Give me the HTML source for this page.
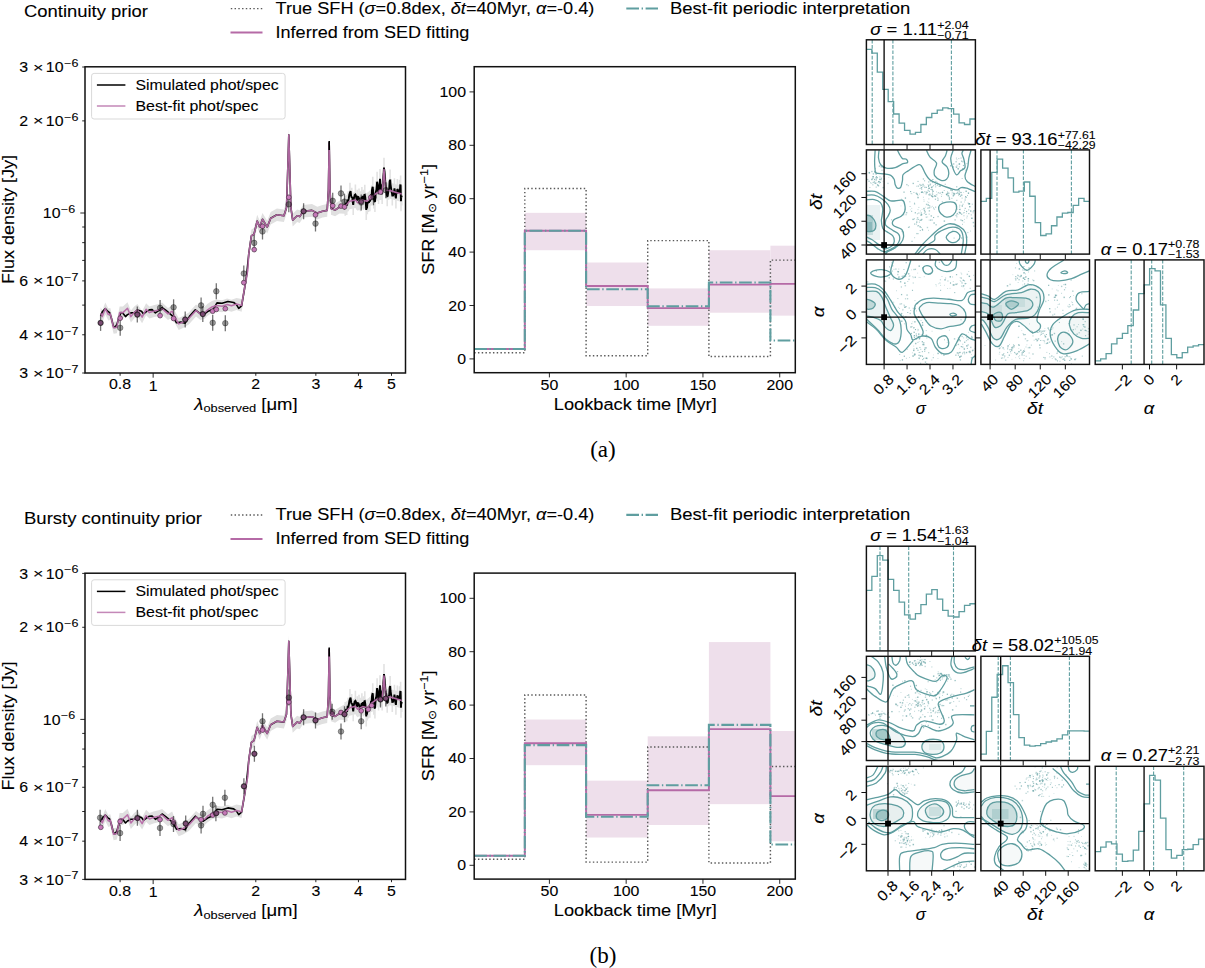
<!DOCTYPE html>
<html><head><meta charset="utf-8"><style>html,body{margin:0;padding:0;background:#fff;overflow:hidden}svg{display:block}</style></head><body>
<svg width="1205" height="968" viewBox="0 0 1205 968">
<defs>
<clipPath id="clip10"><rect x="866.4" y="149.9" width="109" height="104.2"/></clipPath>
<clipPath id="clip20"><rect x="866.4" y="259.9" width="109" height="104.5"/></clipPath>
<clipPath id="clip21"><rect x="980.9" y="259.9" width="108.6" height="104.5"/></clipPath>
<clipPath id="clipsed"><rect x="85" y="66.8" width="320.5" height="306.2"/></clipPath>
</defs>
<rect width="1205" height="968" fill="#fff"/>
<g transform="translate(0,0)">
<text x="24" y="17.4" text-anchor="start" fill="#000" stroke="#000" stroke-width="0.1" font-family="Liberation Sans" textLength="123.94" lengthAdjust="spacingAndGlyphs"><tspan font-size="16.52" dy="0">Continuity prior</tspan></text>
<line x1="230.8" y1="8.6" x2="262.5" y2="8.6" stroke="#5a5a5a" stroke-width="1.45" stroke-dasharray="1.45 2.3"/>
<text x="275.5" y="13.6" text-anchor="start" fill="#000" stroke="#000" stroke-width="0.1" font-family="Liberation Sans" textLength="318.86" lengthAdjust="spacingAndGlyphs"><tspan font-size="16.52" dy="0">True SFH (</tspan><tspan font-size="16.52" font-style="italic" dy="0">σ</tspan><tspan font-size="16.52" dy="0">=0.8dex, </tspan><tspan font-size="16.52" font-style="italic" dy="0">δt</tspan><tspan font-size="16.52" dy="0">=40Myr, </tspan><tspan font-size="16.52" font-style="italic" dy="0">α</tspan><tspan font-size="16.52" dy="0">=-0.4)</tspan></text>
<line x1="230.5" y1="32.5" x2="262.5" y2="32.5" stroke="#b56aa6" stroke-width="2" />
<text x="275.5" y="37.6" text-anchor="start" fill="#000" stroke="#000" stroke-width="0.1" font-family="Liberation Sans" textLength="193.81" lengthAdjust="spacingAndGlyphs"><tspan font-size="16.52" dy="0">Inferred from SED fitting</tspan></text>
<line x1="626.3" y1="8.5" x2="658" y2="8.5" stroke="#5f9ea0" stroke-width="2.1" stroke-dasharray="12.7 2.6 1.4 2.6"/>
<text x="670" y="13.6" text-anchor="start" fill="#000" stroke="#000" stroke-width="0.1" font-family="Liberation Sans" textLength="240.28" lengthAdjust="spacingAndGlyphs"><tspan font-size="16.52" dy="0">Best-fit periodic interpretation</tspan></text>
<g clip-path="url(#clipsed)">
<path d="M100.6 307.2 L102.3 310.6 L105.3 302.6 L108.3 308.6 L110.3 307.9 L113.6 321.8 L116.9 321.2 L119.6 306.6 L122.9 306.6 L127.5 302.3 L130.9 310.6 L134.2 306.6 L137.5 303.9 L142.1 311.2 L146.1 303.3 L149.4 306.6 L153.4 305.2 L158.7 303.9 L162.1 302.6 L168 307.9 L172.2 305.2 L173.6 308.8 L178.7 317.9 L183 316.1 L188.8 312.5 L196 304.5 L200.4 308.1 L204.7 306.7 L207.6 303.8 L212 300.9 L216.3 299.4 L222.1 300.2 L227.1 298.4 L231.5 299.8 L236.5 298 L241.6 299.1 L245.2 278.2 L247.8 263.7 L248.8 247.2 L251.4 229.6 L254 227.9 L257.2 214.7 L259.7 220.8 L262.5 212.9 L267.2 220.8 L270.7 212 L276.9 208.5 L283.9 209.4 L286.5 201.5 L287.9 158.7 L288.8 128.6 L289.7 158.7 L290.9 201.5 L292.7 213.8 L297.1 209.4 L299.7 210.3 L303.2 205 L312 204.1 L317.3 206.8 L322.5 205 L327.2 204.1 L328.4 183.7 L329.2 136.5 L330 183.7 L331 202.2 L335.1 203.7 L339.5 200.8 L345.3 197.7 L349.6 193.3 L355.4 191.9 L357.6 194.8 L362.6 192.2 L367 193.3 L371.3 189 L376.4 185.3 L380 183.9 L382.2 183.2 L383.2 172 L384 161.5 L384.8 172 L385.8 182.5 L390.1 182.5 L394.5 183.9 L401.7 186.1 L401.7 202.1 L394.5 199.9 L390.1 198.5 L385.8 198.5 L384.8 188 L384 177.5 L383.2 188 L382.2 199.2 L380 199.9 L376.4 201.3 L371.3 205 L367 209.3 L362.6 208.2 L357.6 210.8 L355.4 207.9 L349.6 209.3 L345.3 213.7 L339.5 213.4 L335.1 216.3 L331 214.8 L330 196.3 L329.2 149.1 L328.4 196.3 L327.2 216.7 L322.5 217.6 L317.3 219.4 L312 216.7 L303.2 217.6 L299.7 222.9 L297.1 222 L292.7 226.4 L290.9 214.1 L289.7 171.3 L288.8 141.2 L287.9 171.3 L286.5 214.1 L283.9 222 L276.9 221.1 L270.7 224.6 L267.2 233.4 L262.5 225.5 L259.7 233.4 L257.2 227.3 L254 240.5 L251.4 242.2 L248.8 259.8 L247.8 276.3 L245.2 290.8 L241.6 311.7 L236.5 310 L231.5 311.8 L227.1 310.4 L222.1 312.2 L216.3 311.4 L212 312.9 L207.6 315.8 L204.7 318.7 L200.4 320.1 L196 316.5 L188.8 324.5 L183 328.1 L178.7 329.9 L173.6 320.8 L172.2 317.2 L168 319.9 L162.1 314.6 L158.7 315.9 L153.4 317.2 L149.4 318.6 L146.1 315.3 L142.1 323.2 L137.5 315.9 L134.2 318.6 L130.9 322.6 L127.5 314.3 L122.9 318.6 L119.6 318.6 L116.9 333.2 L113.6 333.8 L110.3 319.9 L108.3 320.6 L105.3 314.6 L102.3 322.6 L100.6 319.2" stroke="none" stroke-width="0" fill="#e0e0e0" stroke-linejoin="round"/>
<line x1="345.26" y1="195.65" x2="345.26" y2="215.65" stroke="#e2e2e2" stroke-width="1.6" />
<line x1="346.71" y1="194.93" x2="346.71" y2="214.93" stroke="#e2e2e2" stroke-width="1.6" />
<line x1="348.15" y1="191.31" x2="348.15" y2="211.31" stroke="#e2e2e2" stroke-width="1.6" />
<line x1="349.96" y1="182.63" x2="349.96" y2="202.63" stroke="#e2e2e2" stroke-width="1.6" />
<line x1="351.77" y1="187.69" x2="351.77" y2="207.69" stroke="#e2e2e2" stroke-width="1.6" />
<line x1="353.22" y1="194.93" x2="353.22" y2="214.93" stroke="#e2e2e2" stroke-width="1.6" />
<line x1="355.39" y1="184.44" x2="355.39" y2="204.44" stroke="#e2e2e2" stroke-width="1.6" />
<line x1="357.2" y1="189.86" x2="357.2" y2="209.86" stroke="#e2e2e2" stroke-width="1.6" />
<line x1="359.01" y1="188.42" x2="359.01" y2="208.42" stroke="#e2e2e2" stroke-width="1.6" />
<line x1="360.46" y1="191.31" x2="360.46" y2="211.31" stroke="#e2e2e2" stroke-width="1.6" />
<line x1="361.9" y1="186.97" x2="361.9" y2="206.97" stroke="#e2e2e2" stroke-width="1.6" />
<line x1="363.35" y1="189.86" x2="363.35" y2="209.86" stroke="#e2e2e2" stroke-width="1.6" />
<line x1="364.8" y1="184.8" x2="364.8" y2="204.8" stroke="#e2e2e2" stroke-width="1.6" />
<line x1="366.24" y1="199.99" x2="366.24" y2="219.99" stroke="#e2e2e2" stroke-width="1.6" />
<line x1="367.33" y1="194.2" x2="367.33" y2="214.2" stroke="#e2e2e2" stroke-width="1.6" />
<line x1="368.42" y1="192.03" x2="368.42" y2="212.03" stroke="#e2e2e2" stroke-width="1.6" />
<line x1="369.86" y1="191.31" x2="369.86" y2="211.31" stroke="#e2e2e2" stroke-width="1.6" />
<line x1="371.67" y1="185.52" x2="371.67" y2="205.52" stroke="#e2e2e2" stroke-width="1.6" />
<line x1="372.76" y1="176.84" x2="372.76" y2="196.84" stroke="#e2e2e2" stroke-width="1.6" />
<line x1="373.84" y1="188.42" x2="373.84" y2="208.42" stroke="#e2e2e2" stroke-width="1.6" />
<line x1="374.93" y1="192.03" x2="374.93" y2="212.03" stroke="#e2e2e2" stroke-width="1.6" />
<line x1="376.01" y1="181.18" x2="376.01" y2="201.18" stroke="#e2e2e2" stroke-width="1.6" />
<line x1="377.1" y1="171.77" x2="377.1" y2="191.77" stroke="#e2e2e2" stroke-width="1.6" />
<line x1="378.55" y1="184.07" x2="378.55" y2="204.07" stroke="#e2e2e2" stroke-width="1.6" />
<line x1="379.99" y1="168.88" x2="379.99" y2="188.88" stroke="#e2e2e2" stroke-width="1.6" />
<line x1="381.08" y1="179.73" x2="381.08" y2="199.73" stroke="#e2e2e2" stroke-width="1.6" />
<line x1="382.16" y1="184.07" x2="382.16" y2="204.07" stroke="#e2e2e2" stroke-width="1.6" />
<line x1="383.97" y1="157.66" x2="383.97" y2="177.66" stroke="#e2e2e2" stroke-width="1.6" />
<line x1="385.78" y1="177.56" x2="385.78" y2="197.56" stroke="#e2e2e2" stroke-width="1.6" />
<line x1="387.23" y1="186.24" x2="387.23" y2="206.24" stroke="#e2e2e2" stroke-width="1.6" />
<line x1="388.68" y1="179.73" x2="388.68" y2="199.73" stroke="#e2e2e2" stroke-width="1.6" />
<line x1="390.12" y1="169.6" x2="390.12" y2="189.6" stroke="#e2e2e2" stroke-width="1.6" />
<line x1="391.21" y1="179.01" x2="391.21" y2="199.01" stroke="#e2e2e2" stroke-width="1.6" />
<line x1="392.29" y1="185.52" x2="392.29" y2="205.52" stroke="#e2e2e2" stroke-width="1.6" />
<line x1="394.46" y1="178.29" x2="394.46" y2="198.29" stroke="#e2e2e2" stroke-width="1.6" />
<line x1="395.91" y1="188.42" x2="395.91" y2="208.42" stroke="#e2e2e2" stroke-width="1.6" />
<line x1="397.36" y1="179.01" x2="397.36" y2="199.01" stroke="#e2e2e2" stroke-width="1.6" />
<line x1="399.53" y1="179.73" x2="399.53" y2="199.73" stroke="#e2e2e2" stroke-width="1.6" />
<line x1="400.62" y1="175.39" x2="400.62" y2="195.39" stroke="#e2e2e2" stroke-width="1.6" />
<line x1="400.98" y1="191.31" x2="400.98" y2="211.31" stroke="#e2e2e2" stroke-width="1.6" />
<line x1="401.7" y1="185.52" x2="401.7" y2="205.52" stroke="#e2e2e2" stroke-width="1.6" />
<path d="M100.6 315.6 L102.3 311.9 L105.3 308.6 L107.6 311.2 L109.6 312.6 L111.3 317.9 L113.3 325.9 L114.9 327.5 L116.9 324.5 L118.9 317.9 L120.9 312.6 L122.9 313.2 L125.5 316.6 L127.5 314.6 L130.9 312.9 L134.2 312.9 L137.5 309.9 L141.5 311.2 L143.5 313.9 L146.1 311.9 L149.4 309.9 L152.1 309.6 L155.4 312.9 L158.7 310.6 L162.1 307.6 L165.4 309.9 L168.7 312.6 L172.9 316.3 L176.5 322.8 L180.9 322.1 L185.2 323.2 L189.5 316.3 L195.3 309.8 L198.9 312.7 L203.3 314.8 L207.6 311.6 L213.4 309.1 L217 302.9 L222.1 303.3 L227.9 301.5 L233.7 302.5 L236.5 304.7 L238.7 308.3 L241.6 305.8 L244.5 288.8 L246.7 274.3 L248.8 253.5 L251.4 235.9 L254 234.2 L257.2 221 L259.7 227.1 L262.5 219.2 L267.2 227.1 L270.7 218.3 L276.9 214.8 L283.9 215.7 L286.5 207.8 L287.9 165 L288.8 134.9 L289.7 165 L290.9 207.8 L292.7 220.1 L297.1 215.7 L299.7 216.6 L303.2 211.3 L312 210.4 L317.3 213.1 L322.5 211.3 L327.2 210.4 L328.4 190 L329.2 142.8 L330 190 L331 208.5 L335.1 210 L339.5 207.1 L345.3 205.7" stroke="#000" stroke-width="1.6" fill="none" stroke-linejoin="round"/>
<path d="M345.26 205.65 L345.74 204.18 L346.23 202.72 L346.71 204.93 L347.19 204.78 L347.67 199.52 L348.15 201.31 L348.76 198.67 L349.36 194.58 L349.96 192.63 L350.57 191.22 L351.17 196.06 L351.77 197.69 L352.26 196.87 L352.74 202.05 L353.22 204.93 L353.94 198.42 L354.67 195.07 L355.39 194.44 L355.99 195.72 L356.6 200.34 L357.2 199.86 L357.8 196.75 L358.41 196.96 L359.01 198.42 L359.49 200.27 L359.97 203.48 L360.46 201.31 L360.94 200.4 L361.42 197.69 L361.9 196.97 L362.39 201.27 L362.87 195.72 L363.35 199.86 L363.83 200.68 L364.32 195.01 L364.8 194.8 L365.28 197.37 L365.76 202.25 L366.24 209.99 L366.61 206.72 L366.97 208.35 L367.33 204.2 L367.69 201.25 L368.05 203.33 L368.42 202.03 L368.9 202.76 L369.38 200.66 L369.86 201.31 L370.47 199.71 L371.07 194.39 L371.67 195.52 L372.03 189.54 L372.4 187.67 L372.76 186.84 L373.12 191.96 L373.48 194.05 L373.84 198.42 L374.2 198.32 L374.57 201.43 L374.93 202.03 L375.29 198.09 L375.65 193.4 L376.01 191.18 L376.37 190.1 L376.74 186.3 L377.1 181.77 L377.58 184.08 L378.06 190.49 L378.55 194.07 L379.03 189.19 L379.51 186.57 L379.99 178.88 L380.35 184.1 L380.72 184.63 L381.08 189.73 L381.44 194.54 L381.8 189.95 L382.16 194.07 L382.77 184.7 L383.37 178.27 L383.97 167.66 L384.58 171.86 L385.18 180.85 L385.78 187.56 L386.26 187.23 L386.75 194.53 L387.23 196.24 L387.71 195.93 L388.19 192.41 L388.68 189.73 L389.16 188.98 L389.64 181.68 L390.12 179.6 L390.48 184.1 L390.85 186.53 L391.21 189.01 L391.57 191.74 L391.93 193.04 L392.29 195.52 L393.02 195.49 L393.74 193.81 L394.46 188.29 L394.95 191.48 L395.43 196.19 L395.91 198.42 L396.39 192.2 L396.88 193.55 L397.36 189.01 L398.08 190.28 L398.81 192.94 L399.53 189.73 L399.89 190.54 L400.25 185.33 L400.62 185.39 L400.74 189.9 L400.86 197.18 L400.98 201.31 L401.22 196.04 L401.46 197.18 L401.7 195.52" stroke="#000" stroke-width="1.9" fill="none" stroke-linejoin="miter" stroke-miterlimit="2"/>
<path d="M383.4 180 L384 168 L384.6 180" stroke="#000" stroke-width="1.6" fill="none" />
<path d="M100.6 313.2 L102.3 316.6 L105.3 308.6 L108.3 314.6 L110.3 313.9 L113.6 327.8 L116.9 327.2 L119.6 312.6 L122.9 312.6 L127.5 308.3 L130.9 316.6 L134.2 312.6 L137.5 309.9 L142.1 317.2 L146.1 309.3 L149.4 312.6 L153.4 311.2 L158.7 309.9 L162.1 308.6 L168 313.9 L172.2 311.2 L173.6 314.8 L178.7 323.9 L183 322.1 L188.8 318.5 L196 310.5 L200.4 314.1 L204.7 312.7 L207.6 309.8 L212 306.9 L216.3 305.4 L222.1 306.2 L227.1 304.4 L231.5 305.8 L236.5 304 L241.6 305.4 L245.2 284.5 L247.8 270 L248.8 253.5 L251.4 235.9 L254 234.2 L257.2 221 L259.7 227.1 L262.5 219.2 L267.2 227.1 L270.7 218.3 L276.9 214.8 L283.9 215.7 L286.5 207.8 L287.9 165 L288.8 134.9 L289.7 165 L290.9 207.8 L292.7 220.1 L297.1 215.7 L299.7 216.6 L303.2 211.3 L312 210.4 L317.3 213.1 L322.5 211.3 L327.2 210.4 L328.4 190 L329.2 142.8 L330 190 L331 208.5 L335.1 210 L339.5 207.1 L345.3 205.7 L349.6 201.3 L355.4 199.9 L357.6 202.8 L362.6 200.2 L367 201.3 L371.3 197 L376.4 193.3 L380 191.9 L382.2 191.2 L383.2 180 L384 169.5 L384.8 180 L385.8 190.5 L390.1 190.5 L394.5 191.9 L401.7 194.1" stroke="#b56aa6" stroke-width="1.55" fill="none" stroke-linejoin="round" stroke-opacity="0.95"/>
<line x1="329.2" y1="141" x2="329.2" y2="150" stroke="#000" stroke-width="1.6" />
<line x1="100.6" y1="314.9" x2="100.6" y2="330.9" stroke="#000" stroke-width="1.3" stroke-opacity="0.55"/>
<line x1="120.2" y1="319.8" x2="120.2" y2="335.8" stroke="#000" stroke-width="1.3" stroke-opacity="0.55"/>
<line x1="137.3" y1="306.6" x2="137.3" y2="322.6" stroke="#000" stroke-width="1.3" stroke-opacity="0.55"/>
<line x1="160.1" y1="299.9" x2="160.1" y2="315.9" stroke="#000" stroke-width="1.3" stroke-opacity="0.55"/>
<line x1="173.6" y1="299.3" x2="173.6" y2="315.3" stroke="#000" stroke-width="1.3" stroke-opacity="0.55"/>
<line x1="185.2" y1="311.5" x2="185.2" y2="327.5" stroke="#000" stroke-width="1.3" stroke-opacity="0.55"/>
<line x1="201.1" y1="297.4" x2="201.1" y2="313.4" stroke="#000" stroke-width="1.3" stroke-opacity="0.55"/>
<line x1="202.8" y1="306.1" x2="202.8" y2="322.1" stroke="#000" stroke-width="1.3" stroke-opacity="0.55"/>
<line x1="212.7" y1="314.8" x2="212.7" y2="330.8" stroke="#000" stroke-width="1.3" stroke-opacity="0.55"/>
<line x1="216.3" y1="283.3" x2="216.3" y2="299.3" stroke="#000" stroke-width="1.3" stroke-opacity="0.55"/>
<line x1="225.3" y1="315.2" x2="225.3" y2="331.2" stroke="#000" stroke-width="1.3" stroke-opacity="0.55"/>
<line x1="243.8" y1="265.5" x2="243.8" y2="281.5" stroke="#000" stroke-width="1.3" stroke-opacity="0.55"/>
<line x1="254.2" y1="234.9" x2="254.2" y2="250.9" stroke="#000" stroke-width="1.3" stroke-opacity="0.55"/>
<line x1="262.5" y1="223.5" x2="262.5" y2="239.5" stroke="#000" stroke-width="1.3" stroke-opacity="0.55"/>
<line x1="288.8" y1="196.3" x2="288.8" y2="212.3" stroke="#000" stroke-width="1.3" stroke-opacity="0.55"/>
<line x1="303.6" y1="203.3" x2="303.6" y2="219.3" stroke="#000" stroke-width="1.3" stroke-opacity="0.55"/>
<line x1="315.5" y1="215.6" x2="315.5" y2="231.6" stroke="#000" stroke-width="1.3" stroke-opacity="0.55"/>
<line x1="332.7" y1="192.8" x2="332.7" y2="208.8" stroke="#000" stroke-width="1.3" stroke-opacity="0.55"/>
<line x1="341" y1="185.4" x2="341" y2="201.4" stroke="#000" stroke-width="1.3" stroke-opacity="0.55"/>
<line x1="344.5" y1="193.7" x2="344.5" y2="209.7" stroke="#000" stroke-width="1.3" stroke-opacity="0.55"/>
<line x1="361.2" y1="194.5" x2="361.2" y2="210.5" stroke="#000" stroke-width="1.3" stroke-opacity="0.55"/>
<line x1="373.5" y1="189.3" x2="373.5" y2="205.3" stroke="#000" stroke-width="1.3" stroke-opacity="0.55"/>
<line x1="385.8" y1="182.2" x2="385.8" y2="198.2" stroke="#000" stroke-width="1.3" stroke-opacity="0.55"/>
<circle cx="100.6" cy="322.9" r="2.4" fill="#c678b8" stroke="#4a3046" stroke-width="0.7"/>
<circle cx="120.2" cy="318.2" r="2.4" fill="#c678b8" stroke="#4a3046" stroke-width="0.7"/>
<circle cx="137.3" cy="314.6" r="2.4" fill="#c678b8" stroke="#4a3046" stroke-width="0.7"/>
<circle cx="160.1" cy="315.6" r="2.4" fill="#c678b8" stroke="#4a3046" stroke-width="0.7"/>
<circle cx="173.6" cy="318.5" r="2.4" fill="#c678b8" stroke="#4a3046" stroke-width="0.7"/>
<circle cx="185.2" cy="319.5" r="2.4" fill="#c678b8" stroke="#4a3046" stroke-width="0.7"/>
<circle cx="202.8" cy="314.1" r="2.4" fill="#c678b8" stroke="#4a3046" stroke-width="0.7"/>
<circle cx="212.7" cy="311.2" r="2.4" fill="#c678b8" stroke="#4a3046" stroke-width="0.7"/>
<circle cx="216.3" cy="309.4" r="2.4" fill="#c678b8" stroke="#4a3046" stroke-width="0.7"/>
<circle cx="225.3" cy="308.7" r="2.4" fill="#c678b8" stroke="#4a3046" stroke-width="0.7"/>
<circle cx="243.8" cy="282.6" r="2.4" fill="#c678b8" stroke="#4a3046" stroke-width="0.7"/>
<circle cx="254.2" cy="249.6" r="2.4" fill="#c678b8" stroke="#4a3046" stroke-width="0.7"/>
<circle cx="262.5" cy="226.3" r="2.4" fill="#c678b8" stroke="#4a3046" stroke-width="0.7"/>
<circle cx="288.8" cy="197.3" r="2.4" fill="#c678b8" stroke="#4a3046" stroke-width="0.7"/>
<circle cx="303.6" cy="211.3" r="2.4" fill="#c678b8" stroke="#4a3046" stroke-width="0.7"/>
<circle cx="315.5" cy="214.8" r="2.4" fill="#c678b8" stroke="#4a3046" stroke-width="0.7"/>
<circle cx="332.7" cy="205.7" r="2.4" fill="#c678b8" stroke="#4a3046" stroke-width="0.7"/>
<circle cx="341" cy="206.1" r="2.4" fill="#c678b8" stroke="#4a3046" stroke-width="0.7"/>
<circle cx="344.5" cy="206.9" r="2.4" fill="#c678b8" stroke="#4a3046" stroke-width="0.7"/>
<circle cx="361.2" cy="201.7" r="2.4" fill="#c678b8" stroke="#4a3046" stroke-width="0.7"/>
<circle cx="370.8" cy="197.3" r="2.4" fill="#c678b8" stroke="#4a3046" stroke-width="0.7"/>
<circle cx="380.5" cy="192" r="2.4" fill="#c678b8" stroke="#4a3046" stroke-width="0.7"/>
<circle cx="100.6" cy="322.9" r="2.8" fill="#000" fill-opacity="0.38" stroke="#000" stroke-opacity="0.4" stroke-width="0.8"/>
<circle cx="120.2" cy="327.8" r="2.8" fill="#000" fill-opacity="0.38" stroke="#000" stroke-opacity="0.4" stroke-width="0.8"/>
<circle cx="137.3" cy="314.6" r="2.8" fill="#000" fill-opacity="0.38" stroke="#000" stroke-opacity="0.4" stroke-width="0.8"/>
<circle cx="160.1" cy="307.9" r="2.8" fill="#000" fill-opacity="0.38" stroke="#000" stroke-opacity="0.4" stroke-width="0.8"/>
<circle cx="173.6" cy="307.3" r="2.8" fill="#000" fill-opacity="0.38" stroke="#000" stroke-opacity="0.4" stroke-width="0.8"/>
<circle cx="185.2" cy="319.5" r="2.8" fill="#000" fill-opacity="0.38" stroke="#000" stroke-opacity="0.4" stroke-width="0.8"/>
<circle cx="201.1" cy="305.4" r="2.8" fill="#000" fill-opacity="0.38" stroke="#000" stroke-opacity="0.4" stroke-width="0.8"/>
<circle cx="202.8" cy="314.1" r="2.8" fill="#000" fill-opacity="0.38" stroke="#000" stroke-opacity="0.4" stroke-width="0.8"/>
<circle cx="212.7" cy="322.8" r="2.8" fill="#000" fill-opacity="0.38" stroke="#000" stroke-opacity="0.4" stroke-width="0.8"/>
<circle cx="216.3" cy="291.3" r="2.8" fill="#000" fill-opacity="0.38" stroke="#000" stroke-opacity="0.4" stroke-width="0.8"/>
<circle cx="225.3" cy="323.2" r="2.8" fill="#000" fill-opacity="0.38" stroke="#000" stroke-opacity="0.4" stroke-width="0.8"/>
<circle cx="243.8" cy="273.5" r="2.8" fill="#000" fill-opacity="0.38" stroke="#000" stroke-opacity="0.4" stroke-width="0.8"/>
<circle cx="254.2" cy="242.9" r="2.8" fill="#000" fill-opacity="0.38" stroke="#000" stroke-opacity="0.4" stroke-width="0.8"/>
<circle cx="262.5" cy="231.5" r="2.8" fill="#000" fill-opacity="0.38" stroke="#000" stroke-opacity="0.4" stroke-width="0.8"/>
<circle cx="288.8" cy="204.3" r="2.8" fill="#000" fill-opacity="0.38" stroke="#000" stroke-opacity="0.4" stroke-width="0.8"/>
<circle cx="303.6" cy="211.3" r="2.8" fill="#000" fill-opacity="0.38" stroke="#000" stroke-opacity="0.4" stroke-width="0.8"/>
<circle cx="315.5" cy="223.6" r="2.8" fill="#000" fill-opacity="0.38" stroke="#000" stroke-opacity="0.4" stroke-width="0.8"/>
<circle cx="332.7" cy="200.8" r="2.8" fill="#000" fill-opacity="0.38" stroke="#000" stroke-opacity="0.4" stroke-width="0.8"/>
<circle cx="341" cy="193.4" r="2.8" fill="#000" fill-opacity="0.38" stroke="#000" stroke-opacity="0.4" stroke-width="0.8"/>
<circle cx="344.5" cy="201.7" r="2.8" fill="#000" fill-opacity="0.38" stroke="#000" stroke-opacity="0.4" stroke-width="0.8"/>
<circle cx="361.2" cy="202.5" r="2.8" fill="#000" fill-opacity="0.38" stroke="#000" stroke-opacity="0.4" stroke-width="0.8"/>
<circle cx="373.5" cy="197.3" r="2.8" fill="#000" fill-opacity="0.38" stroke="#000" stroke-opacity="0.4" stroke-width="0.8"/>
<circle cx="385.8" cy="190.2" r="2.8" fill="#000" fill-opacity="0.38" stroke="#000" stroke-opacity="0.4" stroke-width="0.8"/>
</g>
<line x1="120.1" y1="373" x2="120.1" y2="375.8" stroke="#111" stroke-width="0.9" />
<text x="120.1" y="389.2" text-anchor="middle" fill="#000" stroke="#000" stroke-width="0.1" font-family="Liberation Sans" textLength="22.11" lengthAdjust="spacingAndGlyphs"><tspan font-size="14.46" dy="0">0.8</tspan></text>
<line x1="153.15" y1="373" x2="153.15" y2="377.7" stroke="#111" stroke-width="0.9" />
<text x="153.15" y="390.5" text-anchor="middle" fill="#000" stroke="#000" stroke-width="0.1" font-family="Liberation Sans" textLength="8.84" lengthAdjust="spacingAndGlyphs"><tspan font-size="14.46" dy="0">1</tspan></text>
<line x1="255.8" y1="373" x2="255.8" y2="375.8" stroke="#111" stroke-width="0.9" />
<text x="255.8" y="389.2" text-anchor="middle" fill="#000" stroke="#000" stroke-width="0.1" font-family="Liberation Sans" textLength="8.84" lengthAdjust="spacingAndGlyphs"><tspan font-size="14.46" dy="0">2</tspan></text>
<line x1="315.85" y1="373" x2="315.85" y2="375.8" stroke="#111" stroke-width="0.9" />
<text x="315.85" y="389.2" text-anchor="middle" fill="#000" stroke="#000" stroke-width="0.1" font-family="Liberation Sans" textLength="8.84" lengthAdjust="spacingAndGlyphs"><tspan font-size="14.46" dy="0">3</tspan></text>
<line x1="358.45" y1="373" x2="358.45" y2="375.8" stroke="#111" stroke-width="0.9" />
<text x="358.45" y="389.2" text-anchor="middle" fill="#000" stroke="#000" stroke-width="0.1" font-family="Liberation Sans" textLength="8.84" lengthAdjust="spacingAndGlyphs"><tspan font-size="14.46" dy="0">4</tspan></text>
<line x1="391.5" y1="373" x2="391.5" y2="375.8" stroke="#111" stroke-width="0.9" />
<text x="391.5" y="389.2" text-anchor="middle" fill="#000" stroke="#000" stroke-width="0.1" font-family="Liberation Sans" textLength="8.84" lengthAdjust="spacingAndGlyphs"><tspan font-size="14.46" dy="0">5</tspan></text>
<line x1="82.2" y1="67" x2="85" y2="67" stroke="#111" stroke-width="0.9" />
<text x="19.3" y="72.2" text-anchor="start" fill="#000" stroke="#000" stroke-width="0.1" font-family="Liberation Sans" textLength="8.84" lengthAdjust="spacingAndGlyphs"><tspan font-size="14.46" dy="0">3</tspan></text>
<text x="32.9" y="71.6" text-anchor="start" fill="#000" stroke="#000" stroke-width="0.1" font-family="Liberation Sans" textLength="10.47" lengthAdjust="spacingAndGlyphs"><tspan font-size="13" dy="0">×</tspan></text>
<text x="63.5" y="72.2" text-anchor="end" fill="#000" stroke="#000" stroke-width="0.1" font-family="Liberation Sans" textLength="17.69" lengthAdjust="spacingAndGlyphs"><tspan font-size="14.46" dy="0">10</tspan></text>
<text x="64.2" y="66.8" text-anchor="start" fill="#000" stroke="#000" stroke-width="0.1" font-family="Liberation Sans" textLength="14.27" lengthAdjust="spacingAndGlyphs"><tspan font-size="10.09" dy="0">−6</tspan></text>
<line x1="82.2" y1="120.88" x2="85" y2="120.88" stroke="#111" stroke-width="0.9" />
<text x="19.3" y="126.08" text-anchor="start" fill="#000" stroke="#000" stroke-width="0.1" font-family="Liberation Sans" textLength="8.84" lengthAdjust="spacingAndGlyphs"><tspan font-size="14.46" dy="0">2</tspan></text>
<text x="32.9" y="125.48" text-anchor="start" fill="#000" stroke="#000" stroke-width="0.1" font-family="Liberation Sans" textLength="10.47" lengthAdjust="spacingAndGlyphs"><tspan font-size="13" dy="0">×</tspan></text>
<text x="63.5" y="126.08" text-anchor="end" fill="#000" stroke="#000" stroke-width="0.1" font-family="Liberation Sans" textLength="17.69" lengthAdjust="spacingAndGlyphs"><tspan font-size="14.46" dy="0">10</tspan></text>
<text x="64.2" y="120.68" text-anchor="start" fill="#000" stroke="#000" stroke-width="0.1" font-family="Liberation Sans" textLength="14.27" lengthAdjust="spacingAndGlyphs"><tspan font-size="10.09" dy="0">−6</tspan></text>
<line x1="80.3" y1="213" x2="85" y2="213" stroke="#111" stroke-width="0.9" />
<text x="60.5" y="218.2" text-anchor="end" fill="#000" stroke="#000" stroke-width="0.1" font-family="Liberation Sans" textLength="17.69" lengthAdjust="spacingAndGlyphs"><tspan font-size="14.46" dy="0">10</tspan></text>
<text x="61" y="212.7" text-anchor="start" fill="#000" stroke="#000" stroke-width="0.1" font-family="Liberation Sans" textLength="14.27" lengthAdjust="spacingAndGlyphs"><tspan font-size="10.09" dy="0">−6</tspan></text>
<line x1="82.2" y1="227" x2="85" y2="227" stroke="#111" stroke-width="0.9" />
<line x1="82.2" y1="242.65" x2="85" y2="242.65" stroke="#111" stroke-width="0.9" />
<line x1="82.2" y1="260.4" x2="85" y2="260.4" stroke="#111" stroke-width="0.9" />
<line x1="82.2" y1="280.88" x2="85" y2="280.88" stroke="#111" stroke-width="0.9" />
<text x="19.3" y="286.08" text-anchor="start" fill="#000" stroke="#000" stroke-width="0.1" font-family="Liberation Sans" textLength="8.84" lengthAdjust="spacingAndGlyphs"><tspan font-size="14.46" dy="0">6</tspan></text>
<text x="32.9" y="285.48" text-anchor="start" fill="#000" stroke="#000" stroke-width="0.1" font-family="Liberation Sans" textLength="10.47" lengthAdjust="spacingAndGlyphs"><tspan font-size="13" dy="0">×</tspan></text>
<text x="63.5" y="286.08" text-anchor="end" fill="#000" stroke="#000" stroke-width="0.1" font-family="Liberation Sans" textLength="17.69" lengthAdjust="spacingAndGlyphs"><tspan font-size="14.46" dy="0">10</tspan></text>
<text x="64.2" y="280.68" text-anchor="start" fill="#000" stroke="#000" stroke-width="0.1" font-family="Liberation Sans" textLength="14.27" lengthAdjust="spacingAndGlyphs"><tspan font-size="10.09" dy="0">−7</tspan></text>
<line x1="82.2" y1="305.11" x2="85" y2="305.11" stroke="#111" stroke-width="0.9" />
<line x1="82.2" y1="334.77" x2="85" y2="334.77" stroke="#111" stroke-width="0.9" />
<text x="19.3" y="339.97" text-anchor="start" fill="#000" stroke="#000" stroke-width="0.1" font-family="Liberation Sans" textLength="8.84" lengthAdjust="spacingAndGlyphs"><tspan font-size="14.46" dy="0">4</tspan></text>
<text x="32.9" y="339.37" text-anchor="start" fill="#000" stroke="#000" stroke-width="0.1" font-family="Liberation Sans" textLength="10.47" lengthAdjust="spacingAndGlyphs"><tspan font-size="13" dy="0">×</tspan></text>
<text x="63.5" y="339.97" text-anchor="end" fill="#000" stroke="#000" stroke-width="0.1" font-family="Liberation Sans" textLength="17.69" lengthAdjust="spacingAndGlyphs"><tspan font-size="14.46" dy="0">10</tspan></text>
<text x="64.2" y="334.57" text-anchor="start" fill="#000" stroke="#000" stroke-width="0.1" font-family="Liberation Sans" textLength="14.27" lengthAdjust="spacingAndGlyphs"><tspan font-size="10.09" dy="0">−7</tspan></text>
<line x1="82.2" y1="373" x2="85" y2="373" stroke="#111" stroke-width="0.9" />
<text x="19.3" y="378.2" text-anchor="start" fill="#000" stroke="#000" stroke-width="0.1" font-family="Liberation Sans" textLength="8.84" lengthAdjust="spacingAndGlyphs"><tspan font-size="14.46" dy="0">3</tspan></text>
<text x="32.9" y="377.6" text-anchor="start" fill="#000" stroke="#000" stroke-width="0.1" font-family="Liberation Sans" textLength="10.47" lengthAdjust="spacingAndGlyphs"><tspan font-size="13" dy="0">×</tspan></text>
<text x="63.5" y="378.2" text-anchor="end" fill="#000" stroke="#000" stroke-width="0.1" font-family="Liberation Sans" textLength="17.69" lengthAdjust="spacingAndGlyphs"><tspan font-size="14.46" dy="0">10</tspan></text>
<text x="64.2" y="372.8" text-anchor="start" fill="#000" stroke="#000" stroke-width="0.1" font-family="Liberation Sans" textLength="14.27" lengthAdjust="spacingAndGlyphs"><tspan font-size="10.09" dy="0">−7</tspan></text>
<rect x="85" y="66.8" width="320.5" height="306.2" stroke="#111" stroke-width="1.5" fill="none" />
<text x="194.3" y="409.7" text-anchor="start" fill="#000" stroke="#000" stroke-width="0.1" font-family="Liberation Sans" textLength="103.38" lengthAdjust="spacingAndGlyphs"><tspan font-size="16.52" font-style="italic" dy="0">λ</tspan><tspan font-size="11.44" dy="2.5">observed</tspan><tspan font-size="16.52" dy="-2.5"> [μm]</tspan></text>
<text x="14.3" y="219.6" text-anchor="middle" fill="#000" stroke="#000" stroke-width="0.1" font-family="Liberation Sans" textLength="129" lengthAdjust="spacingAndGlyphs" transform="rotate(-90 14.3 219.6)"><tspan font-size="16.52" dy="0">Flux density [Jy]</tspan></text>
<rect x="91.6" y="73.4" width="193.5" height="45.6" rx="2.5" fill="#fff" fill-opacity="0.8" stroke="#d9d9d9" stroke-width="1"/>
<line x1="96.9" y1="85" x2="125.4" y2="85" stroke="#000" stroke-width="1.5" />
<line x1="96.9" y1="106" x2="125.4" y2="106" stroke="#b56aa6" stroke-width="1.5" stroke-opacity="0.8"/>
<text x="135.5" y="89.6" text-anchor="start" fill="#000" stroke="#000" stroke-width="0.1" font-family="Liberation Sans" textLength="143.09" lengthAdjust="spacingAndGlyphs"><tspan font-size="14.46" dy="0">Simulated phot/spec</tspan></text>
<text x="135.5" y="110.8" text-anchor="start" fill="#000" stroke="#000" stroke-width="0.1" font-family="Liberation Sans" textLength="122.89" lengthAdjust="spacingAndGlyphs"><tspan font-size="14.46" dy="0">Best-fit phot/spec</tspan></text>
<rect x="474.2" y="349.02" width="50.6" height="0" stroke="none" stroke-width="0" fill="#eedfeb" />
<rect x="524.8" y="212.85" width="61.3" height="37.38" stroke="none" stroke-width="0" fill="#eedfeb" />
<rect x="586.1" y="262.51" width="61.6" height="43.52" stroke="none" stroke-width="0" fill="#eedfeb" />
<rect x="647.7" y="288.41" width="61.2" height="37.38" stroke="none" stroke-width="0" fill="#eedfeb" />
<rect x="708.9" y="250.23" width="61.5" height="62.48" stroke="none" stroke-width="0" fill="#eedfeb" />
<rect x="770.4" y="245.69" width="24.9" height="69.95" stroke="none" stroke-width="0" fill="#eedfeb" />
<path d="M474.2 352.76 L524.8 352.76 L524.8 188.55 L586.1 188.55 L586.1 355.7 L647.7 355.7 L647.7 240.62 L708.9 240.62 L708.9 356.5 L770.4 356.5 L770.4 260.11 L795.3 260.11" stroke="#5a5a5a" stroke-width="1.45" fill="none" stroke-dasharray="1.45 2.3"/>
<path d="M474.2 349.02 L524.8 349.02 L524.8 230.74 L586.1 230.74 L586.1 286.01 L647.7 286.01 L647.7 308.17 L708.9 308.17 L708.9 284.67 L770.4 284.67 L770.4 283.87 L795.3 283.87" stroke="#b56aa6" stroke-width="1.9" fill="none" />
<path d="M474.2 349.02 L524.8 349.02 L524.8 230.74 L586.1 230.74 L586.1 289.21 L647.7 289.21 L647.7 306.3 L708.9 306.3 L708.9 282.54 L770.4 282.54 L770.4 340.48 L795.3 340.48" stroke="#5f9ea0" stroke-width="2.1" fill="none" stroke-dasharray="12.7 2.6 1.4 2.6"/>
<line x1="469.5" y1="358.9" x2="474.2" y2="358.9" stroke="#111" stroke-width="0.9" />
<text x="466" y="363.9" text-anchor="end" fill="#000" stroke="#000" stroke-width="0.1" font-family="Liberation Sans" textLength="8.84" lengthAdjust="spacingAndGlyphs"><tspan font-size="14.46" dy="0">0</tspan></text>
<line x1="469.5" y1="305.5" x2="474.2" y2="305.5" stroke="#111" stroke-width="0.9" />
<text x="466" y="310.5" text-anchor="end" fill="#000" stroke="#000" stroke-width="0.1" font-family="Liberation Sans" textLength="17.69" lengthAdjust="spacingAndGlyphs"><tspan font-size="14.46" dy="0">20</tspan></text>
<line x1="469.5" y1="252.1" x2="474.2" y2="252.1" stroke="#111" stroke-width="0.9" />
<text x="466" y="257.1" text-anchor="end" fill="#000" stroke="#000" stroke-width="0.1" font-family="Liberation Sans" textLength="17.69" lengthAdjust="spacingAndGlyphs"><tspan font-size="14.46" dy="0">40</tspan></text>
<line x1="469.5" y1="198.7" x2="474.2" y2="198.7" stroke="#111" stroke-width="0.9" />
<text x="466" y="203.7" text-anchor="end" fill="#000" stroke="#000" stroke-width="0.1" font-family="Liberation Sans" textLength="17.69" lengthAdjust="spacingAndGlyphs"><tspan font-size="14.46" dy="0">60</tspan></text>
<line x1="469.5" y1="145.3" x2="474.2" y2="145.3" stroke="#111" stroke-width="0.9" />
<text x="466" y="150.3" text-anchor="end" fill="#000" stroke="#000" stroke-width="0.1" font-family="Liberation Sans" textLength="17.69" lengthAdjust="spacingAndGlyphs"><tspan font-size="14.46" dy="0">80</tspan></text>
<line x1="469.5" y1="91.9" x2="474.2" y2="91.9" stroke="#111" stroke-width="0.9" />
<text x="466" y="96.9" text-anchor="end" fill="#000" stroke="#000" stroke-width="0.1" font-family="Liberation Sans" textLength="26.53" lengthAdjust="spacingAndGlyphs"><tspan font-size="14.46" dy="0">100</tspan></text>
<line x1="549.4" y1="372.7" x2="549.4" y2="377.4" stroke="#111" stroke-width="0.9" />
<text x="549.4" y="390.1" text-anchor="middle" fill="#000" stroke="#000" stroke-width="0.1" font-family="Liberation Sans" textLength="17.69" lengthAdjust="spacingAndGlyphs"><tspan font-size="14.46" dy="0">50</tspan></text>
<line x1="626.17" y1="372.7" x2="626.17" y2="377.4" stroke="#111" stroke-width="0.9" />
<text x="626.17" y="390.1" text-anchor="middle" fill="#000" stroke="#000" stroke-width="0.1" font-family="Liberation Sans" textLength="26.53" lengthAdjust="spacingAndGlyphs"><tspan font-size="14.46" dy="0">100</tspan></text>
<line x1="702.95" y1="372.7" x2="702.95" y2="377.4" stroke="#111" stroke-width="0.9" />
<text x="702.95" y="390.1" text-anchor="middle" fill="#000" stroke="#000" stroke-width="0.1" font-family="Liberation Sans" textLength="26.53" lengthAdjust="spacingAndGlyphs"><tspan font-size="14.46" dy="0">150</tspan></text>
<line x1="779.73" y1="372.7" x2="779.73" y2="377.4" stroke="#111" stroke-width="0.9" />
<text x="779.73" y="390.1" text-anchor="middle" fill="#000" stroke="#000" stroke-width="0.1" font-family="Liberation Sans" textLength="26.53" lengthAdjust="spacingAndGlyphs"><tspan font-size="14.46" dy="0">200</tspan></text>
<rect x="474.2" y="66.7" width="321.1" height="306" stroke="#111" stroke-width="1.5" fill="none" />
<text x="635.3" y="409.5" text-anchor="middle" fill="#000" stroke="#000" stroke-width="0.1" font-family="Liberation Sans" textLength="162.88" lengthAdjust="spacingAndGlyphs"><tspan font-size="16.52" dy="0">Lookback time [Myr]</tspan></text>
<text x="433.6" y="219.4" text-anchor="middle" fill="#000" stroke="#000" stroke-width="0.1" font-family="Liberation Sans" textLength="110.78" lengthAdjust="spacingAndGlyphs" transform="rotate(-90 433.6 219.4)"><tspan font-size="16.52" dy="0">SFR [M</tspan><tspan font-size="11.44" dy="2">⊙</tspan><tspan font-size="16.52" dy="-2"> yr</tspan><tspan font-size="11.44" dy="-5.5">−1</tspan><tspan font-size="16.52" dy="5.5">]</tspan></text>
<path d="M866.4 49.29 L871.85 49.29 L871.85 53.11 L877.3 53.11 L877.3 72.2 L882.75 72.2 L882.75 89.29 L888.2 89.29 L888.2 101.58 L893.65 101.58 L893.65 114.02 L899.1 114.02 L899.1 123.15 L904.55 123.15 L904.55 130.29 L910 130.29 L910 134.11 L915.45 134.11 L915.45 132.28 L920.9 132.28 L920.9 124.48 L926.35 124.48 L926.35 117.51 L931.8 117.51 L931.8 113.36 L937.25 113.36 L937.25 110.04 L942.7 110.04 L942.7 107.88 L948.15 107.88 L948.15 108.71 L953.6 108.71 L953.6 114.19 L959.05 114.19 L959.05 122.82 L964.5 122.82 L964.5 124.48 L969.95 124.48 L969.95 119 L975.4 119" stroke="#5f9ea0" stroke-width="1.3" fill="none" />
<line x1="872.2" y1="39.8" x2="872.2" y2="144.5" stroke="#5f9ea0" stroke-width="1.1" stroke-dasharray="3.7 1.6"/>
<line x1="892.9" y1="39.8" x2="892.9" y2="144.5" stroke="#5f9ea0" stroke-width="1.1" stroke-dasharray="3.7 1.6"/>
<line x1="951.4" y1="39.8" x2="951.4" y2="144.5" stroke="#5f9ea0" stroke-width="1.1" stroke-dasharray="3.7 1.6"/>
<line x1="884.1" y1="39.8" x2="884.1" y2="144.5" stroke="#000" stroke-width="1.3" />
<path d="M980.9 201.33 L986.33 201.33 L986.33 198.28 L991.76 198.28 L991.76 172.46 L997.19 172.46 L997.19 159.04 L1002.62 159.04 L1002.62 168.19 L1008.05 168.19 L1008.05 177.95 L1013.48 177.95 L1013.48 192.18 L1018.91 192.18 L1018.91 191.17 L1024.34 191.17 L1024.34 182.02 L1029.77 182.02 L1029.77 196.25 L1035.2 196.25 L1035.2 222.68 L1040.63 222.68 L1040.63 235.49 L1046.06 235.49 L1046.06 233.87 L1051.49 233.87 L1051.49 225.73 L1056.92 225.73 L1056.92 216.99 L1062.35 216.99 L1062.35 213.13 L1067.78 213.13 L1067.78 212.52 L1073.21 212.52 L1073.21 205.4 L1078.64 205.4 L1078.64 198.28 L1084.07 198.28 L1084.07 201.33 L1089.5 201.33" stroke="#5f9ea0" stroke-width="1.3" fill="none" />
<line x1="997" y1="149.9" x2="997" y2="254.1" stroke="#5f9ea0" stroke-width="1.1" stroke-dasharray="3.7 1.6"/>
<line x1="1023.4" y1="149.9" x2="1023.4" y2="254.1" stroke="#5f9ea0" stroke-width="1.1" stroke-dasharray="3.7 1.6"/>
<line x1="1071.4" y1="149.9" x2="1071.4" y2="254.1" stroke="#5f9ea0" stroke-width="1.1" stroke-dasharray="3.7 1.6"/>
<line x1="990.1" y1="149.9" x2="990.1" y2="254.1" stroke="#000" stroke-width="1.3" />
<path d="M1095.2 360.82 L1100.64 360.82 L1100.64 358.78 L1106.08 358.78 L1106.08 353.7 L1111.52 353.7 L1111.52 343.94 L1116.96 343.94 L1116.96 338.45 L1122.4 338.45 L1122.4 333.37 L1127.84 333.37 L1127.84 325.64 L1133.28 325.64 L1133.28 309.98 L1138.72 309.98 L1138.72 293.72 L1144.16 293.72 L1144.16 284.97 L1149.6 284.97 L1149.6 268.71 L1155.04 268.71 L1155.04 270.94 L1160.48 270.94 L1160.48 304.9 L1165.92 304.9 L1165.92 338.45 L1171.36 338.45 L1171.36 354.72 L1176.8 354.72 L1176.8 357.77 L1182.24 357.77 L1182.24 352.68 L1187.68 352.68 L1187.68 347.19 L1193.12 347.19 L1193.12 345.97 L1198.56 345.97 L1198.56 344.55 L1204 344.55" stroke="#5f9ea0" stroke-width="1.3" fill="none" />
<line x1="1131.2" y1="259.9" x2="1131.2" y2="364.4" stroke="#5f9ea0" stroke-width="1.1" stroke-dasharray="3.7 1.6"/>
<line x1="1151.7" y1="259.9" x2="1151.7" y2="364.4" stroke="#5f9ea0" stroke-width="1.1" stroke-dasharray="3.7 1.6"/>
<line x1="1162.7" y1="259.9" x2="1162.7" y2="364.4" stroke="#5f9ea0" stroke-width="1.1" stroke-dasharray="3.7 1.6"/>
<line x1="1144.07" y1="259.9" x2="1144.07" y2="364.4" stroke="#000" stroke-width="1.3" />
<g clip-path="url(#clip10)">
<rect x="866.4" y="205" width="13.6" height="35" fill="#5f9ea0" fill-opacity="0.13"/>
<rect x="866.4" y="215" width="6.6" height="20" fill="#5f9ea0" fill-opacity="0.25"/>
<rect x="866.4" y="222" width="5.6" height="10" fill="#5f9ea0" fill-opacity="0.4"/>
<path d="M866.73 215.22 C867.29 215.34 868.89 215.11 870.13 215.9 C871.38 216.7 873.26 218.4 874.22 219.99 C875.19 221.58 875.93 223.74 875.93 225.45 C875.93 227.15 875.3 229.2 874.22 230.22 C873.15 231.24 870.7 231.41 869.45 231.58 C868.2 231.75 867.18 231.3 866.73 231.24" stroke="none" stroke-width="0" fill="#5f9ea0" fill-opacity="0.28"/>
<rect x="872.07" y="176.27" width="1.16" height="1.16" fill="#5f9ea0" fill-opacity="0.43"/>
<rect x="881.41" y="169.7" width="1.22" height="1.22" fill="#5f9ea0" fill-opacity="0.41"/>
<rect x="872.46" y="178.07" width="0.9" height="0.9" fill="#5f9ea0" fill-opacity="0.73"/>
<rect x="879.07" y="178.64" width="1.39" height="1.39" fill="#5f9ea0" fill-opacity="0.59"/>
<rect x="874.03" y="181.57" width="1.24" height="1.24" fill="#5f9ea0" fill-opacity="0.53"/>
<rect x="874.16" y="171.59" width="0.81" height="0.81" fill="#5f9ea0" fill-opacity="0.66"/>
<rect x="892.02" y="177.15" width="1.19" height="1.19" fill="#5f9ea0" fill-opacity="0.37"/>
<rect x="880.38" y="178.75" width="1.45" height="1.45" fill="#5f9ea0" fill-opacity="0.47"/>
<rect x="869.44" y="187.01" width="0.95" height="0.95" fill="#5f9ea0" fill-opacity="0.57"/>
<rect x="875.5" y="179.42" width="1.17" height="1.17" fill="#5f9ea0" fill-opacity="0.69"/>
<rect x="879.59" y="181.78" width="1.03" height="1.03" fill="#5f9ea0" fill-opacity="0.36"/>
<rect x="867.09" y="178.88" width="1.23" height="1.23" fill="#5f9ea0" fill-opacity="0.56"/>
<rect x="879.33" y="176.32" width="1.15" height="1.15" fill="#5f9ea0" fill-opacity="0.5"/>
<rect x="875.19" y="177.15" width="1.32" height="1.32" fill="#5f9ea0" fill-opacity="0.39"/>
<rect x="882.46" y="186.89" width="1.46" height="1.46" fill="#5f9ea0" fill-opacity="0.52"/>
<rect x="873.79" y="180.69" width="0.92" height="0.92" fill="#5f9ea0" fill-opacity="0.6"/>
<rect x="878.61" y="181.05" width="1.06" height="1.06" fill="#5f9ea0" fill-opacity="0.42"/>
<rect x="871.24" y="170.87" width="1.32" height="1.32" fill="#5f9ea0" fill-opacity="0.54"/>
<rect x="873.96" y="183.24" width="0.7" height="0.7" fill="#5f9ea0" fill-opacity="0.64"/>
<rect x="874.98" y="182.67" width="0.76" height="0.76" fill="#5f9ea0" fill-opacity="0.53"/>
<rect x="872.57" y="176.09" width="1.4" height="1.4" fill="#5f9ea0" fill-opacity="0.62"/>
<rect x="877.75" y="185.05" width="1.43" height="1.43" fill="#5f9ea0" fill-opacity="0.56"/>
<rect x="875.78" y="177.55" width="1.09" height="1.09" fill="#5f9ea0" fill-opacity="0.53"/>
<rect x="872.65" y="181.85" width="1.17" height="1.17" fill="#5f9ea0" fill-opacity="0.57"/>
<rect x="874.03" y="178.87" width="1.05" height="1.05" fill="#5f9ea0" fill-opacity="0.74"/>
<rect x="876.1" y="179.39" width="0.7" height="0.7" fill="#5f9ea0" fill-opacity="0.56"/>
<rect x="879.72" y="179.4" width="0.79" height="0.79" fill="#5f9ea0" fill-opacity="0.53"/>
<rect x="883.8" y="178.4" width="1.07" height="1.07" fill="#5f9ea0" fill-opacity="0.52"/>
<rect x="871.31" y="178.64" width="1.28" height="1.28" fill="#5f9ea0" fill-opacity="0.71"/>
<rect x="875.5" y="173.48" width="1.22" height="1.22" fill="#5f9ea0" fill-opacity="0.71"/>
<rect x="879.72" y="181.84" width="1.2" height="1.2" fill="#5f9ea0" fill-opacity="0.62"/>
<rect x="872.74" y="173.23" width="1.36" height="1.36" fill="#5f9ea0" fill-opacity="0.54"/>
<rect x="882.44" y="166.15" width="1.05" height="1.05" fill="#5f9ea0" fill-opacity="0.69"/>
<rect x="875.07" y="167.94" width="0.74" height="0.74" fill="#5f9ea0" fill-opacity="0.72"/>
<rect x="878.89" y="165.36" width="1.49" height="1.49" fill="#5f9ea0" fill-opacity="0.46"/>
<rect x="875.9" y="176.15" width="1.18" height="1.18" fill="#5f9ea0" fill-opacity="0.72"/>
<rect x="879.23" y="183.21" width="0.76" height="0.76" fill="#5f9ea0" fill-opacity="0.43"/>
<rect x="878.04" y="180.94" width="1.5" height="1.5" fill="#5f9ea0" fill-opacity="0.71"/>
<rect x="868.42" y="180.62" width="1.26" height="1.26" fill="#5f9ea0" fill-opacity="0.56"/>
<rect x="870.08" y="182.25" width="1.14" height="1.14" fill="#5f9ea0" fill-opacity="0.46"/>
<rect x="872.23" y="184.21" width="1.2" height="1.2" fill="#5f9ea0" fill-opacity="0.43"/>
<rect x="868.61" y="171.89" width="1.4" height="1.4" fill="#5f9ea0" fill-opacity="0.61"/>
<rect x="882.68" y="181.02" width="0.77" height="0.77" fill="#5f9ea0" fill-opacity="0.37"/>
<rect x="877.2" y="184.45" width="1.31" height="1.31" fill="#5f9ea0" fill-opacity="0.6"/>
<rect x="875.64" y="186.57" width="1.11" height="1.11" fill="#5f9ea0" fill-opacity="0.55"/>
<rect x="876.87" y="184.3" width="0.97" height="0.97" fill="#5f9ea0" fill-opacity="0.64"/>
<rect x="871.35" y="179.3" width="1.08" height="1.08" fill="#5f9ea0" fill-opacity="0.54"/>
<rect x="874.09" y="170.93" width="1.34" height="1.34" fill="#5f9ea0" fill-opacity="0.51"/>
<rect x="881.28" y="165.65" width="1.49" height="1.49" fill="#5f9ea0" fill-opacity="0.64"/>
<rect x="887.3" y="182.73" width="1.37" height="1.37" fill="#5f9ea0" fill-opacity="0.36"/>
<rect x="875.08" y="182.75" width="1.29" height="1.29" fill="#5f9ea0" fill-opacity="0.59"/>
<rect x="876.66" y="181.96" width="0.83" height="0.83" fill="#5f9ea0" fill-opacity="0.39"/>
<rect x="880.68" y="166.82" width="0.88" height="0.88" fill="#5f9ea0" fill-opacity="0.65"/>
<rect x="880.85" y="177.64" width="1.16" height="1.16" fill="#5f9ea0" fill-opacity="0.53"/>
<rect x="888.5" y="177.01" width="0.71" height="0.71" fill="#5f9ea0" fill-opacity="0.43"/>
<rect x="881.59" y="173.1" width="1.12" height="1.12" fill="#5f9ea0" fill-opacity="0.67"/>
<rect x="878.61" y="165.72" width="0.96" height="0.96" fill="#5f9ea0" fill-opacity="0.37"/>
<rect x="876.75" y="177.11" width="1.15" height="1.15" fill="#5f9ea0" fill-opacity="0.69"/>
<rect x="871.35" y="182.95" width="0.84" height="0.84" fill="#5f9ea0" fill-opacity="0.41"/>
<rect x="868.62" y="172.21" width="1.5" height="1.5" fill="#5f9ea0" fill-opacity="0.36"/>
<rect x="883.25" y="175.7" width="0.98" height="0.98" fill="#5f9ea0" fill-opacity="0.51"/>
<rect x="872.84" y="176.4" width="0.82" height="0.82" fill="#5f9ea0" fill-opacity="0.7"/>
<rect x="875.32" y="171.77" width="1.28" height="1.28" fill="#5f9ea0" fill-opacity="0.74"/>
<rect x="937.21" y="199.66" width="1.36" height="1.36" fill="#5f9ea0" fill-opacity="0.49"/>
<rect x="919.53" y="188.16" width="0.86" height="0.86" fill="#5f9ea0" fill-opacity="0.52"/>
<rect x="941.8" y="200.98" width="0.85" height="0.85" fill="#5f9ea0" fill-opacity="0.6"/>
<rect x="906.17" y="183.95" width="1.33" height="1.33" fill="#5f9ea0" fill-opacity="0.49"/>
<rect x="927.11" y="191.64" width="0.74" height="0.74" fill="#5f9ea0" fill-opacity="0.47"/>
<rect x="932.11" y="189.84" width="0.84" height="0.84" fill="#5f9ea0" fill-opacity="0.6"/>
<rect x="925.4" y="193.13" width="1.46" height="1.46" fill="#5f9ea0" fill-opacity="0.37"/>
<rect x="921.13" y="186.98" width="0.98" height="0.98" fill="#5f9ea0" fill-opacity="0.43"/>
<rect x="934.25" y="195.24" width="1.3" height="1.3" fill="#5f9ea0" fill-opacity="0.54"/>
<rect x="932.56" y="179.1" width="0.84" height="0.84" fill="#5f9ea0" fill-opacity="0.7"/>
<rect x="920.68" y="187.53" width="1.11" height="1.11" fill="#5f9ea0" fill-opacity="0.71"/>
<rect x="925.99" y="191.95" width="1.47" height="1.47" fill="#5f9ea0" fill-opacity="0.4"/>
<rect x="941.04" y="195.93" width="0.95" height="0.95" fill="#5f9ea0" fill-opacity="0.47"/>
<rect x="917.55" y="180.9" width="0.98" height="0.98" fill="#5f9ea0" fill-opacity="0.71"/>
<rect x="919.85" y="185.17" width="1.13" height="1.13" fill="#5f9ea0" fill-opacity="0.35"/>
<rect x="936.98" y="197.41" width="1.25" height="1.25" fill="#5f9ea0" fill-opacity="0.39"/>
<rect x="922.3" y="185.59" width="1.16" height="1.16" fill="#5f9ea0" fill-opacity="0.51"/>
<rect x="931.02" y="195.51" width="1.48" height="1.48" fill="#5f9ea0" fill-opacity="0.43"/>
<rect x="936.77" y="185.16" width="0.76" height="0.76" fill="#5f9ea0" fill-opacity="0.67"/>
<rect x="947.08" y="191.54" width="0.97" height="0.97" fill="#5f9ea0" fill-opacity="0.72"/>
<rect x="927.98" y="185.19" width="1.2" height="1.2" fill="#5f9ea0" fill-opacity="0.74"/>
<rect x="932.29" y="193.72" width="0.93" height="0.93" fill="#5f9ea0" fill-opacity="0.68"/>
<rect x="929.39" y="194.58" width="1.19" height="1.19" fill="#5f9ea0" fill-opacity="0.58"/>
<rect x="918.86" y="193.84" width="0.72" height="0.72" fill="#5f9ea0" fill-opacity="0.35"/>
<rect x="932.37" y="190.71" width="1.32" height="1.32" fill="#5f9ea0" fill-opacity="0.74"/>
<rect x="935.83" y="194.27" width="0.71" height="0.71" fill="#5f9ea0" fill-opacity="0.52"/>
<rect x="922.32" y="183.76" width="1.42" height="1.42" fill="#5f9ea0" fill-opacity="0.57"/>
<rect x="937.9" y="192.15" width="1.07" height="1.07" fill="#5f9ea0" fill-opacity="0.48"/>
<rect x="942.17" y="192.07" width="1.09" height="1.09" fill="#5f9ea0" fill-opacity="0.63"/>
<rect x="926.88" y="191.99" width="0.91" height="0.91" fill="#5f9ea0" fill-opacity="0.42"/>
<rect x="923.98" y="191.17" width="0.76" height="0.76" fill="#5f9ea0" fill-opacity="0.56"/>
<rect x="932.06" y="192.41" width="0.8" height="0.8" fill="#5f9ea0" fill-opacity="0.63"/>
<rect x="935.23" y="180.86" width="1.16" height="1.16" fill="#5f9ea0" fill-opacity="0.6"/>
<rect x="929.48" y="184.5" width="1.11" height="1.11" fill="#5f9ea0" fill-opacity="0.64"/>
<rect x="920.66" y="184.69" width="1.22" height="1.22" fill="#5f9ea0" fill-opacity="0.56"/>
<rect x="931.06" y="195.03" width="1.25" height="1.25" fill="#5f9ea0" fill-opacity="0.52"/>
<rect x="934.99" y="186.19" width="1.24" height="1.24" fill="#5f9ea0" fill-opacity="0.4"/>
<rect x="923.63" y="200.75" width="0.84" height="0.84" fill="#5f9ea0" fill-opacity="0.6"/>
<rect x="941.96" y="191.71" width="1.06" height="1.06" fill="#5f9ea0" fill-opacity="0.71"/>
<rect x="936.66" y="181.84" width="0.97" height="0.97" fill="#5f9ea0" fill-opacity="0.62"/>
<rect x="935.4" y="195.73" width="1.01" height="1.01" fill="#5f9ea0" fill-opacity="0.54"/>
<rect x="928.27" y="194.19" width="1.12" height="1.12" fill="#5f9ea0" fill-opacity="0.61"/>
<rect x="907.76" y="185.09" width="1.15" height="1.15" fill="#5f9ea0" fill-opacity="0.41"/>
<rect x="924.08" y="186.61" width="1.45" height="1.45" fill="#5f9ea0" fill-opacity="0.4"/>
<rect x="915.66" y="192.58" width="1.48" height="1.48" fill="#5f9ea0" fill-opacity="0.56"/>
<rect x="917.37" y="196.99" width="1.33" height="1.33" fill="#5f9ea0" fill-opacity="0.72"/>
<rect x="928.38" y="187.52" width="1.49" height="1.49" fill="#5f9ea0" fill-opacity="0.72"/>
<rect x="916.57" y="193.62" width="1.37" height="1.37" fill="#5f9ea0" fill-opacity="0.72"/>
<rect x="928.56" y="187.99" width="0.75" height="0.75" fill="#5f9ea0" fill-opacity="0.5"/>
<rect x="921.43" y="191.7" width="1.3" height="1.3" fill="#5f9ea0" fill-opacity="0.66"/>
<rect x="917.49" y="195.47" width="0.85" height="0.85" fill="#5f9ea0" fill-opacity="0.73"/>
<rect x="929.55" y="193.63" width="1.01" height="1.01" fill="#5f9ea0" fill-opacity="0.7"/>
<rect x="917.57" y="185.47" width="1.35" height="1.35" fill="#5f9ea0" fill-opacity="0.5"/>
<rect x="956.18" y="186.24" width="1.13" height="1.13" fill="#5f9ea0" fill-opacity="0.65"/>
<rect x="936.9" y="184.45" width="0.8" height="0.8" fill="#5f9ea0" fill-opacity="0.61"/>
<rect x="911.49" y="193.39" width="0.87" height="0.87" fill="#5f9ea0" fill-opacity="0.35"/>
<rect x="931.74" y="193.47" width="1.01" height="1.01" fill="#5f9ea0" fill-opacity="0.43"/>
<rect x="922.93" y="196.81" width="0.82" height="0.82" fill="#5f9ea0" fill-opacity="0.54"/>
<rect x="928.68" y="190.82" width="1.24" height="1.24" fill="#5f9ea0" fill-opacity="0.55"/>
<rect x="932.41" y="179.13" width="0.74" height="0.74" fill="#5f9ea0" fill-opacity="0.64"/>
<rect x="910.71" y="193.26" width="0.79" height="0.79" fill="#5f9ea0" fill-opacity="0.69"/>
<rect x="925.5" y="191.44" width="1.07" height="1.07" fill="#5f9ea0" fill-opacity="0.7"/>
<rect x="937.48" y="192.81" width="0.76" height="0.76" fill="#5f9ea0" fill-opacity="0.35"/>
<rect x="934.77" y="184.14" width="1.16" height="1.16" fill="#5f9ea0" fill-opacity="0.71"/>
<rect x="948.73" y="197.21" width="1.3" height="1.3" fill="#5f9ea0" fill-opacity="0.69"/>
<rect x="933.01" y="185.27" width="0.72" height="0.72" fill="#5f9ea0" fill-opacity="0.75"/>
<rect x="919.29" y="183.87" width="1.26" height="1.26" fill="#5f9ea0" fill-opacity="0.47"/>
<rect x="923.56" y="185.3" width="0.88" height="0.88" fill="#5f9ea0" fill-opacity="0.55"/>
<rect x="921.44" y="191.34" width="1.3" height="1.3" fill="#5f9ea0" fill-opacity="0.71"/>
<rect x="927.59" y="189.69" width="1.14" height="1.14" fill="#5f9ea0" fill-opacity="0.6"/>
<rect x="932.46" y="186.04" width="0.89" height="0.89" fill="#5f9ea0" fill-opacity="0.5"/>
<rect x="937.97" y="198.59" width="0.72" height="0.72" fill="#5f9ea0" fill-opacity="0.58"/>
<rect x="930.46" y="189.15" width="0.83" height="0.83" fill="#5f9ea0" fill-opacity="0.75"/>
<rect x="923.56" y="199.3" width="0.72" height="0.72" fill="#5f9ea0" fill-opacity="0.54"/>
<rect x="936.06" y="191.5" width="0.71" height="0.71" fill="#5f9ea0" fill-opacity="0.62"/>
<rect x="920.85" y="191.87" width="1.04" height="1.04" fill="#5f9ea0" fill-opacity="0.62"/>
<rect x="928.95" y="193.61" width="0.73" height="0.73" fill="#5f9ea0" fill-opacity="0.61"/>
<rect x="925.69" y="186.84" width="1.11" height="1.11" fill="#5f9ea0" fill-opacity="0.74"/>
<rect x="913.43" y="191.97" width="0.98" height="0.98" fill="#5f9ea0" fill-opacity="0.57"/>
<rect x="931.87" y="181.9" width="1.18" height="1.18" fill="#5f9ea0" fill-opacity="0.47"/>
<rect x="939.38" y="192.61" width="1.28" height="1.28" fill="#5f9ea0" fill-opacity="0.49"/>
<rect x="927.69" y="184.16" width="0.76" height="0.76" fill="#5f9ea0" fill-opacity="0.58"/>
<rect x="921.35" y="188.89" width="0.86" height="0.86" fill="#5f9ea0" fill-opacity="0.74"/>
<rect x="916.28" y="185.8" width="0.73" height="0.73" fill="#5f9ea0" fill-opacity="0.64"/>
<rect x="934.96" y="195.83" width="1.01" height="1.01" fill="#5f9ea0" fill-opacity="0.51"/>
<rect x="930.86" y="186.76" width="1.46" height="1.46" fill="#5f9ea0" fill-opacity="0.69"/>
<rect x="910.04" y="191" width="1.14" height="1.14" fill="#5f9ea0" fill-opacity="0.72"/>
<rect x="903.38" y="191.5" width="1.3" height="1.3" fill="#5f9ea0" fill-opacity="0.61"/>
<rect x="943.76" y="190.07" width="0.9" height="0.9" fill="#5f9ea0" fill-opacity="0.61"/>
<rect x="933.89" y="195.36" width="1.26" height="1.26" fill="#5f9ea0" fill-opacity="0.43"/>
<rect x="923.23" y="192.25" width="1.03" height="1.03" fill="#5f9ea0" fill-opacity="0.44"/>
<rect x="924.06" y="180.26" width="1.08" height="1.08" fill="#5f9ea0" fill-opacity="0.63"/>
<rect x="929.77" y="180.26" width="1.34" height="1.34" fill="#5f9ea0" fill-opacity="0.61"/>
<rect x="928.17" y="181.39" width="1.12" height="1.12" fill="#5f9ea0" fill-opacity="0.67"/>
<rect x="934.85" y="198.64" width="1.21" height="1.21" fill="#5f9ea0" fill-opacity="0.57"/>
<rect x="912.56" y="182.78" width="1.33" height="1.33" fill="#5f9ea0" fill-opacity="0.63"/>
<rect x="944.73" y="183.79" width="0.96" height="0.96" fill="#5f9ea0" fill-opacity="0.69"/>
<rect x="938.64" y="185.55" width="1.44" height="1.44" fill="#5f9ea0" fill-opacity="0.42"/>
<rect x="931.51" y="186.45" width="1.02" height="1.02" fill="#5f9ea0" fill-opacity="0.55"/>
<rect x="919.25" y="193.56" width="0.77" height="0.77" fill="#5f9ea0" fill-opacity="0.37"/>
<rect x="928.05" y="186.02" width="0.92" height="0.92" fill="#5f9ea0" fill-opacity="0.63"/>
<rect x="929.74" y="183.49" width="1.35" height="1.35" fill="#5f9ea0" fill-opacity="0.49"/>
<rect x="939.6" y="185.32" width="1.38" height="1.38" fill="#5f9ea0" fill-opacity="0.68"/>
<rect x="922.77" y="178.32" width="1.3" height="1.3" fill="#5f9ea0" fill-opacity="0.53"/>
<rect x="936.29" y="194.23" width="1.19" height="1.19" fill="#5f9ea0" fill-opacity="0.36"/>
<rect x="921.34" y="187.13" width="1.08" height="1.08" fill="#5f9ea0" fill-opacity="0.38"/>
<rect x="941.25" y="194.19" width="0.92" height="0.92" fill="#5f9ea0" fill-opacity="0.41"/>
<rect x="931.42" y="188.97" width="1.26" height="1.26" fill="#5f9ea0" fill-opacity="0.68"/>
<rect x="931.99" y="205.89" width="0.74" height="0.74" fill="#5f9ea0" fill-opacity="0.53"/>
<rect x="927.35" y="207.6" width="1.13" height="1.13" fill="#5f9ea0" fill-opacity="0.65"/>
<rect x="911.02" y="210.73" width="1.17" height="1.17" fill="#5f9ea0" fill-opacity="0.54"/>
<rect x="917.8" y="219.05" width="0.91" height="0.91" fill="#5f9ea0" fill-opacity="0.75"/>
<rect x="917.21" y="225.13" width="1.48" height="1.48" fill="#5f9ea0" fill-opacity="0.39"/>
<rect x="919.59" y="225.99" width="1.07" height="1.07" fill="#5f9ea0" fill-opacity="0.51"/>
<rect x="918.86" y="221.58" width="1.14" height="1.14" fill="#5f9ea0" fill-opacity="0.42"/>
<rect x="937.41" y="215.9" width="1.31" height="1.31" fill="#5f9ea0" fill-opacity="0.49"/>
<rect x="924.31" y="211.18" width="1.42" height="1.42" fill="#5f9ea0" fill-opacity="0.62"/>
<rect x="918.16" y="212.45" width="1.31" height="1.31" fill="#5f9ea0" fill-opacity="0.42"/>
<rect x="906.88" y="212.45" width="0.75" height="0.75" fill="#5f9ea0" fill-opacity="0.47"/>
<rect x="935.2" y="206.65" width="0.95" height="0.95" fill="#5f9ea0" fill-opacity="0.74"/>
<rect x="933.45" y="222.36" width="1.34" height="1.34" fill="#5f9ea0" fill-opacity="0.69"/>
<rect x="909.42" y="201.36" width="0.9" height="0.9" fill="#5f9ea0" fill-opacity="0.66"/>
<rect x="914" y="202.69" width="0.91" height="0.91" fill="#5f9ea0" fill-opacity="0.62"/>
<rect x="931.53" y="219.4" width="1.23" height="1.23" fill="#5f9ea0" fill-opacity="0.49"/>
<rect x="916.9" y="213.33" width="0.97" height="0.97" fill="#5f9ea0" fill-opacity="0.55"/>
<rect x="925.9" y="203.67" width="1.44" height="1.44" fill="#5f9ea0" fill-opacity="0.5"/>
<rect x="930.53" y="206.54" width="1.08" height="1.08" fill="#5f9ea0" fill-opacity="0.42"/>
<rect x="928.37" y="198.41" width="1.01" height="1.01" fill="#5f9ea0" fill-opacity="0.48"/>
<rect x="918.35" y="225.23" width="0.77" height="0.77" fill="#5f9ea0" fill-opacity="0.69"/>
<rect x="913.75" y="218.12" width="1.25" height="1.25" fill="#5f9ea0" fill-opacity="0.42"/>
<rect x="920.49" y="214.79" width="1.14" height="1.14" fill="#5f9ea0" fill-opacity="0.61"/>
<rect x="916.01" y="221.4" width="1.42" height="1.42" fill="#5f9ea0" fill-opacity="0.59"/>
<rect x="917.65" y="209.35" width="0.71" height="0.71" fill="#5f9ea0" fill-opacity="0.71"/>
<rect x="921.11" y="218.84" width="1.32" height="1.32" fill="#5f9ea0" fill-opacity="0.58"/>
<rect x="933.05" y="216.97" width="1.11" height="1.11" fill="#5f9ea0" fill-opacity="0.72"/>
<rect x="914.73" y="212.17" width="1.2" height="1.2" fill="#5f9ea0" fill-opacity="0.67"/>
<rect x="928.62" y="213.6" width="1.16" height="1.16" fill="#5f9ea0" fill-opacity="0.37"/>
<rect x="925.35" y="213.81" width="1.22" height="1.22" fill="#5f9ea0" fill-opacity="0.69"/>
<rect x="891.15" y="219.28" width="1.03" height="1.03" fill="#5f9ea0" fill-opacity="0.58"/>
<rect x="920.91" y="213.92" width="1.39" height="1.39" fill="#5f9ea0" fill-opacity="0.69"/>
<rect x="928.03" y="229.85" width="0.92" height="0.92" fill="#5f9ea0" fill-opacity="0.43"/>
<rect x="903.33" y="214.32" width="1" height="1" fill="#5f9ea0" fill-opacity="0.49"/>
<rect x="921.98" y="229.42" width="1.17" height="1.17" fill="#5f9ea0" fill-opacity="0.7"/>
<rect x="920.45" y="214.3" width="0.82" height="0.82" fill="#5f9ea0" fill-opacity="0.4"/>
<rect x="917.4" y="233.11" width="1.09" height="1.09" fill="#5f9ea0" fill-opacity="0.64"/>
<rect x="925.22" y="206.76" width="0.7" height="0.7" fill="#5f9ea0" fill-opacity="0.44"/>
<rect x="909.65" y="206.03" width="0.86" height="0.86" fill="#5f9ea0" fill-opacity="0.65"/>
<rect x="925.74" y="216.62" width="1.11" height="1.11" fill="#5f9ea0" fill-opacity="0.59"/>
<rect x="928.71" y="210.2" width="1.35" height="1.35" fill="#5f9ea0" fill-opacity="0.54"/>
<rect x="911.47" y="240.76" width="1.1" height="1.1" fill="#5f9ea0" fill-opacity="0.63"/>
<rect x="914.05" y="237.15" width="1.08" height="1.08" fill="#5f9ea0" fill-opacity="0.37"/>
<rect x="928.67" y="219.62" width="1.04" height="1.04" fill="#5f9ea0" fill-opacity="0.39"/>
<rect x="927.54" y="204.28" width="1.46" height="1.46" fill="#5f9ea0" fill-opacity="0.61"/>
<rect x="921.71" y="209.19" width="0.74" height="0.74" fill="#5f9ea0" fill-opacity="0.44"/>
<rect x="916.84" y="217.17" width="1.44" height="1.44" fill="#5f9ea0" fill-opacity="0.47"/>
<rect x="920.62" y="212.29" width="1.38" height="1.38" fill="#5f9ea0" fill-opacity="0.48"/>
<rect x="905.49" y="214.11" width="1.19" height="1.19" fill="#5f9ea0" fill-opacity="0.47"/>
<rect x="919.51" y="226.19" width="1.14" height="1.14" fill="#5f9ea0" fill-opacity="0.35"/>
<rect x="920.34" y="219.56" width="1.37" height="1.37" fill="#5f9ea0" fill-opacity="0.63"/>
<rect x="927.38" y="201.46" width="0.73" height="0.73" fill="#5f9ea0" fill-opacity="0.48"/>
<rect x="928.42" y="207.3" width="0.96" height="0.96" fill="#5f9ea0" fill-opacity="0.41"/>
<rect x="923.74" y="212.99" width="0.99" height="0.99" fill="#5f9ea0" fill-opacity="0.48"/>
<rect x="904.79" y="197.41" width="1.29" height="1.29" fill="#5f9ea0" fill-opacity="0.74"/>
<rect x="916.01" y="232.95" width="1.27" height="1.27" fill="#5f9ea0" fill-opacity="0.37"/>
<rect x="900.62" y="205.58" width="0.72" height="0.72" fill="#5f9ea0" fill-opacity="0.44"/>
<rect x="905.82" y="212.2" width="1.14" height="1.14" fill="#5f9ea0" fill-opacity="0.7"/>
<rect x="908.65" y="226.38" width="1.14" height="1.14" fill="#5f9ea0" fill-opacity="0.68"/>
<rect x="901.63" y="230.82" width="1.38" height="1.38" fill="#5f9ea0" fill-opacity="0.64"/>
<rect x="933.09" y="207.45" width="0.94" height="0.94" fill="#5f9ea0" fill-opacity="0.73"/>
<rect x="914.01" y="223.48" width="1.2" height="1.2" fill="#5f9ea0" fill-opacity="0.55"/>
<rect x="930.59" y="215.23" width="1.45" height="1.45" fill="#5f9ea0" fill-opacity="0.53"/>
<rect x="921.77" y="228.71" width="1.24" height="1.24" fill="#5f9ea0" fill-opacity="0.47"/>
<rect x="910.19" y="209.47" width="0.72" height="0.72" fill="#5f9ea0" fill-opacity="0.38"/>
<rect x="907.94" y="226.98" width="0.83" height="0.83" fill="#5f9ea0" fill-opacity="0.74"/>
<rect x="916.52" y="219.4" width="0.85" height="0.85" fill="#5f9ea0" fill-opacity="0.72"/>
<rect x="928.44" y="202.33" width="0.75" height="0.75" fill="#5f9ea0" fill-opacity="0.61"/>
<rect x="927.34" y="216.62" width="0.75" height="0.75" fill="#5f9ea0" fill-opacity="0.62"/>
<rect x="923.2" y="207.86" width="1.5" height="1.5" fill="#5f9ea0" fill-opacity="0.57"/>
<rect x="923.82" y="209.69" width="1.34" height="1.34" fill="#5f9ea0" fill-opacity="0.6"/>
<rect x="935.45" y="224.14" width="1.31" height="1.31" fill="#5f9ea0" fill-opacity="0.5"/>
<rect x="919.37" y="219.73" width="1.18" height="1.18" fill="#5f9ea0" fill-opacity="0.47"/>
<rect x="920.94" y="227.22" width="0.8" height="0.8" fill="#5f9ea0" fill-opacity="0.61"/>
<rect x="915.86" y="223.54" width="1.05" height="1.05" fill="#5f9ea0" fill-opacity="0.52"/>
<rect x="912.43" y="218.77" width="1.3" height="1.3" fill="#5f9ea0" fill-opacity="0.71"/>
<rect x="904.44" y="208.58" width="1.35" height="1.35" fill="#5f9ea0" fill-opacity="0.46"/>
<rect x="929.02" y="205.21" width="1.21" height="1.21" fill="#5f9ea0" fill-opacity="0.57"/>
<rect x="928.88" y="207.14" width="1.27" height="1.27" fill="#5f9ea0" fill-opacity="0.45"/>
<rect x="926.76" y="226.84" width="1.36" height="1.36" fill="#5f9ea0" fill-opacity="0.41"/>
<rect x="918.48" y="206.94" width="0.79" height="0.79" fill="#5f9ea0" fill-opacity="0.67"/>
<rect x="929.96" y="219.5" width="1.22" height="1.22" fill="#5f9ea0" fill-opacity="0.63"/>
<rect x="920.25" y="210.56" width="0.8" height="0.8" fill="#5f9ea0" fill-opacity="0.47"/>
<rect x="932.01" y="196.32" width="1.04" height="1.04" fill="#5f9ea0" fill-opacity="0.46"/>
<rect x="911.44" y="207.93" width="0.72" height="0.72" fill="#5f9ea0" fill-opacity="0.59"/>
<rect x="933.72" y="208.52" width="1.28" height="1.28" fill="#5f9ea0" fill-opacity="0.38"/>
<rect x="900.95" y="198.7" width="0.92" height="0.92" fill="#5f9ea0" fill-opacity="0.48"/>
<rect x="919.76" y="230.07" width="0.98" height="0.98" fill="#5f9ea0" fill-opacity="0.69"/>
<rect x="913.91" y="203.35" width="1.31" height="1.31" fill="#5f9ea0" fill-opacity="0.43"/>
<rect x="919.72" y="226.83" width="1.02" height="1.02" fill="#5f9ea0" fill-opacity="0.53"/>
<rect x="970.04" y="210.35" width="1.38" height="1.38" fill="#5f9ea0" fill-opacity="0.68"/>
<rect x="960.15" y="219.61" width="0.72" height="0.72" fill="#5f9ea0" fill-opacity="0.63"/>
<rect x="958.62" y="211.57" width="1.42" height="1.42" fill="#5f9ea0" fill-opacity="0.53"/>
<rect x="963.72" y="221.7" width="0.84" height="0.84" fill="#5f9ea0" fill-opacity="0.45"/>
<rect x="956.44" y="200.12" width="0.78" height="0.78" fill="#5f9ea0" fill-opacity="0.64"/>
<rect x="964.58" y="199.44" width="1.19" height="1.19" fill="#5f9ea0" fill-opacity="0.59"/>
<rect x="965.23" y="196.35" width="1.33" height="1.33" fill="#5f9ea0" fill-opacity="0.56"/>
<rect x="959.13" y="212.05" width="1.24" height="1.24" fill="#5f9ea0" fill-opacity="0.61"/>
<rect x="964.73" y="197.56" width="1.1" height="1.1" fill="#5f9ea0" fill-opacity="0.37"/>
<rect x="956.48" y="199.63" width="0.81" height="0.81" fill="#5f9ea0" fill-opacity="0.44"/>
<rect x="959.55" y="212.09" width="1.5" height="1.5" fill="#5f9ea0" fill-opacity="0.38"/>
<rect x="958.45" y="192.86" width="0.75" height="0.75" fill="#5f9ea0" fill-opacity="0.54"/>
<rect x="943.64" y="220.35" width="1.47" height="1.47" fill="#5f9ea0" fill-opacity="0.58"/>
<rect x="963.26" y="192.11" width="0.79" height="0.79" fill="#5f9ea0" fill-opacity="0.39"/>
<rect x="952.65" y="195.18" width="1.27" height="1.27" fill="#5f9ea0" fill-opacity="0.72"/>
<rect x="966.41" y="217.51" width="0.85" height="0.85" fill="#5f9ea0" fill-opacity="0.57"/>
<rect x="968.21" y="209.32" width="1.06" height="1.06" fill="#5f9ea0" fill-opacity="0.54"/>
<rect x="957.08" y="208.74" width="1.06" height="1.06" fill="#5f9ea0" fill-opacity="0.35"/>
<rect x="972.65" y="211.23" width="0.78" height="0.78" fill="#5f9ea0" fill-opacity="0.59"/>
<rect x="956.37" y="216.34" width="0.94" height="0.94" fill="#5f9ea0" fill-opacity="0.7"/>
<rect x="954.73" y="226.66" width="0.75" height="0.75" fill="#5f9ea0" fill-opacity="0.6"/>
<rect x="970.21" y="230.68" width="0.74" height="0.74" fill="#5f9ea0" fill-opacity="0.68"/>
<rect x="964.09" y="201.59" width="0.75" height="0.75" fill="#5f9ea0" fill-opacity="0.63"/>
<rect x="961.15" y="194.56" width="1.24" height="1.24" fill="#5f9ea0" fill-opacity="0.68"/>
<rect x="954.41" y="219.18" width="1.42" height="1.42" fill="#5f9ea0" fill-opacity="0.47"/>
<rect x="964.22" y="218.94" width="0.71" height="0.71" fill="#5f9ea0" fill-opacity="0.69"/>
<rect x="963.73" y="212.12" width="0.91" height="0.91" fill="#5f9ea0" fill-opacity="0.54"/>
<rect x="969.11" y="205.99" width="1.39" height="1.39" fill="#5f9ea0" fill-opacity="0.72"/>
<rect x="973.43" y="210.08" width="1.23" height="1.23" fill="#5f9ea0" fill-opacity="0.57"/>
<rect x="966.08" y="197.09" width="0.78" height="0.78" fill="#5f9ea0" fill-opacity="0.51"/>
<rect x="968.13" y="203.19" width="1.33" height="1.33" fill="#5f9ea0" fill-opacity="0.69"/>
<rect x="965.01" y="196" width="0.97" height="0.97" fill="#5f9ea0" fill-opacity="0.55"/>
<rect x="967.53" y="202.43" width="1.16" height="1.16" fill="#5f9ea0" fill-opacity="0.37"/>
<rect x="954.93" y="215.27" width="0.83" height="0.83" fill="#5f9ea0" fill-opacity="0.5"/>
<rect x="981.12" y="222.46" width="0.81" height="0.81" fill="#5f9ea0" fill-opacity="0.64"/>
<rect x="960.97" y="237.32" width="1.39" height="1.39" fill="#5f9ea0" fill-opacity="0.56"/>
<rect x="963.42" y="215.23" width="1.04" height="1.04" fill="#5f9ea0" fill-opacity="0.48"/>
<rect x="967.24" y="231.92" width="1.19" height="1.19" fill="#5f9ea0" fill-opacity="0.4"/>
<rect x="956.62" y="212.88" width="1.33" height="1.33" fill="#5f9ea0" fill-opacity="0.58"/>
<rect x="972.66" y="212.27" width="1.08" height="1.08" fill="#5f9ea0" fill-opacity="0.45"/>
<rect x="957.78" y="213.87" width="0.81" height="0.81" fill="#5f9ea0" fill-opacity="0.47"/>
<rect x="965.99" y="210.89" width="1.16" height="1.16" fill="#5f9ea0" fill-opacity="0.68"/>
<rect x="968.9" y="203.16" width="1.27" height="1.27" fill="#5f9ea0" fill-opacity="0.54"/>
<rect x="959.25" y="208.79" width="1.36" height="1.36" fill="#5f9ea0" fill-opacity="0.67"/>
<rect x="962.13" y="223.83" width="0.86" height="0.86" fill="#5f9ea0" fill-opacity="0.67"/>
<rect x="966.7" y="215.62" width="1.08" height="1.08" fill="#5f9ea0" fill-opacity="0.48"/>
<rect x="959.64" y="212.82" width="1.26" height="1.26" fill="#5f9ea0" fill-opacity="0.41"/>
<rect x="971.15" y="217.64" width="1.36" height="1.36" fill="#5f9ea0" fill-opacity="0.61"/>
<rect x="962.5" y="203.78" width="0.99" height="0.99" fill="#5f9ea0" fill-opacity="0.59"/>
<rect x="960.73" y="219.46" width="1.32" height="1.32" fill="#5f9ea0" fill-opacity="0.38"/>
<rect x="959.38" y="204.76" width="0.91" height="0.91" fill="#5f9ea0" fill-opacity="0.67"/>
<rect x="964.52" y="207.9" width="0.77" height="0.77" fill="#5f9ea0" fill-opacity="0.49"/>
<rect x="955.97" y="214.47" width="1.22" height="1.22" fill="#5f9ea0" fill-opacity="0.5"/>
<rect x="965.85" y="236.5" width="1.5" height="1.5" fill="#5f9ea0" fill-opacity="0.68"/>
<rect x="975.3" y="189.23" width="1.33" height="1.33" fill="#5f9ea0" fill-opacity="0.58"/>
<rect x="968.23" y="212.99" width="1.17" height="1.17" fill="#5f9ea0" fill-opacity="0.55"/>
<rect x="963.98" y="209.78" width="1.04" height="1.04" fill="#5f9ea0" fill-opacity="0.38"/>
<rect x="961.83" y="220" width="1.29" height="1.29" fill="#5f9ea0" fill-opacity="0.65"/>
<rect x="960.58" y="201.51" width="1.12" height="1.12" fill="#5f9ea0" fill-opacity="0.65"/>
<rect x="961.61" y="205.28" width="1.39" height="1.39" fill="#5f9ea0" fill-opacity="0.68"/>
<rect x="961.53" y="197.59" width="1.13" height="1.13" fill="#5f9ea0" fill-opacity="0.42"/>
<rect x="966.2" y="212.88" width="0.73" height="0.73" fill="#5f9ea0" fill-opacity="0.44"/>
<rect x="973.35" y="210.61" width="0.7" height="0.7" fill="#5f9ea0" fill-opacity="0.69"/>
<rect x="970.71" y="214.32" width="1.16" height="1.16" fill="#5f9ea0" fill-opacity="0.46"/>
<rect x="968.87" y="203.17" width="1.19" height="1.19" fill="#5f9ea0" fill-opacity="0.71"/>
<rect x="956.64" y="225.14" width="1.3" height="1.3" fill="#5f9ea0" fill-opacity="0.56"/>
<rect x="953.56" y="237.55" width="1.06" height="1.06" fill="#5f9ea0" fill-opacity="0.52"/>
<rect x="959.1" y="206.43" width="1.07" height="1.07" fill="#5f9ea0" fill-opacity="0.46"/>
<rect x="959.3" y="209.28" width="0.72" height="0.72" fill="#5f9ea0" fill-opacity="0.63"/>
<rect x="963.32" y="212.56" width="0.82" height="0.82" fill="#5f9ea0" fill-opacity="0.67"/>
<rect x="980.61" y="200.38" width="1.02" height="1.02" fill="#5f9ea0" fill-opacity="0.53"/>
<rect x="948.84" y="198.54" width="1.3" height="1.3" fill="#5f9ea0" fill-opacity="0.68"/>
<rect x="971.25" y="217.64" width="1.24" height="1.24" fill="#5f9ea0" fill-opacity="0.45"/>
<rect x="961.01" y="213.51" width="1.31" height="1.31" fill="#5f9ea0" fill-opacity="0.57"/>
<rect x="972.68" y="221.82" width="1.46" height="1.46" fill="#5f9ea0" fill-opacity="0.54"/>
<rect x="971.8" y="203.69" width="0.98" height="0.98" fill="#5f9ea0" fill-opacity="0.54"/>
<rect x="978.41" y="206.78" width="1.05" height="1.05" fill="#5f9ea0" fill-opacity="0.59"/>
<rect x="955.74" y="226.78" width="1.36" height="1.36" fill="#5f9ea0" fill-opacity="0.49"/>
<rect x="952.21" y="229.5" width="1.14" height="1.14" fill="#5f9ea0" fill-opacity="0.38"/>
<rect x="973.07" y="225.4" width="1.44" height="1.44" fill="#5f9ea0" fill-opacity="0.4"/>
<rect x="964.95" y="207.85" width="0.96" height="0.96" fill="#5f9ea0" fill-opacity="0.52"/>
<rect x="959.15" y="191.47" width="1" height="1" fill="#5f9ea0" fill-opacity="0.56"/>
<rect x="960.69" y="194.26" width="0.89" height="0.89" fill="#5f9ea0" fill-opacity="0.41"/>
<rect x="967.03" y="195" width="0.89" height="0.89" fill="#5f9ea0" fill-opacity="0.62"/>
<rect x="947.57" y="194.62" width="1.36" height="1.36" fill="#5f9ea0" fill-opacity="0.45"/>
<rect x="946" y="193.96" width="1.31" height="1.31" fill="#5f9ea0" fill-opacity="0.72"/>
<rect x="951.6" y="193.65" width="0.76" height="0.76" fill="#5f9ea0" fill-opacity="0.61"/>
<rect x="952.87" y="192.65" width="1.48" height="1.48" fill="#5f9ea0" fill-opacity="0.57"/>
<rect x="953.79" y="193.63" width="1.01" height="1.01" fill="#5f9ea0" fill-opacity="0.42"/>
<rect x="956.61" y="192.49" width="1.25" height="1.25" fill="#5f9ea0" fill-opacity="0.53"/>
<rect x="960.39" y="191.92" width="1.22" height="1.22" fill="#5f9ea0" fill-opacity="0.75"/>
<rect x="947.48" y="195.38" width="1.07" height="1.07" fill="#5f9ea0" fill-opacity="0.65"/>
<rect x="953.3" y="194.25" width="1.32" height="1.32" fill="#5f9ea0" fill-opacity="0.59"/>
<rect x="945.8" y="193.68" width="1.39" height="1.39" fill="#5f9ea0" fill-opacity="0.47"/>
<rect x="951.42" y="197.83" width="0.95" height="0.95" fill="#5f9ea0" fill-opacity="0.68"/>
<rect x="959.01" y="193.91" width="0.95" height="0.95" fill="#5f9ea0" fill-opacity="0.69"/>
<rect x="932.11" y="195.94" width="1.31" height="1.31" fill="#5f9ea0" fill-opacity="0.63"/>
<rect x="948.35" y="195.68" width="1.15" height="1.15" fill="#5f9ea0" fill-opacity="0.53"/>
<rect x="957.96" y="194.53" width="1.11" height="1.11" fill="#5f9ea0" fill-opacity="0.47"/>
<rect x="948.01" y="192.43" width="1.36" height="1.36" fill="#5f9ea0" fill-opacity="0.43"/>
<rect x="950.18" y="189.28" width="1.46" height="1.46" fill="#5f9ea0" fill-opacity="0.66"/>
<rect x="948.54" y="192.97" width="0.74" height="0.74" fill="#5f9ea0" fill-opacity="0.58"/>
<rect x="958.52" y="190.2" width="1.16" height="1.16" fill="#5f9ea0" fill-opacity="0.72"/>
<rect x="951.54" y="189.66" width="1.4" height="1.4" fill="#5f9ea0" fill-opacity="0.6"/>
<rect x="954.15" y="193.04" width="1.31" height="1.31" fill="#5f9ea0" fill-opacity="0.46"/>
<rect x="967.8" y="192.48" width="1.35" height="1.35" fill="#5f9ea0" fill-opacity="0.68"/>
<rect x="953.79" y="193.3" width="1.02" height="1.02" fill="#5f9ea0" fill-opacity="0.36"/>
<rect x="956.11" y="192.99" width="0.97" height="0.97" fill="#5f9ea0" fill-opacity="0.46"/>
<rect x="940.7" y="192.19" width="0.75" height="0.75" fill="#5f9ea0" fill-opacity="0.52"/>
<rect x="960.02" y="195.5" width="1.13" height="1.13" fill="#5f9ea0" fill-opacity="0.4"/>
<rect x="951.76" y="191.78" width="0.83" height="0.83" fill="#5f9ea0" fill-opacity="0.66"/>
<rect x="959.72" y="195.63" width="1.28" height="1.28" fill="#5f9ea0" fill-opacity="0.39"/>
<rect x="957.2" y="191.61" width="1.16" height="1.16" fill="#5f9ea0" fill-opacity="0.5"/>
<rect x="968.01" y="192.71" width="0.99" height="0.99" fill="#5f9ea0" fill-opacity="0.48"/>
<rect x="965.47" y="190.57" width="1.36" height="1.36" fill="#5f9ea0" fill-opacity="0.72"/>
<rect x="958.42" y="193.06" width="1.45" height="1.45" fill="#5f9ea0" fill-opacity="0.58"/>
<rect x="946.71" y="192.89" width="1.34" height="1.34" fill="#5f9ea0" fill-opacity="0.63"/>
<rect x="966.38" y="163.05" width="1.1" height="1.1" fill="#5f9ea0" fill-opacity="0.45"/>
<rect x="955.92" y="157.61" width="0.98" height="0.98" fill="#5f9ea0" fill-opacity="0.5"/>
<rect x="961.01" y="160.69" width="1.12" height="1.12" fill="#5f9ea0" fill-opacity="0.53"/>
<rect x="962.88" y="164.93" width="1.15" height="1.15" fill="#5f9ea0" fill-opacity="0.63"/>
<rect x="956.52" y="159.42" width="0.78" height="0.78" fill="#5f9ea0" fill-opacity="0.67"/>
<rect x="960.56" y="157.55" width="1" height="1" fill="#5f9ea0" fill-opacity="0.66"/>
<rect x="952.93" y="163.25" width="1.43" height="1.43" fill="#5f9ea0" fill-opacity="0.52"/>
<rect x="961.49" y="160.53" width="0.84" height="0.84" fill="#5f9ea0" fill-opacity="0.45"/>
<rect x="962.19" y="168.15" width="1.34" height="1.34" fill="#5f9ea0" fill-opacity="0.75"/>
<rect x="952.71" y="166.17" width="1.24" height="1.24" fill="#5f9ea0" fill-opacity="0.53"/>
<rect x="957.53" y="168.2" width="1.35" height="1.35" fill="#5f9ea0" fill-opacity="0.47"/>
<rect x="959.07" y="166.38" width="0.98" height="0.98" fill="#5f9ea0" fill-opacity="0.41"/>
<rect x="958.75" y="163.1" width="1.33" height="1.33" fill="#5f9ea0" fill-opacity="0.48"/>
<rect x="957.45" y="166.6" width="0.78" height="0.78" fill="#5f9ea0" fill-opacity="0.48"/>
<rect x="950.17" y="165.61" width="0.96" height="0.96" fill="#5f9ea0" fill-opacity="0.52"/>
<rect x="955.67" y="166.33" width="1.19" height="1.19" fill="#5f9ea0" fill-opacity="0.62"/>
<rect x="957.53" y="168.12" width="1.22" height="1.22" fill="#5f9ea0" fill-opacity="0.66"/>
<rect x="958.62" y="163.43" width="1.49" height="1.49" fill="#5f9ea0" fill-opacity="0.59"/>
<rect x="955.46" y="161.08" width="1.31" height="1.31" fill="#5f9ea0" fill-opacity="0.5"/>
<rect x="962.08" y="161.02" width="1.45" height="1.45" fill="#5f9ea0" fill-opacity="0.36"/>
<rect x="955.98" y="166.82" width="1.1" height="1.1" fill="#5f9ea0" fill-opacity="0.41"/>
<rect x="958.45" y="158.22" width="0.81" height="0.81" fill="#5f9ea0" fill-opacity="0.71"/>
<rect x="952.23" y="167.07" width="0.99" height="0.99" fill="#5f9ea0" fill-opacity="0.71"/>
<rect x="965.52" y="169.55" width="1.48" height="1.48" fill="#5f9ea0" fill-opacity="0.61"/>
<rect x="961.68" y="178" width="0.92" height="0.92" fill="#5f9ea0" fill-opacity="0.58"/>
<rect x="950.26" y="164.95" width="1.2" height="1.2" fill="#5f9ea0" fill-opacity="0.67"/>
<rect x="956.5" y="164.72" width="0.97" height="0.97" fill="#5f9ea0" fill-opacity="0.58"/>
<path d="M875.15 150.23 C875.06 152.09 874.6 158.04 874.6 161.39 C874.6 164.73 874.88 168.36 875.15 170.31 C875.43 172.26 874.78 172.5 876.27 173.1 C877.76 173.69 881.66 173.51 884.08 173.88 C886.49 174.25 889.1 174.44 890.77 175.33 C892.44 176.22 893.37 177.65 894.12 179.23 C894.86 180.81 894.67 183.32 895.23 184.81 C895.79 186.3 896.53 187.78 897.46 188.16 C898.39 188.53 899.97 188.34 900.81 187.04 C901.65 185.74 902.11 182.39 902.48 180.35 C902.85 178.3 902.11 176.35 903.04 174.77 C903.97 173.19 905.46 172.54 908.06 170.87 C910.66 169.19 916.33 165.38 918.66 164.73 C920.98 164.08 920.89 165.48 922 166.96 C923.12 168.45 924.05 171.52 925.35 173.66 C926.65 175.79 927.77 178.12 929.81 179.79 C931.86 181.46 935.2 182.58 937.62 183.69 C940.04 184.81 941.71 185.55 944.31 186.48 C946.92 187.41 951.01 188.71 953.24 189.27 C955.47 189.83 956.4 190.11 957.7 189.83 C959 189.55 959.56 187.88 961.04 187.6 C962.53 187.32 964.3 187.51 966.62 188.16 C968.95 188.81 973.59 190.94 974.99 191.5" stroke="#5f9ea0" stroke-width="1.3" fill="none" stroke-linejoin="round"/>
<path d="M879.06 150.23 C878.97 151.53 878.22 155.62 878.5 158.04 C878.78 160.46 879.43 163.06 880.73 164.73 C882.03 166.4 883.89 167.61 886.31 168.08 C888.73 168.54 892.44 168.26 895.23 167.52 C898.02 166.78 901 164.45 903.04 163.62 C905.09 162.78 906.94 163.24 907.5 162.5 C908.06 161.76 907.22 159.81 906.39 159.15 C905.55 158.5 903.6 159.34 902.48 158.6 C901.37 157.85 900.53 156.09 899.69 154.69 C898.86 153.3 897.84 150.97 897.46 150.23" stroke="#5f9ea0" stroke-width="1.3" fill="none" stroke-linejoin="round"/>
<path d="M926.47 150.23 C927.02 151.35 928.14 154.79 929.81 156.92 C931.48 159.06 935.76 160.83 936.5 163.06 C937.25 165.29 934.55 168.17 934.27 170.31 C933.99 172.45 933.72 174.21 934.83 175.89 C935.95 177.56 939.01 179.79 940.97 180.35 C942.92 180.91 945.24 180.35 946.54 179.23 C947.84 178.12 948.68 175.7 948.77 173.66 C948.87 171.61 948.22 168.91 947.1 166.96 C945.99 165.01 942.36 163.8 942.08 161.94 C941.8 160.08 944.59 157.76 945.43 155.81 C946.26 153.86 946.82 151.16 947.1 150.23" stroke="#5f9ea0" stroke-width="1.3" fill="none" stroke-linejoin="round"/>
<path d="M953.24 150.23 C952.83 151.53 950.97 155.44 950.78 158.04 C950.6 160.64 951.19 163.06 952.12 165.85 C953.05 168.64 954.96 173.93 956.36 174.77 C957.75 175.61 959.05 172.08 960.49 170.87 C961.92 169.66 964.39 169.47 964.95 167.52 C965.51 165.57 964.33 161.48 963.83 159.15 C963.33 156.83 962.03 155.06 961.94 153.58 C961.84 152.09 963.05 150.79 963.27 150.23" stroke="#5f9ea0" stroke-width="1.3" fill="none" stroke-linejoin="round"/>
<path d="M971.08 150.23 C970.71 151.53 969.41 155.25 968.85 158.04 C968.29 160.83 968.39 163.99 967.74 166.96 C967.09 169.94 965.04 173.47 964.95 175.89 C964.86 178.3 965.51 179.7 967.18 181.46 C968.85 183.23 973.69 185.65 974.99 186.48" stroke="#5f9ea0" stroke-width="1.3" fill="none" stroke-linejoin="round"/>
<path d="M939.85 204.89 C941.15 203.68 944.13 202.47 946.54 202.1 C948.96 201.73 952.68 201.63 954.35 202.66 C956.02 203.68 956.77 206.19 956.58 208.23 C956.4 210.28 954.91 213.44 953.24 214.93 C951.56 216.41 948.59 217.34 946.54 217.16 C944.5 216.97 942.27 215.11 940.97 213.81 C939.66 212.51 938.92 210.84 938.74 209.35 C938.55 207.86 938.55 206.1 939.85 204.89Z" stroke="#5f9ea0" stroke-width="1.3" fill="none" stroke-linejoin="round"/>
<path d="M914.2 255.08 C915.5 253.41 919.21 248.2 922 245.04 C924.79 241.88 927.95 238.91 930.93 236.12 C933.9 233.33 936.88 230.36 939.85 228.31 C942.83 226.27 945.61 224.22 948.77 223.85 C951.93 223.48 956.02 224.59 958.81 226.08 C961.6 227.57 964.2 229.99 965.51 232.77 C966.81 235.56 966.81 239.09 966.62 242.81 C966.44 246.53 964.76 253.04 964.39 255.08" stroke="#5f9ea0" stroke-width="1.3" fill="none" stroke-linejoin="round"/>
<path d="M916.43 255.08 C917.91 253.6 922.38 248.58 925.35 246.16 C928.32 243.74 932.6 242.44 934.27 240.58 C935.95 238.72 933.72 236.86 935.39 235.01 C937.06 233.15 941.34 230.73 944.31 229.43 C947.29 228.13 950.45 227.01 953.24 227.2 C956.02 227.38 959.37 228.31 961.04 230.54 C962.72 232.77 963.27 236.49 963.27 240.58 C963.27 244.67 961.42 252.67 961.04 255.08" stroke="#5f9ea0" stroke-width="1.3" fill="none" stroke-linejoin="round"/>
<path d="M946.54 236.12 C947.38 234.82 950.26 232.22 952.12 231.66 C953.98 231.1 956.4 231.84 957.7 232.77 C959 233.7 960.11 235.75 959.93 237.24 C959.74 238.72 958.07 240.86 956.58 241.7 C955.09 242.53 952.59 242.63 951.01 242.26 C949.42 241.88 947.84 240.49 947.1 239.47 C946.36 238.44 945.71 237.42 946.54 236.12Z" stroke="#5f9ea0" stroke-width="1.3" fill="none" stroke-linejoin="round"/>
<path d="M922 255.08 C922.93 254.15 925.35 250.44 927.58 249.51 C929.81 248.58 933.16 248.58 935.39 249.51 C937.62 250.44 940.04 254.15 940.97 255.08" stroke="#5f9ea0" stroke-width="1.3" fill="none" stroke-linejoin="round"/>
<path d="M866.73 191.36 C868.09 191.36 872.18 190.57 874.91 191.36 C877.63 192.16 880.47 194.54 883.09 196.13 C885.7 197.73 887.4 200.22 890.58 200.91 C893.77 201.59 899.79 199.43 902.17 200.22 C904.56 201.02 904.5 203.75 904.9 205.68 C905.3 207.61 905.18 210.05 904.56 211.81 C903.93 213.57 902.97 214.88 901.15 216.24 C899.33 217.61 894.96 218.46 893.65 219.99 C892.35 221.53 891.95 223.86 893.31 225.45 C894.67 227.04 900.13 227.61 901.83 229.54 C903.54 231.47 903.71 234.76 903.54 237.03 C903.37 239.31 902.29 241.35 900.81 243.17 C899.33 244.99 896.83 246.58 894.67 247.94 C892.52 249.3 889.45 250.21 887.86 251.35 C886.27 252.49 885.59 254.19 885.13 254.76" stroke="#5f9ea0" stroke-width="1.3" fill="none" stroke-linejoin="round"/>
<path d="M866.73 195.11 C867.98 195.11 871.84 194.6 874.22 195.11 C876.61 195.62 878.77 196.65 881.04 198.18 C883.31 199.71 886.32 202.27 887.86 204.31 C889.39 206.36 890.24 208.4 890.24 210.45 C890.24 212.49 888.6 214.99 887.86 216.58 C887.12 218.18 886.15 218.52 885.81 219.99 C885.47 221.47 884.68 223.74 885.81 225.45 C886.95 227.15 890.47 228.74 892.63 230.22 C894.79 231.7 897.63 232.6 898.76 234.31 C899.9 236.01 899.9 238.51 899.45 240.44 C898.99 242.37 897.52 244.42 896.04 245.9 C894.56 247.37 892.18 248.4 890.58 249.3 C888.99 250.21 887.29 250.44 886.49 251.35 C885.7 252.26 885.93 254.19 885.81 254.76" stroke="#5f9ea0" stroke-width="1.3" fill="none" stroke-linejoin="round"/>
<path d="M866.73 199.88 C867.98 199.83 871.95 199.09 874.22 199.54 C876.5 200 878.94 201.13 880.36 202.61 C881.78 204.09 882.46 206.19 882.75 208.4 C883.03 210.62 882.29 213.86 882.06 215.9 C881.84 217.95 881.27 218.63 881.38 220.67 C881.5 222.72 881.89 226.36 882.75 228.17 C883.6 229.99 884.85 230.33 886.49 231.58 C888.14 232.83 891.32 234.08 892.63 235.67 C893.94 237.26 894.45 239.42 894.33 241.12 C894.22 242.83 893.25 244.65 891.95 245.9 C890.64 247.15 888.09 248.23 886.49 248.62 C884.9 249.02 883.09 248.34 882.4 248.28" stroke="#5f9ea0" stroke-width="1.3" fill="none" stroke-linejoin="round"/>
<path d="M866.73 237.03 C867.64 237.49 870.36 238.63 872.18 239.76 C874 240.9 875.93 242.72 877.63 243.85 C879.34 244.99 881.61 246.12 882.4 246.58" stroke="#5f9ea0" stroke-width="1.3" fill="none" stroke-linejoin="round"/>
<path d="M866.73 240.78 C867.52 241.3 869.68 242.54 871.5 243.85 C873.32 245.16 875.59 247.32 877.63 248.62 C879.68 249.93 881.72 251.35 883.77 251.69 C885.81 252.03 887.86 251.41 889.9 250.67 C891.95 249.93 895.02 247.83 896.04 247.26" stroke="#5f9ea0" stroke-width="1.3" fill="none" stroke-linejoin="round"/>
<path d="M866.73 215.22 C867.29 215.34 868.89 215.11 870.13 215.9 C871.38 216.7 873.26 218.4 874.22 219.99 C875.19 221.58 875.93 223.74 875.93 225.45 C875.93 227.15 875.3 229.2 874.22 230.22 C873.15 231.24 870.7 231.41 869.45 231.58 C868.2 231.75 867.18 231.3 866.73 231.24" stroke="#5f9ea0" stroke-width="1.3" fill="none" stroke-linejoin="round"/>
<line x1="884.1" y1="149.9" x2="884.1" y2="254.1" stroke="#000" stroke-width="1.3" />
<line x1="866.4" y1="245" x2="975.4" y2="245" stroke="#000" stroke-width="1.3" />
</g>
<rect x="881.2" y="242.1" width="5.8" height="5.8" stroke="none" stroke-width="0" fill="#000" />
<g clip-path="url(#clip20)">
<path d="M866.23 287.56 C867.72 287.56 872.55 286.91 875.15 287.56 C877.76 288.21 879.8 289.51 881.85 291.46 C883.89 293.42 885.75 296.3 887.42 299.27 C889.1 302.25 889.84 305.78 891.89 309.31 C893.93 312.84 898.21 316 899.69 320.47 C901.18 324.93 901.37 332.18 900.81 336.08 C900.25 339.99 898.76 343.33 896.35 343.89 C893.93 344.45 889.47 341.84 886.31 339.43 C883.15 337.01 880.73 332.83 877.39 329.39 C874.04 325.95 868.09 320.56 866.23 318.79" stroke="none" stroke-width="0" fill="#5f9ea0" fill-opacity="0.05"/>
<path d="M866.23 291.46 C867.9 291.46 873.67 290.53 876.27 291.46 C878.87 292.39 880.27 294.44 881.85 297.04 C883.43 299.64 884.26 303.55 885.75 307.08 C887.24 310.61 889.47 315.26 890.77 318.23 C892.07 321.21 893.56 322.88 893.56 324.93 C893.56 326.97 892.17 330.13 890.77 330.5 C889.38 330.88 886.87 328.83 885.19 327.16 C883.52 325.48 882.78 322.14 880.73 320.47 C878.69 318.79 875.34 317.86 872.92 317.12 C870.51 316.38 867.35 316.19 866.23 316" stroke="none" stroke-width="0" fill="#5f9ea0" fill-opacity="0.08"/>
<path d="M866.23 299.27 C866.97 299.46 869.21 299.64 870.69 300.39 C872.18 301.13 874.78 302.43 875.15 303.73 C875.53 305.03 874.04 307.27 872.92 308.2 C871.81 309.12 869.58 309.22 868.46 309.31 C867.35 309.4 866.6 308.85 866.23 308.75" stroke="none" stroke-width="0" fill="#5f9ea0" fill-opacity="0.3"/>
<path d="M919.77 307.08 C920.89 305.78 923.12 303.27 926.47 302.62 C929.81 301.97 935.76 302.99 939.85 303.18 C943.94 303.36 947.66 303.27 951.01 303.73 C954.35 304.2 957.51 304.48 959.93 305.96 C962.35 307.45 964.67 310.24 965.51 312.66 C966.34 315.07 965.88 318.42 964.95 320.47 C964.02 322.51 962.62 323.9 959.93 324.93 C957.23 325.95 951.93 325.95 948.77 326.6 C945.61 327.25 943.94 328.92 940.97 328.83 C937.99 328.74 933.72 327.81 930.93 326.04 C928.14 324.28 926.09 320.84 924.23 318.23 C922.38 315.63 920.52 312.29 919.77 310.43 C919.03 308.57 918.66 308.38 919.77 307.08Z" stroke="none" stroke-width="0" fill="#5f9ea0" fill-opacity="0.04"/>
<rect x="922" y="267.42" width="1.31" height="1.31" fill="#5f9ea0" fill-opacity="0.71"/>
<rect x="904.11" y="282.45" width="1.42" height="1.42" fill="#5f9ea0" fill-opacity="0.7"/>
<rect x="898.03" y="271.27" width="1.03" height="1.03" fill="#5f9ea0" fill-opacity="0.75"/>
<rect x="914.53" y="276.57" width="1.46" height="1.46" fill="#5f9ea0" fill-opacity="0.53"/>
<rect x="908.24" y="278.65" width="1.43" height="1.43" fill="#5f9ea0" fill-opacity="0.48"/>
<rect x="888.56" y="277.16" width="1.34" height="1.34" fill="#5f9ea0" fill-opacity="0.55"/>
<rect x="920.34" y="277.29" width="0.73" height="0.73" fill="#5f9ea0" fill-opacity="0.39"/>
<rect x="912.73" y="282.54" width="0.93" height="0.93" fill="#5f9ea0" fill-opacity="0.63"/>
<rect x="908.7" y="275.89" width="0.72" height="0.72" fill="#5f9ea0" fill-opacity="0.63"/>
<rect x="911.18" y="269.45" width="0.89" height="0.89" fill="#5f9ea0" fill-opacity="0.36"/>
<rect x="898.4" y="268.64" width="0.81" height="0.81" fill="#5f9ea0" fill-opacity="0.61"/>
<rect x="893.59" y="268.83" width="0.82" height="0.82" fill="#5f9ea0" fill-opacity="0.61"/>
<rect x="892.02" y="270.64" width="0.83" height="0.83" fill="#5f9ea0" fill-opacity="0.72"/>
<rect x="918.5" y="265.38" width="1.5" height="1.5" fill="#5f9ea0" fill-opacity="0.58"/>
<rect x="901.58" y="275.79" width="1.19" height="1.19" fill="#5f9ea0" fill-opacity="0.56"/>
<rect x="867.03" y="281.13" width="1.37" height="1.37" fill="#5f9ea0" fill-opacity="0.4"/>
<rect x="905.9" y="272.78" width="1.22" height="1.22" fill="#5f9ea0" fill-opacity="0.48"/>
<rect x="901.13" y="256.84" width="1.12" height="1.12" fill="#5f9ea0" fill-opacity="0.66"/>
<rect x="923.79" y="276.35" width="0.79" height="0.79" fill="#5f9ea0" fill-opacity="0.53"/>
<rect x="902.69" y="275.29" width="1.3" height="1.3" fill="#5f9ea0" fill-opacity="0.39"/>
<rect x="905.01" y="275.86" width="1.23" height="1.23" fill="#5f9ea0" fill-opacity="0.47"/>
<rect x="908.26" y="273.49" width="0.88" height="0.88" fill="#5f9ea0" fill-opacity="0.55"/>
<rect x="908.17" y="273.17" width="1.23" height="1.23" fill="#5f9ea0" fill-opacity="0.56"/>
<rect x="912.84" y="277.36" width="0.8" height="0.8" fill="#5f9ea0" fill-opacity="0.46"/>
<rect x="898.19" y="276.06" width="0.86" height="0.86" fill="#5f9ea0" fill-opacity="0.44"/>
<rect x="899.92" y="281.05" width="1.41" height="1.41" fill="#5f9ea0" fill-opacity="0.61"/>
<rect x="904.26" y="273.23" width="0.85" height="0.85" fill="#5f9ea0" fill-opacity="0.6"/>
<rect x="884.03" y="280.27" width="1.43" height="1.43" fill="#5f9ea0" fill-opacity="0.47"/>
<rect x="897.93" y="277.25" width="1.24" height="1.24" fill="#5f9ea0" fill-opacity="0.39"/>
<rect x="900.81" y="286.47" width="1" height="1" fill="#5f9ea0" fill-opacity="0.74"/>
<rect x="885.25" y="280.73" width="1.07" height="1.07" fill="#5f9ea0" fill-opacity="0.39"/>
<rect x="897.21" y="270.92" width="1.43" height="1.43" fill="#5f9ea0" fill-opacity="0.63"/>
<rect x="875.81" y="270.32" width="1.14" height="1.14" fill="#5f9ea0" fill-opacity="0.74"/>
<rect x="903.45" y="269" width="0.94" height="0.94" fill="#5f9ea0" fill-opacity="0.69"/>
<rect x="935.57" y="284.05" width="0.73" height="0.73" fill="#5f9ea0" fill-opacity="0.65"/>
<rect x="895.31" y="268.48" width="1.18" height="1.18" fill="#5f9ea0" fill-opacity="0.58"/>
<rect x="898.4" y="277.23" width="0.74" height="0.74" fill="#5f9ea0" fill-opacity="0.61"/>
<rect x="914.68" y="268.67" width="1.39" height="1.39" fill="#5f9ea0" fill-opacity="0.51"/>
<rect x="904.62" y="284.95" width="1.44" height="1.44" fill="#5f9ea0" fill-opacity="0.39"/>
<rect x="913.29" y="268.86" width="1.32" height="1.32" fill="#5f9ea0" fill-opacity="0.47"/>
<rect x="917.25" y="272.69" width="0.87" height="0.87" fill="#5f9ea0" fill-opacity="0.37"/>
<rect x="909.11" y="275.23" width="1.36" height="1.36" fill="#5f9ea0" fill-opacity="0.36"/>
<rect x="912.5" y="276.37" width="0.81" height="0.81" fill="#5f9ea0" fill-opacity="0.66"/>
<rect x="925.29" y="273.48" width="0.98" height="0.98" fill="#5f9ea0" fill-opacity="0.41"/>
<rect x="907.33" y="281.09" width="0.9" height="0.9" fill="#5f9ea0" fill-opacity="0.51"/>
<rect x="892.75" y="278.36" width="1.26" height="1.26" fill="#5f9ea0" fill-opacity="0.47"/>
<rect x="889.02" y="266.42" width="0.94" height="0.94" fill="#5f9ea0" fill-opacity="0.66"/>
<rect x="918.66" y="276.91" width="0.98" height="0.98" fill="#5f9ea0" fill-opacity="0.4"/>
<rect x="891.29" y="262.17" width="1.09" height="1.09" fill="#5f9ea0" fill-opacity="0.49"/>
<rect x="938.75" y="261.65" width="1.2" height="1.2" fill="#5f9ea0" fill-opacity="0.57"/>
<rect x="892.02" y="265.14" width="1.25" height="1.25" fill="#5f9ea0" fill-opacity="0.57"/>
<rect x="905.59" y="262.09" width="1.22" height="1.22" fill="#5f9ea0" fill-opacity="0.56"/>
<rect x="898.96" y="276.4" width="1.11" height="1.11" fill="#5f9ea0" fill-opacity="0.47"/>
<rect x="897.08" y="273.82" width="1.42" height="1.42" fill="#5f9ea0" fill-opacity="0.4"/>
<rect x="968.64" y="275.6" width="1.43" height="1.43" fill="#5f9ea0" fill-opacity="0.7"/>
<rect x="962.81" y="285.04" width="1.5" height="1.5" fill="#5f9ea0" fill-opacity="0.61"/>
<rect x="965.86" y="283.23" width="0.78" height="0.78" fill="#5f9ea0" fill-opacity="0.47"/>
<rect x="961.45" y="281.64" width="0.74" height="0.74" fill="#5f9ea0" fill-opacity="0.54"/>
<rect x="955.92" y="274" width="1.24" height="1.24" fill="#5f9ea0" fill-opacity="0.61"/>
<rect x="969.64" y="287.8" width="1.1" height="1.1" fill="#5f9ea0" fill-opacity="0.52"/>
<rect x="970.01" y="279.3" width="1.25" height="1.25" fill="#5f9ea0" fill-opacity="0.66"/>
<rect x="952.81" y="281.22" width="0.85" height="0.85" fill="#5f9ea0" fill-opacity="0.47"/>
<rect x="962.69" y="286.45" width="0.75" height="0.75" fill="#5f9ea0" fill-opacity="0.66"/>
<rect x="960.56" y="272.5" width="0.79" height="0.79" fill="#5f9ea0" fill-opacity="0.44"/>
<rect x="975.95" y="273.7" width="1.28" height="1.28" fill="#5f9ea0" fill-opacity="0.7"/>
<rect x="961.12" y="285.58" width="1.05" height="1.05" fill="#5f9ea0" fill-opacity="0.54"/>
<rect x="953.67" y="284.22" width="1.35" height="1.35" fill="#5f9ea0" fill-opacity="0.42"/>
<rect x="941.56" y="276.11" width="0.82" height="0.82" fill="#5f9ea0" fill-opacity="0.48"/>
<rect x="952.65" y="284.24" width="1.43" height="1.43" fill="#5f9ea0" fill-opacity="0.7"/>
<rect x="961.49" y="282.45" width="1.18" height="1.18" fill="#5f9ea0" fill-opacity="0.55"/>
<rect x="979.17" y="283.58" width="1.4" height="1.4" fill="#5f9ea0" fill-opacity="0.58"/>
<rect x="964.59" y="282.93" width="1.37" height="1.37" fill="#5f9ea0" fill-opacity="0.62"/>
<rect x="935.84" y="285.6" width="0.73" height="0.73" fill="#5f9ea0" fill-opacity="0.62"/>
<rect x="968.39" y="271.21" width="0.78" height="0.78" fill="#5f9ea0" fill-opacity="0.63"/>
<rect x="945.27" y="277.61" width="0.83" height="0.83" fill="#5f9ea0" fill-opacity="0.74"/>
<rect x="963.93" y="280.28" width="1.14" height="1.14" fill="#5f9ea0" fill-opacity="0.56"/>
<rect x="949.9" y="282.66" width="0.89" height="0.89" fill="#5f9ea0" fill-opacity="0.64"/>
<rect x="947.38" y="280.45" width="1.11" height="1.11" fill="#5f9ea0" fill-opacity="0.46"/>
<rect x="973.16" y="274.83" width="0.91" height="0.91" fill="#5f9ea0" fill-opacity="0.47"/>
<rect x="944.32" y="279.12" width="1.42" height="1.42" fill="#5f9ea0" fill-opacity="0.72"/>
<rect x="978.14" y="285.45" width="0.71" height="0.71" fill="#5f9ea0" fill-opacity="0.58"/>
<rect x="959.7" y="277.19" width="0.88" height="0.88" fill="#5f9ea0" fill-opacity="0.38"/>
<rect x="940.32" y="284.91" width="0.7" height="0.7" fill="#5f9ea0" fill-opacity="0.65"/>
<rect x="940" y="289.78" width="1.15" height="1.15" fill="#5f9ea0" fill-opacity="0.53"/>
<rect x="954.2" y="292.07" width="1.07" height="1.07" fill="#5f9ea0" fill-opacity="0.63"/>
<rect x="948.55" y="271.58" width="0.94" height="0.94" fill="#5f9ea0" fill-opacity="0.39"/>
<rect x="964.27" y="288.53" width="0.8" height="0.8" fill="#5f9ea0" fill-opacity="0.36"/>
<rect x="949.59" y="287.87" width="0.84" height="0.84" fill="#5f9ea0" fill-opacity="0.47"/>
<rect x="979.59" y="292.51" width="1.43" height="1.43" fill="#5f9ea0" fill-opacity="0.74"/>
<rect x="952.1" y="276.52" width="0.92" height="0.92" fill="#5f9ea0" fill-opacity="0.49"/>
<rect x="961.31" y="273.58" width="0.81" height="0.81" fill="#5f9ea0" fill-opacity="0.7"/>
<rect x="959.78" y="280.18" width="0.77" height="0.77" fill="#5f9ea0" fill-opacity="0.55"/>
<rect x="939.48" y="282.6" width="0.87" height="0.87" fill="#5f9ea0" fill-opacity="0.74"/>
<rect x="955.38" y="283.59" width="1.48" height="1.48" fill="#5f9ea0" fill-opacity="0.66"/>
<rect x="960.52" y="277.37" width="1.47" height="1.47" fill="#5f9ea0" fill-opacity="0.47"/>
<rect x="938.09" y="283.39" width="0.8" height="0.8" fill="#5f9ea0" fill-opacity="0.36"/>
<rect x="949.57" y="276.11" width="1.46" height="1.46" fill="#5f9ea0" fill-opacity="0.74"/>
<rect x="947.32" y="288.26" width="0.72" height="0.72" fill="#5f9ea0" fill-opacity="0.64"/>
<rect x="950.18" y="282.6" width="0.93" height="0.93" fill="#5f9ea0" fill-opacity="0.54"/>
<rect x="950.17" y="282.33" width="0.72" height="0.72" fill="#5f9ea0" fill-opacity="0.36"/>
<rect x="978.97" y="282.33" width="1.04" height="1.04" fill="#5f9ea0" fill-opacity="0.53"/>
<rect x="962.63" y="279.62" width="1.35" height="1.35" fill="#5f9ea0" fill-opacity="0.71"/>
<rect x="944.02" y="284.83" width="0.72" height="0.72" fill="#5f9ea0" fill-opacity="0.51"/>
<rect x="975.8" y="281.83" width="1.48" height="1.48" fill="#5f9ea0" fill-opacity="0.72"/>
<rect x="939.82" y="279.09" width="1.24" height="1.24" fill="#5f9ea0" fill-opacity="0.35"/>
<rect x="956.89" y="283.39" width="1.04" height="1.04" fill="#5f9ea0" fill-opacity="0.48"/>
<rect x="960.42" y="281.02" width="0.79" height="0.79" fill="#5f9ea0" fill-opacity="0.58"/>
<rect x="966.64" y="273.67" width="1.4" height="1.4" fill="#5f9ea0" fill-opacity="0.44"/>
<rect x="917.57" y="341.92" width="0.76" height="0.76" fill="#5f9ea0" fill-opacity="0.56"/>
<rect x="919.06" y="335.91" width="1.37" height="1.37" fill="#5f9ea0" fill-opacity="0.45"/>
<rect x="911.63" y="336.74" width="0.74" height="0.74" fill="#5f9ea0" fill-opacity="0.37"/>
<rect x="925.69" y="320.06" width="1.31" height="1.31" fill="#5f9ea0" fill-opacity="0.53"/>
<rect x="918.9" y="338.31" width="1.12" height="1.12" fill="#5f9ea0" fill-opacity="0.44"/>
<rect x="905.14" y="316.09" width="1.45" height="1.45" fill="#5f9ea0" fill-opacity="0.45"/>
<rect x="917.66" y="336.26" width="1.44" height="1.44" fill="#5f9ea0" fill-opacity="0.74"/>
<rect x="921.95" y="322.12" width="1.18" height="1.18" fill="#5f9ea0" fill-opacity="0.72"/>
<rect x="914.99" y="342.81" width="1.44" height="1.44" fill="#5f9ea0" fill-opacity="0.59"/>
<rect x="915.19" y="338.13" width="0.93" height="0.93" fill="#5f9ea0" fill-opacity="0.69"/>
<rect x="910.31" y="326.3" width="1.38" height="1.38" fill="#5f9ea0" fill-opacity="0.64"/>
<rect x="915.64" y="333.3" width="1.33" height="1.33" fill="#5f9ea0" fill-opacity="0.44"/>
<rect x="918.17" y="335.84" width="1.1" height="1.1" fill="#5f9ea0" fill-opacity="0.6"/>
<rect x="919.61" y="336.32" width="1.07" height="1.07" fill="#5f9ea0" fill-opacity="0.56"/>
<rect x="919.29" y="351.86" width="1.05" height="1.05" fill="#5f9ea0" fill-opacity="0.45"/>
<rect x="920.57" y="320.03" width="0.95" height="0.95" fill="#5f9ea0" fill-opacity="0.49"/>
<rect x="915.71" y="335.21" width="1.42" height="1.42" fill="#5f9ea0" fill-opacity="0.43"/>
<rect x="919.37" y="346.95" width="1.07" height="1.07" fill="#5f9ea0" fill-opacity="0.61"/>
<rect x="922.38" y="343.77" width="1.47" height="1.47" fill="#5f9ea0" fill-opacity="0.74"/>
<rect x="920.61" y="334.59" width="0.87" height="0.87" fill="#5f9ea0" fill-opacity="0.58"/>
<rect x="911.15" y="333.16" width="0.91" height="0.91" fill="#5f9ea0" fill-opacity="0.39"/>
<rect x="913.67" y="335.26" width="1.23" height="1.23" fill="#5f9ea0" fill-opacity="0.74"/>
<rect x="925.4" y="347.14" width="1.44" height="1.44" fill="#5f9ea0" fill-opacity="0.51"/>
<rect x="922.57" y="335.25" width="0.91" height="0.91" fill="#5f9ea0" fill-opacity="0.64"/>
<rect x="931.63" y="330.78" width="0.87" height="0.87" fill="#5f9ea0" fill-opacity="0.44"/>
<rect x="913.84" y="337.03" width="1.22" height="1.22" fill="#5f9ea0" fill-opacity="0.6"/>
<rect x="921.63" y="334.28" width="1.05" height="1.05" fill="#5f9ea0" fill-opacity="0.52"/>
<rect x="917.43" y="330.43" width="0.77" height="0.77" fill="#5f9ea0" fill-opacity="0.51"/>
<rect x="918.78" y="337.76" width="1.48" height="1.48" fill="#5f9ea0" fill-opacity="0.63"/>
<rect x="926.45" y="337.68" width="0.79" height="0.79" fill="#5f9ea0" fill-opacity="0.73"/>
<rect x="918.75" y="341.12" width="0.74" height="0.74" fill="#5f9ea0" fill-opacity="0.44"/>
<rect x="923.31" y="343.97" width="1.46" height="1.46" fill="#5f9ea0" fill-opacity="0.39"/>
<rect x="917.41" y="349.68" width="1.15" height="1.15" fill="#5f9ea0" fill-opacity="0.69"/>
<rect x="916.65" y="336.76" width="1.05" height="1.05" fill="#5f9ea0" fill-opacity="0.52"/>
<rect x="923.15" y="342.17" width="1.29" height="1.29" fill="#5f9ea0" fill-opacity="0.58"/>
<rect x="914.19" y="321.13" width="1.4" height="1.4" fill="#5f9ea0" fill-opacity="0.63"/>
<rect x="913.06" y="349.7" width="1.41" height="1.41" fill="#5f9ea0" fill-opacity="0.69"/>
<rect x="918.04" y="333.44" width="1.39" height="1.39" fill="#5f9ea0" fill-opacity="0.69"/>
<rect x="915.78" y="338.18" width="1.33" height="1.33" fill="#5f9ea0" fill-opacity="0.7"/>
<rect x="915.98" y="335.16" width="0.82" height="0.82" fill="#5f9ea0" fill-opacity="0.47"/>
<rect x="912.38" y="321.42" width="0.78" height="0.78" fill="#5f9ea0" fill-opacity="0.38"/>
<rect x="913.39" y="327.08" width="1.11" height="1.11" fill="#5f9ea0" fill-opacity="0.72"/>
<rect x="925.65" y="334.91" width="1.01" height="1.01" fill="#5f9ea0" fill-opacity="0.57"/>
<rect x="920.26" y="348.79" width="1.02" height="1.02" fill="#5f9ea0" fill-opacity="0.54"/>
<rect x="913.38" y="327.83" width="0.81" height="0.81" fill="#5f9ea0" fill-opacity="0.56"/>
<rect x="921.74" y="341.13" width="1.25" height="1.25" fill="#5f9ea0" fill-opacity="0.7"/>
<rect x="910.69" y="332.82" width="1.14" height="1.14" fill="#5f9ea0" fill-opacity="0.58"/>
<rect x="917.56" y="342.09" width="0.75" height="0.75" fill="#5f9ea0" fill-opacity="0.38"/>
<rect x="918.18" y="329.56" width="0.73" height="0.73" fill="#5f9ea0" fill-opacity="0.74"/>
<rect x="919.36" y="336.78" width="0.8" height="0.8" fill="#5f9ea0" fill-opacity="0.54"/>
<rect x="913.52" y="331.64" width="1.32" height="1.32" fill="#5f9ea0" fill-opacity="0.66"/>
<rect x="914.05" y="334.98" width="0.81" height="0.81" fill="#5f9ea0" fill-opacity="0.7"/>
<rect x="921.84" y="351.16" width="0.98" height="0.98" fill="#5f9ea0" fill-opacity="0.74"/>
<rect x="913.37" y="345.7" width="0.74" height="0.74" fill="#5f9ea0" fill-opacity="0.48"/>
<rect x="918.02" y="316.07" width="1.41" height="1.41" fill="#5f9ea0" fill-opacity="0.72"/>
<rect x="925.7" y="330.06" width="1.05" height="1.05" fill="#5f9ea0" fill-opacity="0.42"/>
<rect x="911.18" y="322.99" width="1.15" height="1.15" fill="#5f9ea0" fill-opacity="0.43"/>
<rect x="911.58" y="326.06" width="1.04" height="1.04" fill="#5f9ea0" fill-opacity="0.43"/>
<rect x="917.44" y="328.86" width="0.74" height="0.74" fill="#5f9ea0" fill-opacity="0.62"/>
<rect x="904.06" y="323.34" width="0.94" height="0.94" fill="#5f9ea0" fill-opacity="0.49"/>
<rect x="921.83" y="324.46" width="1.4" height="1.4" fill="#5f9ea0" fill-opacity="0.68"/>
<rect x="914.94" y="329.02" width="1.1" height="1.1" fill="#5f9ea0" fill-opacity="0.74"/>
<rect x="925.72" y="334.66" width="1.42" height="1.42" fill="#5f9ea0" fill-opacity="0.63"/>
<rect x="894.17" y="306.77" width="1.1" height="1.1" fill="#5f9ea0" fill-opacity="0.49"/>
<rect x="916.49" y="302.62" width="0.89" height="0.89" fill="#5f9ea0" fill-opacity="0.38"/>
<rect x="904.91" y="298.21" width="1.16" height="1.16" fill="#5f9ea0" fill-opacity="0.43"/>
<rect x="916.88" y="302.93" width="1.23" height="1.23" fill="#5f9ea0" fill-opacity="0.73"/>
<rect x="910.31" y="310.14" width="0.79" height="0.79" fill="#5f9ea0" fill-opacity="0.69"/>
<rect x="893.16" y="301.7" width="1.04" height="1.04" fill="#5f9ea0" fill-opacity="0.41"/>
<rect x="900.52" y="313.6" width="1.26" height="1.26" fill="#5f9ea0" fill-opacity="0.72"/>
<rect x="906.38" y="294.37" width="1.39" height="1.39" fill="#5f9ea0" fill-opacity="0.5"/>
<rect x="899.56" y="303.53" width="1" height="1" fill="#5f9ea0" fill-opacity="0.68"/>
<rect x="902.37" y="309.94" width="0.97" height="0.97" fill="#5f9ea0" fill-opacity="0.35"/>
<rect x="902.35" y="308.89" width="1.08" height="1.08" fill="#5f9ea0" fill-opacity="0.44"/>
<rect x="906.91" y="298.07" width="1.3" height="1.3" fill="#5f9ea0" fill-opacity="0.47"/>
<rect x="885.3" y="296.5" width="1.43" height="1.43" fill="#5f9ea0" fill-opacity="0.53"/>
<rect x="897.49" y="298.21" width="0.82" height="0.82" fill="#5f9ea0" fill-opacity="0.7"/>
<rect x="901.3" y="312.85" width="0.76" height="0.76" fill="#5f9ea0" fill-opacity="0.64"/>
<rect x="896.01" y="290.3" width="0.92" height="0.92" fill="#5f9ea0" fill-opacity="0.4"/>
<rect x="904.64" y="306.4" width="1.35" height="1.35" fill="#5f9ea0" fill-opacity="0.47"/>
<rect x="907.3" y="312.01" width="0.97" height="0.97" fill="#5f9ea0" fill-opacity="0.72"/>
<rect x="914.6" y="308.08" width="1.25" height="1.25" fill="#5f9ea0" fill-opacity="0.72"/>
<rect x="902.88" y="315.35" width="0.74" height="0.74" fill="#5f9ea0" fill-opacity="0.64"/>
<rect x="904.21" y="306.8" width="1.14" height="1.14" fill="#5f9ea0" fill-opacity="0.71"/>
<rect x="900.94" y="293.94" width="1.27" height="1.27" fill="#5f9ea0" fill-opacity="0.62"/>
<rect x="903.6" y="304.3" width="0.92" height="0.92" fill="#5f9ea0" fill-opacity="0.39"/>
<rect x="916.13" y="310.55" width="0.75" height="0.75" fill="#5f9ea0" fill-opacity="0.73"/>
<rect x="901.39" y="313.18" width="0.95" height="0.95" fill="#5f9ea0" fill-opacity="0.59"/>
<rect x="899.29" y="307.96" width="0.75" height="0.75" fill="#5f9ea0" fill-opacity="0.7"/>
<rect x="912.65" y="307.67" width="1.37" height="1.37" fill="#5f9ea0" fill-opacity="0.36"/>
<rect x="908.59" y="307.38" width="1.29" height="1.29" fill="#5f9ea0" fill-opacity="0.42"/>
<rect x="909.55" y="312.78" width="1.39" height="1.39" fill="#5f9ea0" fill-opacity="0.45"/>
<rect x="903.72" y="305.23" width="1.09" height="1.09" fill="#5f9ea0" fill-opacity="0.53"/>
<rect x="911.91" y="289.77" width="1.14" height="1.14" fill="#5f9ea0" fill-opacity="0.65"/>
<rect x="900.77" y="303.1" width="1.37" height="1.37" fill="#5f9ea0" fill-opacity="0.4"/>
<rect x="901.04" y="320.5" width="1.44" height="1.44" fill="#5f9ea0" fill-opacity="0.63"/>
<rect x="897.94" y="306.84" width="0.95" height="0.95" fill="#5f9ea0" fill-opacity="0.38"/>
<rect x="905.58" y="306.05" width="1.15" height="1.15" fill="#5f9ea0" fill-opacity="0.58"/>
<rect x="914.43" y="300.11" width="1.04" height="1.04" fill="#5f9ea0" fill-opacity="0.38"/>
<rect x="957.81" y="337.1" width="0.88" height="0.88" fill="#5f9ea0" fill-opacity="0.4"/>
<rect x="974.78" y="347.99" width="0.98" height="0.98" fill="#5f9ea0" fill-opacity="0.65"/>
<rect x="969.3" y="351.51" width="1.43" height="1.43" fill="#5f9ea0" fill-opacity="0.53"/>
<rect x="961.53" y="335.86" width="1.24" height="1.24" fill="#5f9ea0" fill-opacity="0.5"/>
<rect x="959.43" y="355.96" width="1.29" height="1.29" fill="#5f9ea0" fill-opacity="0.55"/>
<rect x="971.85" y="350.28" width="1.09" height="1.09" fill="#5f9ea0" fill-opacity="0.58"/>
<rect x="956.74" y="352.25" width="1.35" height="1.35" fill="#5f9ea0" fill-opacity="0.65"/>
<rect x="963.55" y="351.55" width="1.35" height="1.35" fill="#5f9ea0" fill-opacity="0.58"/>
<rect x="972.31" y="349.63" width="1.2" height="1.2" fill="#5f9ea0" fill-opacity="0.75"/>
<rect x="962.2" y="352.36" width="1.05" height="1.05" fill="#5f9ea0" fill-opacity="0.41"/>
<rect x="966.2" y="345.21" width="1.5" height="1.5" fill="#5f9ea0" fill-opacity="0.36"/>
<rect x="948.9" y="329.74" width="0.9" height="0.9" fill="#5f9ea0" fill-opacity="0.47"/>
<rect x="970.78" y="357.01" width="1.2" height="1.2" fill="#5f9ea0" fill-opacity="0.48"/>
<rect x="959.74" y="340.23" width="1.2" height="1.2" fill="#5f9ea0" fill-opacity="0.69"/>
<rect x="955.19" y="354.52" width="1.34" height="1.34" fill="#5f9ea0" fill-opacity="0.52"/>
<rect x="946.78" y="342.16" width="0.92" height="0.92" fill="#5f9ea0" fill-opacity="0.5"/>
<rect x="960.51" y="319.25" width="0.99" height="0.99" fill="#5f9ea0" fill-opacity="0.67"/>
<rect x="968.24" y="351.28" width="1.06" height="1.06" fill="#5f9ea0" fill-opacity="0.47"/>
<rect x="959.77" y="359.24" width="1.31" height="1.31" fill="#5f9ea0" fill-opacity="0.59"/>
<rect x="963.66" y="348.43" width="1.38" height="1.38" fill="#5f9ea0" fill-opacity="0.64"/>
<rect x="971.14" y="354.03" width="0.82" height="0.82" fill="#5f9ea0" fill-opacity="0.36"/>
<rect x="955.3" y="344.67" width="1.39" height="1.39" fill="#5f9ea0" fill-opacity="0.52"/>
<rect x="969.48" y="352.31" width="1.01" height="1.01" fill="#5f9ea0" fill-opacity="0.38"/>
<rect x="970.06" y="346.71" width="1.38" height="1.38" fill="#5f9ea0" fill-opacity="0.48"/>
<rect x="965.9" y="340.22" width="0.94" height="0.94" fill="#5f9ea0" fill-opacity="0.62"/>
<rect x="960.49" y="355.49" width="1.43" height="1.43" fill="#5f9ea0" fill-opacity="0.56"/>
<rect x="971.32" y="336.62" width="1.33" height="1.33" fill="#5f9ea0" fill-opacity="0.7"/>
<rect x="966.82" y="347.88" width="1.1" height="1.1" fill="#5f9ea0" fill-opacity="0.6"/>
<rect x="960.77" y="346.06" width="1.11" height="1.11" fill="#5f9ea0" fill-opacity="0.74"/>
<rect x="959.43" y="351.82" width="1.24" height="1.24" fill="#5f9ea0" fill-opacity="0.65"/>
<rect x="953.83" y="338.15" width="1.43" height="1.43" fill="#5f9ea0" fill-opacity="0.51"/>
<rect x="967.98" y="331.85" width="0.92" height="0.92" fill="#5f9ea0" fill-opacity="0.37"/>
<rect x="966.2" y="334.43" width="0.84" height="0.84" fill="#5f9ea0" fill-opacity="0.64"/>
<rect x="959.36" y="348.36" width="0.71" height="0.71" fill="#5f9ea0" fill-opacity="0.4"/>
<rect x="966.02" y="345.14" width="1.37" height="1.37" fill="#5f9ea0" fill-opacity="0.41"/>
<rect x="967.63" y="363.62" width="0.91" height="0.91" fill="#5f9ea0" fill-opacity="0.53"/>
<rect x="963.77" y="347.82" width="0.79" height="0.79" fill="#5f9ea0" fill-opacity="0.56"/>
<rect x="958.25" y="352.12" width="1.39" height="1.39" fill="#5f9ea0" fill-opacity="0.39"/>
<rect x="959" y="356.38" width="1.48" height="1.48" fill="#5f9ea0" fill-opacity="0.65"/>
<rect x="943.21" y="354.26" width="1.44" height="1.44" fill="#5f9ea0" fill-opacity="0.67"/>
<rect x="971.14" y="335.85" width="0.88" height="0.88" fill="#5f9ea0" fill-opacity="0.55"/>
<rect x="959.37" y="352.15" width="0.76" height="0.76" fill="#5f9ea0" fill-opacity="0.36"/>
<rect x="965.83" y="351.84" width="1.38" height="1.38" fill="#5f9ea0" fill-opacity="0.68"/>
<rect x="958.36" y="340.27" width="1" height="1" fill="#5f9ea0" fill-opacity="0.4"/>
<rect x="975.61" y="343.52" width="0.83" height="0.83" fill="#5f9ea0" fill-opacity="0.6"/>
<rect x="964.2" y="353.35" width="0.98" height="0.98" fill="#5f9ea0" fill-opacity="0.62"/>
<rect x="958.66" y="339.02" width="1.38" height="1.38" fill="#5f9ea0" fill-opacity="0.73"/>
<rect x="944.14" y="339.4" width="0.87" height="0.87" fill="#5f9ea0" fill-opacity="0.71"/>
<rect x="957.82" y="354.56" width="1.19" height="1.19" fill="#5f9ea0" fill-opacity="0.54"/>
<rect x="958" y="353.05" width="0.84" height="0.84" fill="#5f9ea0" fill-opacity="0.4"/>
<rect x="967.52" y="344.28" width="1.26" height="1.26" fill="#5f9ea0" fill-opacity="0.51"/>
<rect x="956.99" y="340.07" width="1.17" height="1.17" fill="#5f9ea0" fill-opacity="0.73"/>
<rect x="963.24" y="337.48" width="0.83" height="0.83" fill="#5f9ea0" fill-opacity="0.51"/>
<rect x="967.26" y="338.92" width="1.32" height="1.32" fill="#5f9ea0" fill-opacity="0.46"/>
<rect x="962.3" y="343.71" width="0.94" height="0.94" fill="#5f9ea0" fill-opacity="0.55"/>
<rect x="962.02" y="353.25" width="1.05" height="1.05" fill="#5f9ea0" fill-opacity="0.37"/>
<rect x="964.05" y="341.6" width="1.27" height="1.27" fill="#5f9ea0" fill-opacity="0.65"/>
<rect x="957.68" y="343.73" width="1.41" height="1.41" fill="#5f9ea0" fill-opacity="0.54"/>
<rect x="974.05" y="354.8" width="0.99" height="0.99" fill="#5f9ea0" fill-opacity="0.67"/>
<rect x="965.93" y="337.21" width="1.17" height="1.17" fill="#5f9ea0" fill-opacity="0.45"/>
<rect x="961.95" y="346.3" width="1.43" height="1.43" fill="#5f9ea0" fill-opacity="0.44"/>
<rect x="969.09" y="350.76" width="1.45" height="1.45" fill="#5f9ea0" fill-opacity="0.64"/>
<rect x="961.25" y="364.34" width="1.36" height="1.36" fill="#5f9ea0" fill-opacity="0.55"/>
<rect x="908.61" y="366.3" width="0.81" height="0.81" fill="#5f9ea0" fill-opacity="0.47"/>
<rect x="920.16" y="355.04" width="1.32" height="1.32" fill="#5f9ea0" fill-opacity="0.59"/>
<rect x="922.03" y="355.51" width="0.77" height="0.77" fill="#5f9ea0" fill-opacity="0.69"/>
<rect x="931.45" y="359.63" width="0.76" height="0.76" fill="#5f9ea0" fill-opacity="0.56"/>
<rect x="905.87" y="357.78" width="1" height="1" fill="#5f9ea0" fill-opacity="0.41"/>
<rect x="918.43" y="354.67" width="1.25" height="1.25" fill="#5f9ea0" fill-opacity="0.65"/>
<rect x="928.05" y="352.07" width="1.24" height="1.24" fill="#5f9ea0" fill-opacity="0.46"/>
<rect x="913.44" y="348.33" width="1" height="1" fill="#5f9ea0" fill-opacity="0.54"/>
<rect x="906.89" y="348.7" width="1.01" height="1.01" fill="#5f9ea0" fill-opacity="0.4"/>
<rect x="903.71" y="355.61" width="1.26" height="1.26" fill="#5f9ea0" fill-opacity="0.68"/>
<rect x="933.14" y="354.53" width="0.74" height="0.74" fill="#5f9ea0" fill-opacity="0.35"/>
<rect x="913.87" y="354.23" width="1.4" height="1.4" fill="#5f9ea0" fill-opacity="0.69"/>
<rect x="922.16" y="356.12" width="0.9" height="0.9" fill="#5f9ea0" fill-opacity="0.75"/>
<rect x="923.05" y="358.09" width="0.98" height="0.98" fill="#5f9ea0" fill-opacity="0.54"/>
<rect x="899.7" y="360.29" width="0.85" height="0.85" fill="#5f9ea0" fill-opacity="0.58"/>
<rect x="920.15" y="362.77" width="1" height="1" fill="#5f9ea0" fill-opacity="0.67"/>
<rect x="941" y="353.87" width="0.83" height="0.83" fill="#5f9ea0" fill-opacity="0.46"/>
<rect x="918.43" y="357.51" width="1.44" height="1.44" fill="#5f9ea0" fill-opacity="0.58"/>
<rect x="937.38" y="352.73" width="1.43" height="1.43" fill="#5f9ea0" fill-opacity="0.63"/>
<rect x="924.25" y="350.94" width="0.98" height="0.98" fill="#5f9ea0" fill-opacity="0.6"/>
<rect x="914.48" y="353.65" width="1.18" height="1.18" fill="#5f9ea0" fill-opacity="0.63"/>
<rect x="918.63" y="352" width="0.81" height="0.81" fill="#5f9ea0" fill-opacity="0.58"/>
<rect x="941.32" y="365.74" width="0.93" height="0.93" fill="#5f9ea0" fill-opacity="0.65"/>
<rect x="912.24" y="355.45" width="1.12" height="1.12" fill="#5f9ea0" fill-opacity="0.62"/>
<rect x="919.77" y="355.73" width="0.98" height="0.98" fill="#5f9ea0" fill-opacity="0.5"/>
<rect x="940.56" y="352.91" width="0.88" height="0.88" fill="#5f9ea0" fill-opacity="0.74"/>
<rect x="913.87" y="353.26" width="1.3" height="1.3" fill="#5f9ea0" fill-opacity="0.43"/>
<rect x="912.73" y="355.52" width="1.11" height="1.11" fill="#5f9ea0" fill-opacity="0.68"/>
<rect x="925.51" y="357.5" width="1.46" height="1.46" fill="#5f9ea0" fill-opacity="0.73"/>
<rect x="922.21" y="359.08" width="1.04" height="1.04" fill="#5f9ea0" fill-opacity="0.68"/>
<rect x="901.8" y="359.28" width="1.27" height="1.27" fill="#5f9ea0" fill-opacity="0.75"/>
<rect x="909.11" y="357.07" width="0.91" height="0.91" fill="#5f9ea0" fill-opacity="0.4"/>
<rect x="923.98" y="348.84" width="1.41" height="1.41" fill="#5f9ea0" fill-opacity="0.61"/>
<rect x="935.85" y="366.98" width="1.41" height="1.41" fill="#5f9ea0" fill-opacity="0.35"/>
<rect x="899.34" y="354.06" width="0.86" height="0.86" fill="#5f9ea0" fill-opacity="0.65"/>
<rect x="924.37" y="347.14" width="1.46" height="1.46" fill="#5f9ea0" fill-opacity="0.4"/>
<rect x="932.69" y="357.05" width="1.18" height="1.18" fill="#5f9ea0" fill-opacity="0.54"/>
<rect x="926.2" y="363.32" width="1.25" height="1.25" fill="#5f9ea0" fill-opacity="0.72"/>
<rect x="923.72" y="357.7" width="0.72" height="0.72" fill="#5f9ea0" fill-opacity="0.59"/>
<rect x="926.69" y="356.99" width="0.72" height="0.72" fill="#5f9ea0" fill-opacity="0.36"/>
<rect x="926.45" y="357.93" width="1.17" height="1.17" fill="#5f9ea0" fill-opacity="0.54"/>
<rect x="924.78" y="361.43" width="1.39" height="1.39" fill="#5f9ea0" fill-opacity="0.54"/>
<rect x="911.93" y="352.39" width="0.88" height="0.88" fill="#5f9ea0" fill-opacity="0.44"/>
<rect x="916.1" y="347.7" width="1.36" height="1.36" fill="#5f9ea0" fill-opacity="0.68"/>
<rect x="937.56" y="358.03" width="0.78" height="0.78" fill="#5f9ea0" fill-opacity="0.45"/>
<path d="M870.69 273.06 C870.51 272.04 873.3 270.83 875.15 270.27 C877.01 269.71 879.43 269.43 881.85 269.71 C884.26 269.99 888.35 271.11 889.66 271.94 C890.96 272.78 890.77 273.9 889.66 274.73 C888.54 275.57 885.19 276.68 882.96 276.96 C880.73 277.24 878.31 277.06 876.27 276.4 C874.22 275.75 870.88 274.08 870.69 273.06Z" stroke="#5f9ea0" stroke-width="1.3" fill="none" stroke-linejoin="round"/>
<path d="M893.56 260.23 C893.09 262.09 890.49 268.41 890.77 271.39 C891.05 274.36 893.37 276.87 895.23 278.08 C897.09 279.29 900.07 279.38 901.93 278.64 C903.78 277.89 904.9 276.68 906.39 273.62 C907.87 270.55 910.11 262.46 910.85 260.23" stroke="#5f9ea0" stroke-width="1.3" fill="none" stroke-linejoin="round"/>
<path d="M923.68 266.92 C924.51 265.99 927.3 265.53 928.7 265.81 C930.09 266.09 931.48 267.48 932.04 268.6 C932.6 269.71 932.79 271.57 932.04 272.5 C931.3 273.43 928.97 274.36 927.58 274.17 C926.19 273.99 924.33 272.59 923.68 271.39 C923.03 270.18 922.84 267.85 923.68 266.92Z" stroke="#5f9ea0" stroke-width="1.3" fill="none" stroke-linejoin="round"/>
<path d="M935.95 260.23 C935.85 261.16 934.55 264.13 935.39 265.81 C936.23 267.48 938.74 269.34 940.97 270.27 C943.2 271.2 946.36 271.76 948.77 271.39 C951.19 271.01 954.17 269.9 955.47 268.04 C956.77 266.18 956.4 261.53 956.58 260.23" stroke="#5f9ea0" stroke-width="1.3" fill="none" stroke-linejoin="round"/>
<path d="M940.97 260.23 C941.52 260.97 943.01 263.95 944.31 264.69 C945.61 265.44 947.47 265.44 948.77 264.69 C950.08 263.95 951.56 260.97 952.12 260.23" stroke="#5f9ea0" stroke-width="1.3" fill="none" stroke-linejoin="round"/>
<path d="M866.23 284.21 C867.72 284.21 872.37 283.38 875.15 284.21 C877.94 285.05 880.36 286.54 882.96 289.23 C885.57 291.93 888.35 296.67 890.77 300.39 C893.19 304.11 895.05 308.2 897.46 311.54 C899.88 314.89 903.69 317.49 905.27 320.47 C906.85 323.44 906.02 326.97 906.94 329.39 C907.87 331.81 909.83 333.2 910.85 334.97 C911.87 336.73 911.22 339.8 913.08 339.99 C914.94 340.17 919.03 336.36 922 336.08 C924.98 335.8 928.7 336.45 930.93 338.31 C933.16 340.17 933.53 344.73 935.39 347.24 C937.25 349.75 939.48 352.53 942.08 353.37 C944.68 354.21 948.59 354.02 951.01 352.26 C953.42 350.49 954.72 345.84 956.58 342.77 C958.44 339.71 959.93 334.59 962.16 333.85 C964.39 333.11 967.74 337.2 969.97 338.31 C972.2 339.43 974.62 340.17 975.54 340.54" stroke="#5f9ea0" stroke-width="1.3" fill="none" stroke-linejoin="round"/>
<path d="M866.23 321.58 C867.9 322.88 872.92 326.23 876.27 329.39 C879.62 332.55 882.96 337.57 886.31 340.54 C889.66 343.52 893.65 345.28 896.35 347.24 C899.04 349.19 899.69 353.37 902.48 352.26 C905.27 351.14 911.31 342.5 913.08 340.54" stroke="#5f9ea0" stroke-width="1.3" fill="none" stroke-linejoin="round"/>
<path d="M866.23 287.56 C867.72 287.56 872.55 286.91 875.15 287.56 C877.76 288.21 879.8 289.51 881.85 291.46 C883.89 293.42 885.75 296.3 887.42 299.27 C889.1 302.25 889.84 305.78 891.89 309.31 C893.93 312.84 898.21 316 899.69 320.47 C901.18 324.93 901.37 332.18 900.81 336.08 C900.25 339.99 898.76 343.33 896.35 343.89 C893.93 344.45 889.47 341.84 886.31 339.43 C883.15 337.01 880.73 332.83 877.39 329.39 C874.04 325.95 868.09 320.56 866.23 318.79" stroke="#5f9ea0" stroke-width="1.3" fill="none" stroke-linejoin="round"/>
<path d="M866.23 291.46 C867.9 291.46 873.67 290.53 876.27 291.46 C878.87 292.39 880.27 294.44 881.85 297.04 C883.43 299.64 884.26 303.55 885.75 307.08 C887.24 310.61 889.47 315.26 890.77 318.23 C892.07 321.21 893.56 322.88 893.56 324.93 C893.56 326.97 892.17 330.13 890.77 330.5 C889.38 330.88 886.87 328.83 885.19 327.16 C883.52 325.48 882.78 322.14 880.73 320.47 C878.69 318.79 875.34 317.86 872.92 317.12 C870.51 316.38 867.35 316.19 866.23 316" stroke="#5f9ea0" stroke-width="1.3" fill="none" stroke-linejoin="round"/>
<path d="M866.23 299.27 C866.97 299.46 869.21 299.64 870.69 300.39 C872.18 301.13 874.78 302.43 875.15 303.73 C875.53 305.03 874.04 307.27 872.92 308.2 C871.81 309.12 869.58 309.22 868.46 309.31 C867.35 309.4 866.6 308.85 866.23 308.75" stroke="#5f9ea0" stroke-width="1.3" fill="none" stroke-linejoin="round"/>
<path d="M915.31 304.85 C916.43 304.01 919.03 300.94 922 299.83 C924.98 298.71 928.7 298.25 933.16 298.16 C937.62 298.06 943.94 298.9 948.77 299.27 C953.61 299.64 959 301.5 962.16 300.39 C965.32 299.27 965.51 294.25 967.74 292.58 C969.97 290.91 974.24 290.72 975.54 290.35" stroke="#5f9ea0" stroke-width="1.3" fill="none" stroke-linejoin="round"/>
<path d="M915.31 304.85 C915.12 306.34 913.45 310.61 914.2 313.77 C914.94 316.93 918.29 320.84 919.77 323.81 C921.26 326.79 922.75 329.57 923.12 331.62 C923.49 333.66 922.19 335.34 922 336.08" stroke="#5f9ea0" stroke-width="1.3" fill="none" stroke-linejoin="round"/>
<path d="M919.77 307.08 C920.89 305.78 923.12 303.27 926.47 302.62 C929.81 301.97 935.76 302.99 939.85 303.18 C943.94 303.36 947.66 303.27 951.01 303.73 C954.35 304.2 957.51 304.48 959.93 305.96 C962.35 307.45 964.67 310.24 965.51 312.66 C966.34 315.07 965.88 318.42 964.95 320.47 C964.02 322.51 962.62 323.9 959.93 324.93 C957.23 325.95 951.93 325.95 948.77 326.6 C945.61 327.25 943.94 328.92 940.97 328.83 C937.99 328.74 933.72 327.81 930.93 326.04 C928.14 324.28 926.09 320.84 924.23 318.23 C922.38 315.63 920.52 312.29 919.77 310.43 C919.03 308.57 918.66 308.38 919.77 307.08Z" stroke="#5f9ea0" stroke-width="1.3" fill="none" stroke-linejoin="round"/>
<path d="M949.89 314.33 C950.08 313.87 952.12 313.12 953.24 313.21 C954.35 313.31 956.77 314.42 956.58 314.89 C956.4 315.35 953.24 316.1 952.12 316 C951.01 315.91 949.7 314.79 949.89 314.33Z" stroke="#5f9ea0" stroke-width="1.3" fill="none" stroke-linejoin="round"/>
<path d="M975.54 294.25 C974.8 294.35 972.29 293.97 971.08 294.81 C969.87 295.65 968.48 297.78 968.29 299.27 C968.11 300.76 968.76 302.8 969.97 303.73 C971.18 304.66 974.62 304.66 975.54 304.85" stroke="#5f9ea0" stroke-width="1.3" fill="none" stroke-linejoin="round"/>
<path d="M975.54 324.93 C974.89 325.11 972.57 325.11 971.64 326.04 C970.71 326.97 969.32 329.39 969.97 330.5 C970.62 331.62 974.62 332.36 975.54 332.74" stroke="#5f9ea0" stroke-width="1.3" fill="none" stroke-linejoin="round"/>
<path d="M937.62 339.43 C938.36 337.94 940.59 336.55 942.08 336.08 C943.57 335.62 945.43 335.52 946.54 336.64 C947.66 337.75 948.68 341.01 948.77 342.77 C948.87 344.54 948.4 346.31 947.1 347.24 C945.8 348.17 942.55 348.72 940.97 348.35 C939.39 347.98 938.18 346.49 937.62 345.01 C937.06 343.52 936.88 340.92 937.62 339.43Z" stroke="#5f9ea0" stroke-width="1.3" fill="none" stroke-linejoin="round"/>
<path d="M971.08 365.08 C971.27 363.97 971.45 359.88 972.2 358.39 C972.94 356.9 974.99 356.53 975.54 356.16" stroke="#5f9ea0" stroke-width="1.3" fill="none" stroke-linejoin="round"/>
<line x1="884.1" y1="259.9" x2="884.1" y2="364.4" stroke="#000" stroke-width="1.3" />
<line x1="866.4" y1="317.18" x2="975.4" y2="317.18" stroke="#000" stroke-width="1.3" />
</g>
<rect x="881.2" y="314.28" width="5.8" height="5.8" stroke="none" stroke-width="0" fill="#000" />
<g clip-path="url(#clip21)">
<rect x="1005" y="298" width="20" height="9" fill="#5f9ea0" fill-opacity="0.15"/>
<rect x="990" y="305" width="12" height="11" fill="#5f9ea0" fill-opacity="0.12"/>
<path d="M981.23 293.69 C982.35 294.07 985.69 295 987.92 295.93 C990.15 296.85 991.64 300.02 994.62 299.27 C997.59 298.53 1001.87 293.04 1005.77 291.46 C1009.67 289.88 1014.32 290.91 1018.04 289.79 C1021.76 288.67 1025.11 285.42 1028.08 284.77 C1031.05 284.12 1033.47 284.77 1035.89 285.89 C1038.3 287 1041.28 289.05 1042.58 291.46 C1043.88 293.88 1044.25 297.23 1043.7 300.39 C1043.14 303.55 1040.35 307.08 1039.23 310.43 C1038.12 313.77 1036.82 318.05 1037 320.47 C1037.19 322.88 1039.98 323.44 1040.35 324.93 C1040.72 326.41 1040.54 328.09 1039.23 329.39 C1037.93 330.69 1034.77 333.11 1032.54 332.74 C1030.31 332.36 1028.27 329.02 1025.85 327.16 C1023.43 325.3 1020.46 322.14 1018.04 321.58 C1015.62 321.02 1013.58 321.39 1011.35 323.81 C1009.12 326.23 1006.7 332.36 1004.66 336.08 C1002.61 339.8 1001.12 344.82 999.08 346.12 C997.03 347.42 994.62 346.31 992.39 343.89 C990.15 341.47 987.55 334.97 985.69 331.62 C983.83 328.27 981.97 325.11 981.23 323.81" stroke="none" stroke-width="0" fill="#5f9ea0" fill-opacity="0.05"/>
<path d="M981.23 297.04 C982.35 297.32 985.69 297.97 987.92 298.71 C990.15 299.46 991.64 302.15 994.62 301.5 C997.59 300.85 1001.31 296.3 1005.77 294.81 C1010.23 293.32 1017.3 293.51 1021.39 292.58 C1025.48 291.65 1027.52 289.42 1030.31 289.23 C1033.1 289.05 1036.45 289.98 1038.12 291.46 C1039.79 292.95 1040.16 295.55 1040.35 298.16 C1040.54 300.76 1040.16 304.29 1039.23 307.08 C1038.3 309.87 1036.63 313.03 1034.77 314.89 C1032.91 316.75 1031.24 317.49 1028.08 318.23 C1024.92 318.98 1019.34 317.86 1015.81 319.35 C1012.28 320.84 1009.49 324 1006.89 327.16 C1004.28 330.32 1002.42 336.45 1000.19 338.31 C997.96 340.17 995.55 340.17 993.5 338.31 C991.46 336.45 989.6 330.13 987.92 327.16 C986.25 324.18 984.58 321.67 983.46 320.47 C982.35 319.26 981.6 320 981.23 319.91" stroke="none" stroke-width="0" fill="#5f9ea0" fill-opacity="0.07"/>
<path d="M981.23 302.62 C982.16 302.8 984.76 302.99 986.81 303.73 C988.85 304.48 990.34 308.01 993.5 307.08 C996.66 306.15 1002.42 299.74 1005.77 298.16 C1009.12 296.58 1010.23 297.6 1013.58 297.6 C1016.93 297.6 1022.87 297.6 1025.85 298.16 C1028.82 298.71 1030.31 299.64 1031.43 300.94 C1032.54 302.25 1033.1 304.38 1032.54 305.96 C1031.98 307.54 1030.87 309.31 1028.08 310.43 C1025.29 311.54 1019.16 312.1 1015.81 312.66 C1012.46 313.21 1010.05 312.29 1008 313.77 C1005.96 315.26 1004.84 319.54 1003.54 321.58 C1002.24 323.63 1001.68 325.11 1000.19 326.04 C998.71 326.97 996.1 328.09 994.62 327.16 C993.13 326.23 992.39 322.7 991.27 320.47 C990.15 318.23 989.6 315.26 987.92 313.77 C986.25 312.29 982.35 311.91 981.23 311.54" stroke="none" stroke-width="0" fill="#5f9ea0" fill-opacity="0.12"/>
<path d="M1005.77 303.73 C1005.77 302.34 1009.21 300.94 1011.35 300.94 C1013.49 300.94 1018.6 302.34 1018.6 303.73 C1018.6 305.13 1013.49 309.31 1011.35 309.31 C1009.21 309.31 1005.77 305.13 1005.77 303.73Z" stroke="none" stroke-width="0" fill="#5f9ea0" fill-opacity="0.25"/>
<path d="M993.5 314.89 C994.06 313.49 997.59 312.1 999.08 312.1 C1000.57 312.1 1002.05 313.49 1002.42 314.89 C1002.8 316.28 1002.42 319.54 1001.31 320.47 C1000.19 321.39 997.03 321.39 995.73 320.47 C994.43 319.54 992.94 316.28 993.5 314.89Z" stroke="none" stroke-width="0" fill="#5f9ea0" fill-opacity="0.22"/>
<path d="M1089.43 309.31 C1087.2 309.4 1080.32 308.75 1076.04 309.87 C1071.77 310.98 1067.68 313.49 1063.77 316 C1059.87 318.51 1054.85 321.58 1052.62 324.93 C1050.39 328.27 1049.65 331.99 1050.39 336.08 C1051.13 340.17 1054.85 346.49 1057.08 349.47 C1059.31 352.44 1060.43 353.74 1063.77 353.93 C1067.12 354.11 1072.88 352.26 1077.16 350.58 C1081.44 348.91 1087.38 345.01 1089.43 343.89" stroke="none" stroke-width="0" fill="#5f9ea0" fill-opacity="0.04"/>
<path d="M1089.43 312.66 C1087.57 312.66 1081.25 311.91 1078.27 312.66 C1075.3 313.4 1073.07 315.07 1071.58 317.12 C1070.09 319.16 1068.98 322.14 1069.35 324.93 C1069.72 327.72 1071.77 331.62 1073.81 333.85 C1075.86 336.08 1079.02 337.57 1081.62 338.31 C1084.22 339.06 1088.13 338.31 1089.43 338.31" stroke="none" stroke-width="0" fill="#5f9ea0" fill-opacity="0.05"/>
<path d="M1058.2 336.08 C1059.13 334.32 1061.73 332.18 1063.77 332.18 C1065.82 332.18 1068.98 334.32 1070.47 336.08 C1071.95 337.85 1073.26 340.54 1072.7 342.77 C1072.14 345.01 1068.98 348.54 1067.12 349.47 C1065.26 350.4 1063.03 349.47 1061.54 348.35 C1060.06 347.24 1058.75 344.82 1058.2 342.77 C1057.64 340.73 1057.27 337.85 1058.2 336.08Z" stroke="none" stroke-width="0" fill="#5f9ea0" fill-opacity="0.05"/>
<rect x="1027.39" y="283.19" width="1.21" height="1.21" fill="#5f9ea0" fill-opacity="0.54"/>
<rect x="1024.86" y="285.52" width="1.35" height="1.35" fill="#5f9ea0" fill-opacity="0.55"/>
<rect x="1017.9" y="275.72" width="0.7" height="0.7" fill="#5f9ea0" fill-opacity="0.5"/>
<rect x="1020.46" y="274.77" width="1.34" height="1.34" fill="#5f9ea0" fill-opacity="0.44"/>
<rect x="1022.7" y="277.48" width="1.5" height="1.5" fill="#5f9ea0" fill-opacity="0.65"/>
<rect x="1028.64" y="270.39" width="0.73" height="0.73" fill="#5f9ea0" fill-opacity="0.48"/>
<rect x="1019.39" y="275.89" width="1.46" height="1.46" fill="#5f9ea0" fill-opacity="0.5"/>
<rect x="1029.02" y="284.35" width="0.8" height="0.8" fill="#5f9ea0" fill-opacity="0.72"/>
<rect x="1014.89" y="277.9" width="0.97" height="0.97" fill="#5f9ea0" fill-opacity="0.54"/>
<rect x="1023.17" y="277.26" width="1.39" height="1.39" fill="#5f9ea0" fill-opacity="0.44"/>
<rect x="1023.31" y="272.1" width="1.48" height="1.48" fill="#5f9ea0" fill-opacity="0.71"/>
<rect x="1022.82" y="266.39" width="1.16" height="1.16" fill="#5f9ea0" fill-opacity="0.64"/>
<rect x="1027.63" y="280.26" width="1.36" height="1.36" fill="#5f9ea0" fill-opacity="0.43"/>
<rect x="1034.12" y="270.43" width="1.03" height="1.03" fill="#5f9ea0" fill-opacity="0.5"/>
<rect x="1016.6" y="277.51" width="1.5" height="1.5" fill="#5f9ea0" fill-opacity="0.5"/>
<rect x="1025.24" y="276.26" width="1.27" height="1.27" fill="#5f9ea0" fill-opacity="0.75"/>
<rect x="1015.21" y="276.01" width="1.14" height="1.14" fill="#5f9ea0" fill-opacity="0.65"/>
<rect x="1024.01" y="283.37" width="1.15" height="1.15" fill="#5f9ea0" fill-opacity="0.6"/>
<rect x="1024.12" y="278.93" width="0.98" height="0.98" fill="#5f9ea0" fill-opacity="0.72"/>
<rect x="1017.68" y="282.03" width="0.95" height="0.95" fill="#5f9ea0" fill-opacity="0.39"/>
<rect x="1033.04" y="279.95" width="1.32" height="1.32" fill="#5f9ea0" fill-opacity="0.5"/>
<rect x="1018.67" y="268.2" width="1.42" height="1.42" fill="#5f9ea0" fill-opacity="0.73"/>
<rect x="1006.77" y="285.1" width="1.47" height="1.47" fill="#5f9ea0" fill-opacity="0.59"/>
<rect x="1027.92" y="271.51" width="1" height="1" fill="#5f9ea0" fill-opacity="0.45"/>
<rect x="1025.16" y="273.52" width="0.76" height="0.76" fill="#5f9ea0" fill-opacity="0.67"/>
<rect x="1023.58" y="269.51" width="1.37" height="1.37" fill="#5f9ea0" fill-opacity="0.37"/>
<rect x="1022.24" y="280.46" width="1.04" height="1.04" fill="#5f9ea0" fill-opacity="0.42"/>
<rect x="1027.67" y="277.99" width="1.42" height="1.42" fill="#5f9ea0" fill-opacity="0.74"/>
<rect x="1022.32" y="269.48" width="0.9" height="0.9" fill="#5f9ea0" fill-opacity="0.73"/>
<rect x="1012.5" y="274.4" width="0.72" height="0.72" fill="#5f9ea0" fill-opacity="0.43"/>
<rect x="1028.39" y="267.4" width="1.41" height="1.41" fill="#5f9ea0" fill-opacity="0.59"/>
<rect x="1015.1" y="279.14" width="1.38" height="1.38" fill="#5f9ea0" fill-opacity="0.47"/>
<rect x="1017.58" y="274.89" width="1.31" height="1.31" fill="#5f9ea0" fill-opacity="0.35"/>
<rect x="1016.35" y="263.14" width="0.72" height="0.72" fill="#5f9ea0" fill-opacity="0.59"/>
<rect x="1014.92" y="267.29" width="1.17" height="1.17" fill="#5f9ea0" fill-opacity="0.45"/>
<rect x="1009.37" y="283.72" width="1.42" height="1.42" fill="#5f9ea0" fill-opacity="0.4"/>
<rect x="1024.81" y="277.24" width="0.72" height="0.72" fill="#5f9ea0" fill-opacity="0.53"/>
<rect x="1030.49" y="284.52" width="1.22" height="1.22" fill="#5f9ea0" fill-opacity="0.4"/>
<rect x="1017.11" y="274.66" width="1.1" height="1.1" fill="#5f9ea0" fill-opacity="0.44"/>
<rect x="1024.52" y="278.92" width="1" height="1" fill="#5f9ea0" fill-opacity="0.63"/>
<rect x="1020.67" y="275.32" width="1.27" height="1.27" fill="#5f9ea0" fill-opacity="0.7"/>
<rect x="1024.19" y="266.1" width="0.71" height="0.71" fill="#5f9ea0" fill-opacity="0.54"/>
<rect x="1032.33" y="279.53" width="0.84" height="0.84" fill="#5f9ea0" fill-opacity="0.63"/>
<rect x="1022.33" y="284.46" width="0.95" height="0.95" fill="#5f9ea0" fill-opacity="0.37"/>
<rect x="1018.37" y="278.93" width="1.42" height="1.42" fill="#5f9ea0" fill-opacity="0.47"/>
<rect x="1045" y="300.71" width="1.46" height="1.46" fill="#5f9ea0" fill-opacity="0.39"/>
<rect x="1048.17" y="294.29" width="1.29" height="1.29" fill="#5f9ea0" fill-opacity="0.74"/>
<rect x="1052.21" y="314.51" width="1.12" height="1.12" fill="#5f9ea0" fill-opacity="0.57"/>
<rect x="1075.88" y="307.68" width="1.48" height="1.48" fill="#5f9ea0" fill-opacity="0.49"/>
<rect x="1044.48" y="328.01" width="0.79" height="0.79" fill="#5f9ea0" fill-opacity="0.38"/>
<rect x="1075.39" y="308.62" width="1.31" height="1.31" fill="#5f9ea0" fill-opacity="0.53"/>
<rect x="1056.69" y="299.65" width="1.22" height="1.22" fill="#5f9ea0" fill-opacity="0.53"/>
<rect x="1047.87" y="299.92" width="1.02" height="1.02" fill="#5f9ea0" fill-opacity="0.44"/>
<rect x="1068.83" y="303.98" width="0.9" height="0.9" fill="#5f9ea0" fill-opacity="0.63"/>
<rect x="1065.08" y="287.18" width="1.06" height="1.06" fill="#5f9ea0" fill-opacity="0.44"/>
<rect x="1049.12" y="308.11" width="1.21" height="1.21" fill="#5f9ea0" fill-opacity="0.74"/>
<rect x="1068.47" y="306.44" width="1.09" height="1.09" fill="#5f9ea0" fill-opacity="0.64"/>
<rect x="1072.24" y="290.55" width="1.2" height="1.2" fill="#5f9ea0" fill-opacity="0.65"/>
<rect x="1048" y="284.74" width="1.26" height="1.26" fill="#5f9ea0" fill-opacity="0.62"/>
<rect x="1058.88" y="321.92" width="1.01" height="1.01" fill="#5f9ea0" fill-opacity="0.6"/>
<rect x="1070.4" y="279.34" width="1.49" height="1.49" fill="#5f9ea0" fill-opacity="0.35"/>
<rect x="1054.73" y="308.46" width="1.01" height="1.01" fill="#5f9ea0" fill-opacity="0.41"/>
<rect x="1054.18" y="299.69" width="0.94" height="0.94" fill="#5f9ea0" fill-opacity="0.73"/>
<rect x="1057.64" y="290.47" width="0.79" height="0.79" fill="#5f9ea0" fill-opacity="0.73"/>
<rect x="1056.17" y="294.82" width="0.97" height="0.97" fill="#5f9ea0" fill-opacity="0.61"/>
<rect x="1054.81" y="294.29" width="1.46" height="1.46" fill="#5f9ea0" fill-opacity="0.48"/>
<rect x="1057.66" y="319.12" width="0.82" height="0.82" fill="#5f9ea0" fill-opacity="0.62"/>
<rect x="1062.57" y="313.03" width="0.92" height="0.92" fill="#5f9ea0" fill-opacity="0.5"/>
<rect x="1069.12" y="297.1" width="1.05" height="1.05" fill="#5f9ea0" fill-opacity="0.6"/>
<rect x="1056.96" y="306.66" width="1.01" height="1.01" fill="#5f9ea0" fill-opacity="0.46"/>
<rect x="1068.23" y="323.13" width="0.73" height="0.73" fill="#5f9ea0" fill-opacity="0.67"/>
<rect x="1073.17" y="295.09" width="0.72" height="0.72" fill="#5f9ea0" fill-opacity="0.55"/>
<rect x="1072.07" y="304.09" width="1.26" height="1.26" fill="#5f9ea0" fill-opacity="0.45"/>
<rect x="1071.29" y="301.51" width="0.78" height="0.78" fill="#5f9ea0" fill-opacity="0.47"/>
<rect x="1036.94" y="306.62" width="1" height="1" fill="#5f9ea0" fill-opacity="0.4"/>
<rect x="1063.23" y="284.05" width="1.12" height="1.12" fill="#5f9ea0" fill-opacity="0.37"/>
<rect x="1062.26" y="309.78" width="1.14" height="1.14" fill="#5f9ea0" fill-opacity="0.44"/>
<rect x="1064.71" y="283.79" width="1.44" height="1.44" fill="#5f9ea0" fill-opacity="0.7"/>
<rect x="1071.93" y="302.32" width="0.76" height="0.76" fill="#5f9ea0" fill-opacity="0.71"/>
<rect x="1057.86" y="285.06" width="0.85" height="0.85" fill="#5f9ea0" fill-opacity="0.37"/>
<rect x="1063.89" y="289.15" width="1.2" height="1.2" fill="#5f9ea0" fill-opacity="0.54"/>
<rect x="1061.14" y="292.82" width="0.92" height="0.92" fill="#5f9ea0" fill-opacity="0.49"/>
<rect x="1053.83" y="313.57" width="1.41" height="1.41" fill="#5f9ea0" fill-opacity="0.38"/>
<rect x="1069.61" y="305.59" width="1.24" height="1.24" fill="#5f9ea0" fill-opacity="0.43"/>
<rect x="1057.74" y="304.19" width="0.73" height="0.73" fill="#5f9ea0" fill-opacity="0.55"/>
<rect x="1051.78" y="288.52" width="0.83" height="0.83" fill="#5f9ea0" fill-opacity="0.39"/>
<rect x="1069.99" y="296.02" width="1.03" height="1.03" fill="#5f9ea0" fill-opacity="0.63"/>
<rect x="1056.43" y="289.58" width="0.76" height="0.76" fill="#5f9ea0" fill-opacity="0.68"/>
<rect x="1058.88" y="303.58" width="0.98" height="0.98" fill="#5f9ea0" fill-opacity="0.56"/>
<rect x="1053.72" y="296.75" width="1.27" height="1.27" fill="#5f9ea0" fill-opacity="0.55"/>
<rect x="1068.91" y="316.57" width="1.35" height="1.35" fill="#5f9ea0" fill-opacity="0.71"/>
<rect x="1055.06" y="294.99" width="1.32" height="1.32" fill="#5f9ea0" fill-opacity="0.71"/>
<rect x="1035.83" y="296.68" width="1.48" height="1.48" fill="#5f9ea0" fill-opacity="0.51"/>
<rect x="1081.15" y="293.04" width="1.34" height="1.34" fill="#5f9ea0" fill-opacity="0.35"/>
<rect x="1049.58" y="311.35" width="1.19" height="1.19" fill="#5f9ea0" fill-opacity="0.65"/>
<rect x="1054.45" y="296.49" width="1.44" height="1.44" fill="#5f9ea0" fill-opacity="0.56"/>
<rect x="1063.44" y="296.61" width="1.5" height="1.5" fill="#5f9ea0" fill-opacity="0.57"/>
<rect x="1060.94" y="285.7" width="1.41" height="1.41" fill="#5f9ea0" fill-opacity="0.49"/>
<rect x="1067.45" y="305.72" width="0.84" height="0.84" fill="#5f9ea0" fill-opacity="0.57"/>
<rect x="1018.37" y="348.06" width="0.8" height="0.8" fill="#5f9ea0" fill-opacity="0.36"/>
<rect x="1003.31" y="354.26" width="0.72" height="0.72" fill="#5f9ea0" fill-opacity="0.62"/>
<rect x="1015.82" y="353.63" width="1.44" height="1.44" fill="#5f9ea0" fill-opacity="0.56"/>
<rect x="1023.96" y="348.62" width="0.8" height="0.8" fill="#5f9ea0" fill-opacity="0.45"/>
<rect x="1002.28" y="354.44" width="1.32" height="1.32" fill="#5f9ea0" fill-opacity="0.65"/>
<rect x="1010.34" y="349.1" width="1.04" height="1.04" fill="#5f9ea0" fill-opacity="0.5"/>
<rect x="1007.04" y="351.91" width="1.13" height="1.13" fill="#5f9ea0" fill-opacity="0.53"/>
<rect x="1032.4" y="353.42" width="1.17" height="1.17" fill="#5f9ea0" fill-opacity="0.67"/>
<rect x="1013.36" y="344.94" width="1.49" height="1.49" fill="#5f9ea0" fill-opacity="0.5"/>
<rect x="1014.03" y="351.92" width="1.23" height="1.23" fill="#5f9ea0" fill-opacity="0.58"/>
<rect x="984.58" y="344.97" width="0.86" height="0.86" fill="#5f9ea0" fill-opacity="0.44"/>
<rect x="1012.92" y="344.08" width="1.09" height="1.09" fill="#5f9ea0" fill-opacity="0.37"/>
<rect x="1002.16" y="357.39" width="1.1" height="1.1" fill="#5f9ea0" fill-opacity="0.53"/>
<rect x="1004.14" y="355.47" width="1.18" height="1.18" fill="#5f9ea0" fill-opacity="0.63"/>
<rect x="1025.48" y="346.47" width="1" height="1" fill="#5f9ea0" fill-opacity="0.45"/>
<rect x="1018.14" y="344.42" width="1.44" height="1.44" fill="#5f9ea0" fill-opacity="0.43"/>
<rect x="1026.52" y="344.5" width="0.76" height="0.76" fill="#5f9ea0" fill-opacity="0.47"/>
<rect x="1011.03" y="349.95" width="1.36" height="1.36" fill="#5f9ea0" fill-opacity="0.46"/>
<rect x="1011.32" y="348.51" width="0.87" height="0.87" fill="#5f9ea0" fill-opacity="0.43"/>
<rect x="999.27" y="351.8" width="0.87" height="0.87" fill="#5f9ea0" fill-opacity="0.62"/>
<rect x="1007.49" y="356.91" width="0.99" height="0.99" fill="#5f9ea0" fill-opacity="0.43"/>
<rect x="1016.82" y="352.82" width="1.26" height="1.26" fill="#5f9ea0" fill-opacity="0.52"/>
<rect x="1029.08" y="357.73" width="1.22" height="1.22" fill="#5f9ea0" fill-opacity="0.36"/>
<rect x="1012.62" y="346.15" width="1.06" height="1.06" fill="#5f9ea0" fill-opacity="0.55"/>
<rect x="1023.87" y="350.75" width="1.21" height="1.21" fill="#5f9ea0" fill-opacity="0.6"/>
<rect x="1008.71" y="354.58" width="1.3" height="1.3" fill="#5f9ea0" fill-opacity="0.6"/>
<rect x="1003.4" y="353.04" width="0.88" height="0.88" fill="#5f9ea0" fill-opacity="0.67"/>
<rect x="1028.6" y="352.45" width="1.06" height="1.06" fill="#5f9ea0" fill-opacity="0.44"/>
<rect x="1003.66" y="348.83" width="0.77" height="0.77" fill="#5f9ea0" fill-opacity="0.55"/>
<rect x="1023.59" y="358.15" width="0.96" height="0.96" fill="#5f9ea0" fill-opacity="0.48"/>
<rect x="1015.36" y="352.98" width="0.85" height="0.85" fill="#5f9ea0" fill-opacity="0.41"/>
<rect x="1001.24" y="345.99" width="0.88" height="0.88" fill="#5f9ea0" fill-opacity="0.39"/>
<rect x="1009.97" y="351.25" width="1.02" height="1.02" fill="#5f9ea0" fill-opacity="0.65"/>
<rect x="1019.09" y="357.91" width="1.13" height="1.13" fill="#5f9ea0" fill-opacity="0.38"/>
<rect x="1015.31" y="357.35" width="0.78" height="0.78" fill="#5f9ea0" fill-opacity="0.43"/>
<rect x="998.73" y="348.12" width="1.12" height="1.12" fill="#5f9ea0" fill-opacity="0.62"/>
<rect x="1022.97" y="351.9" width="0.95" height="0.95" fill="#5f9ea0" fill-opacity="0.72"/>
<rect x="1004" y="357.42" width="0.73" height="0.73" fill="#5f9ea0" fill-opacity="0.55"/>
<rect x="1027.71" y="347.17" width="1.16" height="1.16" fill="#5f9ea0" fill-opacity="0.42"/>
<rect x="1018.25" y="350.94" width="1.47" height="1.47" fill="#5f9ea0" fill-opacity="0.66"/>
<rect x="1012.42" y="346.65" width="0.83" height="0.83" fill="#5f9ea0" fill-opacity="0.49"/>
<rect x="1007.36" y="346.46" width="1.01" height="1.01" fill="#5f9ea0" fill-opacity="0.67"/>
<rect x="1022.28" y="352.83" width="0.77" height="0.77" fill="#5f9ea0" fill-opacity="0.48"/>
<rect x="1019.05" y="344.95" width="0.82" height="0.82" fill="#5f9ea0" fill-opacity="0.47"/>
<rect x="1025.65" y="355.69" width="1.05" height="1.05" fill="#5f9ea0" fill-opacity="0.44"/>
<rect x="1000.95" y="357.65" width="1.04" height="1.04" fill="#5f9ea0" fill-opacity="0.63"/>
<rect x="1007.01" y="348.29" width="1.15" height="1.15" fill="#5f9ea0" fill-opacity="0.5"/>
<rect x="1018.33" y="356.33" width="0.94" height="0.94" fill="#5f9ea0" fill-opacity="0.48"/>
<rect x="1023.08" y="360.22" width="1.04" height="1.04" fill="#5f9ea0" fill-opacity="0.43"/>
<rect x="1021.34" y="352.27" width="1.39" height="1.39" fill="#5f9ea0" fill-opacity="0.48"/>
<rect x="1011.18" y="349.07" width="1.22" height="1.22" fill="#5f9ea0" fill-opacity="0.53"/>
<rect x="1013.67" y="346.59" width="1" height="1" fill="#5f9ea0" fill-opacity="0.46"/>
<rect x="999.4" y="347.29" width="1.25" height="1.25" fill="#5f9ea0" fill-opacity="0.54"/>
<rect x="1004.96" y="359.46" width="1.38" height="1.38" fill="#5f9ea0" fill-opacity="0.41"/>
<rect x="1007.48" y="345.2" width="1.24" height="1.24" fill="#5f9ea0" fill-opacity="0.74"/>
<rect x="1020.01" y="349.53" width="1.5" height="1.5" fill="#5f9ea0" fill-opacity="0.48"/>
<rect x="995.24" y="359.55" width="0.83" height="0.83" fill="#5f9ea0" fill-opacity="0.51"/>
<rect x="1009.22" y="349.32" width="0.91" height="0.91" fill="#5f9ea0" fill-opacity="0.67"/>
<rect x="1002.45" y="347.21" width="1.33" height="1.33" fill="#5f9ea0" fill-opacity="0.7"/>
<rect x="1028.96" y="346.87" width="1.48" height="1.48" fill="#5f9ea0" fill-opacity="0.55"/>
<rect x="1011.18" y="346.9" width="1.48" height="1.48" fill="#5f9ea0" fill-opacity="0.61"/>
<rect x="1001.63" y="354.31" width="0.94" height="0.94" fill="#5f9ea0" fill-opacity="0.4"/>
<rect x="1010.69" y="353.18" width="0.7" height="0.7" fill="#5f9ea0" fill-opacity="0.39"/>
<rect x="998.8" y="353.71" width="0.74" height="0.74" fill="#5f9ea0" fill-opacity="0.6"/>
<rect x="1023.62" y="354.92" width="0.94" height="0.94" fill="#5f9ea0" fill-opacity="0.53"/>
<rect x="1012.31" y="347.5" width="1.01" height="1.01" fill="#5f9ea0" fill-opacity="0.64"/>
<rect x="1021.44" y="354.28" width="1.26" height="1.26" fill="#5f9ea0" fill-opacity="0.68"/>
<rect x="1022.16" y="351.28" width="1.2" height="1.2" fill="#5f9ea0" fill-opacity="0.48"/>
<rect x="1009.07" y="343.97" width="0.81" height="0.81" fill="#5f9ea0" fill-opacity="0.49"/>
<rect x="1023.07" y="350.18" width="1.21" height="1.21" fill="#5f9ea0" fill-opacity="0.68"/>
<rect x="1011.63" y="358.9" width="0.7" height="0.7" fill="#5f9ea0" fill-opacity="0.49"/>
<rect x="1019.18" y="355.04" width="0.87" height="0.87" fill="#5f9ea0" fill-opacity="0.36"/>
<rect x="1042.47" y="332.83" width="1.16" height="1.16" fill="#5f9ea0" fill-opacity="0.57"/>
<rect x="1052.21" y="327.32" width="1.2" height="1.2" fill="#5f9ea0" fill-opacity="0.42"/>
<rect x="1040.67" y="333.56" width="1.44" height="1.44" fill="#5f9ea0" fill-opacity="0.47"/>
<rect x="1040.22" y="339.98" width="1.02" height="1.02" fill="#5f9ea0" fill-opacity="0.67"/>
<rect x="1050.95" y="328.78" width="1.28" height="1.28" fill="#5f9ea0" fill-opacity="0.45"/>
<rect x="1036.5" y="340.36" width="1.05" height="1.05" fill="#5f9ea0" fill-opacity="0.7"/>
<rect x="1044.72" y="336.02" width="1.47" height="1.47" fill="#5f9ea0" fill-opacity="0.72"/>
<rect x="1024.76" y="338.16" width="1.33" height="1.33" fill="#5f9ea0" fill-opacity="0.42"/>
<rect x="1018.26" y="325.59" width="1.4" height="1.4" fill="#5f9ea0" fill-opacity="0.71"/>
<rect x="1054.62" y="340.57" width="1.09" height="1.09" fill="#5f9ea0" fill-opacity="0.71"/>
<rect x="1046.93" y="342.18" width="0.8" height="0.8" fill="#5f9ea0" fill-opacity="0.67"/>
<rect x="1039.9" y="334.7" width="0.95" height="0.95" fill="#5f9ea0" fill-opacity="0.41"/>
<rect x="1030.63" y="330.17" width="0.75" height="0.75" fill="#5f9ea0" fill-opacity="0.73"/>
<rect x="1051.36" y="334.78" width="1.16" height="1.16" fill="#5f9ea0" fill-opacity="0.5"/>
<rect x="1032.07" y="332.6" width="1.05" height="1.05" fill="#5f9ea0" fill-opacity="0.65"/>
<rect x="1043.77" y="340.41" width="1.31" height="1.31" fill="#5f9ea0" fill-opacity="0.44"/>
<rect x="1061.26" y="341.23" width="0.83" height="0.83" fill="#5f9ea0" fill-opacity="0.51"/>
<rect x="1037.19" y="340.08" width="0.98" height="0.98" fill="#5f9ea0" fill-opacity="0.56"/>
<rect x="1049.98" y="340.67" width="0.74" height="0.74" fill="#5f9ea0" fill-opacity="0.38"/>
<rect x="1042.65" y="340.03" width="0.97" height="0.97" fill="#5f9ea0" fill-opacity="0.47"/>
<rect x="1048.3" y="329.1" width="1.08" height="1.08" fill="#5f9ea0" fill-opacity="0.66"/>
<rect x="1036.78" y="331.62" width="1.19" height="1.19" fill="#5f9ea0" fill-opacity="0.65"/>
<rect x="1023.28" y="334.09" width="1.21" height="1.21" fill="#5f9ea0" fill-opacity="0.72"/>
<rect x="1038.97" y="344.37" width="1.48" height="1.48" fill="#5f9ea0" fill-opacity="0.56"/>
<rect x="1044.21" y="334.69" width="1.28" height="1.28" fill="#5f9ea0" fill-opacity="0.46"/>
<rect x="1040.37" y="330.23" width="1.13" height="1.13" fill="#5f9ea0" fill-opacity="0.45"/>
<rect x="1039.42" y="347.24" width="1.21" height="1.21" fill="#5f9ea0" fill-opacity="0.6"/>
<rect x="1046.86" y="339.17" width="1.47" height="1.47" fill="#5f9ea0" fill-opacity="0.43"/>
<rect x="1024.65" y="334.05" width="1.11" height="1.11" fill="#5f9ea0" fill-opacity="0.57"/>
<rect x="1058.27" y="334.27" width="0.89" height="0.89" fill="#5f9ea0" fill-opacity="0.52"/>
<rect x="1026.46" y="340.17" width="1.24" height="1.24" fill="#5f9ea0" fill-opacity="0.45"/>
<rect x="1036.42" y="330.54" width="0.71" height="0.71" fill="#5f9ea0" fill-opacity="0.47"/>
<rect x="1035.4" y="338.66" width="1.24" height="1.24" fill="#5f9ea0" fill-opacity="0.75"/>
<rect x="1053.75" y="332.8" width="1.39" height="1.39" fill="#5f9ea0" fill-opacity="0.55"/>
<rect x="1021.41" y="329.97" width="0.75" height="0.75" fill="#5f9ea0" fill-opacity="0.49"/>
<rect x="1033.63" y="339.7" width="1.04" height="1.04" fill="#5f9ea0" fill-opacity="0.37"/>
<rect x="1029.05" y="323.47" width="0.89" height="0.89" fill="#5f9ea0" fill-opacity="0.42"/>
<rect x="1030.89" y="344.66" width="0.88" height="0.88" fill="#5f9ea0" fill-opacity="0.66"/>
<rect x="1046.91" y="342.71" width="1.28" height="1.28" fill="#5f9ea0" fill-opacity="0.62"/>
<rect x="1062.95" y="343.15" width="1.38" height="1.38" fill="#5f9ea0" fill-opacity="0.54"/>
<rect x="1049.34" y="330.24" width="0.83" height="0.83" fill="#5f9ea0" fill-opacity="0.51"/>
<rect x="1045.37" y="330.46" width="0.73" height="0.73" fill="#5f9ea0" fill-opacity="0.42"/>
<rect x="1045.77" y="342.9" width="1.22" height="1.22" fill="#5f9ea0" fill-opacity="0.53"/>
<rect x="1018.28" y="344.22" width="0.97" height="0.97" fill="#5f9ea0" fill-opacity="0.62"/>
<rect x="1043.89" y="342.51" width="0.84" height="0.84" fill="#5f9ea0" fill-opacity="0.4"/>
<rect x="1037.67" y="338.44" width="1" height="1" fill="#5f9ea0" fill-opacity="0.61"/>
<rect x="1022.59" y="333.06" width="1.08" height="1.08" fill="#5f9ea0" fill-opacity="0.38"/>
<rect x="1038.85" y="330.48" width="1.3" height="1.3" fill="#5f9ea0" fill-opacity="0.74"/>
<rect x="1032.5" y="335.44" width="0.99" height="0.99" fill="#5f9ea0" fill-opacity="0.55"/>
<rect x="1038.31" y="338.42" width="1.02" height="1.02" fill="#5f9ea0" fill-opacity="0.61"/>
<rect x="1047.49" y="327.44" width="1.41" height="1.41" fill="#5f9ea0" fill-opacity="0.67"/>
<rect x="1027.58" y="340.32" width="0.74" height="0.74" fill="#5f9ea0" fill-opacity="0.67"/>
<rect x="1038.21" y="331.85" width="1.08" height="1.08" fill="#5f9ea0" fill-opacity="0.46"/>
<rect x="1043.43" y="330.43" width="1.32" height="1.32" fill="#5f9ea0" fill-opacity="0.72"/>
<rect x="1042.12" y="330.71" width="0.97" height="0.97" fill="#5f9ea0" fill-opacity="0.73"/>
<rect x="1045.95" y="334.04" width="0.99" height="0.99" fill="#5f9ea0" fill-opacity="0.67"/>
<rect x="1040.69" y="331.53" width="1.06" height="1.06" fill="#5f9ea0" fill-opacity="0.73"/>
<rect x="1047.41" y="338.48" width="1.23" height="1.23" fill="#5f9ea0" fill-opacity="0.71"/>
<rect x="1051.47" y="334.02" width="1.33" height="1.33" fill="#5f9ea0" fill-opacity="0.74"/>
<rect x="1036.75" y="339.6" width="0.91" height="0.91" fill="#5f9ea0" fill-opacity="0.66"/>
<rect x="1048.76" y="341.47" width="1.44" height="1.44" fill="#5f9ea0" fill-opacity="0.43"/>
<rect x="1031.48" y="331.12" width="1.47" height="1.47" fill="#5f9ea0" fill-opacity="0.56"/>
<rect x="1017.77" y="336.77" width="1.3" height="1.3" fill="#5f9ea0" fill-opacity="0.41"/>
<rect x="1066.16" y="354.85" width="1.47" height="1.47" fill="#5f9ea0" fill-opacity="0.74"/>
<rect x="1051.82" y="357.97" width="0.88" height="0.88" fill="#5f9ea0" fill-opacity="0.46"/>
<rect x="1064.39" y="359.66" width="1.28" height="1.28" fill="#5f9ea0" fill-opacity="0.37"/>
<rect x="1051.18" y="355.37" width="1.29" height="1.29" fill="#5f9ea0" fill-opacity="0.58"/>
<rect x="1070.29" y="356.71" width="0.77" height="0.77" fill="#5f9ea0" fill-opacity="0.58"/>
<rect x="1058.89" y="367.1" width="1.44" height="1.44" fill="#5f9ea0" fill-opacity="0.63"/>
<rect x="1066.59" y="355.8" width="1.09" height="1.09" fill="#5f9ea0" fill-opacity="0.5"/>
<rect x="1056.96" y="360.34" width="1.08" height="1.08" fill="#5f9ea0" fill-opacity="0.61"/>
<rect x="1075.52" y="358.45" width="0.8" height="0.8" fill="#5f9ea0" fill-opacity="0.74"/>
<rect x="1049.44" y="356.5" width="0.95" height="0.95" fill="#5f9ea0" fill-opacity="0.63"/>
<rect x="1056.95" y="351.16" width="1.16" height="1.16" fill="#5f9ea0" fill-opacity="0.46"/>
<rect x="1060.34" y="357.1" width="1.3" height="1.3" fill="#5f9ea0" fill-opacity="0.47"/>
<rect x="1061.6" y="356.19" width="1.18" height="1.18" fill="#5f9ea0" fill-opacity="0.42"/>
<rect x="1070.63" y="358.39" width="1.38" height="1.38" fill="#5f9ea0" fill-opacity="0.51"/>
<rect x="1044.36" y="357.04" width="1.48" height="1.48" fill="#5f9ea0" fill-opacity="0.45"/>
<rect x="1056.38" y="352.69" width="1.34" height="1.34" fill="#5f9ea0" fill-opacity="0.49"/>
<rect x="1044.59" y="358.71" width="0.9" height="0.9" fill="#5f9ea0" fill-opacity="0.54"/>
<rect x="1049.02" y="353.28" width="0.9" height="0.9" fill="#5f9ea0" fill-opacity="0.62"/>
<rect x="1063.91" y="359.63" width="1.08" height="1.08" fill="#5f9ea0" fill-opacity="0.61"/>
<rect x="1046.46" y="351.95" width="0.83" height="0.83" fill="#5f9ea0" fill-opacity="0.56"/>
<rect x="1054.63" y="358.14" width="1.43" height="1.43" fill="#5f9ea0" fill-opacity="0.41"/>
<rect x="1062.46" y="358.73" width="1.21" height="1.21" fill="#5f9ea0" fill-opacity="0.61"/>
<rect x="1066.55" y="364.82" width="1.21" height="1.21" fill="#5f9ea0" fill-opacity="0.43"/>
<rect x="1081.79" y="355.63" width="0.95" height="0.95" fill="#5f9ea0" fill-opacity="0.7"/>
<rect x="1069.27" y="359.95" width="1.04" height="1.04" fill="#5f9ea0" fill-opacity="0.73"/>
<rect x="1059.55" y="360.79" width="0.87" height="0.87" fill="#5f9ea0" fill-opacity="0.68"/>
<rect x="1070.89" y="363.4" width="0.97" height="0.97" fill="#5f9ea0" fill-opacity="0.57"/>
<rect x="1068.54" y="356.1" width="1.12" height="1.12" fill="#5f9ea0" fill-opacity="0.6"/>
<rect x="1053.21" y="356.33" width="1.22" height="1.22" fill="#5f9ea0" fill-opacity="0.48"/>
<rect x="1063.45" y="358.18" width="1.18" height="1.18" fill="#5f9ea0" fill-opacity="0.58"/>
<rect x="1064.53" y="356.09" width="1.24" height="1.24" fill="#5f9ea0" fill-opacity="0.53"/>
<rect x="1043.17" y="356.91" width="1.12" height="1.12" fill="#5f9ea0" fill-opacity="0.52"/>
<rect x="1059.05" y="356.43" width="1.4" height="1.4" fill="#5f9ea0" fill-opacity="0.56"/>
<rect x="1074.22" y="358.78" width="1.46" height="1.46" fill="#5f9ea0" fill-opacity="0.74"/>
<rect x="1055.31" y="358.93" width="1.45" height="1.45" fill="#5f9ea0" fill-opacity="0.46"/>
<rect x="1070.49" y="358.1" width="1.08" height="1.08" fill="#5f9ea0" fill-opacity="0.62"/>
<rect x="1085.64" y="330.07" width="1.28" height="1.28" fill="#5f9ea0" fill-opacity="0.49"/>
<rect x="1085.09" y="335.14" width="1.05" height="1.05" fill="#5f9ea0" fill-opacity="0.63"/>
<rect x="1072.74" y="329.15" width="1.11" height="1.11" fill="#5f9ea0" fill-opacity="0.74"/>
<rect x="1084.64" y="321.07" width="1.09" height="1.09" fill="#5f9ea0" fill-opacity="0.59"/>
<rect x="1080.23" y="329.63" width="1.41" height="1.41" fill="#5f9ea0" fill-opacity="0.67"/>
<rect x="1082.65" y="318.67" width="1.14" height="1.14" fill="#5f9ea0" fill-opacity="0.75"/>
<rect x="1068.1" y="330.57" width="0.76" height="0.76" fill="#5f9ea0" fill-opacity="0.5"/>
<rect x="1073.49" y="324.38" width="1.12" height="1.12" fill="#5f9ea0" fill-opacity="0.67"/>
<rect x="1076.47" y="333.5" width="1.34" height="1.34" fill="#5f9ea0" fill-opacity="0.59"/>
<rect x="1088.7" y="329.2" width="0.7" height="0.7" fill="#5f9ea0" fill-opacity="0.47"/>
<rect x="1087.85" y="333.74" width="0.83" height="0.83" fill="#5f9ea0" fill-opacity="0.64"/>
<rect x="1084.61" y="329.73" width="1.26" height="1.26" fill="#5f9ea0" fill-opacity="0.72"/>
<rect x="1087.69" y="331.2" width="1.02" height="1.02" fill="#5f9ea0" fill-opacity="0.6"/>
<rect x="1082.42" y="328.69" width="0.76" height="0.76" fill="#5f9ea0" fill-opacity="0.71"/>
<rect x="1074.91" y="328.67" width="0.81" height="0.81" fill="#5f9ea0" fill-opacity="0.62"/>
<rect x="1084.26" y="326.39" width="1.32" height="1.32" fill="#5f9ea0" fill-opacity="0.69"/>
<rect x="1087.92" y="327.96" width="1.22" height="1.22" fill="#5f9ea0" fill-opacity="0.49"/>
<rect x="1082.43" y="324.14" width="1.2" height="1.2" fill="#5f9ea0" fill-opacity="0.6"/>
<rect x="1090.19" y="327.7" width="0.78" height="0.78" fill="#5f9ea0" fill-opacity="0.42"/>
<rect x="1078.56" y="332.11" width="1.27" height="1.27" fill="#5f9ea0" fill-opacity="0.45"/>
<rect x="1076.63" y="326.33" width="0.94" height="0.94" fill="#5f9ea0" fill-opacity="0.61"/>
<rect x="1069.16" y="333.76" width="0.8" height="0.8" fill="#5f9ea0" fill-opacity="0.71"/>
<rect x="1078.1" y="324.17" width="0.76" height="0.76" fill="#5f9ea0" fill-opacity="0.61"/>
<rect x="1083.11" y="324" width="1.27" height="1.27" fill="#5f9ea0" fill-opacity="0.56"/>
<rect x="1089.77" y="333.47" width="0.95" height="0.95" fill="#5f9ea0" fill-opacity="0.54"/>
<rect x="1082.34" y="318.33" width="1.38" height="1.38" fill="#5f9ea0" fill-opacity="0.5"/>
<rect x="1083.23" y="325.97" width="1.14" height="1.14" fill="#5f9ea0" fill-opacity="0.52"/>
<path d="M1019.16 260.23 C1019.34 260.97 1018.97 263.02 1020.27 264.69 C1021.57 266.37 1024.73 270.27 1026.96 270.27 C1029.2 270.27 1032.26 266.37 1033.66 264.69 C1035.05 263.02 1035.05 260.97 1035.33 260.23" stroke="#5f9ea0" stroke-width="1.3" fill="none" stroke-linejoin="round"/>
<path d="M1025.29 260.23 C1025.38 260.6 1025.38 262 1025.85 262.46 C1026.31 262.93 1027.52 263.39 1028.08 263.02 C1028.64 262.65 1029.01 260.7 1029.2 260.23" stroke="#5f9ea0" stroke-width="1.3" fill="none" stroke-linejoin="round"/>
<path d="M1063.77 260.23 C1061.73 261.53 1054.29 265.62 1051.5 268.04 C1048.72 270.46 1047.23 272.78 1047.04 274.73 C1046.86 276.68 1048.34 278.73 1050.39 279.75 C1052.43 280.77 1055.78 281.05 1059.31 280.87 C1062.84 280.68 1067.86 279.75 1071.58 278.64 C1075.3 277.52 1078.65 275.48 1081.62 274.17 C1084.6 272.87 1088.13 271.39 1089.43 270.83" stroke="#5f9ea0" stroke-width="1.3" fill="none" stroke-linejoin="round"/>
<path d="M1060.99 272.5 C1061.17 272.04 1063.77 270.83 1064.89 270.83 C1066.01 270.83 1067.86 272.04 1067.68 272.5 C1067.49 272.97 1064.89 273.62 1063.77 273.62 C1062.66 273.62 1060.8 272.97 1060.99 272.5Z" stroke="#5f9ea0" stroke-width="1.3" fill="none" stroke-linejoin="round"/>
<path d="M981.23 293.69 C982.35 294.07 985.69 295 987.92 295.93 C990.15 296.85 991.64 300.02 994.62 299.27 C997.59 298.53 1001.87 293.04 1005.77 291.46 C1009.67 289.88 1014.32 290.91 1018.04 289.79 C1021.76 288.67 1025.11 285.42 1028.08 284.77 C1031.05 284.12 1033.47 284.77 1035.89 285.89 C1038.3 287 1041.28 289.05 1042.58 291.46 C1043.88 293.88 1044.25 297.23 1043.7 300.39 C1043.14 303.55 1040.35 307.08 1039.23 310.43 C1038.12 313.77 1036.82 318.05 1037 320.47 C1037.19 322.88 1039.98 323.44 1040.35 324.93 C1040.72 326.41 1040.54 328.09 1039.23 329.39 C1037.93 330.69 1034.77 333.11 1032.54 332.74 C1030.31 332.36 1028.27 329.02 1025.85 327.16 C1023.43 325.3 1020.46 322.14 1018.04 321.58 C1015.62 321.02 1013.58 321.39 1011.35 323.81 C1009.12 326.23 1006.7 332.36 1004.66 336.08 C1002.61 339.8 1001.12 344.82 999.08 346.12 C997.03 347.42 994.62 346.31 992.39 343.89 C990.15 341.47 987.55 334.97 985.69 331.62 C983.83 328.27 981.97 325.11 981.23 323.81" stroke="#5f9ea0" stroke-width="1.3" fill="none" stroke-linejoin="round"/>
<path d="M981.23 297.04 C982.35 297.32 985.69 297.97 987.92 298.71 C990.15 299.46 991.64 302.15 994.62 301.5 C997.59 300.85 1001.31 296.3 1005.77 294.81 C1010.23 293.32 1017.3 293.51 1021.39 292.58 C1025.48 291.65 1027.52 289.42 1030.31 289.23 C1033.1 289.05 1036.45 289.98 1038.12 291.46 C1039.79 292.95 1040.16 295.55 1040.35 298.16 C1040.54 300.76 1040.16 304.29 1039.23 307.08 C1038.3 309.87 1036.63 313.03 1034.77 314.89 C1032.91 316.75 1031.24 317.49 1028.08 318.23 C1024.92 318.98 1019.34 317.86 1015.81 319.35 C1012.28 320.84 1009.49 324 1006.89 327.16 C1004.28 330.32 1002.42 336.45 1000.19 338.31 C997.96 340.17 995.55 340.17 993.5 338.31 C991.46 336.45 989.6 330.13 987.92 327.16 C986.25 324.18 984.58 321.67 983.46 320.47 C982.35 319.26 981.6 320 981.23 319.91" stroke="#5f9ea0" stroke-width="1.3" fill="none" stroke-linejoin="round"/>
<path d="M981.23 302.62 C982.16 302.8 984.76 302.99 986.81 303.73 C988.85 304.48 990.34 308.01 993.5 307.08 C996.66 306.15 1002.42 299.74 1005.77 298.16 C1009.12 296.58 1010.23 297.6 1013.58 297.6 C1016.93 297.6 1022.87 297.6 1025.85 298.16 C1028.82 298.71 1030.31 299.64 1031.43 300.94 C1032.54 302.25 1033.1 304.38 1032.54 305.96 C1031.98 307.54 1030.87 309.31 1028.08 310.43 C1025.29 311.54 1019.16 312.1 1015.81 312.66 C1012.46 313.21 1010.05 312.29 1008 313.77 C1005.96 315.26 1004.84 319.54 1003.54 321.58 C1002.24 323.63 1001.68 325.11 1000.19 326.04 C998.71 326.97 996.1 328.09 994.62 327.16 C993.13 326.23 992.39 322.7 991.27 320.47 C990.15 318.23 989.6 315.26 987.92 313.77 C986.25 312.29 982.35 311.91 981.23 311.54" stroke="#5f9ea0" stroke-width="1.3" fill="none" stroke-linejoin="round"/>
<path d="M1005.77 303.73 C1005.77 302.34 1009.21 300.94 1011.35 300.94 C1013.49 300.94 1018.6 302.34 1018.6 303.73 C1018.6 305.13 1013.49 309.31 1011.35 309.31 C1009.21 309.31 1005.77 305.13 1005.77 303.73Z" stroke="#5f9ea0" stroke-width="1.3" fill="none" stroke-linejoin="round"/>
<path d="M993.5 314.89 C994.06 313.49 997.59 312.1 999.08 312.1 C1000.57 312.1 1002.05 313.49 1002.42 314.89 C1002.8 316.28 1002.42 319.54 1001.31 320.47 C1000.19 321.39 997.03 321.39 995.73 320.47 C994.43 319.54 992.94 316.28 993.5 314.89Z" stroke="#5f9ea0" stroke-width="1.3" fill="none" stroke-linejoin="round"/>
<path d="M1089.43 291.46 C1087.76 291.65 1081.62 291.28 1079.39 292.58 C1077.16 293.88 1075.86 297.04 1076.04 299.27 C1076.23 301.5 1079.2 304.29 1080.51 305.96 C1081.81 307.64 1083.29 308.75 1083.85 309.31" stroke="#5f9ea0" stroke-width="1.3" fill="none" stroke-linejoin="round"/>
<path d="M1089.43 303.73 C1088.87 303.92 1087.01 303.92 1086.08 304.85 C1085.15 305.78 1084.22 308.57 1083.85 309.31" stroke="#5f9ea0" stroke-width="1.3" fill="none" stroke-linejoin="round"/>
<path d="M1089.43 309.31 C1087.2 309.4 1080.32 308.75 1076.04 309.87 C1071.77 310.98 1067.68 313.49 1063.77 316 C1059.87 318.51 1054.85 321.58 1052.62 324.93 C1050.39 328.27 1049.65 331.99 1050.39 336.08 C1051.13 340.17 1054.85 346.49 1057.08 349.47 C1059.31 352.44 1060.43 353.74 1063.77 353.93 C1067.12 354.11 1072.88 352.26 1077.16 350.58 C1081.44 348.91 1087.38 345.01 1089.43 343.89" stroke="#5f9ea0" stroke-width="1.3" fill="none" stroke-linejoin="round"/>
<path d="M1089.43 312.66 C1087.57 312.66 1081.25 311.91 1078.27 312.66 C1075.3 313.4 1073.07 315.07 1071.58 317.12 C1070.09 319.16 1068.98 322.14 1069.35 324.93 C1069.72 327.72 1071.77 331.62 1073.81 333.85 C1075.86 336.08 1079.02 337.57 1081.62 338.31 C1084.22 339.06 1088.13 338.31 1089.43 338.31" stroke="#5f9ea0" stroke-width="1.3" fill="none" stroke-linejoin="round"/>
<path d="M1058.2 336.08 C1059.13 334.32 1061.73 332.18 1063.77 332.18 C1065.82 332.18 1068.98 334.32 1070.47 336.08 C1071.95 337.85 1073.26 340.54 1072.7 342.77 C1072.14 345.01 1068.98 348.54 1067.12 349.47 C1065.26 350.4 1063.03 349.47 1061.54 348.35 C1060.06 347.24 1058.75 344.82 1058.2 342.77 C1057.64 340.73 1057.27 337.85 1058.2 336.08Z" stroke="#5f9ea0" stroke-width="1.3" fill="none" stroke-linejoin="round"/>
<line x1="990.1" y1="259.9" x2="990.1" y2="364.4" stroke="#000" stroke-width="1.3" />
<line x1="980.9" y1="317.18" x2="1089.5" y2="317.18" stroke="#000" stroke-width="1.3" />
</g>
<rect x="987.2" y="314.28" width="5.8" height="5.8" stroke="none" stroke-width="0" fill="#000" />
<line x1="884.1" y1="144.5" x2="884.1" y2="149.5" stroke="#111" stroke-width="1" />
<line x1="907.06" y1="144.5" x2="907.06" y2="149.5" stroke="#111" stroke-width="1" />
<line x1="930.02" y1="144.5" x2="930.02" y2="149.5" stroke="#111" stroke-width="1" />
<line x1="952.98" y1="144.5" x2="952.98" y2="149.5" stroke="#111" stroke-width="1" />
<rect x="866.4" y="39.8" width="109" height="104.7" stroke="#111" stroke-width="1.45" fill="none" />
<line x1="884.1" y1="254.1" x2="884.1" y2="259.1" stroke="#111" stroke-width="1" />
<line x1="907.06" y1="254.1" x2="907.06" y2="259.1" stroke="#111" stroke-width="1" />
<line x1="930.02" y1="254.1" x2="930.02" y2="259.1" stroke="#111" stroke-width="1" />
<line x1="952.98" y1="254.1" x2="952.98" y2="259.1" stroke="#111" stroke-width="1" />
<line x1="861.4" y1="245" x2="866.4" y2="245" stroke="#111" stroke-width="1" />
<line x1="861.4" y1="221.24" x2="866.4" y2="221.24" stroke="#111" stroke-width="1" />
<line x1="861.4" y1="197.48" x2="866.4" y2="197.48" stroke="#111" stroke-width="1" />
<line x1="861.4" y1="173.72" x2="866.4" y2="173.72" stroke="#111" stroke-width="1" />
<rect x="866.4" y="149.9" width="109" height="104.2" stroke="#111" stroke-width="1.45" fill="none" />
<line x1="990.1" y1="254.1" x2="990.1" y2="259.1" stroke="#111" stroke-width="1" />
<line x1="1015.18" y1="254.1" x2="1015.18" y2="259.1" stroke="#111" stroke-width="1" />
<line x1="1040.26" y1="254.1" x2="1040.26" y2="259.1" stroke="#111" stroke-width="1" />
<line x1="1065.34" y1="254.1" x2="1065.34" y2="259.1" stroke="#111" stroke-width="1" />
<rect x="980.9" y="149.9" width="108.6" height="104.2" stroke="#111" stroke-width="1.45" fill="none" />
<line x1="884.1" y1="364.4" x2="884.1" y2="369.4" stroke="#111" stroke-width="1" />
<line x1="907.06" y1="364.4" x2="907.06" y2="369.4" stroke="#111" stroke-width="1" />
<line x1="930.02" y1="364.4" x2="930.02" y2="369.4" stroke="#111" stroke-width="1" />
<line x1="952.98" y1="364.4" x2="952.98" y2="369.4" stroke="#111" stroke-width="1" />
<line x1="861.4" y1="337.9" x2="866.4" y2="337.9" stroke="#111" stroke-width="1" />
<line x1="861.4" y1="312" x2="866.4" y2="312" stroke="#111" stroke-width="1" />
<line x1="861.4" y1="286.1" x2="866.4" y2="286.1" stroke="#111" stroke-width="1" />
<rect x="866.4" y="259.9" width="109" height="104.5" stroke="#111" stroke-width="1.45" fill="none" />
<line x1="990.1" y1="364.4" x2="990.1" y2="369.4" stroke="#111" stroke-width="1" />
<line x1="1015.18" y1="364.4" x2="1015.18" y2="369.4" stroke="#111" stroke-width="1" />
<line x1="1040.26" y1="364.4" x2="1040.26" y2="369.4" stroke="#111" stroke-width="1" />
<line x1="1065.34" y1="364.4" x2="1065.34" y2="369.4" stroke="#111" stroke-width="1" />
<line x1="975.9" y1="337.9" x2="980.9" y2="337.9" stroke="#111" stroke-width="1" />
<line x1="975.9" y1="312" x2="980.9" y2="312" stroke="#111" stroke-width="1" />
<line x1="975.9" y1="286.1" x2="980.9" y2="286.1" stroke="#111" stroke-width="1" />
<rect x="980.9" y="259.9" width="108.6" height="104.5" stroke="#111" stroke-width="1.45" fill="none" />
<line x1="1122.36" y1="364.4" x2="1122.36" y2="369.4" stroke="#111" stroke-width="1" />
<line x1="1149.5" y1="364.4" x2="1149.5" y2="369.4" stroke="#111" stroke-width="1" />
<line x1="1176.64" y1="364.4" x2="1176.64" y2="369.4" stroke="#111" stroke-width="1" />
<rect x="1095.2" y="259.9" width="108.8" height="104.5" stroke="#111" stroke-width="1.45" fill="none" />
<text x="883.3" y="389.55" text-anchor="middle" fill="#000" stroke="#000" stroke-width="0.1" font-family="Liberation Sans" textLength="22.11" lengthAdjust="spacingAndGlyphs" transform="rotate(-45 883.3 384.35)"><tspan font-size="14.46" dy="0">0.8</tspan></text>
<text x="906.26" y="389.55" text-anchor="middle" fill="#000" stroke="#000" stroke-width="0.1" font-family="Liberation Sans" textLength="22.11" lengthAdjust="spacingAndGlyphs" transform="rotate(-45 906.26 384.35)"><tspan font-size="14.46" dy="0">1.6</tspan></text>
<text x="929.22" y="389.55" text-anchor="middle" fill="#000" stroke="#000" stroke-width="0.1" font-family="Liberation Sans" textLength="22.11" lengthAdjust="spacingAndGlyphs" transform="rotate(-45 929.22 384.35)"><tspan font-size="14.46" dy="0">2.4</tspan></text>
<text x="952.18" y="389.55" text-anchor="middle" fill="#000" stroke="#000" stroke-width="0.1" font-family="Liberation Sans" textLength="22.11" lengthAdjust="spacingAndGlyphs" transform="rotate(-45 952.18 384.35)"><tspan font-size="14.46" dy="0">3.2</tspan></text>
<text x="989.3" y="387.99" text-anchor="middle" fill="#000" stroke="#000" stroke-width="0.1" font-family="Liberation Sans" textLength="17.69" lengthAdjust="spacingAndGlyphs" transform="rotate(-45 989.3 382.79)"><tspan font-size="14.46" dy="0">40</tspan></text>
<text x="1014.38" y="387.99" text-anchor="middle" fill="#000" stroke="#000" stroke-width="0.1" font-family="Liberation Sans" textLength="17.69" lengthAdjust="spacingAndGlyphs" transform="rotate(-45 1014.38 382.79)"><tspan font-size="14.46" dy="0">80</tspan></text>
<text x="1039.46" y="391.12" text-anchor="middle" fill="#000" stroke="#000" stroke-width="0.1" font-family="Liberation Sans" textLength="26.53" lengthAdjust="spacingAndGlyphs" transform="rotate(-45 1039.46 385.92)"><tspan font-size="14.46" dy="0">120</tspan></text>
<text x="1064.54" y="391.12" text-anchor="middle" fill="#000" stroke="#000" stroke-width="0.1" font-family="Liberation Sans" textLength="26.53" lengthAdjust="spacingAndGlyphs" transform="rotate(-45 1064.54 385.92)"><tspan font-size="14.46" dy="0">160</tspan></text>
<text x="1121.56" y="388.98" text-anchor="middle" fill="#000" stroke="#000" stroke-width="0.1" font-family="Liberation Sans" textLength="20.48" lengthAdjust="spacingAndGlyphs" transform="rotate(-45 1121.56 383.78)"><tspan font-size="14.46" dy="0">−2</tspan></text>
<text x="1148.7" y="384.86" text-anchor="middle" fill="#000" stroke="#000" stroke-width="0.1" font-family="Liberation Sans" textLength="8.84" lengthAdjust="spacingAndGlyphs" transform="rotate(-45 1148.7 379.66)"><tspan font-size="14.46" dy="0">0</tspan></text>
<text x="1175.84" y="384.86" text-anchor="middle" fill="#000" stroke="#000" stroke-width="0.1" font-family="Liberation Sans" textLength="8.84" lengthAdjust="spacingAndGlyphs" transform="rotate(-45 1175.84 379.66)"><tspan font-size="14.46" dy="0">2</tspan></text>
<text x="847.71" y="255.75" text-anchor="middle" fill="#000" stroke="#000" stroke-width="0.1" font-family="Liberation Sans" textLength="17.69" lengthAdjust="spacingAndGlyphs" transform="rotate(-45 847.71 250.55)"><tspan font-size="14.46" dy="0">40</tspan></text>
<text x="847.71" y="231.99" text-anchor="middle" fill="#000" stroke="#000" stroke-width="0.1" font-family="Liberation Sans" textLength="17.69" lengthAdjust="spacingAndGlyphs" transform="rotate(-45 847.71 226.79)"><tspan font-size="14.46" dy="0">80</tspan></text>
<text x="844.58" y="211.36" text-anchor="middle" fill="#000" stroke="#000" stroke-width="0.1" font-family="Liberation Sans" textLength="26.53" lengthAdjust="spacingAndGlyphs" transform="rotate(-45 844.58 206.16)"><tspan font-size="14.46" dy="0">120</tspan></text>
<text x="844.58" y="187.6" text-anchor="middle" fill="#000" stroke="#000" stroke-width="0.1" font-family="Liberation Sans" textLength="26.53" lengthAdjust="spacingAndGlyphs" transform="rotate(-45 844.58 182.4)"><tspan font-size="14.46" dy="0">160</tspan></text>
<text x="846.72" y="349.64" text-anchor="middle" fill="#000" stroke="#000" stroke-width="0.1" font-family="Liberation Sans" textLength="20.48" lengthAdjust="spacingAndGlyphs" transform="rotate(-45 846.72 344.44)"><tspan font-size="14.46" dy="0">−2</tspan></text>
<text x="850.84" y="319.63" text-anchor="middle" fill="#000" stroke="#000" stroke-width="0.1" font-family="Liberation Sans" textLength="8.84" lengthAdjust="spacingAndGlyphs" transform="rotate(-45 850.84 314.43)"><tspan font-size="14.46" dy="0">0</tspan></text>
<text x="850.84" y="293.73" text-anchor="middle" fill="#000" stroke="#000" stroke-width="0.1" font-family="Liberation Sans" textLength="8.84" lengthAdjust="spacingAndGlyphs" transform="rotate(-45 850.84 288.53)"><tspan font-size="14.46" dy="0">2</tspan></text>
<text x="920.8" y="413.5" text-anchor="middle" fill="#000" stroke="#000" stroke-width="0.1" font-family="Liberation Sans" textLength="10.06" lengthAdjust="spacingAndGlyphs"><tspan font-size="16.52" font-style="italic" dy="0">σ</tspan></text>
<text x="1035" y="413.5" text-anchor="middle" fill="#000" stroke="#000" stroke-width="0.1" font-family="Liberation Sans" textLength="15.94" lengthAdjust="spacingAndGlyphs"><tspan font-size="16.52" font-style="italic" dy="0">δt</tspan></text>
<text x="1149" y="413.5" text-anchor="middle" fill="#000" stroke="#000" stroke-width="0.1" font-family="Liberation Sans" textLength="10.47" lengthAdjust="spacingAndGlyphs"><tspan font-size="16.52" font-style="italic" dy="0">α</tspan></text>
<text x="822" y="202" text-anchor="middle" fill="#000" stroke="#000" stroke-width="0.1" font-family="Liberation Sans" textLength="15.94" lengthAdjust="spacingAndGlyphs" transform="rotate(-90 822 202)"><tspan font-size="16.52" font-style="italic" dy="0">δt</tspan></text>
<text x="824" y="312" text-anchor="middle" fill="#000" stroke="#000" stroke-width="0.1" font-family="Liberation Sans" textLength="10.47" lengthAdjust="spacingAndGlyphs" transform="rotate(-90 824 312)"><tspan font-size="16.52" font-style="italic" dy="0">α</tspan></text>
<text x="870.3" y="35.4" text-anchor="start" fill="#000" stroke="#000" stroke-width="0.1" font-family="Liberation Sans" textLength="66.65" lengthAdjust="spacingAndGlyphs"><tspan font-size="16.52" font-style="italic" dy="0">σ</tspan><tspan font-size="16.52" dy="0"> = 1.11</tspan></text>
<text x="937.25" y="28.6" text-anchor="start" fill="#000" stroke="#000" stroke-width="0.1" font-family="Liberation Sans" textLength="31.36" lengthAdjust="spacingAndGlyphs"><tspan font-size="11.44" dy="0">+2.04</tspan></text>
<text x="937.25" y="39.3" text-anchor="start" fill="#000" stroke="#000" stroke-width="0.1" font-family="Liberation Sans" textLength="31.36" lengthAdjust="spacingAndGlyphs"><tspan font-size="11.44" dy="0">−0.71</tspan></text>
<text x="975.3" y="145.3" text-anchor="start" fill="#000" stroke="#000" stroke-width="0.1" font-family="Liberation Sans" textLength="82.12" lengthAdjust="spacingAndGlyphs"><tspan font-size="16.52" font-style="italic" dy="0">δt</tspan><tspan font-size="16.52" dy="0"> = 93.16</tspan></text>
<text x="1057.72" y="138.5" text-anchor="start" fill="#000" stroke="#000" stroke-width="0.1" font-family="Liberation Sans" textLength="37.87" lengthAdjust="spacingAndGlyphs"><tspan font-size="11.44" dy="0">+77.61</tspan></text>
<text x="1057.72" y="149.2" text-anchor="start" fill="#000" stroke="#000" stroke-width="0.1" font-family="Liberation Sans" textLength="37.87" lengthAdjust="spacingAndGlyphs"><tspan font-size="11.44" dy="0">−42.29</tspan></text>
<text x="1100.8" y="254.5" text-anchor="start" fill="#000" stroke="#000" stroke-width="0.1" font-family="Liberation Sans" textLength="67.04" lengthAdjust="spacingAndGlyphs"><tspan font-size="16.52" font-style="italic" dy="0">α</tspan><tspan font-size="16.52" dy="0"> = 0.17</tspan></text>
<text x="1168.14" y="247.7" text-anchor="start" fill="#000" stroke="#000" stroke-width="0.1" font-family="Liberation Sans" textLength="31.36" lengthAdjust="spacingAndGlyphs"><tspan font-size="11.44" dy="0">+0.78</tspan></text>
<text x="1168.14" y="258.4" text-anchor="start" fill="#000" stroke="#000" stroke-width="0.1" font-family="Liberation Sans" textLength="31.36" lengthAdjust="spacingAndGlyphs"><tspan font-size="11.44" dy="0">−1.53</tspan></text>
<text x="602.9" y="456.6" font-size="23" text-anchor="middle" font-family="Liberation Serif">(a)</text>
</g>
<g transform="translate(0,506.4)">
<text x="24" y="17.4" text-anchor="start" fill="#000" stroke="#000" stroke-width="0.1" font-family="Liberation Sans" textLength="178" lengthAdjust="spacingAndGlyphs"><tspan font-size="16.52" dy="0">Bursty continuity prior</tspan></text>
<line x1="230.8" y1="8.6" x2="262.5" y2="8.6" stroke="#5a5a5a" stroke-width="1.45" stroke-dasharray="1.45 2.3"/>
<text x="275.5" y="13.6" text-anchor="start" fill="#000" stroke="#000" stroke-width="0.1" font-family="Liberation Sans" textLength="318.86" lengthAdjust="spacingAndGlyphs"><tspan font-size="16.52" dy="0">True SFH (</tspan><tspan font-size="16.52" font-style="italic" dy="0">σ</tspan><tspan font-size="16.52" dy="0">=0.8dex, </tspan><tspan font-size="16.52" font-style="italic" dy="0">δt</tspan><tspan font-size="16.52" dy="0">=40Myr, </tspan><tspan font-size="16.52" font-style="italic" dy="0">α</tspan><tspan font-size="16.52" dy="0">=-0.4)</tspan></text>
<line x1="230.5" y1="32.5" x2="262.5" y2="32.5" stroke="#b56aa6" stroke-width="2" />
<text x="275.5" y="37.6" text-anchor="start" fill="#000" stroke="#000" stroke-width="0.1" font-family="Liberation Sans" textLength="193.81" lengthAdjust="spacingAndGlyphs"><tspan font-size="16.52" dy="0">Inferred from SED fitting</tspan></text>
<line x1="626.3" y1="8.5" x2="658" y2="8.5" stroke="#5f9ea0" stroke-width="2.1" stroke-dasharray="12.7 2.6 1.4 2.6"/>
<text x="670" y="13.6" text-anchor="start" fill="#000" stroke="#000" stroke-width="0.1" font-family="Liberation Sans" textLength="240.28" lengthAdjust="spacingAndGlyphs"><tspan font-size="16.52" dy="0">Best-fit periodic interpretation</tspan></text>
<g clip-path="url(#clipsed)">
<path d="M100.6 307.2 L102.3 310.6 L105.3 302.6 L108.3 308.6 L110.3 307.9 L113.6 321.8 L116.9 321.2 L119.6 306.6 L122.9 306.6 L127.5 302.3 L130.9 310.6 L134.2 306.6 L137.5 303.9 L142.1 311.2 L146.1 303.3 L149.4 306.6 L153.4 305.2 L158.7 303.9 L162.1 302.6 L168 307.9 L172.2 305.2 L173.6 308.8 L178.7 317.9 L183 316.1 L188.8 312.5 L196 304.5 L200.4 308.1 L204.7 306.7 L207.6 303.8 L212 300.9 L216.3 299.4 L222.1 300.2 L227.1 298.4 L231.5 299.8 L236.5 298 L241.6 299.1 L245.2 278.2 L247.8 263.7 L248.8 247.2 L251.4 229.6 L254 227.9 L257.2 214.7 L259.7 220.8 L262.5 212.9 L267.2 220.8 L270.7 212 L276.9 208.5 L283.9 209.4 L286.5 201.5 L287.9 158.7 L288.8 128.6 L289.7 158.7 L290.9 201.5 L292.7 213.8 L297.1 209.4 L299.7 210.3 L303.2 205 L312 204.1 L317.3 206.8 L322.5 205 L327.2 204.1 L328.4 183.7 L329.2 136.5 L330 183.7 L331 202.2 L335.1 203.7 L339.5 200.8 L345.3 197.7 L349.6 193.3 L355.4 191.9 L357.6 194.8 L362.6 192.2 L367 193.3 L371.3 189 L376.4 185.3 L380 183.9 L382.2 183.2 L383.2 172 L384 161.5 L384.8 172 L385.8 182.5 L390.1 182.5 L394.5 183.9 L401.7 186.1 L401.7 202.1 L394.5 199.9 L390.1 198.5 L385.8 198.5 L384.8 188 L384 177.5 L383.2 188 L382.2 199.2 L380 199.9 L376.4 201.3 L371.3 205 L367 209.3 L362.6 208.2 L357.6 210.8 L355.4 207.9 L349.6 209.3 L345.3 213.7 L339.5 213.4 L335.1 216.3 L331 214.8 L330 196.3 L329.2 149.1 L328.4 196.3 L327.2 216.7 L322.5 217.6 L317.3 219.4 L312 216.7 L303.2 217.6 L299.7 222.9 L297.1 222 L292.7 226.4 L290.9 214.1 L289.7 171.3 L288.8 141.2 L287.9 171.3 L286.5 214.1 L283.9 222 L276.9 221.1 L270.7 224.6 L267.2 233.4 L262.5 225.5 L259.7 233.4 L257.2 227.3 L254 240.5 L251.4 242.2 L248.8 259.8 L247.8 276.3 L245.2 290.8 L241.6 311.7 L236.5 310 L231.5 311.8 L227.1 310.4 L222.1 312.2 L216.3 311.4 L212 312.9 L207.6 315.8 L204.7 318.7 L200.4 320.1 L196 316.5 L188.8 324.5 L183 328.1 L178.7 329.9 L173.6 320.8 L172.2 317.2 L168 319.9 L162.1 314.6 L158.7 315.9 L153.4 317.2 L149.4 318.6 L146.1 315.3 L142.1 323.2 L137.5 315.9 L134.2 318.6 L130.9 322.6 L127.5 314.3 L122.9 318.6 L119.6 318.6 L116.9 333.2 L113.6 333.8 L110.3 319.9 L108.3 320.6 L105.3 314.6 L102.3 322.6 L100.6 319.2" stroke="none" stroke-width="0" fill="#e0e0e0" stroke-linejoin="round"/>
<line x1="345.26" y1="195.65" x2="345.26" y2="215.65" stroke="#e2e2e2" stroke-width="1.6" />
<line x1="346.71" y1="194.93" x2="346.71" y2="214.93" stroke="#e2e2e2" stroke-width="1.6" />
<line x1="348.15" y1="191.31" x2="348.15" y2="211.31" stroke="#e2e2e2" stroke-width="1.6" />
<line x1="349.96" y1="182.63" x2="349.96" y2="202.63" stroke="#e2e2e2" stroke-width="1.6" />
<line x1="351.77" y1="187.69" x2="351.77" y2="207.69" stroke="#e2e2e2" stroke-width="1.6" />
<line x1="353.22" y1="194.93" x2="353.22" y2="214.93" stroke="#e2e2e2" stroke-width="1.6" />
<line x1="355.39" y1="184.44" x2="355.39" y2="204.44" stroke="#e2e2e2" stroke-width="1.6" />
<line x1="357.2" y1="189.86" x2="357.2" y2="209.86" stroke="#e2e2e2" stroke-width="1.6" />
<line x1="359.01" y1="188.42" x2="359.01" y2="208.42" stroke="#e2e2e2" stroke-width="1.6" />
<line x1="360.46" y1="191.31" x2="360.46" y2="211.31" stroke="#e2e2e2" stroke-width="1.6" />
<line x1="361.9" y1="186.97" x2="361.9" y2="206.97" stroke="#e2e2e2" stroke-width="1.6" />
<line x1="363.35" y1="189.86" x2="363.35" y2="209.86" stroke="#e2e2e2" stroke-width="1.6" />
<line x1="364.8" y1="184.8" x2="364.8" y2="204.8" stroke="#e2e2e2" stroke-width="1.6" />
<line x1="366.24" y1="199.99" x2="366.24" y2="219.99" stroke="#e2e2e2" stroke-width="1.6" />
<line x1="367.33" y1="194.2" x2="367.33" y2="214.2" stroke="#e2e2e2" stroke-width="1.6" />
<line x1="368.42" y1="192.03" x2="368.42" y2="212.03" stroke="#e2e2e2" stroke-width="1.6" />
<line x1="369.86" y1="191.31" x2="369.86" y2="211.31" stroke="#e2e2e2" stroke-width="1.6" />
<line x1="371.67" y1="185.52" x2="371.67" y2="205.52" stroke="#e2e2e2" stroke-width="1.6" />
<line x1="372.76" y1="176.84" x2="372.76" y2="196.84" stroke="#e2e2e2" stroke-width="1.6" />
<line x1="373.84" y1="188.42" x2="373.84" y2="208.42" stroke="#e2e2e2" stroke-width="1.6" />
<line x1="374.93" y1="192.03" x2="374.93" y2="212.03" stroke="#e2e2e2" stroke-width="1.6" />
<line x1="376.01" y1="181.18" x2="376.01" y2="201.18" stroke="#e2e2e2" stroke-width="1.6" />
<line x1="377.1" y1="171.77" x2="377.1" y2="191.77" stroke="#e2e2e2" stroke-width="1.6" />
<line x1="378.55" y1="184.07" x2="378.55" y2="204.07" stroke="#e2e2e2" stroke-width="1.6" />
<line x1="379.99" y1="168.88" x2="379.99" y2="188.88" stroke="#e2e2e2" stroke-width="1.6" />
<line x1="381.08" y1="179.73" x2="381.08" y2="199.73" stroke="#e2e2e2" stroke-width="1.6" />
<line x1="382.16" y1="184.07" x2="382.16" y2="204.07" stroke="#e2e2e2" stroke-width="1.6" />
<line x1="383.97" y1="157.66" x2="383.97" y2="177.66" stroke="#e2e2e2" stroke-width="1.6" />
<line x1="385.78" y1="177.56" x2="385.78" y2="197.56" stroke="#e2e2e2" stroke-width="1.6" />
<line x1="387.23" y1="186.24" x2="387.23" y2="206.24" stroke="#e2e2e2" stroke-width="1.6" />
<line x1="388.68" y1="179.73" x2="388.68" y2="199.73" stroke="#e2e2e2" stroke-width="1.6" />
<line x1="390.12" y1="169.6" x2="390.12" y2="189.6" stroke="#e2e2e2" stroke-width="1.6" />
<line x1="391.21" y1="179.01" x2="391.21" y2="199.01" stroke="#e2e2e2" stroke-width="1.6" />
<line x1="392.29" y1="185.52" x2="392.29" y2="205.52" stroke="#e2e2e2" stroke-width="1.6" />
<line x1="394.46" y1="178.29" x2="394.46" y2="198.29" stroke="#e2e2e2" stroke-width="1.6" />
<line x1="395.91" y1="188.42" x2="395.91" y2="208.42" stroke="#e2e2e2" stroke-width="1.6" />
<line x1="397.36" y1="179.01" x2="397.36" y2="199.01" stroke="#e2e2e2" stroke-width="1.6" />
<line x1="399.53" y1="179.73" x2="399.53" y2="199.73" stroke="#e2e2e2" stroke-width="1.6" />
<line x1="400.62" y1="175.39" x2="400.62" y2="195.39" stroke="#e2e2e2" stroke-width="1.6" />
<line x1="400.98" y1="191.31" x2="400.98" y2="211.31" stroke="#e2e2e2" stroke-width="1.6" />
<line x1="401.7" y1="185.52" x2="401.7" y2="205.52" stroke="#e2e2e2" stroke-width="1.6" />
<path d="M100.6 315.6 L102.3 311.9 L105.3 308.6 L107.6 311.2 L109.6 312.6 L111.3 317.9 L113.3 325.9 L114.9 327.5 L116.9 324.5 L118.9 317.9 L120.9 312.6 L122.9 313.2 L125.5 316.6 L127.5 314.6 L130.9 312.9 L134.2 312.9 L137.5 309.9 L141.5 311.2 L143.5 313.9 L146.1 311.9 L149.4 309.9 L152.1 309.6 L155.4 312.9 L158.7 310.6 L162.1 307.6 L165.4 309.9 L168.7 312.6 L172.9 316.3 L176.5 322.8 L180.9 322.1 L185.2 323.2 L189.5 316.3 L195.3 309.8 L198.9 312.7 L203.3 314.8 L207.6 311.6 L213.4 309.1 L217 302.9 L222.1 303.3 L227.9 301.5 L233.7 302.5 L236.5 304.7 L238.7 308.3 L241.6 305.8 L244.5 288.8 L246.7 274.3 L248.8 253.5 L251.4 235.9 L254 234.2 L257.2 221 L259.7 227.1 L262.5 219.2 L267.2 227.1 L270.7 218.3 L276.9 214.8 L283.9 215.7 L286.5 207.8 L287.9 165 L288.8 134.9 L289.7 165 L290.9 207.8 L292.7 220.1 L297.1 215.7 L299.7 216.6 L303.2 211.3 L312 210.4 L317.3 213.1 L322.5 211.3 L327.2 210.4 L328.4 190 L329.2 142.8 L330 190 L331 208.5 L335.1 210 L339.5 207.1 L345.3 205.7" stroke="#000" stroke-width="1.6" fill="none" stroke-linejoin="round"/>
<path d="M345.26 205.65 L345.74 204.18 L346.23 202.72 L346.71 204.93 L347.19 204.78 L347.67 199.52 L348.15 201.31 L348.76 198.67 L349.36 194.58 L349.96 192.63 L350.57 191.22 L351.17 196.06 L351.77 197.69 L352.26 196.87 L352.74 202.05 L353.22 204.93 L353.94 198.42 L354.67 195.07 L355.39 194.44 L355.99 195.72 L356.6 200.34 L357.2 199.86 L357.8 196.75 L358.41 196.96 L359.01 198.42 L359.49 200.27 L359.97 203.48 L360.46 201.31 L360.94 200.4 L361.42 197.69 L361.9 196.97 L362.39 201.27 L362.87 195.72 L363.35 199.86 L363.83 200.68 L364.32 195.01 L364.8 194.8 L365.28 197.37 L365.76 202.25 L366.24 209.99 L366.61 206.72 L366.97 208.35 L367.33 204.2 L367.69 201.25 L368.05 203.33 L368.42 202.03 L368.9 202.76 L369.38 200.66 L369.86 201.31 L370.47 199.71 L371.07 194.39 L371.67 195.52 L372.03 189.54 L372.4 187.67 L372.76 186.84 L373.12 191.96 L373.48 194.05 L373.84 198.42 L374.2 198.32 L374.57 201.43 L374.93 202.03 L375.29 198.09 L375.65 193.4 L376.01 191.18 L376.37 190.1 L376.74 186.3 L377.1 181.77 L377.58 184.08 L378.06 190.49 L378.55 194.07 L379.03 189.19 L379.51 186.57 L379.99 178.88 L380.35 184.1 L380.72 184.63 L381.08 189.73 L381.44 194.54 L381.8 189.95 L382.16 194.07 L382.77 184.7 L383.37 178.27 L383.97 167.66 L384.58 171.86 L385.18 180.85 L385.78 187.56 L386.26 187.23 L386.75 194.53 L387.23 196.24 L387.71 195.93 L388.19 192.41 L388.68 189.73 L389.16 188.98 L389.64 181.68 L390.12 179.6 L390.48 184.1 L390.85 186.53 L391.21 189.01 L391.57 191.74 L391.93 193.04 L392.29 195.52 L393.02 195.49 L393.74 193.81 L394.46 188.29 L394.95 191.48 L395.43 196.19 L395.91 198.42 L396.39 192.2 L396.88 193.55 L397.36 189.01 L398.08 190.28 L398.81 192.94 L399.53 189.73 L399.89 190.54 L400.25 185.33 L400.62 185.39 L400.74 189.9 L400.86 197.18 L400.98 201.31 L401.22 196.04 L401.46 197.18 L401.7 195.52" stroke="#000" stroke-width="1.9" fill="none" stroke-linejoin="miter" stroke-miterlimit="2"/>
<path d="M383.4 180 L384 168 L384.6 180" stroke="#000" stroke-width="1.6" fill="none" />
<path d="M100.6 313.2 L102.3 316.6 L105.3 308.6 L108.3 314.6 L110.3 313.9 L113.6 327.8 L116.9 327.2 L119.6 312.6 L122.9 312.6 L127.5 308.3 L130.9 316.6 L134.2 312.6 L137.5 309.9 L142.1 317.2 L146.1 309.3 L149.4 312.6 L153.4 311.2 L158.7 309.9 L162.1 308.6 L168 313.9 L172.2 311.2 L173.6 314.8 L178.7 323.9 L183 322.1 L188.8 318.5 L196 310.5 L200.4 314.1 L204.7 312.7 L207.6 309.8 L212 306.9 L216.3 305.4 L222.1 306.2 L227.1 304.4 L231.5 305.8 L236.5 304 L241.6 305.4 L245.2 284.5 L247.8 270 L248.8 253.5 L251.4 235.9 L254 234.2 L257.2 221 L259.7 227.1 L262.5 219.2 L267.2 227.1 L270.7 218.3 L276.9 214.8 L283.9 215.7 L286.5 207.8 L287.9 165 L288.8 134.9 L289.7 165 L290.9 207.8 L292.7 220.1 L297.1 215.7 L299.7 216.6 L303.2 211.3 L312 210.4 L317.3 213.1 L322.5 211.3 L327.2 210.4 L328.4 190 L329.2 142.8 L330 190 L331 208.5 L335.1 210 L339.5 207.1 L345.3 205.7 L349.6 201.3 L355.4 199.9 L357.6 202.8 L362.6 200.2 L367 201.3 L371.3 197 L376.4 193.3 L380 191.9 L382.2 191.2 L383.2 180 L384 169.5 L384.8 180 L385.8 190.5 L390.1 190.5 L394.5 191.9 L401.7 194.1" stroke="#b56aa6" stroke-width="1.55" fill="none" stroke-linejoin="round" stroke-opacity="0.95"/>
<line x1="329.2" y1="141" x2="329.2" y2="150" stroke="#000" stroke-width="1.6" />
<line x1="100.1" y1="303.3" x2="100.1" y2="319.3" stroke="#000" stroke-width="1.3" stroke-opacity="0.55"/>
<line x1="120.1" y1="318.7" x2="120.1" y2="334.7" stroke="#000" stroke-width="1.3" stroke-opacity="0.55"/>
<line x1="137.4" y1="303.3" x2="137.4" y2="319.3" stroke="#000" stroke-width="1.3" stroke-opacity="0.55"/>
<line x1="160" y1="313.6" x2="160" y2="329.6" stroke="#000" stroke-width="1.3" stroke-opacity="0.55"/>
<line x1="173.5" y1="309.7" x2="173.5" y2="325.7" stroke="#000" stroke-width="1.3" stroke-opacity="0.55"/>
<line x1="185.7" y1="309" x2="185.7" y2="325" stroke="#000" stroke-width="1.3" stroke-opacity="0.55"/>
<line x1="201.1" y1="311" x2="201.1" y2="327" stroke="#000" stroke-width="1.3" stroke-opacity="0.55"/>
<line x1="203" y1="299.4" x2="203" y2="315.4" stroke="#000" stroke-width="1.3" stroke-opacity="0.55"/>
<line x1="212.7" y1="290.4" x2="212.7" y2="306.4" stroke="#000" stroke-width="1.3" stroke-opacity="0.55"/>
<line x1="215.9" y1="298.8" x2="215.9" y2="314.8" stroke="#000" stroke-width="1.3" stroke-opacity="0.55"/>
<line x1="224.9" y1="283.3" x2="224.9" y2="299.3" stroke="#000" stroke-width="1.3" stroke-opacity="0.55"/>
<line x1="243.9" y1="271.9" x2="243.9" y2="287.9" stroke="#000" stroke-width="1.3" stroke-opacity="0.55"/>
<line x1="254.4" y1="239.4" x2="254.4" y2="255.4" stroke="#000" stroke-width="1.3" stroke-opacity="0.55"/>
<line x1="262.5" y1="206.9" x2="262.5" y2="222.9" stroke="#000" stroke-width="1.3" stroke-opacity="0.55"/>
<line x1="288.8" y1="183.2" x2="288.8" y2="199.2" stroke="#000" stroke-width="1.3" stroke-opacity="0.55"/>
<line x1="303.6" y1="202.9" x2="303.6" y2="218.9" stroke="#000" stroke-width="1.3" stroke-opacity="0.55"/>
<line x1="315.5" y1="206" x2="315.5" y2="222" stroke="#000" stroke-width="1.3" stroke-opacity="0.55"/>
<line x1="332.2" y1="197.3" x2="332.2" y2="213.3" stroke="#000" stroke-width="1.3" stroke-opacity="0.55"/>
<line x1="341" y1="217.1" x2="341" y2="233.1" stroke="#000" stroke-width="1.3" stroke-opacity="0.55"/>
<line x1="344.5" y1="199.9" x2="344.5" y2="215.9" stroke="#000" stroke-width="1.3" stroke-opacity="0.55"/>
<line x1="361.2" y1="206.9" x2="361.2" y2="222.9" stroke="#000" stroke-width="1.3" stroke-opacity="0.55"/>
<line x1="380.5" y1="185" x2="380.5" y2="201" stroke="#000" stroke-width="1.3" stroke-opacity="0.55"/>
<line x1="385.8" y1="184.1" x2="385.8" y2="200.1" stroke="#000" stroke-width="1.3" stroke-opacity="0.55"/>
<circle cx="100.8" cy="320.9" r="2.4" fill="#c678b8" stroke="#4a3046" stroke-width="0.7"/>
<circle cx="120.1" cy="315.1" r="2.4" fill="#c678b8" stroke="#4a3046" stroke-width="0.7"/>
<circle cx="137.4" cy="311.9" r="2.4" fill="#c678b8" stroke="#4a3046" stroke-width="0.7"/>
<circle cx="160" cy="313.2" r="2.4" fill="#c678b8" stroke="#4a3046" stroke-width="0.7"/>
<circle cx="173.5" cy="315.8" r="2.4" fill="#c678b8" stroke="#4a3046" stroke-width="0.7"/>
<circle cx="185.7" cy="317.3" r="2.4" fill="#c678b8" stroke="#4a3046" stroke-width="0.7"/>
<circle cx="201.1" cy="313.2" r="2.4" fill="#c678b8" stroke="#4a3046" stroke-width="0.7"/>
<circle cx="212.7" cy="308.7" r="2.4" fill="#c678b8" stroke="#4a3046" stroke-width="0.7"/>
<circle cx="216.6" cy="306.8" r="2.4" fill="#c678b8" stroke="#4a3046" stroke-width="0.7"/>
<circle cx="224.9" cy="306.5" r="2.4" fill="#c678b8" stroke="#4a3046" stroke-width="0.7"/>
<circle cx="243.9" cy="279.9" r="2.4" fill="#c678b8" stroke="#4a3046" stroke-width="0.7"/>
<circle cx="254.4" cy="247.4" r="2.4" fill="#c678b8" stroke="#4a3046" stroke-width="0.7"/>
<circle cx="262.5" cy="223.7" r="2.4" fill="#c678b8" stroke="#4a3046" stroke-width="0.7"/>
<circle cx="288.8" cy="195.6" r="2.4" fill="#c678b8" stroke="#4a3046" stroke-width="0.7"/>
<circle cx="303.6" cy="210.9" r="2.4" fill="#c678b8" stroke="#4a3046" stroke-width="0.7"/>
<circle cx="315.5" cy="214" r="2.4" fill="#c678b8" stroke="#4a3046" stroke-width="0.7"/>
<circle cx="332.2" cy="207.5" r="2.4" fill="#c678b8" stroke="#4a3046" stroke-width="0.7"/>
<circle cx="341" cy="206.1" r="2.4" fill="#c678b8" stroke="#4a3046" stroke-width="0.7"/>
<circle cx="344.5" cy="207.9" r="2.4" fill="#c678b8" stroke="#4a3046" stroke-width="0.7"/>
<circle cx="361.2" cy="204.4" r="2.4" fill="#c678b8" stroke="#4a3046" stroke-width="0.7"/>
<circle cx="368.2" cy="203" r="2.4" fill="#c678b8" stroke="#4a3046" stroke-width="0.7"/>
<circle cx="371.7" cy="199.1" r="2.4" fill="#c678b8" stroke="#4a3046" stroke-width="0.7"/>
<circle cx="380.5" cy="193" r="2.4" fill="#c678b8" stroke="#4a3046" stroke-width="0.7"/>
<circle cx="385.8" cy="192.1" r="2.4" fill="#c678b8" stroke="#4a3046" stroke-width="0.7"/>
<circle cx="100.1" cy="311.3" r="2.8" fill="#000" fill-opacity="0.38" stroke="#000" stroke-opacity="0.4" stroke-width="0.8"/>
<circle cx="120.1" cy="326.7" r="2.8" fill="#000" fill-opacity="0.38" stroke="#000" stroke-opacity="0.4" stroke-width="0.8"/>
<circle cx="137.4" cy="311.3" r="2.8" fill="#000" fill-opacity="0.38" stroke="#000" stroke-opacity="0.4" stroke-width="0.8"/>
<circle cx="160" cy="321.6" r="2.8" fill="#000" fill-opacity="0.38" stroke="#000" stroke-opacity="0.4" stroke-width="0.8"/>
<circle cx="173.5" cy="317.7" r="2.8" fill="#000" fill-opacity="0.38" stroke="#000" stroke-opacity="0.4" stroke-width="0.8"/>
<circle cx="185.7" cy="317" r="2.8" fill="#000" fill-opacity="0.38" stroke="#000" stroke-opacity="0.4" stroke-width="0.8"/>
<circle cx="201.1" cy="319" r="2.8" fill="#000" fill-opacity="0.38" stroke="#000" stroke-opacity="0.4" stroke-width="0.8"/>
<circle cx="203" cy="307.4" r="2.8" fill="#000" fill-opacity="0.38" stroke="#000" stroke-opacity="0.4" stroke-width="0.8"/>
<circle cx="212.7" cy="298.4" r="2.8" fill="#000" fill-opacity="0.38" stroke="#000" stroke-opacity="0.4" stroke-width="0.8"/>
<circle cx="215.9" cy="306.8" r="2.8" fill="#000" fill-opacity="0.38" stroke="#000" stroke-opacity="0.4" stroke-width="0.8"/>
<circle cx="224.9" cy="291.3" r="2.8" fill="#000" fill-opacity="0.38" stroke="#000" stroke-opacity="0.4" stroke-width="0.8"/>
<circle cx="243.9" cy="279.9" r="2.8" fill="#000" fill-opacity="0.38" stroke="#000" stroke-opacity="0.4" stroke-width="0.8"/>
<circle cx="254.4" cy="247.4" r="2.8" fill="#000" fill-opacity="0.38" stroke="#000" stroke-opacity="0.4" stroke-width="0.8"/>
<circle cx="262.5" cy="214.9" r="2.8" fill="#000" fill-opacity="0.38" stroke="#000" stroke-opacity="0.4" stroke-width="0.8"/>
<circle cx="288.8" cy="191.2" r="2.8" fill="#000" fill-opacity="0.38" stroke="#000" stroke-opacity="0.4" stroke-width="0.8"/>
<circle cx="303.6" cy="210.9" r="2.8" fill="#000" fill-opacity="0.38" stroke="#000" stroke-opacity="0.4" stroke-width="0.8"/>
<circle cx="315.5" cy="214" r="2.8" fill="#000" fill-opacity="0.38" stroke="#000" stroke-opacity="0.4" stroke-width="0.8"/>
<circle cx="332.2" cy="205.3" r="2.8" fill="#000" fill-opacity="0.38" stroke="#000" stroke-opacity="0.4" stroke-width="0.8"/>
<circle cx="341" cy="225.1" r="2.8" fill="#000" fill-opacity="0.38" stroke="#000" stroke-opacity="0.4" stroke-width="0.8"/>
<circle cx="344.5" cy="207.9" r="2.8" fill="#000" fill-opacity="0.38" stroke="#000" stroke-opacity="0.4" stroke-width="0.8"/>
<circle cx="361.2" cy="214.9" r="2.8" fill="#000" fill-opacity="0.38" stroke="#000" stroke-opacity="0.4" stroke-width="0.8"/>
<circle cx="380.5" cy="193" r="2.8" fill="#000" fill-opacity="0.38" stroke="#000" stroke-opacity="0.4" stroke-width="0.8"/>
<circle cx="385.8" cy="192.1" r="2.8" fill="#000" fill-opacity="0.38" stroke="#000" stroke-opacity="0.4" stroke-width="0.8"/>
</g>
<line x1="120.1" y1="373" x2="120.1" y2="375.8" stroke="#111" stroke-width="0.9" />
<text x="120.1" y="389.2" text-anchor="middle" fill="#000" stroke="#000" stroke-width="0.1" font-family="Liberation Sans" textLength="22.11" lengthAdjust="spacingAndGlyphs"><tspan font-size="14.46" dy="0">0.8</tspan></text>
<line x1="153.15" y1="373" x2="153.15" y2="377.7" stroke="#111" stroke-width="0.9" />
<text x="153.15" y="390.5" text-anchor="middle" fill="#000" stroke="#000" stroke-width="0.1" font-family="Liberation Sans" textLength="8.84" lengthAdjust="spacingAndGlyphs"><tspan font-size="14.46" dy="0">1</tspan></text>
<line x1="255.8" y1="373" x2="255.8" y2="375.8" stroke="#111" stroke-width="0.9" />
<text x="255.8" y="389.2" text-anchor="middle" fill="#000" stroke="#000" stroke-width="0.1" font-family="Liberation Sans" textLength="8.84" lengthAdjust="spacingAndGlyphs"><tspan font-size="14.46" dy="0">2</tspan></text>
<line x1="315.85" y1="373" x2="315.85" y2="375.8" stroke="#111" stroke-width="0.9" />
<text x="315.85" y="389.2" text-anchor="middle" fill="#000" stroke="#000" stroke-width="0.1" font-family="Liberation Sans" textLength="8.84" lengthAdjust="spacingAndGlyphs"><tspan font-size="14.46" dy="0">3</tspan></text>
<line x1="358.45" y1="373" x2="358.45" y2="375.8" stroke="#111" stroke-width="0.9" />
<text x="358.45" y="389.2" text-anchor="middle" fill="#000" stroke="#000" stroke-width="0.1" font-family="Liberation Sans" textLength="8.84" lengthAdjust="spacingAndGlyphs"><tspan font-size="14.46" dy="0">4</tspan></text>
<line x1="391.5" y1="373" x2="391.5" y2="375.8" stroke="#111" stroke-width="0.9" />
<text x="391.5" y="389.2" text-anchor="middle" fill="#000" stroke="#000" stroke-width="0.1" font-family="Liberation Sans" textLength="8.84" lengthAdjust="spacingAndGlyphs"><tspan font-size="14.46" dy="0">5</tspan></text>
<line x1="82.2" y1="67" x2="85" y2="67" stroke="#111" stroke-width="0.9" />
<text x="19.3" y="72.2" text-anchor="start" fill="#000" stroke="#000" stroke-width="0.1" font-family="Liberation Sans" textLength="8.84" lengthAdjust="spacingAndGlyphs"><tspan font-size="14.46" dy="0">3</tspan></text>
<text x="32.9" y="71.6" text-anchor="start" fill="#000" stroke="#000" stroke-width="0.1" font-family="Liberation Sans" textLength="10.47" lengthAdjust="spacingAndGlyphs"><tspan font-size="13" dy="0">×</tspan></text>
<text x="63.5" y="72.2" text-anchor="end" fill="#000" stroke="#000" stroke-width="0.1" font-family="Liberation Sans" textLength="17.69" lengthAdjust="spacingAndGlyphs"><tspan font-size="14.46" dy="0">10</tspan></text>
<text x="64.2" y="66.8" text-anchor="start" fill="#000" stroke="#000" stroke-width="0.1" font-family="Liberation Sans" textLength="14.27" lengthAdjust="spacingAndGlyphs"><tspan font-size="10.09" dy="0">−6</tspan></text>
<line x1="82.2" y1="120.88" x2="85" y2="120.88" stroke="#111" stroke-width="0.9" />
<text x="19.3" y="126.08" text-anchor="start" fill="#000" stroke="#000" stroke-width="0.1" font-family="Liberation Sans" textLength="8.84" lengthAdjust="spacingAndGlyphs"><tspan font-size="14.46" dy="0">2</tspan></text>
<text x="32.9" y="125.48" text-anchor="start" fill="#000" stroke="#000" stroke-width="0.1" font-family="Liberation Sans" textLength="10.47" lengthAdjust="spacingAndGlyphs"><tspan font-size="13" dy="0">×</tspan></text>
<text x="63.5" y="126.08" text-anchor="end" fill="#000" stroke="#000" stroke-width="0.1" font-family="Liberation Sans" textLength="17.69" lengthAdjust="spacingAndGlyphs"><tspan font-size="14.46" dy="0">10</tspan></text>
<text x="64.2" y="120.68" text-anchor="start" fill="#000" stroke="#000" stroke-width="0.1" font-family="Liberation Sans" textLength="14.27" lengthAdjust="spacingAndGlyphs"><tspan font-size="10.09" dy="0">−6</tspan></text>
<line x1="80.3" y1="213" x2="85" y2="213" stroke="#111" stroke-width="0.9" />
<text x="60.5" y="218.2" text-anchor="end" fill="#000" stroke="#000" stroke-width="0.1" font-family="Liberation Sans" textLength="17.69" lengthAdjust="spacingAndGlyphs"><tspan font-size="14.46" dy="0">10</tspan></text>
<text x="61" y="212.7" text-anchor="start" fill="#000" stroke="#000" stroke-width="0.1" font-family="Liberation Sans" textLength="14.27" lengthAdjust="spacingAndGlyphs"><tspan font-size="10.09" dy="0">−6</tspan></text>
<line x1="82.2" y1="227" x2="85" y2="227" stroke="#111" stroke-width="0.9" />
<line x1="82.2" y1="242.65" x2="85" y2="242.65" stroke="#111" stroke-width="0.9" />
<line x1="82.2" y1="260.4" x2="85" y2="260.4" stroke="#111" stroke-width="0.9" />
<line x1="82.2" y1="280.88" x2="85" y2="280.88" stroke="#111" stroke-width="0.9" />
<text x="19.3" y="286.08" text-anchor="start" fill="#000" stroke="#000" stroke-width="0.1" font-family="Liberation Sans" textLength="8.84" lengthAdjust="spacingAndGlyphs"><tspan font-size="14.46" dy="0">6</tspan></text>
<text x="32.9" y="285.48" text-anchor="start" fill="#000" stroke="#000" stroke-width="0.1" font-family="Liberation Sans" textLength="10.47" lengthAdjust="spacingAndGlyphs"><tspan font-size="13" dy="0">×</tspan></text>
<text x="63.5" y="286.08" text-anchor="end" fill="#000" stroke="#000" stroke-width="0.1" font-family="Liberation Sans" textLength="17.69" lengthAdjust="spacingAndGlyphs"><tspan font-size="14.46" dy="0">10</tspan></text>
<text x="64.2" y="280.68" text-anchor="start" fill="#000" stroke="#000" stroke-width="0.1" font-family="Liberation Sans" textLength="14.27" lengthAdjust="spacingAndGlyphs"><tspan font-size="10.09" dy="0">−7</tspan></text>
<line x1="82.2" y1="305.11" x2="85" y2="305.11" stroke="#111" stroke-width="0.9" />
<line x1="82.2" y1="334.77" x2="85" y2="334.77" stroke="#111" stroke-width="0.9" />
<text x="19.3" y="339.97" text-anchor="start" fill="#000" stroke="#000" stroke-width="0.1" font-family="Liberation Sans" textLength="8.84" lengthAdjust="spacingAndGlyphs"><tspan font-size="14.46" dy="0">4</tspan></text>
<text x="32.9" y="339.37" text-anchor="start" fill="#000" stroke="#000" stroke-width="0.1" font-family="Liberation Sans" textLength="10.47" lengthAdjust="spacingAndGlyphs"><tspan font-size="13" dy="0">×</tspan></text>
<text x="63.5" y="339.97" text-anchor="end" fill="#000" stroke="#000" stroke-width="0.1" font-family="Liberation Sans" textLength="17.69" lengthAdjust="spacingAndGlyphs"><tspan font-size="14.46" dy="0">10</tspan></text>
<text x="64.2" y="334.57" text-anchor="start" fill="#000" stroke="#000" stroke-width="0.1" font-family="Liberation Sans" textLength="14.27" lengthAdjust="spacingAndGlyphs"><tspan font-size="10.09" dy="0">−7</tspan></text>
<line x1="82.2" y1="373" x2="85" y2="373" stroke="#111" stroke-width="0.9" />
<text x="19.3" y="378.2" text-anchor="start" fill="#000" stroke="#000" stroke-width="0.1" font-family="Liberation Sans" textLength="8.84" lengthAdjust="spacingAndGlyphs"><tspan font-size="14.46" dy="0">3</tspan></text>
<text x="32.9" y="377.6" text-anchor="start" fill="#000" stroke="#000" stroke-width="0.1" font-family="Liberation Sans" textLength="10.47" lengthAdjust="spacingAndGlyphs"><tspan font-size="13" dy="0">×</tspan></text>
<text x="63.5" y="378.2" text-anchor="end" fill="#000" stroke="#000" stroke-width="0.1" font-family="Liberation Sans" textLength="17.69" lengthAdjust="spacingAndGlyphs"><tspan font-size="14.46" dy="0">10</tspan></text>
<text x="64.2" y="372.8" text-anchor="start" fill="#000" stroke="#000" stroke-width="0.1" font-family="Liberation Sans" textLength="14.27" lengthAdjust="spacingAndGlyphs"><tspan font-size="10.09" dy="0">−7</tspan></text>
<rect x="85" y="66.8" width="320.5" height="306.2" stroke="#111" stroke-width="1.5" fill="none" />
<text x="194.3" y="409.7" text-anchor="start" fill="#000" stroke="#000" stroke-width="0.1" font-family="Liberation Sans" textLength="103.38" lengthAdjust="spacingAndGlyphs"><tspan font-size="16.52" font-style="italic" dy="0">λ</tspan><tspan font-size="11.44" dy="2.5">observed</tspan><tspan font-size="16.52" dy="-2.5"> [μm]</tspan></text>
<text x="14.3" y="219.6" text-anchor="middle" fill="#000" stroke="#000" stroke-width="0.1" font-family="Liberation Sans" textLength="129" lengthAdjust="spacingAndGlyphs" transform="rotate(-90 14.3 219.6)"><tspan font-size="16.52" dy="0">Flux density [Jy]</tspan></text>
<rect x="91.6" y="73.4" width="193.5" height="45.6" rx="2.5" fill="#fff" fill-opacity="0.8" stroke="#d9d9d9" stroke-width="1"/>
<line x1="96.9" y1="85" x2="125.4" y2="85" stroke="#000" stroke-width="1.5" />
<line x1="96.9" y1="106" x2="125.4" y2="106" stroke="#b56aa6" stroke-width="1.5" stroke-opacity="0.8"/>
<text x="135.5" y="89.6" text-anchor="start" fill="#000" stroke="#000" stroke-width="0.1" font-family="Liberation Sans" textLength="143.09" lengthAdjust="spacingAndGlyphs"><tspan font-size="14.46" dy="0">Simulated phot/spec</tspan></text>
<text x="135.5" y="110.8" text-anchor="start" fill="#000" stroke="#000" stroke-width="0.1" font-family="Liberation Sans" textLength="122.89" lengthAdjust="spacingAndGlyphs"><tspan font-size="14.46" dy="0">Best-fit phot/spec</tspan></text>
<rect x="474.2" y="349.29" width="50.6" height="0" stroke="none" stroke-width="0" fill="#eedfeb" />
<rect x="524.8" y="213.12" width="61.3" height="45.66" stroke="none" stroke-width="0" fill="#eedfeb" />
<rect x="586.1" y="274.26" width="61.6" height="56.87" stroke="none" stroke-width="0" fill="#eedfeb" />
<rect x="647.7" y="229.94" width="61.2" height="88.64" stroke="none" stroke-width="0" fill="#eedfeb" />
<rect x="708.9" y="135.69" width="61.5" height="162.07" stroke="none" stroke-width="0" fill="#eedfeb" />
<rect x="770.4" y="224.6" width="24.9" height="110.27" stroke="none" stroke-width="0" fill="#eedfeb" />
<path d="M474.2 352.76 L524.8 352.76 L524.8 188.55 L586.1 188.55 L586.1 355.7 L647.7 355.7 L647.7 240.62 L708.9 240.62 L708.9 356.5 L770.4 356.5 L770.4 260.11 L795.3 260.11" stroke="#5a5a5a" stroke-width="1.45" fill="none" stroke-dasharray="1.45 2.3"/>
<path d="M474.2 349.29 L524.8 349.29 L524.8 236.88 L586.1 236.88 L586.1 308.44 L647.7 308.44 L647.7 283.87 L708.9 283.87 L708.9 222.73 L770.4 222.73 L770.4 289.75 L795.3 289.75" stroke="#b56aa6" stroke-width="1.9" fill="none" />
<path d="M474.2 349.29 L524.8 349.29 L524.8 238.75 L586.1 238.75 L586.1 310.31 L647.7 310.31 L647.7 278.8 L708.9 278.8 L708.9 218.46 L770.4 218.46 L770.4 338.07 L795.3 338.07" stroke="#5f9ea0" stroke-width="2.1" fill="none" stroke-dasharray="12.7 2.6 1.4 2.6"/>
<line x1="469.5" y1="358.9" x2="474.2" y2="358.9" stroke="#111" stroke-width="0.9" />
<text x="466" y="363.9" text-anchor="end" fill="#000" stroke="#000" stroke-width="0.1" font-family="Liberation Sans" textLength="8.84" lengthAdjust="spacingAndGlyphs"><tspan font-size="14.46" dy="0">0</tspan></text>
<line x1="469.5" y1="305.5" x2="474.2" y2="305.5" stroke="#111" stroke-width="0.9" />
<text x="466" y="310.5" text-anchor="end" fill="#000" stroke="#000" stroke-width="0.1" font-family="Liberation Sans" textLength="17.69" lengthAdjust="spacingAndGlyphs"><tspan font-size="14.46" dy="0">20</tspan></text>
<line x1="469.5" y1="252.1" x2="474.2" y2="252.1" stroke="#111" stroke-width="0.9" />
<text x="466" y="257.1" text-anchor="end" fill="#000" stroke="#000" stroke-width="0.1" font-family="Liberation Sans" textLength="17.69" lengthAdjust="spacingAndGlyphs"><tspan font-size="14.46" dy="0">40</tspan></text>
<line x1="469.5" y1="198.7" x2="474.2" y2="198.7" stroke="#111" stroke-width="0.9" />
<text x="466" y="203.7" text-anchor="end" fill="#000" stroke="#000" stroke-width="0.1" font-family="Liberation Sans" textLength="17.69" lengthAdjust="spacingAndGlyphs"><tspan font-size="14.46" dy="0">60</tspan></text>
<line x1="469.5" y1="145.3" x2="474.2" y2="145.3" stroke="#111" stroke-width="0.9" />
<text x="466" y="150.3" text-anchor="end" fill="#000" stroke="#000" stroke-width="0.1" font-family="Liberation Sans" textLength="17.69" lengthAdjust="spacingAndGlyphs"><tspan font-size="14.46" dy="0">80</tspan></text>
<line x1="469.5" y1="91.9" x2="474.2" y2="91.9" stroke="#111" stroke-width="0.9" />
<text x="466" y="96.9" text-anchor="end" fill="#000" stroke="#000" stroke-width="0.1" font-family="Liberation Sans" textLength="26.53" lengthAdjust="spacingAndGlyphs"><tspan font-size="14.46" dy="0">100</tspan></text>
<line x1="549.4" y1="372.7" x2="549.4" y2="377.4" stroke="#111" stroke-width="0.9" />
<text x="549.4" y="390.1" text-anchor="middle" fill="#000" stroke="#000" stroke-width="0.1" font-family="Liberation Sans" textLength="17.69" lengthAdjust="spacingAndGlyphs"><tspan font-size="14.46" dy="0">50</tspan></text>
<line x1="626.17" y1="372.7" x2="626.17" y2="377.4" stroke="#111" stroke-width="0.9" />
<text x="626.17" y="390.1" text-anchor="middle" fill="#000" stroke="#000" stroke-width="0.1" font-family="Liberation Sans" textLength="26.53" lengthAdjust="spacingAndGlyphs"><tspan font-size="14.46" dy="0">100</tspan></text>
<line x1="702.95" y1="372.7" x2="702.95" y2="377.4" stroke="#111" stroke-width="0.9" />
<text x="702.95" y="390.1" text-anchor="middle" fill="#000" stroke="#000" stroke-width="0.1" font-family="Liberation Sans" textLength="26.53" lengthAdjust="spacingAndGlyphs"><tspan font-size="14.46" dy="0">150</tspan></text>
<line x1="779.73" y1="372.7" x2="779.73" y2="377.4" stroke="#111" stroke-width="0.9" />
<text x="779.73" y="390.1" text-anchor="middle" fill="#000" stroke="#000" stroke-width="0.1" font-family="Liberation Sans" textLength="26.53" lengthAdjust="spacingAndGlyphs"><tspan font-size="14.46" dy="0">200</tspan></text>
<rect x="474.2" y="66.7" width="321.1" height="306" stroke="#111" stroke-width="1.5" fill="none" />
<text x="635.3" y="409.5" text-anchor="middle" fill="#000" stroke="#000" stroke-width="0.1" font-family="Liberation Sans" textLength="162.88" lengthAdjust="spacingAndGlyphs"><tspan font-size="16.52" dy="0">Lookback time [Myr]</tspan></text>
<text x="433.6" y="219.4" text-anchor="middle" fill="#000" stroke="#000" stroke-width="0.1" font-family="Liberation Sans" textLength="110.78" lengthAdjust="spacingAndGlyphs" transform="rotate(-90 433.6 219.4)"><tspan font-size="16.52" dy="0">SFR [M</tspan><tspan font-size="11.44" dy="2">⊙</tspan><tspan font-size="16.52" dy="-2"> yr</tspan><tspan font-size="11.44" dy="-5.5">−1</tspan><tspan font-size="16.52" dy="5.5">]</tspan></text>
<path d="M866.4 84.06 L871.85 84.06 L871.85 69.95 L877.3 69.95 L877.3 49.2 L882.75 49.2 L882.75 53.68 L888.2 53.68 L888.2 72.94 L893.65 72.94 L893.65 84.06 L899.1 84.06 L899.1 95.67 L904.55 95.67 L904.55 108.45 L910 108.45 L910 112.77 L915.45 112.77 L915.45 107.29 L920.9 107.29 L920.9 98.16 L926.35 98.16 L926.35 87.71 L931.8 87.71 L931.8 83.23 L937.25 83.23 L937.25 92.69 L942.7 92.69 L942.7 103.97 L948.15 103.97 L948.15 109.78 L953.6 109.78 L953.6 110.61 L959.05 110.61 L959.05 105.14 L964.5 105.14 L964.5 98.99 L969.95 98.99 L969.95 97.33 L975.4 97.33" stroke="#5f9ea0" stroke-width="1.3" fill="none" />
<line x1="880" y1="39.8" x2="880" y2="144.5" stroke="#5f9ea0" stroke-width="1.1" stroke-dasharray="3.7 1.6"/>
<line x1="908.7" y1="39.8" x2="908.7" y2="144.5" stroke="#5f9ea0" stroke-width="1.1" stroke-dasharray="3.7 1.6"/>
<line x1="953.5" y1="39.8" x2="953.5" y2="144.5" stroke="#5f9ea0" stroke-width="1.1" stroke-dasharray="3.7 1.6"/>
<line x1="888" y1="39.8" x2="888" y2="144.5" stroke="#000" stroke-width="1.3" />
<path d="M980.9 247.8 L986.33 247.8 L986.33 225.03 L991.76 225.03 L991.76 190.87 L997.19 190.87 L997.19 168.09 L1002.62 168.09 L1002.62 159.35 L1008.05 159.35 L1008.05 176.23 L1013.48 176.23 L1013.48 208.15 L1018.91 208.15 L1018.91 231.13 L1024.34 231.13 L1024.34 238.65 L1029.77 238.65 L1029.77 239.67 L1035.2 239.67 L1035.2 239.26 L1040.63 239.26 L1040.63 237.23 L1046.06 237.23 L1046.06 235.6 L1051.49 235.6 L1051.49 234.58 L1056.92 234.58 L1056.92 232.55 L1062.35 232.55 L1062.35 228.48 L1067.78 228.48 L1067.78 224.42 L1073.21 224.42 L1073.21 224.42 L1078.64 224.42 L1078.64 224.42 L1084.07 224.42 L1084.07 224.82 L1089.5 224.82" stroke="#5f9ea0" stroke-width="1.3" fill="none" />
<line x1="998.2" y1="149.9" x2="998.2" y2="254.1" stroke="#5f9ea0" stroke-width="1.1" stroke-dasharray="3.7 1.6"/>
<line x1="1010.4" y1="149.9" x2="1010.4" y2="254.1" stroke="#5f9ea0" stroke-width="1.1" stroke-dasharray="3.7 1.6"/>
<line x1="1069.4" y1="149.9" x2="1069.4" y2="254.1" stroke="#5f9ea0" stroke-width="1.1" stroke-dasharray="3.7 1.6"/>
<line x1="1000.7" y1="149.9" x2="1000.7" y2="254.1" stroke="#000" stroke-width="1.3" />
<path d="M1095.2 345.27 L1100.64 345.27 L1100.64 340.79 L1106.08 340.79 L1106.08 335.51 L1111.52 335.51 L1111.52 337.54 L1116.96 337.54 L1116.96 347.71 L1122.4 347.71 L1122.4 355.03 L1127.84 355.03 L1127.84 354.42 L1133.28 354.42 L1133.28 343.64 L1138.72 343.64 L1138.72 324.93 L1144.16 324.93 L1144.16 297.48 L1149.6 297.48 L1149.6 269.02 L1155.04 269.02 L1155.04 273.69 L1160.48 273.69 L1160.48 311.72 L1165.92 311.72 L1165.92 343.23 L1171.36 343.23 L1171.36 351.77 L1176.8 351.77 L1176.8 348.93 L1182.24 348.93 L1182.24 343.23 L1187.68 343.23 L1187.68 342.83 L1193.12 342.83 L1193.12 338.15 L1198.56 338.15 L1198.56 332.66 L1204 332.66" stroke="#5f9ea0" stroke-width="1.3" fill="none" />
<line x1="1116.2" y1="259.9" x2="1116.2" y2="364.4" stroke="#5f9ea0" stroke-width="1.1" stroke-dasharray="3.7 1.6"/>
<line x1="1153.6" y1="259.9" x2="1153.6" y2="364.4" stroke="#5f9ea0" stroke-width="1.1" stroke-dasharray="3.7 1.6"/>
<line x1="1183.7" y1="259.9" x2="1183.7" y2="364.4" stroke="#5f9ea0" stroke-width="1.1" stroke-dasharray="3.7 1.6"/>
<line x1="1144.07" y1="259.9" x2="1144.07" y2="364.4" stroke="#000" stroke-width="1.3" />
<g clip-path="url(#clip10)">
<rect x="872" y="222.6" width="15" height="11" fill="#5f9ea0" fill-opacity="0.3"/>
<rect x="929" y="237.6" width="12" height="6" fill="#5f9ea0" fill-opacity="0.12"/>
<path d="M870.69 224.57 C871.44 223.08 873.11 221.03 875.15 220.1 C877.2 219.17 880.36 218.8 882.96 218.99 C885.57 219.17 887.8 219.73 890.77 221.22 C893.75 222.71 898.39 225.5 900.81 227.91 C903.23 230.33 904.9 233.68 905.27 235.72 C905.64 237.77 904.71 239.35 903.04 240.18 C901.37 241.02 898.21 241.11 895.23 240.74 C892.26 240.37 888.54 238.97 885.19 237.95 C881.85 236.93 877.57 236.09 875.15 234.61 C872.74 233.12 871.44 230.7 870.69 229.03 C869.95 227.35 869.95 226.05 870.69 224.57Z" stroke="none" stroke-width="0" fill="#5f9ea0" fill-opacity="0.1"/>
<path d="M876.27 225.68 C876.64 224.47 878.13 223.82 879.62 223.45 C881.1 223.08 883.71 222.71 885.19 223.45 C886.68 224.19 887.8 226.43 888.54 227.91 C889.28 229.4 890.4 231.44 889.66 232.37 C888.91 233.3 886.12 233.77 884.08 233.49 C882.03 233.21 878.69 232 877.39 230.7 C876.08 229.4 875.9 226.89 876.27 225.68Z" stroke="none" stroke-width="0" fill="#5f9ea0" fill-opacity="0.3"/>
<path d="M922 239.07 C922.38 237.11 924.23 235.07 926.47 234.05 C928.7 233.02 932.79 232.75 935.39 232.93 C937.99 233.12 940.69 233.58 942.08 235.16 C943.48 236.74 944.13 240.46 943.75 242.41 C943.38 244.37 941.8 245.95 939.85 246.87 C937.9 247.8 934.65 248.18 932.04 247.99 C929.44 247.8 925.91 247.25 924.23 245.76 C922.56 244.27 921.63 241.02 922 239.07Z" stroke="none" stroke-width="0" fill="#5f9ea0" fill-opacity="0.1"/>
<path d="M866.23 158.2 C866.97 158.48 869.3 158.66 870.69 159.87 C872.09 161.08 874.04 163.5 874.6 165.45 C875.15 167.4 875.06 170.09 874.04 171.58 C873.02 173.07 869.76 173.91 868.46 174.37 C867.16 174.84 866.6 174.37 866.23 174.37" stroke="none" stroke-width="0" fill="#5f9ea0" fill-opacity="0.1"/>
<rect x="923.09" y="155" width="1.36" height="1.36" fill="#5f9ea0" fill-opacity="0.45"/>
<rect x="914.78" y="156.19" width="1.13" height="1.13" fill="#5f9ea0" fill-opacity="0.38"/>
<rect x="914.97" y="157.03" width="0.73" height="0.73" fill="#5f9ea0" fill-opacity="0.68"/>
<rect x="921.03" y="155.24" width="1.21" height="1.21" fill="#5f9ea0" fill-opacity="0.56"/>
<rect x="912.85" y="157.44" width="1.23" height="1.23" fill="#5f9ea0" fill-opacity="0.46"/>
<rect x="914.88" y="158.17" width="1.49" height="1.49" fill="#5f9ea0" fill-opacity="0.72"/>
<rect x="919.57" y="153.3" width="1.43" height="1.43" fill="#5f9ea0" fill-opacity="0.74"/>
<rect x="921.04" y="154.89" width="1.03" height="1.03" fill="#5f9ea0" fill-opacity="0.44"/>
<rect x="909.52" y="157.4" width="1.1" height="1.1" fill="#5f9ea0" fill-opacity="0.48"/>
<rect x="920.03" y="157.12" width="1.36" height="1.36" fill="#5f9ea0" fill-opacity="0.73"/>
<rect x="918.99" y="155.83" width="0.91" height="0.91" fill="#5f9ea0" fill-opacity="0.41"/>
<rect x="915.47" y="156.34" width="1.09" height="1.09" fill="#5f9ea0" fill-opacity="0.53"/>
<rect x="914.68" y="153.81" width="1.1" height="1.1" fill="#5f9ea0" fill-opacity="0.37"/>
<rect x="923.48" y="155.06" width="1.4" height="1.4" fill="#5f9ea0" fill-opacity="0.48"/>
<rect x="931.31" y="160.01" width="1.09" height="1.09" fill="#5f9ea0" fill-opacity="0.42"/>
<rect x="929.56" y="154.69" width="0.79" height="0.79" fill="#5f9ea0" fill-opacity="0.73"/>
<rect x="920.4" y="156.91" width="0.82" height="0.82" fill="#5f9ea0" fill-opacity="0.7"/>
<rect x="913.77" y="154.04" width="1.26" height="1.26" fill="#5f9ea0" fill-opacity="0.47"/>
<rect x="920.5" y="156.34" width="0.89" height="0.89" fill="#5f9ea0" fill-opacity="0.58"/>
<rect x="919.98" y="156.29" width="0.86" height="0.86" fill="#5f9ea0" fill-opacity="0.35"/>
<rect x="921.14" y="156.42" width="0.8" height="0.8" fill="#5f9ea0" fill-opacity="0.48"/>
<rect x="922.91" y="153.03" width="0.71" height="0.71" fill="#5f9ea0" fill-opacity="0.38"/>
<rect x="915.85" y="158.28" width="1.06" height="1.06" fill="#5f9ea0" fill-opacity="0.57"/>
<rect x="917.42" y="152.56" width="0.9" height="0.9" fill="#5f9ea0" fill-opacity="0.46"/>
<rect x="924.59" y="155.84" width="1.43" height="1.43" fill="#5f9ea0" fill-opacity="0.72"/>
<rect x="921.21" y="152.79" width="1.29" height="1.29" fill="#5f9ea0" fill-opacity="0.47"/>
<rect x="919.98" y="158.3" width="0.85" height="0.85" fill="#5f9ea0" fill-opacity="0.42"/>
<rect x="920.98" y="156.94" width="0.71" height="0.71" fill="#5f9ea0" fill-opacity="0.4"/>
<rect x="918.51" y="155.2" width="1.27" height="1.27" fill="#5f9ea0" fill-opacity="0.63"/>
<rect x="921.42" y="158.38" width="1.18" height="1.18" fill="#5f9ea0" fill-opacity="0.73"/>
<rect x="916.63" y="155.12" width="0.74" height="0.74" fill="#5f9ea0" fill-opacity="0.42"/>
<rect x="924.48" y="159.38" width="1.38" height="1.38" fill="#5f9ea0" fill-opacity="0.39"/>
<rect x="920.13" y="150.74" width="0.88" height="0.88" fill="#5f9ea0" fill-opacity="0.55"/>
<rect x="919.19" y="158.52" width="1.31" height="1.31" fill="#5f9ea0" fill-opacity="0.43"/>
<rect x="911.79" y="155.9" width="1.39" height="1.39" fill="#5f9ea0" fill-opacity="0.73"/>
<rect x="922.73" y="154.56" width="0.98" height="0.98" fill="#5f9ea0" fill-opacity="0.71"/>
<rect x="924.37" y="152.58" width="1.19" height="1.19" fill="#5f9ea0" fill-opacity="0.73"/>
<rect x="920.77" y="157.12" width="1.31" height="1.31" fill="#5f9ea0" fill-opacity="0.46"/>
<rect x="914.3" y="153.6" width="1.19" height="1.19" fill="#5f9ea0" fill-opacity="0.46"/>
<rect x="924.77" y="155.25" width="0.7" height="0.7" fill="#5f9ea0" fill-opacity="0.48"/>
<rect x="908.94" y="155.36" width="1.19" height="1.19" fill="#5f9ea0" fill-opacity="0.73"/>
<rect x="917.88" y="156.69" width="1.06" height="1.06" fill="#5f9ea0" fill-opacity="0.72"/>
<rect x="909.44" y="154.77" width="1.37" height="1.37" fill="#5f9ea0" fill-opacity="0.71"/>
<rect x="917.58" y="155.97" width="1.16" height="1.16" fill="#5f9ea0" fill-opacity="0.39"/>
<rect x="916.12" y="157.22" width="0.99" height="0.99" fill="#5f9ea0" fill-opacity="0.54"/>
<rect x="904.21" y="173.8" width="1.38" height="1.38" fill="#5f9ea0" fill-opacity="0.68"/>
<rect x="929.28" y="209.26" width="1.01" height="1.01" fill="#5f9ea0" fill-opacity="0.53"/>
<rect x="932.52" y="203.75" width="1.47" height="1.47" fill="#5f9ea0" fill-opacity="0.7"/>
<rect x="921.76" y="193.64" width="1.37" height="1.37" fill="#5f9ea0" fill-opacity="0.51"/>
<rect x="909.2" y="208.04" width="0.96" height="0.96" fill="#5f9ea0" fill-opacity="0.45"/>
<rect x="934.56" y="189.78" width="1.07" height="1.07" fill="#5f9ea0" fill-opacity="0.56"/>
<rect x="924.5" y="199.8" width="0.73" height="0.73" fill="#5f9ea0" fill-opacity="0.49"/>
<rect x="921.62" y="195.76" width="0.93" height="0.93" fill="#5f9ea0" fill-opacity="0.7"/>
<rect x="924.19" y="209.59" width="1.42" height="1.42" fill="#5f9ea0" fill-opacity="0.66"/>
<rect x="908.97" y="203.34" width="0.92" height="0.92" fill="#5f9ea0" fill-opacity="0.48"/>
<rect x="937.88" y="196.56" width="1.05" height="1.05" fill="#5f9ea0" fill-opacity="0.72"/>
<rect x="910.31" y="202.55" width="1.11" height="1.11" fill="#5f9ea0" fill-opacity="0.4"/>
<rect x="919.51" y="197.56" width="1" height="1" fill="#5f9ea0" fill-opacity="0.36"/>
<rect x="925.08" y="218.49" width="0.82" height="0.82" fill="#5f9ea0" fill-opacity="0.66"/>
<rect x="916.1" y="194.95" width="1.47" height="1.47" fill="#5f9ea0" fill-opacity="0.37"/>
<rect x="936.12" y="175.02" width="1.02" height="1.02" fill="#5f9ea0" fill-opacity="0.5"/>
<rect x="902.33" y="208.78" width="1.2" height="1.2" fill="#5f9ea0" fill-opacity="0.41"/>
<rect x="924.31" y="202.34" width="0.76" height="0.76" fill="#5f9ea0" fill-opacity="0.39"/>
<rect x="910.9" y="198.03" width="1.24" height="1.24" fill="#5f9ea0" fill-opacity="0.47"/>
<rect x="923.8" y="196.57" width="1.2" height="1.2" fill="#5f9ea0" fill-opacity="0.53"/>
<rect x="918.52" y="195.3" width="0.85" height="0.85" fill="#5f9ea0" fill-opacity="0.72"/>
<rect x="905.16" y="199.84" width="0.77" height="0.77" fill="#5f9ea0" fill-opacity="0.58"/>
<rect x="938.68" y="194.95" width="1.46" height="1.46" fill="#5f9ea0" fill-opacity="0.6"/>
<rect x="938.85" y="199.34" width="1.15" height="1.15" fill="#5f9ea0" fill-opacity="0.74"/>
<rect x="924.78" y="182.07" width="0.81" height="0.81" fill="#5f9ea0" fill-opacity="0.53"/>
<rect x="919.54" y="184.79" width="1.17" height="1.17" fill="#5f9ea0" fill-opacity="0.38"/>
<rect x="912.47" y="196.91" width="0.72" height="0.72" fill="#5f9ea0" fill-opacity="0.64"/>
<rect x="910.26" y="201.57" width="1.07" height="1.07" fill="#5f9ea0" fill-opacity="0.38"/>
<rect x="892.24" y="178.15" width="1.34" height="1.34" fill="#5f9ea0" fill-opacity="0.7"/>
<rect x="902.1" y="174.37" width="1.04" height="1.04" fill="#5f9ea0" fill-opacity="0.4"/>
<rect x="919.54" y="199.13" width="0.87" height="0.87" fill="#5f9ea0" fill-opacity="0.4"/>
<rect x="931.44" y="212.84" width="1" height="1" fill="#5f9ea0" fill-opacity="0.48"/>
<rect x="937" y="209.89" width="0.9" height="0.9" fill="#5f9ea0" fill-opacity="0.71"/>
<rect x="920.56" y="198.78" width="1.36" height="1.36" fill="#5f9ea0" fill-opacity="0.54"/>
<rect x="932.03" y="184.55" width="1.26" height="1.26" fill="#5f9ea0" fill-opacity="0.45"/>
<rect x="914.72" y="193.82" width="1.43" height="1.43" fill="#5f9ea0" fill-opacity="0.69"/>
<rect x="913.78" y="193.95" width="0.87" height="0.87" fill="#5f9ea0" fill-opacity="0.53"/>
<rect x="945.09" y="217.44" width="1.44" height="1.44" fill="#5f9ea0" fill-opacity="0.54"/>
<rect x="919.81" y="210.21" width="1.49" height="1.49" fill="#5f9ea0" fill-opacity="0.53"/>
<rect x="917.85" y="186.31" width="0.81" height="0.81" fill="#5f9ea0" fill-opacity="0.47"/>
<rect x="898.71" y="204.81" width="1.01" height="1.01" fill="#5f9ea0" fill-opacity="0.44"/>
<rect x="948.03" y="210.48" width="1.37" height="1.37" fill="#5f9ea0" fill-opacity="0.52"/>
<rect x="918.79" y="187" width="0.91" height="0.91" fill="#5f9ea0" fill-opacity="0.38"/>
<rect x="917.42" y="196.89" width="1.42" height="1.42" fill="#5f9ea0" fill-opacity="0.41"/>
<rect x="931.69" y="193.01" width="1.24" height="1.24" fill="#5f9ea0" fill-opacity="0.43"/>
<rect x="925.75" y="215.02" width="1.14" height="1.14" fill="#5f9ea0" fill-opacity="0.57"/>
<rect x="905.72" y="208.88" width="1.48" height="1.48" fill="#5f9ea0" fill-opacity="0.74"/>
<rect x="931.72" y="188.53" width="1.05" height="1.05" fill="#5f9ea0" fill-opacity="0.69"/>
<rect x="925.17" y="188.59" width="1.11" height="1.11" fill="#5f9ea0" fill-opacity="0.35"/>
<rect x="906.85" y="188.59" width="0.8" height="0.8" fill="#5f9ea0" fill-opacity="0.73"/>
<rect x="914.82" y="185.81" width="1.36" height="1.36" fill="#5f9ea0" fill-opacity="0.57"/>
<rect x="915.94" y="197.68" width="1.26" height="1.26" fill="#5f9ea0" fill-opacity="0.55"/>
<rect x="899.61" y="195.51" width="1.29" height="1.29" fill="#5f9ea0" fill-opacity="0.63"/>
<rect x="897.11" y="164.75" width="1.02" height="1.02" fill="#5f9ea0" fill-opacity="0.74"/>
<rect x="942.76" y="209.03" width="1.18" height="1.18" fill="#5f9ea0" fill-opacity="0.54"/>
<rect x="918.24" y="203.78" width="1.01" height="1.01" fill="#5f9ea0" fill-opacity="0.54"/>
<rect x="941.43" y="198.48" width="1.4" height="1.4" fill="#5f9ea0" fill-opacity="0.58"/>
<rect x="916.63" y="192.95" width="0.97" height="0.97" fill="#5f9ea0" fill-opacity="0.36"/>
<rect x="953.14" y="194.64" width="1.06" height="1.06" fill="#5f9ea0" fill-opacity="0.44"/>
<rect x="900.53" y="185.61" width="0.86" height="0.86" fill="#5f9ea0" fill-opacity="0.44"/>
<rect x="926.38" y="182.85" width="0.82" height="0.82" fill="#5f9ea0" fill-opacity="0.48"/>
<rect x="926.28" y="184.66" width="1.5" height="1.5" fill="#5f9ea0" fill-opacity="0.72"/>
<rect x="887.53" y="206.75" width="0.73" height="0.73" fill="#5f9ea0" fill-opacity="0.6"/>
<rect x="927.84" y="196.49" width="1.34" height="1.34" fill="#5f9ea0" fill-opacity="0.51"/>
<rect x="934.6" y="200.44" width="1.36" height="1.36" fill="#5f9ea0" fill-opacity="0.52"/>
<rect x="929.16" y="201.38" width="1.08" height="1.08" fill="#5f9ea0" fill-opacity="0.64"/>
<rect x="934.67" y="206.12" width="0.95" height="0.95" fill="#5f9ea0" fill-opacity="0.55"/>
<rect x="945.57" y="191.72" width="0.74" height="0.74" fill="#5f9ea0" fill-opacity="0.64"/>
<rect x="901.8" y="195.77" width="1.45" height="1.45" fill="#5f9ea0" fill-opacity="0.65"/>
<rect x="937.98" y="203.19" width="1.42" height="1.42" fill="#5f9ea0" fill-opacity="0.42"/>
<rect x="915.27" y="197.93" width="1.3" height="1.3" fill="#5f9ea0" fill-opacity="0.45"/>
<rect x="904.66" y="190.17" width="1.37" height="1.37" fill="#5f9ea0" fill-opacity="0.5"/>
<rect x="932.91" y="201.47" width="1.45" height="1.45" fill="#5f9ea0" fill-opacity="0.54"/>
<rect x="927.54" y="205.53" width="0.88" height="0.88" fill="#5f9ea0" fill-opacity="0.54"/>
<rect x="954.48" y="173.52" width="1.29" height="1.29" fill="#5f9ea0" fill-opacity="0.66"/>
<rect x="901.89" y="213.09" width="1.2" height="1.2" fill="#5f9ea0" fill-opacity="0.54"/>
<rect x="911.94" y="192.55" width="0.7" height="0.7" fill="#5f9ea0" fill-opacity="0.57"/>
<rect x="924.8" y="190.16" width="1.34" height="1.34" fill="#5f9ea0" fill-opacity="0.45"/>
<rect x="903.75" y="204.18" width="1.16" height="1.16" fill="#5f9ea0" fill-opacity="0.53"/>
<rect x="921.11" y="217.79" width="1.26" height="1.26" fill="#5f9ea0" fill-opacity="0.44"/>
<rect x="960.53" y="181.88" width="0.89" height="0.89" fill="#5f9ea0" fill-opacity="0.63"/>
<rect x="904.41" y="202.75" width="1.47" height="1.47" fill="#5f9ea0" fill-opacity="0.42"/>
<rect x="920.79" y="204.86" width="0.85" height="0.85" fill="#5f9ea0" fill-opacity="0.74"/>
<rect x="930.79" y="208.99" width="1.21" height="1.21" fill="#5f9ea0" fill-opacity="0.7"/>
<rect x="916.56" y="184.4" width="1.42" height="1.42" fill="#5f9ea0" fill-opacity="0.62"/>
<rect x="918.47" y="195.9" width="0.99" height="0.99" fill="#5f9ea0" fill-opacity="0.41"/>
<rect x="927.69" y="218.4" width="1.1" height="1.1" fill="#5f9ea0" fill-opacity="0.6"/>
<rect x="935.37" y="205.16" width="0.95" height="0.95" fill="#5f9ea0" fill-opacity="0.72"/>
<rect x="904.83" y="198.24" width="0.77" height="0.77" fill="#5f9ea0" fill-opacity="0.5"/>
<rect x="917.05" y="190.12" width="1.44" height="1.44" fill="#5f9ea0" fill-opacity="0.66"/>
<rect x="927.18" y="198.94" width="1.03" height="1.03" fill="#5f9ea0" fill-opacity="0.46"/>
<rect x="918.48" y="195.11" width="0.82" height="0.82" fill="#5f9ea0" fill-opacity="0.66"/>
<rect x="915.59" y="182.29" width="1.16" height="1.16" fill="#5f9ea0" fill-opacity="0.69"/>
<rect x="937.36" y="186.65" width="1.3" height="1.3" fill="#5f9ea0" fill-opacity="0.69"/>
<rect x="915.56" y="178.45" width="1.35" height="1.35" fill="#5f9ea0" fill-opacity="0.7"/>
<rect x="929.84" y="186.89" width="1.46" height="1.46" fill="#5f9ea0" fill-opacity="0.53"/>
<rect x="929.82" y="202.85" width="1.41" height="1.41" fill="#5f9ea0" fill-opacity="0.46"/>
<rect x="914.18" y="204.42" width="0.86" height="0.86" fill="#5f9ea0" fill-opacity="0.56"/>
<rect x="909.03" y="203.01" width="1.12" height="1.12" fill="#5f9ea0" fill-opacity="0.54"/>
<rect x="916.96" y="199.02" width="1.36" height="1.36" fill="#5f9ea0" fill-opacity="0.64"/>
<rect x="920.09" y="204.88" width="0.89" height="0.89" fill="#5f9ea0" fill-opacity="0.72"/>
<rect x="922.25" y="207.82" width="1.05" height="1.05" fill="#5f9ea0" fill-opacity="0.44"/>
<rect x="930.43" y="205.68" width="1.11" height="1.11" fill="#5f9ea0" fill-opacity="0.66"/>
<rect x="907.67" y="201.71" width="1.15" height="1.15" fill="#5f9ea0" fill-opacity="0.63"/>
<rect x="922.27" y="193.32" width="1.36" height="1.36" fill="#5f9ea0" fill-opacity="0.43"/>
<rect x="909.23" y="196.58" width="1.17" height="1.17" fill="#5f9ea0" fill-opacity="0.51"/>
<rect x="920.27" y="197.8" width="0.81" height="0.81" fill="#5f9ea0" fill-opacity="0.55"/>
<rect x="943.1" y="198.64" width="1.15" height="1.15" fill="#5f9ea0" fill-opacity="0.61"/>
<rect x="951.89" y="202.73" width="1.49" height="1.49" fill="#5f9ea0" fill-opacity="0.6"/>
<rect x="925.76" y="187.08" width="0.88" height="0.88" fill="#5f9ea0" fill-opacity="0.4"/>
<rect x="908.01" y="187.96" width="1.32" height="1.32" fill="#5f9ea0" fill-opacity="0.57"/>
<rect x="922.92" y="220.61" width="1.25" height="1.25" fill="#5f9ea0" fill-opacity="0.6"/>
<rect x="920.79" y="202.98" width="1.48" height="1.48" fill="#5f9ea0" fill-opacity="0.73"/>
<rect x="901.55" y="198.29" width="1.1" height="1.1" fill="#5f9ea0" fill-opacity="0.47"/>
<rect x="927.61" y="174.78" width="1.08" height="1.08" fill="#5f9ea0" fill-opacity="0.52"/>
<rect x="924.53" y="200" width="1.01" height="1.01" fill="#5f9ea0" fill-opacity="0.48"/>
<rect x="896.77" y="198.38" width="1.49" height="1.49" fill="#5f9ea0" fill-opacity="0.44"/>
<rect x="910.09" y="179.31" width="1.04" height="1.04" fill="#5f9ea0" fill-opacity="0.65"/>
<rect x="923.84" y="201.65" width="1.4" height="1.4" fill="#5f9ea0" fill-opacity="0.68"/>
<rect x="910.78" y="209.37" width="0.97" height="0.97" fill="#5f9ea0" fill-opacity="0.72"/>
<rect x="908.52" y="190.16" width="1.22" height="1.22" fill="#5f9ea0" fill-opacity="0.5"/>
<rect x="892.92" y="188.49" width="0.74" height="0.74" fill="#5f9ea0" fill-opacity="0.36"/>
<rect x="949.29" y="196.08" width="1.33" height="1.33" fill="#5f9ea0" fill-opacity="0.7"/>
<rect x="927.51" y="194.85" width="1.47" height="1.47" fill="#5f9ea0" fill-opacity="0.71"/>
<rect x="934.8" y="223.64" width="1.1" height="1.1" fill="#5f9ea0" fill-opacity="0.53"/>
<rect x="896.99" y="189.38" width="0.76" height="0.76" fill="#5f9ea0" fill-opacity="0.42"/>
<rect x="902.76" y="193.17" width="1.24" height="1.24" fill="#5f9ea0" fill-opacity="0.47"/>
<rect x="950.53" y="195.56" width="0.9" height="0.9" fill="#5f9ea0" fill-opacity="0.48"/>
<rect x="951.57" y="190.87" width="1.47" height="1.47" fill="#5f9ea0" fill-opacity="0.51"/>
<rect x="917.3" y="196.32" width="1.35" height="1.35" fill="#5f9ea0" fill-opacity="0.66"/>
<rect x="895.49" y="196.67" width="0.78" height="0.78" fill="#5f9ea0" fill-opacity="0.36"/>
<rect x="920.46" y="183.43" width="1.13" height="1.13" fill="#5f9ea0" fill-opacity="0.45"/>
<rect x="928.98" y="189.46" width="1.16" height="1.16" fill="#5f9ea0" fill-opacity="0.46"/>
<rect x="938.49" y="205.32" width="1.41" height="1.41" fill="#5f9ea0" fill-opacity="0.38"/>
<rect x="895.45" y="197.47" width="1.42" height="1.42" fill="#5f9ea0" fill-opacity="0.49"/>
<rect x="938.77" y="220.32" width="1.38" height="1.38" fill="#5f9ea0" fill-opacity="0.7"/>
<rect x="895.36" y="197.24" width="1.22" height="1.22" fill="#5f9ea0" fill-opacity="0.67"/>
<rect x="879.04" y="207.9" width="0.8" height="0.8" fill="#5f9ea0" fill-opacity="0.43"/>
<rect x="926.03" y="192.49" width="1.29" height="1.29" fill="#5f9ea0" fill-opacity="0.53"/>
<rect x="914.35" y="200.32" width="1.11" height="1.11" fill="#5f9ea0" fill-opacity="0.6"/>
<rect x="955.62" y="199.24" width="1.13" height="1.13" fill="#5f9ea0" fill-opacity="0.43"/>
<rect x="917.79" y="183.44" width="1.18" height="1.18" fill="#5f9ea0" fill-opacity="0.42"/>
<rect x="908.07" y="198.11" width="0.84" height="0.84" fill="#5f9ea0" fill-opacity="0.67"/>
<rect x="925.96" y="192.53" width="1.49" height="1.49" fill="#5f9ea0" fill-opacity="0.38"/>
<rect x="919.89" y="187.6" width="0.94" height="0.94" fill="#5f9ea0" fill-opacity="0.42"/>
<rect x="939.26" y="197.35" width="1.43" height="1.43" fill="#5f9ea0" fill-opacity="0.55"/>
<rect x="894.55" y="181.16" width="1.21" height="1.21" fill="#5f9ea0" fill-opacity="0.47"/>
<rect x="937.13" y="185.51" width="1.15" height="1.15" fill="#5f9ea0" fill-opacity="0.63"/>
<rect x="900.26" y="200.19" width="1.39" height="1.39" fill="#5f9ea0" fill-opacity="0.68"/>
<rect x="941.04" y="211.33" width="1.18" height="1.18" fill="#5f9ea0" fill-opacity="0.59"/>
<rect x="928.9" y="185.62" width="1.3" height="1.3" fill="#5f9ea0" fill-opacity="0.44"/>
<rect x="909.62" y="206.8" width="1.2" height="1.2" fill="#5f9ea0" fill-opacity="0.68"/>
<rect x="910.92" y="182.43" width="0.81" height="0.81" fill="#5f9ea0" fill-opacity="0.56"/>
<rect x="915.61" y="191.08" width="0.71" height="0.71" fill="#5f9ea0" fill-opacity="0.48"/>
<rect x="917.56" y="198.54" width="1.15" height="1.15" fill="#5f9ea0" fill-opacity="0.67"/>
<rect x="911.89" y="210.74" width="1.44" height="1.44" fill="#5f9ea0" fill-opacity="0.47"/>
<rect x="937" y="205.67" width="1.17" height="1.17" fill="#5f9ea0" fill-opacity="0.41"/>
<rect x="918.7" y="211.97" width="1.21" height="1.21" fill="#5f9ea0" fill-opacity="0.64"/>
<rect x="932.25" y="212.92" width="1.31" height="1.31" fill="#5f9ea0" fill-opacity="0.68"/>
<rect x="937.35" y="203.77" width="1.06" height="1.06" fill="#5f9ea0" fill-opacity="0.45"/>
<rect x="906.71" y="195.61" width="0.71" height="0.71" fill="#5f9ea0" fill-opacity="0.45"/>
<rect x="922.48" y="197.25" width="0.97" height="0.97" fill="#5f9ea0" fill-opacity="0.62"/>
<rect x="943.24" y="169.1" width="0.77" height="0.77" fill="#5f9ea0" fill-opacity="0.49"/>
<rect x="942.08" y="171.31" width="0.76" height="0.76" fill="#5f9ea0" fill-opacity="0.51"/>
<rect x="938.11" y="166.47" width="1.4" height="1.4" fill="#5f9ea0" fill-opacity="0.45"/>
<rect x="932.93" y="169.16" width="1.34" height="1.34" fill="#5f9ea0" fill-opacity="0.54"/>
<rect x="941.82" y="167.87" width="1.5" height="1.5" fill="#5f9ea0" fill-opacity="0.61"/>
<rect x="939.82" y="170.66" width="0.97" height="0.97" fill="#5f9ea0" fill-opacity="0.53"/>
<rect x="948.39" y="168.46" width="0.94" height="0.94" fill="#5f9ea0" fill-opacity="0.38"/>
<rect x="934.66" y="172.88" width="0.95" height="0.95" fill="#5f9ea0" fill-opacity="0.36"/>
<rect x="950.27" y="172.1" width="1.32" height="1.32" fill="#5f9ea0" fill-opacity="0.59"/>
<rect x="947.49" y="171.76" width="1.39" height="1.39" fill="#5f9ea0" fill-opacity="0.7"/>
<rect x="948.3" y="168.95" width="1.46" height="1.46" fill="#5f9ea0" fill-opacity="0.51"/>
<rect x="940.11" y="166.78" width="1.1" height="1.1" fill="#5f9ea0" fill-opacity="0.64"/>
<rect x="936.24" y="170.87" width="1.08" height="1.08" fill="#5f9ea0" fill-opacity="0.48"/>
<rect x="944.02" y="167.86" width="1.36" height="1.36" fill="#5f9ea0" fill-opacity="0.65"/>
<rect x="941.65" y="172.43" width="0.83" height="0.83" fill="#5f9ea0" fill-opacity="0.48"/>
<rect x="947.14" y="174.34" width="0.75" height="0.75" fill="#5f9ea0" fill-opacity="0.56"/>
<rect x="939.78" y="166.94" width="0.71" height="0.71" fill="#5f9ea0" fill-opacity="0.68"/>
<rect x="937.28" y="167" width="0.92" height="0.92" fill="#5f9ea0" fill-opacity="0.62"/>
<rect x="940.67" y="166.99" width="1.5" height="1.5" fill="#5f9ea0" fill-opacity="0.69"/>
<rect x="933.33" y="169.09" width="1.03" height="1.03" fill="#5f9ea0" fill-opacity="0.51"/>
<rect x="946.06" y="167.75" width="1.43" height="1.43" fill="#5f9ea0" fill-opacity="0.66"/>
<rect x="939.84" y="173.24" width="1.15" height="1.15" fill="#5f9ea0" fill-opacity="0.67"/>
<rect x="945.05" y="168.36" width="0.86" height="0.86" fill="#5f9ea0" fill-opacity="0.51"/>
<rect x="938.85" y="168.3" width="1.34" height="1.34" fill="#5f9ea0" fill-opacity="0.66"/>
<rect x="948.28" y="167.57" width="1.27" height="1.27" fill="#5f9ea0" fill-opacity="0.67"/>
<rect x="938.34" y="169.41" width="0.71" height="0.71" fill="#5f9ea0" fill-opacity="0.47"/>
<rect x="940.91" y="167.29" width="0.77" height="0.77" fill="#5f9ea0" fill-opacity="0.64"/>
<rect x="938.64" y="168.62" width="0.9" height="0.9" fill="#5f9ea0" fill-opacity="0.69"/>
<rect x="943.5" y="169.99" width="0.86" height="0.86" fill="#5f9ea0" fill-opacity="0.37"/>
<rect x="941.29" y="169.67" width="1.37" height="1.37" fill="#5f9ea0" fill-opacity="0.57"/>
<rect x="939.09" y="168.56" width="0.96" height="0.96" fill="#5f9ea0" fill-opacity="0.41"/>
<rect x="949.43" y="170.37" width="1.02" height="1.02" fill="#5f9ea0" fill-opacity="0.67"/>
<rect x="942.06" y="169.93" width="0.85" height="0.85" fill="#5f9ea0" fill-opacity="0.54"/>
<rect x="940.44" y="166.34" width="1.14" height="1.14" fill="#5f9ea0" fill-opacity="0.71"/>
<rect x="937.72" y="164.94" width="0.89" height="0.89" fill="#5f9ea0" fill-opacity="0.48"/>
<rect x="943.38" y="169.54" width="1.16" height="1.16" fill="#5f9ea0" fill-opacity="0.73"/>
<rect x="870.79" y="206.86" width="1" height="1" fill="#5f9ea0" fill-opacity="0.72"/>
<rect x="883.31" y="206.33" width="1.21" height="1.21" fill="#5f9ea0" fill-opacity="0.7"/>
<rect x="881.38" y="206.64" width="1.31" height="1.31" fill="#5f9ea0" fill-opacity="0.47"/>
<rect x="876.31" y="204.19" width="1.35" height="1.35" fill="#5f9ea0" fill-opacity="0.62"/>
<rect x="886.68" y="207.56" width="1.07" height="1.07" fill="#5f9ea0" fill-opacity="0.37"/>
<rect x="871.92" y="206.19" width="1.19" height="1.19" fill="#5f9ea0" fill-opacity="0.43"/>
<rect x="875.14" y="208.28" width="0.85" height="0.85" fill="#5f9ea0" fill-opacity="0.68"/>
<rect x="872.01" y="206.24" width="1.4" height="1.4" fill="#5f9ea0" fill-opacity="0.5"/>
<rect x="868.83" y="208.22" width="1.03" height="1.03" fill="#5f9ea0" fill-opacity="0.37"/>
<rect x="878.59" y="207.2" width="1.49" height="1.49" fill="#5f9ea0" fill-opacity="0.65"/>
<rect x="888.58" y="210.1" width="1.41" height="1.41" fill="#5f9ea0" fill-opacity="0.6"/>
<rect x="878.22" y="207.42" width="1" height="1" fill="#5f9ea0" fill-opacity="0.47"/>
<rect x="879.44" y="209.14" width="1.38" height="1.38" fill="#5f9ea0" fill-opacity="0.46"/>
<rect x="877.53" y="203.85" width="1.43" height="1.43" fill="#5f9ea0" fill-opacity="0.53"/>
<rect x="878.4" y="207.36" width="1.2" height="1.2" fill="#5f9ea0" fill-opacity="0.37"/>
<rect x="868.05" y="207.94" width="1.03" height="1.03" fill="#5f9ea0" fill-opacity="0.61"/>
<rect x="881.09" y="207.88" width="1.28" height="1.28" fill="#5f9ea0" fill-opacity="0.35"/>
<rect x="891.26" y="204.55" width="1.34" height="1.34" fill="#5f9ea0" fill-opacity="0.69"/>
<rect x="888.21" y="205.78" width="0.79" height="0.79" fill="#5f9ea0" fill-opacity="0.69"/>
<rect x="880.15" y="207.01" width="1.4" height="1.4" fill="#5f9ea0" fill-opacity="0.61"/>
<rect x="879.5" y="211.44" width="1.06" height="1.06" fill="#5f9ea0" fill-opacity="0.62"/>
<rect x="872.01" y="205.82" width="0.8" height="0.8" fill="#5f9ea0" fill-opacity="0.65"/>
<rect x="880.37" y="209.34" width="1.13" height="1.13" fill="#5f9ea0" fill-opacity="0.36"/>
<rect x="874.12" y="207.15" width="0.71" height="0.71" fill="#5f9ea0" fill-opacity="0.47"/>
<rect x="881.65" y="204.43" width="0.8" height="0.8" fill="#5f9ea0" fill-opacity="0.67"/>
<rect x="884.34" y="207.17" width="1.45" height="1.45" fill="#5f9ea0" fill-opacity="0.47"/>
<rect x="879.38" y="210.07" width="0.87" height="0.87" fill="#5f9ea0" fill-opacity="0.64"/>
<rect x="932.91" y="189.47" width="0.88" height="0.88" fill="#5f9ea0" fill-opacity="0.36"/>
<rect x="967.8" y="189.5" width="1.08" height="1.08" fill="#5f9ea0" fill-opacity="0.69"/>
<rect x="946.47" y="192.94" width="1.2" height="1.2" fill="#5f9ea0" fill-opacity="0.7"/>
<rect x="942.05" y="188.54" width="0.91" height="0.91" fill="#5f9ea0" fill-opacity="0.47"/>
<rect x="965.95" y="192.61" width="1.25" height="1.25" fill="#5f9ea0" fill-opacity="0.51"/>
<rect x="938.62" y="184.69" width="1.11" height="1.11" fill="#5f9ea0" fill-opacity="0.48"/>
<rect x="942.52" y="185.01" width="1.05" height="1.05" fill="#5f9ea0" fill-opacity="0.64"/>
<rect x="948.62" y="192.63" width="0.76" height="0.76" fill="#5f9ea0" fill-opacity="0.6"/>
<rect x="939.31" y="186.93" width="0.98" height="0.98" fill="#5f9ea0" fill-opacity="0.49"/>
<rect x="976.17" y="190.67" width="1.19" height="1.19" fill="#5f9ea0" fill-opacity="0.51"/>
<rect x="956.6" y="191.08" width="1.49" height="1.49" fill="#5f9ea0" fill-opacity="0.52"/>
<rect x="935.93" y="192.13" width="0.8" height="0.8" fill="#5f9ea0" fill-opacity="0.61"/>
<rect x="939.29" y="184.26" width="1.37" height="1.37" fill="#5f9ea0" fill-opacity="0.38"/>
<rect x="950.02" y="188.24" width="1.39" height="1.39" fill="#5f9ea0" fill-opacity="0.48"/>
<rect x="963.96" y="190.98" width="1.04" height="1.04" fill="#5f9ea0" fill-opacity="0.62"/>
<rect x="942.38" y="186.11" width="0.99" height="0.99" fill="#5f9ea0" fill-opacity="0.47"/>
<rect x="935.52" y="191.43" width="1.28" height="1.28" fill="#5f9ea0" fill-opacity="0.51"/>
<rect x="953.02" y="188.02" width="1.4" height="1.4" fill="#5f9ea0" fill-opacity="0.44"/>
<rect x="945.22" y="193.27" width="1.05" height="1.05" fill="#5f9ea0" fill-opacity="0.45"/>
<rect x="946.76" y="187.25" width="1.26" height="1.26" fill="#5f9ea0" fill-opacity="0.69"/>
<rect x="943.03" y="185.03" width="1.31" height="1.31" fill="#5f9ea0" fill-opacity="0.65"/>
<rect x="951.43" y="187.32" width="0.94" height="0.94" fill="#5f9ea0" fill-opacity="0.6"/>
<rect x="968.84" y="188.29" width="1.06" height="1.06" fill="#5f9ea0" fill-opacity="0.4"/>
<rect x="938.94" y="190.36" width="1.22" height="1.22" fill="#5f9ea0" fill-opacity="0.72"/>
<rect x="939.02" y="191.93" width="0.94" height="0.94" fill="#5f9ea0" fill-opacity="0.44"/>
<rect x="960.04" y="185.12" width="1.16" height="1.16" fill="#5f9ea0" fill-opacity="0.6"/>
<rect x="958.63" y="194.34" width="1.14" height="1.14" fill="#5f9ea0" fill-opacity="0.39"/>
<path d="M866.23 158.2 C866.97 158.48 869.3 158.66 870.69 159.87 C872.09 161.08 874.04 163.5 874.6 165.45 C875.15 167.4 875.06 170.09 874.04 171.58 C873.02 173.07 869.76 173.91 868.46 174.37 C867.16 174.84 866.6 174.37 866.23 174.37" stroke="#5f9ea0" stroke-width="1.3" fill="none" stroke-linejoin="round"/>
<path d="M871.25 149.83 C872.46 150.85 876.55 153.36 878.5 155.97 C880.45 158.57 882.22 162.01 882.96 165.45 C883.71 168.89 883.33 172.88 882.96 176.6 C882.59 180.32 882.03 186.83 880.73 187.76 C879.43 188.69 877.2 183.48 875.15 182.18 C873.11 180.88 869.95 180.41 868.46 179.95 C866.97 179.48 866.6 179.48 866.23 179.39" stroke="#5f9ea0" stroke-width="1.3" fill="none" stroke-linejoin="round"/>
<path d="M866.23 182.18 C867.72 183.48 871.81 187.76 875.15 189.99 C878.5 192.22 883.52 196.49 886.31 195.56 C889.1 194.63 890.21 187.01 891.89 184.41 C893.56 181.81 893 181.62 896.35 179.95 C899.69 178.27 908.62 173.81 911.96 174.37 C915.31 174.93 912.89 180.78 916.43 183.29 C919.96 185.8 929.25 189.24 933.16 189.43 C937.06 189.62 937.53 187.38 939.85 184.41 C942.17 181.44 946.73 174.09 947.1 171.58 C947.47 169.07 944.03 168.79 942.08 169.35 C940.13 169.91 939.11 174.84 935.39 174.93 C931.67 175.02 923.3 171.49 919.77 169.91 C916.24 168.33 916.24 167.49 914.2 165.45 C912.15 163.4 908.9 160.24 907.5 157.64 C906.11 155.04 906.11 151.13 905.83 149.83" stroke="#5f9ea0" stroke-width="1.3" fill="none" stroke-linejoin="round"/>
<path d="M884.64 149.83 C884.91 151.69 885.29 157.27 886.31 160.99 C887.33 164.7 889.28 170.37 890.77 172.14 C892.26 173.91 894.21 172.33 895.23 171.58 C896.26 170.84 897.28 169.26 896.91 167.68 C896.53 166.1 894.4 163.77 893 162.1 C891.61 160.43 889.28 158.38 888.54 157.64" stroke="#5f9ea0" stroke-width="1.3" fill="none" stroke-linejoin="round"/>
<path d="M891.89 149.83 C892.07 150.95 892.26 155.04 893 156.52 C893.75 158.01 895.23 159.13 896.35 158.75 C897.46 158.38 899.04 155.78 899.69 154.29 C900.35 152.81 900.16 150.57 900.25 149.83" stroke="#5f9ea0" stroke-width="1.3" fill="none" stroke-linejoin="round"/>
<path d="M952.12 149.83 C951.93 151.32 950.45 156.15 951.01 158.75 C951.56 161.36 953.61 164.15 955.47 165.45 C957.33 166.75 959 167.12 962.16 166.56 C965.32 166 972.38 162.84 974.43 162.1" stroke="#5f9ea0" stroke-width="1.3" fill="none" stroke-linejoin="round"/>
<path d="M954.35 149.83 C954.35 150.95 953.79 154.48 954.35 156.52 C954.91 158.57 956.02 160.99 957.7 162.1 C959.37 163.22 961.6 163.5 964.39 163.22 C967.18 162.94 972.76 160.89 974.43 160.43" stroke="#5f9ea0" stroke-width="1.3" fill="none" stroke-linejoin="round"/>
<path d="M964.95 150.95 C965.41 151.32 966.9 153.18 967.74 153.18 C968.57 153.18 969.6 151.32 969.97 150.95" stroke="#5f9ea0" stroke-width="1.3" fill="none" stroke-linejoin="round"/>
<path d="M974.43 183.29 C973.13 183.85 970.15 185.53 966.62 186.64 C963.09 187.76 957.51 188.69 953.24 189.99 C948.96 191.29 943.48 193.15 940.97 194.45 C938.46 195.75 938.18 195.94 938.18 197.8 C938.18 199.65 939.94 202.81 940.97 205.6 C941.99 208.39 944.5 212.48 944.31 214.53 C944.13 216.57 943.2 217.87 939.85 217.87 C936.5 217.87 928.14 214.34 924.23 214.53 C920.33 214.71 918.29 217.32 916.43 218.99 C914.57 220.66 915.87 224.19 913.08 224.57 C910.29 224.94 903.41 222.52 899.69 221.22 C895.98 219.92 894.3 218.06 890.77 216.76 C887.24 215.46 882.59 213.04 878.5 213.41 C874.41 213.78 868.28 218.06 866.23 218.99" stroke="#5f9ea0" stroke-width="1.3" fill="none" stroke-linejoin="round"/>
<path d="M974.43 208.39 C971.45 208.39 960.39 208.11 956.58 208.39 C952.77 208.67 952.12 208.67 951.56 210.07 C951.01 211.46 953.7 214.9 953.24 216.76 C952.77 218.62 951.38 219.92 948.77 221.22 C946.17 222.52 941.34 224.75 937.62 224.57 C933.9 224.38 929.07 220.85 926.47 220.1 C923.86 219.36 923.3 218.99 922 220.1 C920.7 221.22 920.24 225.12 918.66 226.8 C917.08 228.47 916.24 230.33 912.52 230.14 C908.8 229.96 901.27 227.91 896.35 225.68 C891.42 223.45 886.87 218.25 882.96 216.76 C879.06 215.27 875.71 216.01 872.92 216.76 C870.13 217.5 867.35 220.48 866.23 221.22" stroke="#5f9ea0" stroke-width="1.3" fill="none" stroke-linejoin="round"/>
<path d="M870.69 224.57 C871.44 223.08 873.11 221.03 875.15 220.1 C877.2 219.17 880.36 218.8 882.96 218.99 C885.57 219.17 887.8 219.73 890.77 221.22 C893.75 222.71 898.39 225.5 900.81 227.91 C903.23 230.33 904.9 233.68 905.27 235.72 C905.64 237.77 904.71 239.35 903.04 240.18 C901.37 241.02 898.21 241.11 895.23 240.74 C892.26 240.37 888.54 238.97 885.19 237.95 C881.85 236.93 877.57 236.09 875.15 234.61 C872.74 233.12 871.44 230.7 870.69 229.03 C869.95 227.35 869.95 226.05 870.69 224.57Z" stroke="#5f9ea0" stroke-width="1.3" fill="none" stroke-linejoin="round"/>
<path d="M876.27 225.68 C876.64 224.47 878.13 223.82 879.62 223.45 C881.1 223.08 883.71 222.71 885.19 223.45 C886.68 224.19 887.8 226.43 888.54 227.91 C889.28 229.4 890.4 231.44 889.66 232.37 C888.91 233.3 886.12 233.77 884.08 233.49 C882.03 233.21 878.69 232 877.39 230.7 C876.08 229.4 875.9 226.89 876.27 225.68Z" stroke="#5f9ea0" stroke-width="1.3" fill="none" stroke-linejoin="round"/>
<path d="M866.23 236.84 C867.72 237.58 871.81 240 875.15 241.3 C878.5 242.6 882.22 243.9 886.31 244.64 C890.4 245.39 895.05 245.57 899.69 245.76 C904.34 245.95 909.73 245.39 914.2 245.76 C918.66 246.13 922.93 247.06 926.47 247.99 C930 248.92 932.79 250.96 935.39 251.34 C937.99 251.71 939.48 251.34 942.08 250.22 C944.68 249.11 948.59 247.43 951.01 244.64 C953.42 241.86 955.65 236.46 956.58 233.49 C957.51 230.52 955.28 227.35 956.58 226.8 C957.88 226.24 961.42 229.03 964.39 230.14 C967.36 231.26 972.76 232.93 974.43 233.49" stroke="#5f9ea0" stroke-width="1.3" fill="none" stroke-linejoin="round"/>
<path d="M866.23 239.07 C867.72 239.81 871.81 242.23 875.15 243.53 C878.5 244.83 882.03 246.13 886.31 246.87 C890.58 247.62 895.98 247.8 900.81 247.99 C905.64 248.18 911.03 247.62 915.31 247.99 C919.59 248.36 923.12 249.29 926.47 250.22 C929.81 251.15 933.16 252.82 935.39 253.57 C937.62 254.31 939.11 254.5 939.85 254.68" stroke="#5f9ea0" stroke-width="1.3" fill="none" stroke-linejoin="round"/>
<path d="M922 239.07 C922.38 237.11 924.23 235.07 926.47 234.05 C928.7 233.02 932.79 232.75 935.39 232.93 C937.99 233.12 940.69 233.58 942.08 235.16 C943.48 236.74 944.13 240.46 943.75 242.41 C943.38 244.37 941.8 245.95 939.85 246.87 C937.9 247.8 934.65 248.18 932.04 247.99 C929.44 247.8 925.91 247.25 924.23 245.76 C922.56 244.27 921.63 241.02 922 239.07Z" stroke="#5f9ea0" stroke-width="1.3" fill="none" stroke-linejoin="round"/>
<path d="M974.43 218.99 C973.96 219.17 972.11 219.17 971.64 220.1 C971.18 221.03 971.18 223.64 971.64 224.57 C972.11 225.5 973.96 225.5 974.43 225.68" stroke="#5f9ea0" stroke-width="1.3" fill="none" stroke-linejoin="round"/>
<path d="M969.97 199.47 L974.43 199.47" stroke="#5f9ea0" stroke-width="1.3" fill="none" stroke-linejoin="round"/>
<line x1="888" y1="149.9" x2="888" y2="254.1" stroke="#000" stroke-width="1.3" />
<line x1="866.4" y1="235.2" x2="975.4" y2="235.2" stroke="#000" stroke-width="1.3" />
</g>
<rect x="885.1" y="232.3" width="5.8" height="5.8" stroke="none" stroke-width="0" fill="#000" />
<g clip-path="url(#clip20)">
<rect x="873" y="302.6" width="14" height="10" fill="#5f9ea0" fill-opacity="0.32"/>
<rect x="929" y="300.6" width="12" height="9" fill="#5f9ea0" fill-opacity="0.18"/>
<path d="M866.23 298.87 C868.09 298.22 873.3 296.36 877.39 294.97 C881.48 293.57 886.68 290.97 890.77 290.51 C894.86 290.04 898.58 290.78 901.93 292.18 C905.27 293.57 909.08 296.45 910.85 298.87 C912.61 301.29 912.52 304.08 912.52 306.68 C912.52 309.28 912.61 312.44 910.85 314.49 C909.08 316.53 905.09 317.09 901.93 318.95 C898.76 320.81 894.86 324.53 891.89 325.64 C888.91 326.76 886.87 326.39 884.08 325.64 C881.29 324.9 877.76 322.85 875.15 321.18 C872.55 319.51 869.58 316.53 868.46 315.6" stroke="none" stroke-width="0" fill="#5f9ea0" fill-opacity="0.06"/>
<path d="M870.69 304.45 C871.44 302.22 872.74 300.08 875.15 298.87 C877.57 297.66 881.48 297.11 885.19 297.2 C888.91 297.29 894.49 298.31 897.46 299.43 C900.44 300.54 902.11 302.13 903.04 303.89 C903.97 305.66 903.97 308.26 903.04 310.03 C902.11 311.79 899.88 313 897.46 314.49 C895.05 315.98 890.96 318.02 888.54 318.95 C886.12 319.88 885.19 320.25 882.96 320.07 C880.73 319.88 877.2 319.14 875.15 317.83 C873.11 316.53 871.44 314.49 870.69 312.26 C869.95 310.03 869.95 306.68 870.69 304.45Z" stroke="none" stroke-width="0" fill="#5f9ea0" fill-opacity="0.1"/>
<path d="M876.27 308.91 C876.46 307.42 877.94 305.19 879.62 304.45 C881.29 303.71 884.82 303.71 886.31 304.45 C887.8 305.19 888.73 307.42 888.54 308.91 C888.35 310.4 886.87 312.63 885.19 313.37 C883.52 314.12 879.99 314.12 878.5 313.37 C877.01 312.63 876.08 310.4 876.27 308.91Z" stroke="none" stroke-width="0" fill="#5f9ea0" fill-opacity="0.3"/>
<path d="M917.54 308.91 C917.36 306.49 919.4 302.4 922 299.99 C924.61 297.57 929.25 295.15 933.16 294.41 C937.06 293.67 942.64 294.22 945.43 295.53 C948.22 296.83 949.33 299.62 949.89 302.22 C950.45 304.82 950.08 308.91 948.77 311.14 C947.47 313.37 944.68 314.77 942.08 315.6 C939.48 316.44 936.32 316.35 933.16 316.16 C930 315.98 925.72 315.7 923.12 314.49 C920.52 313.28 917.73 311.33 917.54 308.91Z" stroke="none" stroke-width="0" fill="#5f9ea0" fill-opacity="0.06"/>
<path d="M925.35 303.89 C925.54 301.85 927.95 299.89 929.81 298.87 C931.67 297.85 934.27 297.01 936.5 297.76 C938.74 298.5 942.27 301.47 943.2 303.33 C944.13 305.19 943.38 307.42 942.08 308.91 C940.78 310.4 937.62 311.89 935.39 312.26 C933.16 312.63 930.37 312.54 928.7 311.14 C927.02 309.75 925.16 305.94 925.35 303.89Z" stroke="none" stroke-width="0" fill="#5f9ea0" fill-opacity="0.12"/>
<path d="M974.43 262.06 C973.87 262.81 973.5 265.22 971.08 266.52 C968.67 267.82 962.72 268.38 959.93 269.87 C957.14 271.36 954.91 273.4 954.35 275.45 C953.79 277.49 954.91 280.65 956.58 282.14 C958.26 283.63 961.42 284.18 964.39 284.37 C967.36 284.56 972.76 283.44 974.43 283.26" stroke="none" stroke-width="0" fill="#5f9ea0" fill-opacity="0.06"/>
<path d="M909.73 364.68 C909.92 362.27 909.18 353.34 910.85 350.18 C912.52 347.02 916.43 346.65 919.77 345.72 C923.12 344.79 928.7 344.05 930.93 344.61 C933.16 345.16 932.97 345.72 933.16 349.07 C933.34 352.41 932.23 362.08 932.04 364.68" stroke="none" stroke-width="0" fill="#5f9ea0" fill-opacity="0.06"/>
<rect x="897.99" y="264.17" width="1.46" height="1.46" fill="#5f9ea0" fill-opacity="0.6"/>
<rect x="886.1" y="261.64" width="0.77" height="0.77" fill="#5f9ea0" fill-opacity="0.67"/>
<rect x="904.71" y="265.86" width="0.96" height="0.96" fill="#5f9ea0" fill-opacity="0.65"/>
<rect x="916.32" y="263.11" width="0.95" height="0.95" fill="#5f9ea0" fill-opacity="0.4"/>
<rect x="902.21" y="265.72" width="1.1" height="1.1" fill="#5f9ea0" fill-opacity="0.55"/>
<rect x="908.06" y="265.24" width="1.4" height="1.4" fill="#5f9ea0" fill-opacity="0.63"/>
<rect x="918.08" y="266.65" width="1.06" height="1.06" fill="#5f9ea0" fill-opacity="0.5"/>
<rect x="908.12" y="261.29" width="1.05" height="1.05" fill="#5f9ea0" fill-opacity="0.5"/>
<rect x="887.71" y="263.21" width="1.27" height="1.27" fill="#5f9ea0" fill-opacity="0.39"/>
<rect x="911.66" y="264.66" width="0.93" height="0.93" fill="#5f9ea0" fill-opacity="0.66"/>
<rect x="899.88" y="263.58" width="1.04" height="1.04" fill="#5f9ea0" fill-opacity="0.58"/>
<rect x="896.91" y="264.49" width="1.25" height="1.25" fill="#5f9ea0" fill-opacity="0.46"/>
<rect x="912.1" y="264.22" width="1.1" height="1.1" fill="#5f9ea0" fill-opacity="0.67"/>
<rect x="892.42" y="267.9" width="1.14" height="1.14" fill="#5f9ea0" fill-opacity="0.57"/>
<rect x="904.22" y="266.16" width="1.12" height="1.12" fill="#5f9ea0" fill-opacity="0.68"/>
<rect x="913.16" y="267.63" width="1.44" height="1.44" fill="#5f9ea0" fill-opacity="0.38"/>
<rect x="899.64" y="263.08" width="0.78" height="0.78" fill="#5f9ea0" fill-opacity="0.74"/>
<rect x="903.73" y="266.46" width="1.26" height="1.26" fill="#5f9ea0" fill-opacity="0.59"/>
<rect x="922.92" y="260.98" width="1.07" height="1.07" fill="#5f9ea0" fill-opacity="0.39"/>
<rect x="906.18" y="263.27" width="0.99" height="0.99" fill="#5f9ea0" fill-opacity="0.44"/>
<rect x="906.38" y="263.03" width="1.35" height="1.35" fill="#5f9ea0" fill-opacity="0.57"/>
<rect x="892.5" y="262.08" width="0.98" height="0.98" fill="#5f9ea0" fill-opacity="0.42"/>
<rect x="902.97" y="261.34" width="1.03" height="1.03" fill="#5f9ea0" fill-opacity="0.42"/>
<rect x="908.59" y="266.23" width="1.24" height="1.24" fill="#5f9ea0" fill-opacity="0.47"/>
<rect x="913.24" y="264.51" width="0.89" height="0.89" fill="#5f9ea0" fill-opacity="0.65"/>
<rect x="900.64" y="261.92" width="0.76" height="0.76" fill="#5f9ea0" fill-opacity="0.62"/>
<rect x="889.15" y="265.06" width="1.33" height="1.33" fill="#5f9ea0" fill-opacity="0.41"/>
<rect x="900.74" y="266.88" width="0.78" height="0.78" fill="#5f9ea0" fill-opacity="0.42"/>
<rect x="903.05" y="263.62" width="0.9" height="0.9" fill="#5f9ea0" fill-opacity="0.4"/>
<rect x="914.89" y="262.42" width="1.31" height="1.31" fill="#5f9ea0" fill-opacity="0.68"/>
<rect x="906.32" y="268.1" width="0.99" height="0.99" fill="#5f9ea0" fill-opacity="0.51"/>
<rect x="909.78" y="265.11" width="1" height="1" fill="#5f9ea0" fill-opacity="0.68"/>
<rect x="896.59" y="264.35" width="1.18" height="1.18" fill="#5f9ea0" fill-opacity="0.47"/>
<rect x="906.65" y="262.56" width="0.87" height="0.87" fill="#5f9ea0" fill-opacity="0.51"/>
<rect x="892.71" y="262.8" width="0.92" height="0.92" fill="#5f9ea0" fill-opacity="0.57"/>
<rect x="900.07" y="263.08" width="0.95" height="0.95" fill="#5f9ea0" fill-opacity="0.52"/>
<rect x="904.91" y="263.22" width="0.91" height="0.91" fill="#5f9ea0" fill-opacity="0.71"/>
<rect x="902.86" y="264.26" width="1.13" height="1.13" fill="#5f9ea0" fill-opacity="0.74"/>
<rect x="888.28" y="263.99" width="1.36" height="1.36" fill="#5f9ea0" fill-opacity="0.41"/>
<rect x="905.35" y="263.91" width="0.77" height="0.77" fill="#5f9ea0" fill-opacity="0.62"/>
<rect x="891.78" y="266.4" width="1.04" height="1.04" fill="#5f9ea0" fill-opacity="0.57"/>
<rect x="890.14" y="263.4" width="1.39" height="1.39" fill="#5f9ea0" fill-opacity="0.74"/>
<rect x="883.22" y="268.01" width="0.73" height="0.73" fill="#5f9ea0" fill-opacity="0.64"/>
<rect x="901.19" y="263.89" width="0.93" height="0.93" fill="#5f9ea0" fill-opacity="0.64"/>
<rect x="912.43" y="264.8" width="1.24" height="1.24" fill="#5f9ea0" fill-opacity="0.44"/>
<rect x="901.11" y="264.11" width="0.8" height="0.8" fill="#5f9ea0" fill-opacity="0.38"/>
<rect x="894.86" y="264.23" width="1.33" height="1.33" fill="#5f9ea0" fill-opacity="0.63"/>
<rect x="903.6" y="263.98" width="1.09" height="1.09" fill="#5f9ea0" fill-opacity="0.75"/>
<rect x="891.8" y="263.67" width="1.34" height="1.34" fill="#5f9ea0" fill-opacity="0.42"/>
<rect x="911.89" y="264.13" width="1.11" height="1.11" fill="#5f9ea0" fill-opacity="0.75"/>
<rect x="917.22" y="265.37" width="0.81" height="0.81" fill="#5f9ea0" fill-opacity="0.66"/>
<rect x="897.89" y="267.53" width="1.1" height="1.1" fill="#5f9ea0" fill-opacity="0.63"/>
<rect x="915.65" y="262.42" width="1.32" height="1.32" fill="#5f9ea0" fill-opacity="0.44"/>
<rect x="904.81" y="261.23" width="0.84" height="0.84" fill="#5f9ea0" fill-opacity="0.54"/>
<rect x="893.22" y="282.6" width="1.24" height="1.24" fill="#5f9ea0" fill-opacity="0.39"/>
<rect x="910.87" y="277.37" width="0.75" height="0.75" fill="#5f9ea0" fill-opacity="0.37"/>
<rect x="893.7" y="282.47" width="1.05" height="1.05" fill="#5f9ea0" fill-opacity="0.53"/>
<rect x="899.16" y="285.09" width="1" height="1" fill="#5f9ea0" fill-opacity="0.49"/>
<rect x="902.33" y="278.62" width="1.47" height="1.47" fill="#5f9ea0" fill-opacity="0.7"/>
<rect x="903.61" y="280.29" width="1.27" height="1.27" fill="#5f9ea0" fill-opacity="0.54"/>
<rect x="903.69" y="283.5" width="0.73" height="0.73" fill="#5f9ea0" fill-opacity="0.52"/>
<rect x="898.18" y="281.39" width="1.21" height="1.21" fill="#5f9ea0" fill-opacity="0.45"/>
<rect x="902.04" y="282.8" width="1.21" height="1.21" fill="#5f9ea0" fill-opacity="0.45"/>
<rect x="893.75" y="282.4" width="1.25" height="1.25" fill="#5f9ea0" fill-opacity="0.63"/>
<rect x="905.36" y="278.22" width="1.07" height="1.07" fill="#5f9ea0" fill-opacity="0.54"/>
<rect x="899.25" y="283.23" width="0.89" height="0.89" fill="#5f9ea0" fill-opacity="0.57"/>
<rect x="892.84" y="287.6" width="1.41" height="1.41" fill="#5f9ea0" fill-opacity="0.49"/>
<rect x="900.66" y="278.19" width="0.94" height="0.94" fill="#5f9ea0" fill-opacity="0.58"/>
<rect x="905.88" y="282.44" width="1.14" height="1.14" fill="#5f9ea0" fill-opacity="0.6"/>
<rect x="896.38" y="276.35" width="1.45" height="1.45" fill="#5f9ea0" fill-opacity="0.68"/>
<rect x="894.35" y="280.35" width="1" height="1" fill="#5f9ea0" fill-opacity="0.49"/>
<rect x="904.12" y="283.88" width="1.13" height="1.13" fill="#5f9ea0" fill-opacity="0.49"/>
<rect x="903.32" y="286.17" width="0.97" height="0.97" fill="#5f9ea0" fill-opacity="0.58"/>
<rect x="907.39" y="284.51" width="1.03" height="1.03" fill="#5f9ea0" fill-opacity="0.74"/>
<rect x="904.52" y="283.51" width="1.3" height="1.3" fill="#5f9ea0" fill-opacity="0.53"/>
<rect x="886.99" y="276.76" width="1.14" height="1.14" fill="#5f9ea0" fill-opacity="0.39"/>
<rect x="904.83" y="286.34" width="0.75" height="0.75" fill="#5f9ea0" fill-opacity="0.66"/>
<rect x="900.92" y="283.72" width="1.42" height="1.42" fill="#5f9ea0" fill-opacity="0.57"/>
<rect x="904" y="286.99" width="1.29" height="1.29" fill="#5f9ea0" fill-opacity="0.72"/>
<rect x="906.76" y="280.72" width="1.39" height="1.39" fill="#5f9ea0" fill-opacity="0.36"/>
<rect x="895.76" y="280.71" width="1.03" height="1.03" fill="#5f9ea0" fill-opacity="0.73"/>
<rect x="893.59" y="281.06" width="1.14" height="1.14" fill="#5f9ea0" fill-opacity="0.75"/>
<rect x="905.25" y="283.22" width="0.78" height="0.78" fill="#5f9ea0" fill-opacity="0.58"/>
<rect x="900.77" y="281.39" width="1.14" height="1.14" fill="#5f9ea0" fill-opacity="0.56"/>
<rect x="905.32" y="281.69" width="1.37" height="1.37" fill="#5f9ea0" fill-opacity="0.52"/>
<rect x="908.17" y="276.5" width="1" height="1" fill="#5f9ea0" fill-opacity="0.53"/>
<rect x="906.18" y="286.17" width="1.43" height="1.43" fill="#5f9ea0" fill-opacity="0.48"/>
<rect x="897" y="279.02" width="1.18" height="1.18" fill="#5f9ea0" fill-opacity="0.71"/>
<rect x="902.14" y="285.56" width="1.3" height="1.3" fill="#5f9ea0" fill-opacity="0.51"/>
<rect x="913.85" y="277.97" width="1.49" height="1.49" fill="#5f9ea0" fill-opacity="0.45"/>
<rect x="911.17" y="330.02" width="0.78" height="0.78" fill="#5f9ea0" fill-opacity="0.38"/>
<rect x="910.48" y="333.21" width="1.24" height="1.24" fill="#5f9ea0" fill-opacity="0.35"/>
<rect x="903.45" y="330.98" width="1.44" height="1.44" fill="#5f9ea0" fill-opacity="0.44"/>
<rect x="900.09" y="329.87" width="1.28" height="1.28" fill="#5f9ea0" fill-opacity="0.62"/>
<rect x="910.95" y="333.17" width="0.95" height="0.95" fill="#5f9ea0" fill-opacity="0.53"/>
<rect x="903.74" y="332.63" width="0.76" height="0.76" fill="#5f9ea0" fill-opacity="0.48"/>
<rect x="906.73" y="334.27" width="1.3" height="1.3" fill="#5f9ea0" fill-opacity="0.4"/>
<rect x="900.37" y="333.47" width="0.74" height="0.74" fill="#5f9ea0" fill-opacity="0.66"/>
<rect x="900.18" y="340.22" width="0.95" height="0.95" fill="#5f9ea0" fill-opacity="0.64"/>
<rect x="898.08" y="328.67" width="1.27" height="1.27" fill="#5f9ea0" fill-opacity="0.36"/>
<rect x="907.35" y="326.72" width="1.46" height="1.46" fill="#5f9ea0" fill-opacity="0.71"/>
<rect x="900.58" y="323.64" width="0.78" height="0.78" fill="#5f9ea0" fill-opacity="0.57"/>
<rect x="903.9" y="332.45" width="0.77" height="0.77" fill="#5f9ea0" fill-opacity="0.58"/>
<rect x="903.54" y="333.57" width="0.73" height="0.73" fill="#5f9ea0" fill-opacity="0.56"/>
<rect x="898.97" y="335.85" width="1.46" height="1.46" fill="#5f9ea0" fill-opacity="0.57"/>
<rect x="905.62" y="330.64" width="1.46" height="1.46" fill="#5f9ea0" fill-opacity="0.49"/>
<rect x="904.55" y="330.22" width="0.81" height="0.81" fill="#5f9ea0" fill-opacity="0.46"/>
<rect x="905.42" y="326.42" width="1.45" height="1.45" fill="#5f9ea0" fill-opacity="0.42"/>
<rect x="901.39" y="328.97" width="1.36" height="1.36" fill="#5f9ea0" fill-opacity="0.5"/>
<rect x="904.18" y="333.08" width="0.87" height="0.87" fill="#5f9ea0" fill-opacity="0.59"/>
<rect x="908.01" y="329.56" width="1.16" height="1.16" fill="#5f9ea0" fill-opacity="0.63"/>
<rect x="906.67" y="333.5" width="1.26" height="1.26" fill="#5f9ea0" fill-opacity="0.65"/>
<rect x="904.39" y="335.94" width="1.21" height="1.21" fill="#5f9ea0" fill-opacity="0.41"/>
<rect x="909.34" y="335.19" width="0.96" height="0.96" fill="#5f9ea0" fill-opacity="0.75"/>
<rect x="906.82" y="329.7" width="1.23" height="1.23" fill="#5f9ea0" fill-opacity="0.37"/>
<rect x="912.59" y="332.96" width="1.03" height="1.03" fill="#5f9ea0" fill-opacity="0.35"/>
<rect x="906.2" y="332.13" width="0.73" height="0.73" fill="#5f9ea0" fill-opacity="0.54"/>
<rect x="902.37" y="332.35" width="1.39" height="1.39" fill="#5f9ea0" fill-opacity="0.47"/>
<rect x="901.09" y="335.85" width="1.35" height="1.35" fill="#5f9ea0" fill-opacity="0.36"/>
<rect x="901.06" y="340" width="1.29" height="1.29" fill="#5f9ea0" fill-opacity="0.46"/>
<rect x="906.95" y="335.28" width="0.77" height="0.77" fill="#5f9ea0" fill-opacity="0.38"/>
<rect x="903.59" y="336.54" width="1.24" height="1.24" fill="#5f9ea0" fill-opacity="0.46"/>
<rect x="908.07" y="329.42" width="0.95" height="0.95" fill="#5f9ea0" fill-opacity="0.72"/>
<rect x="904.99" y="335.56" width="0.83" height="0.83" fill="#5f9ea0" fill-opacity="0.39"/>
<rect x="907.72" y="337.3" width="0.97" height="0.97" fill="#5f9ea0" fill-opacity="0.43"/>
<rect x="901.5" y="326.58" width="1" height="1" fill="#5f9ea0" fill-opacity="0.45"/>
<rect x="903.18" y="332.81" width="1.11" height="1.11" fill="#5f9ea0" fill-opacity="0.61"/>
<rect x="900.64" y="328.45" width="1.45" height="1.45" fill="#5f9ea0" fill-opacity="0.42"/>
<rect x="907.47" y="331.9" width="1.37" height="1.37" fill="#5f9ea0" fill-opacity="0.36"/>
<rect x="900.65" y="329.98" width="1.07" height="1.07" fill="#5f9ea0" fill-opacity="0.61"/>
<rect x="905.42" y="340.3" width="1.22" height="1.22" fill="#5f9ea0" fill-opacity="0.37"/>
<rect x="905.37" y="335.95" width="1.05" height="1.05" fill="#5f9ea0" fill-opacity="0.68"/>
<rect x="905.93" y="337.16" width="0.71" height="0.71" fill="#5f9ea0" fill-opacity="0.44"/>
<rect x="897.71" y="332.15" width="0.71" height="0.71" fill="#5f9ea0" fill-opacity="0.56"/>
<rect x="898.11" y="323.79" width="1.26" height="1.26" fill="#5f9ea0" fill-opacity="0.36"/>
<rect x="907.12" y="333.69" width="0.98" height="0.98" fill="#5f9ea0" fill-opacity="0.56"/>
<rect x="905.72" y="337.63" width="1.19" height="1.19" fill="#5f9ea0" fill-opacity="0.6"/>
<rect x="908.81" y="333.65" width="0.93" height="0.93" fill="#5f9ea0" fill-opacity="0.43"/>
<rect x="912.58" y="337.43" width="1.46" height="1.46" fill="#5f9ea0" fill-opacity="0.66"/>
<rect x="902.79" y="336.43" width="1.1" height="1.1" fill="#5f9ea0" fill-opacity="0.44"/>
<rect x="894.71" y="333.72" width="1.2" height="1.2" fill="#5f9ea0" fill-opacity="0.39"/>
<rect x="902.67" y="333.92" width="1.46" height="1.46" fill="#5f9ea0" fill-opacity="0.41"/>
<rect x="904.62" y="324.64" width="1.16" height="1.16" fill="#5f9ea0" fill-opacity="0.5"/>
<rect x="909.19" y="338.57" width="1.38" height="1.38" fill="#5f9ea0" fill-opacity="0.47"/>
<rect x="925.38" y="331" width="0.71" height="0.71" fill="#5f9ea0" fill-opacity="0.48"/>
<rect x="930.24" y="326.01" width="0.82" height="0.82" fill="#5f9ea0" fill-opacity="0.61"/>
<rect x="932.39" y="326.76" width="0.97" height="0.97" fill="#5f9ea0" fill-opacity="0.72"/>
<rect x="927.41" y="327.24" width="0.92" height="0.92" fill="#5f9ea0" fill-opacity="0.35"/>
<rect x="951.15" y="325.42" width="1.35" height="1.35" fill="#5f9ea0" fill-opacity="0.46"/>
<rect x="937.33" y="327.63" width="1.03" height="1.03" fill="#5f9ea0" fill-opacity="0.36"/>
<rect x="946.7" y="329.11" width="1.05" height="1.05" fill="#5f9ea0" fill-opacity="0.47"/>
<rect x="940.94" y="322.93" width="1.28" height="1.28" fill="#5f9ea0" fill-opacity="0.73"/>
<rect x="943.74" y="324.3" width="0.74" height="0.74" fill="#5f9ea0" fill-opacity="0.66"/>
<rect x="943.81" y="327.23" width="0.86" height="0.86" fill="#5f9ea0" fill-opacity="0.49"/>
<rect x="933.13" y="327.15" width="1.44" height="1.44" fill="#5f9ea0" fill-opacity="0.4"/>
<rect x="941.34" y="323.91" width="1.42" height="1.42" fill="#5f9ea0" fill-opacity="0.53"/>
<rect x="922.41" y="322.48" width="1.2" height="1.2" fill="#5f9ea0" fill-opacity="0.62"/>
<rect x="932.29" y="324.76" width="1.48" height="1.48" fill="#5f9ea0" fill-opacity="0.55"/>
<rect x="924.17" y="323.07" width="1.31" height="1.31" fill="#5f9ea0" fill-opacity="0.54"/>
<rect x="937.63" y="326.07" width="1.33" height="1.33" fill="#5f9ea0" fill-opacity="0.38"/>
<rect x="933" y="328.17" width="1.12" height="1.12" fill="#5f9ea0" fill-opacity="0.65"/>
<rect x="929.31" y="324.84" width="0.87" height="0.87" fill="#5f9ea0" fill-opacity="0.43"/>
<rect x="927.47" y="326.87" width="1.43" height="1.43" fill="#5f9ea0" fill-opacity="0.7"/>
<rect x="931.88" y="329.41" width="1.31" height="1.31" fill="#5f9ea0" fill-opacity="0.44"/>
<rect x="929.48" y="330.53" width="0.7" height="0.7" fill="#5f9ea0" fill-opacity="0.67"/>
<rect x="936.18" y="323.9" width="0.76" height="0.76" fill="#5f9ea0" fill-opacity="0.46"/>
<rect x="958.29" y="327.34" width="1.12" height="1.12" fill="#5f9ea0" fill-opacity="0.53"/>
<rect x="940.48" y="326.09" width="1.19" height="1.19" fill="#5f9ea0" fill-opacity="0.59"/>
<rect x="938.72" y="323.66" width="1.31" height="1.31" fill="#5f9ea0" fill-opacity="0.68"/>
<rect x="929.81" y="329.21" width="1.05" height="1.05" fill="#5f9ea0" fill-opacity="0.51"/>
<rect x="931.32" y="322.28" width="0.96" height="0.96" fill="#5f9ea0" fill-opacity="0.73"/>
<rect x="944.36" y="330.02" width="0.95" height="0.95" fill="#5f9ea0" fill-opacity="0.68"/>
<rect x="922.43" y="324.01" width="1.31" height="1.31" fill="#5f9ea0" fill-opacity="0.73"/>
<rect x="948.63" y="323.94" width="1.14" height="1.14" fill="#5f9ea0" fill-opacity="0.75"/>
<rect x="945.65" y="326.43" width="0.8" height="0.8" fill="#5f9ea0" fill-opacity="0.4"/>
<rect x="940.11" y="328.03" width="1.4" height="1.4" fill="#5f9ea0" fill-opacity="0.37"/>
<rect x="934.22" y="325.73" width="1.06" height="1.06" fill="#5f9ea0" fill-opacity="0.43"/>
<rect x="931.15" y="325.19" width="1.12" height="1.12" fill="#5f9ea0" fill-opacity="0.37"/>
<rect x="943.38" y="318.68" width="1.28" height="1.28" fill="#5f9ea0" fill-opacity="0.47"/>
<rect x="926.87" y="326.12" width="1.44" height="1.44" fill="#5f9ea0" fill-opacity="0.59"/>
<rect x="960.68" y="297.16" width="1.07" height="1.07" fill="#5f9ea0" fill-opacity="0.74"/>
<rect x="960.51" y="296.12" width="1.47" height="1.47" fill="#5f9ea0" fill-opacity="0.4"/>
<rect x="973" y="297.89" width="1.22" height="1.22" fill="#5f9ea0" fill-opacity="0.4"/>
<rect x="956.84" y="298.05" width="0.77" height="0.77" fill="#5f9ea0" fill-opacity="0.75"/>
<rect x="955.73" y="298.67" width="1.03" height="1.03" fill="#5f9ea0" fill-opacity="0.47"/>
<rect x="960.77" y="296.7" width="0.77" height="0.77" fill="#5f9ea0" fill-opacity="0.64"/>
<rect x="977.9" y="297.23" width="1.43" height="1.43" fill="#5f9ea0" fill-opacity="0.68"/>
<rect x="975.83" y="294.88" width="0.93" height="0.93" fill="#5f9ea0" fill-opacity="0.68"/>
<rect x="955.61" y="295.07" width="1.34" height="1.34" fill="#5f9ea0" fill-opacity="0.48"/>
<rect x="963.43" y="301.55" width="1.32" height="1.32" fill="#5f9ea0" fill-opacity="0.49"/>
<rect x="955.97" y="299.72" width="0.85" height="0.85" fill="#5f9ea0" fill-opacity="0.74"/>
<rect x="981.81" y="298.07" width="1.03" height="1.03" fill="#5f9ea0" fill-opacity="0.41"/>
<rect x="961.46" y="296.07" width="0.74" height="0.74" fill="#5f9ea0" fill-opacity="0.43"/>
<rect x="959.26" y="297.1" width="1.2" height="1.2" fill="#5f9ea0" fill-opacity="0.51"/>
<rect x="968.37" y="301.38" width="1.19" height="1.19" fill="#5f9ea0" fill-opacity="0.68"/>
<rect x="969.04" y="294.9" width="0.83" height="0.83" fill="#5f9ea0" fill-opacity="0.42"/>
<rect x="955.43" y="304.35" width="1.22" height="1.22" fill="#5f9ea0" fill-opacity="0.58"/>
<rect x="987.64" y="301.24" width="1.04" height="1.04" fill="#5f9ea0" fill-opacity="0.52"/>
<rect x="979.69" y="294.81" width="1.26" height="1.26" fill="#5f9ea0" fill-opacity="0.48"/>
<rect x="969.49" y="300.32" width="1.16" height="1.16" fill="#5f9ea0" fill-opacity="0.38"/>
<rect x="968.31" y="297.09" width="1.44" height="1.44" fill="#5f9ea0" fill-opacity="0.58"/>
<rect x="957.92" y="293.84" width="0.9" height="0.9" fill="#5f9ea0" fill-opacity="0.41"/>
<rect x="957.95" y="295.97" width="1.14" height="1.14" fill="#5f9ea0" fill-opacity="0.69"/>
<rect x="971.95" y="302.25" width="1.03" height="1.03" fill="#5f9ea0" fill-opacity="0.38"/>
<rect x="966.31" y="299.79" width="0.98" height="0.98" fill="#5f9ea0" fill-opacity="0.64"/>
<rect x="965.79" y="297.15" width="1.14" height="1.14" fill="#5f9ea0" fill-opacity="0.36"/>
<rect x="966.01" y="300.21" width="1.37" height="1.37" fill="#5f9ea0" fill-opacity="0.39"/>
<rect x="964.25" y="298.25" width="1.17" height="1.17" fill="#5f9ea0" fill-opacity="0.74"/>
<rect x="963.12" y="295.94" width="1.37" height="1.37" fill="#5f9ea0" fill-opacity="0.65"/>
<rect x="962.82" y="297.53" width="1.17" height="1.17" fill="#5f9ea0" fill-opacity="0.68"/>
<rect x="958.04" y="294.11" width="1.02" height="1.02" fill="#5f9ea0" fill-opacity="0.47"/>
<rect x="969.62" y="295.51" width="0.86" height="0.86" fill="#5f9ea0" fill-opacity="0.52"/>
<rect x="968.63" y="298.11" width="1.01" height="1.01" fill="#5f9ea0" fill-opacity="0.67"/>
<rect x="961.15" y="299.98" width="1.31" height="1.31" fill="#5f9ea0" fill-opacity="0.58"/>
<rect x="956.39" y="297.83" width="1.42" height="1.42" fill="#5f9ea0" fill-opacity="0.5"/>
<rect x="957.15" y="296.66" width="1.19" height="1.19" fill="#5f9ea0" fill-opacity="0.64"/>
<rect x="968.72" y="355.16" width="1.13" height="1.13" fill="#5f9ea0" fill-opacity="0.71"/>
<rect x="963.28" y="360.48" width="1.25" height="1.25" fill="#5f9ea0" fill-opacity="0.68"/>
<rect x="957.3" y="359.36" width="1.04" height="1.04" fill="#5f9ea0" fill-opacity="0.66"/>
<rect x="970.5" y="357.16" width="1.41" height="1.41" fill="#5f9ea0" fill-opacity="0.55"/>
<rect x="965.88" y="357.37" width="1.17" height="1.17" fill="#5f9ea0" fill-opacity="0.41"/>
<rect x="965.89" y="358.82" width="1.06" height="1.06" fill="#5f9ea0" fill-opacity="0.42"/>
<rect x="951.47" y="359.48" width="1.04" height="1.04" fill="#5f9ea0" fill-opacity="0.65"/>
<rect x="954.76" y="364.23" width="0.73" height="0.73" fill="#5f9ea0" fill-opacity="0.48"/>
<rect x="965.63" y="359.56" width="0.88" height="0.88" fill="#5f9ea0" fill-opacity="0.5"/>
<rect x="958.15" y="354.58" width="1.41" height="1.41" fill="#5f9ea0" fill-opacity="0.5"/>
<rect x="959.55" y="359.58" width="1.32" height="1.32" fill="#5f9ea0" fill-opacity="0.71"/>
<rect x="957.04" y="358.06" width="0.79" height="0.79" fill="#5f9ea0" fill-opacity="0.38"/>
<rect x="953.27" y="359.72" width="1.39" height="1.39" fill="#5f9ea0" fill-opacity="0.59"/>
<rect x="964.27" y="359.97" width="1.18" height="1.18" fill="#5f9ea0" fill-opacity="0.55"/>
<rect x="959.42" y="357.97" width="1.1" height="1.1" fill="#5f9ea0" fill-opacity="0.56"/>
<rect x="959.29" y="363.11" width="0.88" height="0.88" fill="#5f9ea0" fill-opacity="0.72"/>
<rect x="973.92" y="360.07" width="1.17" height="1.17" fill="#5f9ea0" fill-opacity="0.52"/>
<rect x="960.92" y="357.98" width="1.09" height="1.09" fill="#5f9ea0" fill-opacity="0.61"/>
<path d="M866.23 271.54 C867.35 271.08 871.06 270.52 872.92 268.75 C874.78 266.99 876.64 262.43 877.39 260.95 C878.13 259.46 877.39 260.02 877.39 259.83" stroke="#5f9ea0" stroke-width="1.3" fill="none" stroke-linejoin="round"/>
<path d="M866.23 275.45 C867.53 275.08 871.62 274.89 874.04 273.22 C876.46 271.54 879.24 267.64 880.73 265.41 C882.22 263.18 882.59 260.76 882.96 259.83" stroke="#5f9ea0" stroke-width="1.3" fill="none" stroke-linejoin="round"/>
<path d="M866.23 279.91 C867.9 279.35 873.11 278.79 876.27 276.56 C879.43 274.33 883.52 269.31 885.19 266.52 C886.87 263.73 886.12 260.95 886.31 259.83" stroke="#5f9ea0" stroke-width="1.3" fill="none" stroke-linejoin="round"/>
<path d="M866.23 293.29 C868.09 292.92 873.67 291.99 877.39 291.06 C881.1 290.13 885.57 289.02 888.54 287.72 C891.51 286.42 893.19 283.26 895.23 283.26 C897.28 283.26 898.58 286.23 900.81 287.72 C903.04 289.2 905.83 290.41 908.62 292.18 C911.41 293.95 914.94 297.94 917.54 298.31 C920.14 298.69 921.26 295.43 924.23 294.41 C927.21 293.39 931.67 292.18 935.39 292.18 C939.11 292.18 943.75 292.92 946.54 294.41 C949.33 295.9 951.01 298.5 952.12 301.1 C953.24 303.71 951.56 308.35 953.24 310.03 C954.91 311.7 958.63 310.96 962.16 311.14 C965.69 311.33 972.38 311.14 974.43 311.14" stroke="#5f9ea0" stroke-width="1.3" fill="none" stroke-linejoin="round"/>
<path d="M866.23 298.87 C868.09 298.22 873.3 296.36 877.39 294.97 C881.48 293.57 886.68 290.97 890.77 290.51 C894.86 290.04 898.58 290.78 901.93 292.18 C905.27 293.57 909.08 296.45 910.85 298.87 C912.61 301.29 912.52 304.08 912.52 306.68 C912.52 309.28 912.61 312.44 910.85 314.49 C909.08 316.53 905.09 317.09 901.93 318.95 C898.76 320.81 894.86 324.53 891.89 325.64 C888.91 326.76 886.87 326.39 884.08 325.64 C881.29 324.9 877.76 322.85 875.15 321.18 C872.55 319.51 869.58 316.53 868.46 315.6" stroke="#5f9ea0" stroke-width="1.3" fill="none" stroke-linejoin="round"/>
<path d="M870.69 304.45 C871.44 302.22 872.74 300.08 875.15 298.87 C877.57 297.66 881.48 297.11 885.19 297.2 C888.91 297.29 894.49 298.31 897.46 299.43 C900.44 300.54 902.11 302.13 903.04 303.89 C903.97 305.66 903.97 308.26 903.04 310.03 C902.11 311.79 899.88 313 897.46 314.49 C895.05 315.98 890.96 318.02 888.54 318.95 C886.12 319.88 885.19 320.25 882.96 320.07 C880.73 319.88 877.2 319.14 875.15 317.83 C873.11 316.53 871.44 314.49 870.69 312.26 C869.95 310.03 869.95 306.68 870.69 304.45Z" stroke="#5f9ea0" stroke-width="1.3" fill="none" stroke-linejoin="round"/>
<path d="M876.27 308.91 C876.46 307.42 877.94 305.19 879.62 304.45 C881.29 303.71 884.82 303.71 886.31 304.45 C887.8 305.19 888.73 307.42 888.54 308.91 C888.35 310.4 886.87 312.63 885.19 313.37 C883.52 314.12 879.99 314.12 878.5 313.37 C877.01 312.63 876.08 310.4 876.27 308.91Z" stroke="#5f9ea0" stroke-width="1.3" fill="none" stroke-linejoin="round"/>
<path d="M866.23 317.83 C867.35 318.76 869.95 321.65 872.92 323.41 C875.9 325.18 880.73 328.06 884.08 328.43 C887.42 328.8 890.03 327.04 893 325.64 C895.98 324.25 898.58 321.83 901.93 320.07 C905.27 318.3 910.48 315.05 913.08 315.05 C915.68 315.05 914.94 318.67 917.54 320.07 C920.14 321.46 924.98 322.48 928.7 323.41 C932.41 324.34 935.76 325.83 939.85 325.64 C943.94 325.46 949.52 322.67 953.24 322.3 C956.95 321.92 959.18 322.3 962.16 323.41 C965.13 324.53 969.04 327.69 971.08 328.99 C973.13 330.29 973.87 330.85 974.43 331.22" stroke="#5f9ea0" stroke-width="1.3" fill="none" stroke-linejoin="round"/>
<path d="M917.54 308.91 C917.36 306.49 919.4 302.4 922 299.99 C924.61 297.57 929.25 295.15 933.16 294.41 C937.06 293.67 942.64 294.22 945.43 295.53 C948.22 296.83 949.33 299.62 949.89 302.22 C950.45 304.82 950.08 308.91 948.77 311.14 C947.47 313.37 944.68 314.77 942.08 315.6 C939.48 316.44 936.32 316.35 933.16 316.16 C930 315.98 925.72 315.7 923.12 314.49 C920.52 313.28 917.73 311.33 917.54 308.91Z" stroke="#5f9ea0" stroke-width="1.3" fill="none" stroke-linejoin="round"/>
<path d="M925.35 303.89 C925.54 301.85 927.95 299.89 929.81 298.87 C931.67 297.85 934.27 297.01 936.5 297.76 C938.74 298.5 942.27 301.47 943.2 303.33 C944.13 305.19 943.38 307.42 942.08 308.91 C940.78 310.4 937.62 311.89 935.39 312.26 C933.16 312.63 930.37 312.54 928.7 311.14 C927.02 309.75 925.16 305.94 925.35 303.89Z" stroke="#5f9ea0" stroke-width="1.3" fill="none" stroke-linejoin="round"/>
<path d="M974.43 315.6 C973.31 315.6 969.41 314.86 967.74 315.6 C966.06 316.35 964.2 318.21 964.39 320.07 C964.58 321.92 967.18 325.27 968.85 326.76 C970.53 328.25 973.5 328.62 974.43 328.99" stroke="#5f9ea0" stroke-width="1.3" fill="none" stroke-linejoin="round"/>
<path d="M965.51 259.83 C964.95 260.76 964.2 263.55 962.16 265.41 C960.11 267.27 955.28 268.94 953.24 270.99 C951.19 273.03 949.89 275.63 949.89 277.68 C949.89 279.72 951.19 281.77 953.24 283.26 C955.28 284.74 958.63 286.23 962.16 286.6 C965.69 286.97 972.38 285.67 974.43 285.49" stroke="#5f9ea0" stroke-width="1.3" fill="none" stroke-linejoin="round"/>
<path d="M974.43 262.06 C973.87 262.81 973.5 265.22 971.08 266.52 C968.67 267.82 962.72 268.38 959.93 269.87 C957.14 271.36 954.91 273.4 954.35 275.45 C953.79 277.49 954.91 280.65 956.58 282.14 C958.26 283.63 961.42 284.18 964.39 284.37 C967.36 284.56 972.76 283.44 974.43 283.26" stroke="#5f9ea0" stroke-width="1.3" fill="none" stroke-linejoin="round"/>
<path d="M899.69 364.68 C899.69 362.27 898.95 353.34 899.69 350.18 C900.44 347.02 900.81 346.84 904.16 345.72 C907.5 344.61 914.75 344.23 919.77 343.49 C924.79 342.75 930.56 342.19 934.27 341.26 C937.99 340.33 938.55 338.66 942.08 337.91 C945.61 337.17 950.08 336.8 955.47 336.8 C960.86 336.8 971.27 337.73 974.43 337.91" stroke="#5f9ea0" stroke-width="1.3" fill="none" stroke-linejoin="round"/>
<path d="M909.73 364.68 C909.92 362.27 909.18 353.34 910.85 350.18 C912.52 347.02 916.43 346.65 919.77 345.72 C923.12 344.79 928.7 344.05 930.93 344.61 C933.16 345.16 932.97 345.72 933.16 349.07 C933.34 352.41 932.23 362.08 932.04 364.68" stroke="#5f9ea0" stroke-width="1.3" fill="none" stroke-linejoin="round"/>
<path d="M974.43 342.37 C972.01 342.19 964.58 341.26 959.93 341.26 C955.28 341.26 949.7 341.44 946.54 342.37 C943.38 343.3 941.71 345.16 940.97 346.84 C940.22 348.51 940.78 351.3 942.08 352.41 C943.38 353.53 946.17 353.9 948.77 353.53 C951.38 353.16 955.09 351.3 957.7 350.18 C960.3 349.07 961.6 347.39 964.39 346.84 C967.18 346.28 972.76 346.84 974.43 346.84" stroke="#5f9ea0" stroke-width="1.3" fill="none" stroke-linejoin="round"/>
<path d="M942.08 364.68 C943.2 364.13 945.43 362.82 948.77 361.34 C952.12 359.85 957.88 356.87 962.16 355.76 C966.44 354.64 972.38 354.83 974.43 354.64" stroke="#5f9ea0" stroke-width="1.3" fill="none" stroke-linejoin="round"/>
<line x1="888" y1="259.9" x2="888" y2="364.4" stroke="#000" stroke-width="1.3" />
<line x1="866.4" y1="317.18" x2="975.4" y2="317.18" stroke="#000" stroke-width="1.3" />
</g>
<rect x="885.1" y="314.28" width="5.8" height="5.8" stroke="none" stroke-width="0" fill="#000" />
<g clip-path="url(#clip21)">
<rect x="992" y="302.6" width="16.5" height="10" fill="#5f9ea0" fill-opacity="0.25"/>
<path d="M981.23 299.99 C981.97 299.06 983.28 295.9 985.69 294.41 C988.11 292.92 992.01 291.44 995.73 291.06 C999.45 290.69 1004.66 291.25 1008 292.18 C1011.35 293.11 1013.58 294.41 1015.81 296.64 C1018.04 298.87 1020.27 302.22 1021.39 305.56 C1022.5 308.91 1022.87 313.56 1022.5 316.72 C1022.13 319.88 1020.83 322.67 1019.16 324.53 C1017.48 326.39 1014.69 327.59 1012.46 327.87 C1010.23 328.15 1008.37 327.32 1005.77 326.2 C1003.17 325.08 999.82 322.95 996.85 321.18 C993.87 319.41 990.53 317.09 987.92 315.6 C985.32 314.12 982.35 312.81 981.23 312.26" stroke="none" stroke-width="0" fill="#5f9ea0" fill-opacity="0.1"/>
<path d="M986.81 304.45 C987.18 302.4 988.48 299.24 990.15 297.76 C991.83 296.27 993.87 295.71 996.85 295.53 C999.82 295.34 1005.03 295.53 1008 296.64 C1010.98 297.76 1013.21 299.99 1014.69 302.22 C1016.18 304.45 1016.93 307.42 1016.93 310.03 C1016.93 312.63 1016 316.16 1014.69 317.83 C1013.39 319.51 1011.35 319.88 1009.12 320.07 C1006.89 320.25 1003.91 319.88 1001.31 318.95 C998.71 318.02 995.73 315.98 993.5 314.49 C991.27 313 989.04 311.7 987.92 310.03 C986.81 308.35 986.44 306.49 986.81 304.45Z" stroke="none" stroke-width="0" fill="#5f9ea0" fill-opacity="0.25"/>
<path d="M997.96 345.72 C998.89 343.12 1002.24 340.42 1004.66 339.03 C1007.07 337.63 1010.05 336.98 1012.46 337.35 C1014.88 337.73 1017.58 339.49 1019.16 341.26 C1020.74 343.02 1021.94 345.53 1021.94 347.95 C1021.94 350.37 1020.92 353.9 1019.16 355.76 C1017.39 357.62 1014.14 358.64 1011.35 359.11 C1008.56 359.57 1004.47 359.29 1002.42 358.55 C1000.38 357.8 999.82 356.78 999.08 354.64 C998.33 352.51 997.03 348.32 997.96 345.72Z" stroke="none" stroke-width="0" fill="#5f9ea0" fill-opacity="0.06"/>
<rect x="1051.84" y="280.42" width="1.02" height="1.02" fill="#5f9ea0" fill-opacity="0.72"/>
<rect x="1029.03" y="268.47" width="1.45" height="1.45" fill="#5f9ea0" fill-opacity="0.46"/>
<rect x="1046.02" y="268.05" width="1.24" height="1.24" fill="#5f9ea0" fill-opacity="0.74"/>
<rect x="1044.54" y="264.65" width="1.34" height="1.34" fill="#5f9ea0" fill-opacity="0.36"/>
<rect x="1019.32" y="281.78" width="1.3" height="1.3" fill="#5f9ea0" fill-opacity="0.53"/>
<rect x="1040.57" y="282.23" width="1.04" height="1.04" fill="#5f9ea0" fill-opacity="0.4"/>
<rect x="1054.1" y="270.42" width="1.12" height="1.12" fill="#5f9ea0" fill-opacity="0.42"/>
<rect x="1034.18" y="282.32" width="0.82" height="0.82" fill="#5f9ea0" fill-opacity="0.48"/>
<rect x="1027.09" y="284.65" width="1.43" height="1.43" fill="#5f9ea0" fill-opacity="0.35"/>
<rect x="1053.56" y="286.82" width="0.71" height="0.71" fill="#5f9ea0" fill-opacity="0.45"/>
<rect x="1026.56" y="271.05" width="0.87" height="0.87" fill="#5f9ea0" fill-opacity="0.65"/>
<rect x="1038.96" y="274.07" width="1.27" height="1.27" fill="#5f9ea0" fill-opacity="0.5"/>
<rect x="1024.62" y="275.38" width="1.22" height="1.22" fill="#5f9ea0" fill-opacity="0.67"/>
<rect x="1042.29" y="279.62" width="0.86" height="0.86" fill="#5f9ea0" fill-opacity="0.42"/>
<rect x="1044.61" y="259.48" width="0.99" height="0.99" fill="#5f9ea0" fill-opacity="0.62"/>
<rect x="1044.98" y="259.49" width="1.32" height="1.32" fill="#5f9ea0" fill-opacity="0.58"/>
<rect x="1042.22" y="268.11" width="1.18" height="1.18" fill="#5f9ea0" fill-opacity="0.46"/>
<rect x="1030.24" y="279.3" width="1.1" height="1.1" fill="#5f9ea0" fill-opacity="0.35"/>
<rect x="1027.16" y="278.5" width="1.43" height="1.43" fill="#5f9ea0" fill-opacity="0.63"/>
<rect x="1045.73" y="281.39" width="1.3" height="1.3" fill="#5f9ea0" fill-opacity="0.38"/>
<rect x="1041.51" y="273.01" width="1.24" height="1.24" fill="#5f9ea0" fill-opacity="0.58"/>
<rect x="1049.58" y="272.88" width="0.95" height="0.95" fill="#5f9ea0" fill-opacity="0.42"/>
<rect x="1037.56" y="281.79" width="1.16" height="1.16" fill="#5f9ea0" fill-opacity="0.46"/>
<rect x="1048.8" y="289.44" width="0.75" height="0.75" fill="#5f9ea0" fill-opacity="0.73"/>
<rect x="1038.23" y="288.52" width="1.29" height="1.29" fill="#5f9ea0" fill-opacity="0.73"/>
<rect x="1039.43" y="273.82" width="1.31" height="1.31" fill="#5f9ea0" fill-opacity="0.74"/>
<rect x="1042.44" y="265.46" width="0.74" height="0.74" fill="#5f9ea0" fill-opacity="0.36"/>
<rect x="1039.67" y="287.71" width="0.82" height="0.82" fill="#5f9ea0" fill-opacity="0.57"/>
<rect x="1039.37" y="264.51" width="1.28" height="1.28" fill="#5f9ea0" fill-opacity="0.67"/>
<rect x="1039.03" y="273.98" width="1.23" height="1.23" fill="#5f9ea0" fill-opacity="0.58"/>
<rect x="1042.94" y="269.3" width="0.81" height="0.81" fill="#5f9ea0" fill-opacity="0.37"/>
<rect x="1032.91" y="276.36" width="1.32" height="1.32" fill="#5f9ea0" fill-opacity="0.58"/>
<rect x="1032" y="280.02" width="0.77" height="0.77" fill="#5f9ea0" fill-opacity="0.4"/>
<rect x="1044.49" y="271.78" width="1.13" height="1.13" fill="#5f9ea0" fill-opacity="0.58"/>
<rect x="1039.29" y="270.08" width="1.02" height="1.02" fill="#5f9ea0" fill-opacity="0.4"/>
<rect x="1047.32" y="280.04" width="1.12" height="1.12" fill="#5f9ea0" fill-opacity="0.48"/>
<rect x="1028.27" y="281.43" width="0.72" height="0.72" fill="#5f9ea0" fill-opacity="0.69"/>
<rect x="1050.49" y="275.82" width="1.27" height="1.27" fill="#5f9ea0" fill-opacity="0.35"/>
<rect x="1040.61" y="276.22" width="0.81" height="0.81" fill="#5f9ea0" fill-opacity="0.58"/>
<rect x="1038.17" y="254.05" width="1.13" height="1.13" fill="#5f9ea0" fill-opacity="0.7"/>
<rect x="1027.41" y="279.81" width="1.47" height="1.47" fill="#5f9ea0" fill-opacity="0.36"/>
<rect x="1047.23" y="271.28" width="1.05" height="1.05" fill="#5f9ea0" fill-opacity="0.72"/>
<rect x="1016.06" y="281.86" width="1.24" height="1.24" fill="#5f9ea0" fill-opacity="0.41"/>
<rect x="1041.97" y="274.6" width="1.25" height="1.25" fill="#5f9ea0" fill-opacity="0.48"/>
<rect x="1047.35" y="273.52" width="0.85" height="0.85" fill="#5f9ea0" fill-opacity="0.45"/>
<rect x="1036.59" y="267.04" width="1.19" height="1.19" fill="#5f9ea0" fill-opacity="0.71"/>
<rect x="1034.59" y="260.29" width="0.92" height="0.92" fill="#5f9ea0" fill-opacity="0.38"/>
<rect x="1032.25" y="274.57" width="1.31" height="1.31" fill="#5f9ea0" fill-opacity="0.57"/>
<rect x="1032.9" y="271.72" width="1.02" height="1.02" fill="#5f9ea0" fill-opacity="0.68"/>
<rect x="1032.75" y="269.45" width="1.14" height="1.14" fill="#5f9ea0" fill-opacity="0.56"/>
<rect x="1048.57" y="265.6" width="0.78" height="0.78" fill="#5f9ea0" fill-opacity="0.39"/>
<rect x="1043.13" y="289.55" width="1" height="1" fill="#5f9ea0" fill-opacity="0.35"/>
<rect x="1031.78" y="268.04" width="0.88" height="0.88" fill="#5f9ea0" fill-opacity="0.38"/>
<rect x="1035.53" y="265.42" width="1.44" height="1.44" fill="#5f9ea0" fill-opacity="0.43"/>
<rect x="1025.48" y="286.31" width="1.28" height="1.28" fill="#5f9ea0" fill-opacity="0.44"/>
<rect x="1039.29" y="287.67" width="1.03" height="1.03" fill="#5f9ea0" fill-opacity="0.35"/>
<rect x="1014.54" y="279.15" width="1.1" height="1.1" fill="#5f9ea0" fill-opacity="0.51"/>
<rect x="1035.99" y="277.2" width="1.4" height="1.4" fill="#5f9ea0" fill-opacity="0.41"/>
<rect x="1028.2" y="279.11" width="0.92" height="0.92" fill="#5f9ea0" fill-opacity="0.37"/>
<rect x="1061.24" y="279.8" width="1.45" height="1.45" fill="#5f9ea0" fill-opacity="0.57"/>
<rect x="1061.59" y="273.16" width="1.25" height="1.25" fill="#5f9ea0" fill-opacity="0.43"/>
<rect x="1039.7" y="276.95" width="1.29" height="1.29" fill="#5f9ea0" fill-opacity="0.36"/>
<rect x="1053.81" y="269.34" width="1.38" height="1.38" fill="#5f9ea0" fill-opacity="0.53"/>
<rect x="1046.64" y="267.94" width="0.95" height="0.95" fill="#5f9ea0" fill-opacity="0.7"/>
<rect x="1058.49" y="277.68" width="1.14" height="1.14" fill="#5f9ea0" fill-opacity="0.7"/>
<rect x="1042.34" y="272.43" width="1.01" height="1.01" fill="#5f9ea0" fill-opacity="0.54"/>
<rect x="1035.32" y="272.82" width="1.39" height="1.39" fill="#5f9ea0" fill-opacity="0.37"/>
<rect x="1062.98" y="277.99" width="1.12" height="1.12" fill="#5f9ea0" fill-opacity="0.71"/>
<rect x="1021.67" y="293.46" width="1.45" height="1.45" fill="#5f9ea0" fill-opacity="0.4"/>
<rect x="1037.14" y="277.65" width="1.14" height="1.14" fill="#5f9ea0" fill-opacity="0.39"/>
<rect x="1039.09" y="268.8" width="1.42" height="1.42" fill="#5f9ea0" fill-opacity="0.52"/>
<rect x="1038.46" y="280.47" width="1.4" height="1.4" fill="#5f9ea0" fill-opacity="0.52"/>
<rect x="1038.63" y="266.62" width="1.31" height="1.31" fill="#5f9ea0" fill-opacity="0.41"/>
<rect x="1038.25" y="270.83" width="1.49" height="1.49" fill="#5f9ea0" fill-opacity="0.39"/>
<rect x="1036.92" y="272.78" width="0.73" height="0.73" fill="#5f9ea0" fill-opacity="0.69"/>
<rect x="1041.97" y="274.47" width="0.97" height="0.97" fill="#5f9ea0" fill-opacity="0.5"/>
<rect x="1049.92" y="277.64" width="1" height="1" fill="#5f9ea0" fill-opacity="0.51"/>
<rect x="1035.55" y="266.88" width="0.73" height="0.73" fill="#5f9ea0" fill-opacity="0.61"/>
<rect x="1041.98" y="283.7" width="1.25" height="1.25" fill="#5f9ea0" fill-opacity="0.36"/>
<rect x="1065.56" y="267.74" width="1.09" height="1.09" fill="#5f9ea0" fill-opacity="0.4"/>
<rect x="1020.76" y="278.98" width="1.26" height="1.26" fill="#5f9ea0" fill-opacity="0.71"/>
<rect x="1041.7" y="260.9" width="1.28" height="1.28" fill="#5f9ea0" fill-opacity="0.48"/>
<rect x="1041.24" y="289.46" width="1.17" height="1.17" fill="#5f9ea0" fill-opacity="0.48"/>
<rect x="1041.38" y="273.1" width="1.4" height="1.4" fill="#5f9ea0" fill-opacity="0.41"/>
<rect x="1025.66" y="272.1" width="1.2" height="1.2" fill="#5f9ea0" fill-opacity="0.36"/>
<rect x="1036.28" y="272.6" width="0.82" height="0.82" fill="#5f9ea0" fill-opacity="0.47"/>
<rect x="1045.7" y="272.53" width="1.28" height="1.28" fill="#5f9ea0" fill-opacity="0.69"/>
<rect x="1047.7" y="266.09" width="1.09" height="1.09" fill="#5f9ea0" fill-opacity="0.5"/>
<rect x="1032.76" y="283.79" width="1.42" height="1.42" fill="#5f9ea0" fill-opacity="0.65"/>
<rect x="1056.6" y="281.06" width="0.71" height="0.71" fill="#5f9ea0" fill-opacity="0.69"/>
<rect x="1041.36" y="276.52" width="1.23" height="1.23" fill="#5f9ea0" fill-opacity="0.42"/>
<rect x="1028.03" y="273.41" width="0.77" height="0.77" fill="#5f9ea0" fill-opacity="0.41"/>
<rect x="1048.13" y="257.56" width="1.47" height="1.47" fill="#5f9ea0" fill-opacity="0.74"/>
<rect x="1042.43" y="273.75" width="1.03" height="1.03" fill="#5f9ea0" fill-opacity="0.75"/>
<rect x="1056.7" y="260.75" width="0.96" height="0.96" fill="#5f9ea0" fill-opacity="0.4"/>
<rect x="1043.93" y="280.45" width="0.78" height="0.78" fill="#5f9ea0" fill-opacity="0.54"/>
<rect x="1040.54" y="282.73" width="0.99" height="0.99" fill="#5f9ea0" fill-opacity="0.74"/>
<rect x="1056.84" y="271.23" width="1.24" height="1.24" fill="#5f9ea0" fill-opacity="0.43"/>
<rect x="1046.97" y="266.05" width="0.82" height="0.82" fill="#5f9ea0" fill-opacity="0.69"/>
<rect x="1029.96" y="270.42" width="0.85" height="0.85" fill="#5f9ea0" fill-opacity="0.63"/>
<rect x="1043.94" y="277.69" width="1.4" height="1.4" fill="#5f9ea0" fill-opacity="0.42"/>
<rect x="1036.98" y="266.4" width="1.07" height="1.07" fill="#5f9ea0" fill-opacity="0.58"/>
<rect x="1035.87" y="271.17" width="1.39" height="1.39" fill="#5f9ea0" fill-opacity="0.38"/>
<rect x="1040.59" y="263.99" width="0.96" height="0.96" fill="#5f9ea0" fill-opacity="0.73"/>
<rect x="1036.68" y="267.77" width="1.42" height="1.42" fill="#5f9ea0" fill-opacity="0.68"/>
<rect x="1044.27" y="276.91" width="1.09" height="1.09" fill="#5f9ea0" fill-opacity="0.6"/>
<rect x="1039.95" y="250.17" width="1.41" height="1.41" fill="#5f9ea0" fill-opacity="0.49"/>
<rect x="1029.46" y="268.52" width="1.21" height="1.21" fill="#5f9ea0" fill-opacity="0.42"/>
<rect x="1032.36" y="283.67" width="1.42" height="1.42" fill="#5f9ea0" fill-opacity="0.74"/>
<rect x="1054.03" y="271.87" width="0.78" height="0.78" fill="#5f9ea0" fill-opacity="0.75"/>
<rect x="1029.61" y="268.74" width="1.16" height="1.16" fill="#5f9ea0" fill-opacity="0.54"/>
<rect x="1033.58" y="253.83" width="1.17" height="1.17" fill="#5f9ea0" fill-opacity="0.58"/>
<rect x="1042.01" y="270.34" width="1.12" height="1.12" fill="#5f9ea0" fill-opacity="0.44"/>
<rect x="1040.1" y="304.54" width="1.01" height="1.01" fill="#5f9ea0" fill-opacity="0.57"/>
<rect x="1034.83" y="282.82" width="1.33" height="1.33" fill="#5f9ea0" fill-opacity="0.54"/>
<rect x="1019.45" y="275.68" width="1.13" height="1.13" fill="#5f9ea0" fill-opacity="0.75"/>
<rect x="1028.55" y="270.41" width="0.94" height="0.94" fill="#5f9ea0" fill-opacity="0.61"/>
<rect x="1042.57" y="273.69" width="1.3" height="1.3" fill="#5f9ea0" fill-opacity="0.42"/>
<rect x="1035.77" y="276.79" width="1.25" height="1.25" fill="#5f9ea0" fill-opacity="0.65"/>
<rect x="1031.83" y="279.53" width="1.13" height="1.13" fill="#5f9ea0" fill-opacity="0.51"/>
<rect x="1032.76" y="278.86" width="1.27" height="1.27" fill="#5f9ea0" fill-opacity="0.73"/>
<rect x="1041.48" y="286.91" width="1.04" height="1.04" fill="#5f9ea0" fill-opacity="0.5"/>
<rect x="1056.28" y="265.79" width="1.4" height="1.4" fill="#5f9ea0" fill-opacity="0.41"/>
<rect x="1029.68" y="278.27" width="1.07" height="1.07" fill="#5f9ea0" fill-opacity="0.59"/>
<rect x="1045.25" y="282.89" width="1.07" height="1.07" fill="#5f9ea0" fill-opacity="0.39"/>
<rect x="1054.91" y="278.82" width="0.84" height="0.84" fill="#5f9ea0" fill-opacity="0.54"/>
<rect x="1040.79" y="317.43" width="1.13" height="1.13" fill="#5f9ea0" fill-opacity="0.74"/>
<rect x="1037.33" y="321.9" width="1.36" height="1.36" fill="#5f9ea0" fill-opacity="0.43"/>
<rect x="1037.36" y="321.01" width="1" height="1" fill="#5f9ea0" fill-opacity="0.55"/>
<rect x="1037.77" y="329.3" width="0.82" height="0.82" fill="#5f9ea0" fill-opacity="0.51"/>
<rect x="1029.27" y="320.03" width="1.23" height="1.23" fill="#5f9ea0" fill-opacity="0.53"/>
<rect x="1050.29" y="313.32" width="1.08" height="1.08" fill="#5f9ea0" fill-opacity="0.48"/>
<rect x="1032.78" y="323.25" width="1.15" height="1.15" fill="#5f9ea0" fill-opacity="0.74"/>
<rect x="1032.74" y="331.97" width="1.29" height="1.29" fill="#5f9ea0" fill-opacity="0.41"/>
<rect x="1032.13" y="330.83" width="1.12" height="1.12" fill="#5f9ea0" fill-opacity="0.64"/>
<rect x="1053.98" y="334.21" width="0.76" height="0.76" fill="#5f9ea0" fill-opacity="0.35"/>
<rect x="1028.57" y="313.76" width="0.99" height="0.99" fill="#5f9ea0" fill-opacity="0.65"/>
<rect x="1035.31" y="322.08" width="0.79" height="0.79" fill="#5f9ea0" fill-opacity="0.61"/>
<rect x="1037.89" y="319.84" width="1.14" height="1.14" fill="#5f9ea0" fill-opacity="0.35"/>
<rect x="1030.81" y="318.4" width="1.2" height="1.2" fill="#5f9ea0" fill-opacity="0.69"/>
<rect x="1049.27" y="323.56" width="1.4" height="1.4" fill="#5f9ea0" fill-opacity="0.53"/>
<rect x="1034.13" y="326.69" width="0.8" height="0.8" fill="#5f9ea0" fill-opacity="0.54"/>
<rect x="1055.85" y="321.05" width="1.25" height="1.25" fill="#5f9ea0" fill-opacity="0.35"/>
<rect x="1032.42" y="319.03" width="0.86" height="0.86" fill="#5f9ea0" fill-opacity="0.61"/>
<rect x="1034.8" y="327.85" width="1.37" height="1.37" fill="#5f9ea0" fill-opacity="0.4"/>
<rect x="1040.61" y="326.83" width="0.94" height="0.94" fill="#5f9ea0" fill-opacity="0.63"/>
<rect x="1048.69" y="323.78" width="0.76" height="0.76" fill="#5f9ea0" fill-opacity="0.57"/>
<rect x="1039.11" y="323.66" width="0.76" height="0.76" fill="#5f9ea0" fill-opacity="0.5"/>
<rect x="1044.87" y="322.28" width="1.03" height="1.03" fill="#5f9ea0" fill-opacity="0.6"/>
<rect x="1035.5" y="317.16" width="0.87" height="0.87" fill="#5f9ea0" fill-opacity="0.48"/>
<rect x="1033.24" y="325.93" width="1.27" height="1.27" fill="#5f9ea0" fill-opacity="0.35"/>
<rect x="1039.41" y="318.87" width="1.26" height="1.26" fill="#5f9ea0" fill-opacity="0.66"/>
<rect x="1061.15" y="325.95" width="1.39" height="1.39" fill="#5f9ea0" fill-opacity="0.38"/>
<rect x="1019.72" y="310.26" width="1.48" height="1.48" fill="#5f9ea0" fill-opacity="0.48"/>
<rect x="1042.54" y="324.65" width="1.49" height="1.49" fill="#5f9ea0" fill-opacity="0.72"/>
<rect x="1046.55" y="328.91" width="1.04" height="1.04" fill="#5f9ea0" fill-opacity="0.72"/>
<rect x="1044.79" y="336.13" width="0.84" height="0.84" fill="#5f9ea0" fill-opacity="0.42"/>
<rect x="1051.35" y="328.5" width="0.74" height="0.74" fill="#5f9ea0" fill-opacity="0.51"/>
<rect x="1039.29" y="329.3" width="0.91" height="0.91" fill="#5f9ea0" fill-opacity="0.63"/>
<rect x="1039.89" y="319.46" width="1.11" height="1.11" fill="#5f9ea0" fill-opacity="0.69"/>
<rect x="1032.07" y="327.62" width="1.11" height="1.11" fill="#5f9ea0" fill-opacity="0.35"/>
<rect x="1039.5" y="325.42" width="1.32" height="1.32" fill="#5f9ea0" fill-opacity="0.53"/>
<rect x="1040.55" y="312.76" width="1" height="1" fill="#5f9ea0" fill-opacity="0.45"/>
<rect x="1030.06" y="320.5" width="1.37" height="1.37" fill="#5f9ea0" fill-opacity="0.72"/>
<rect x="1044.85" y="318.91" width="0.86" height="0.86" fill="#5f9ea0" fill-opacity="0.52"/>
<rect x="1038.14" y="335.11" width="1.09" height="1.09" fill="#5f9ea0" fill-opacity="0.35"/>
<rect x="1040.92" y="326.45" width="0.96" height="0.96" fill="#5f9ea0" fill-opacity="0.58"/>
<rect x="1052.85" y="332.46" width="1.42" height="1.42" fill="#5f9ea0" fill-opacity="0.39"/>
<rect x="1037.64" y="320.4" width="1.09" height="1.09" fill="#5f9ea0" fill-opacity="0.41"/>
<rect x="1040.26" y="336.47" width="1.05" height="1.05" fill="#5f9ea0" fill-opacity="0.49"/>
<rect x="1046.42" y="327.62" width="1.19" height="1.19" fill="#5f9ea0" fill-opacity="0.63"/>
<rect x="1041.82" y="315.6" width="0.71" height="0.71" fill="#5f9ea0" fill-opacity="0.45"/>
<rect x="1053.5" y="331.89" width="0.8" height="0.8" fill="#5f9ea0" fill-opacity="0.38"/>
<rect x="1041.75" y="330.09" width="0.78" height="0.78" fill="#5f9ea0" fill-opacity="0.55"/>
<rect x="1035.52" y="321.41" width="1.24" height="1.24" fill="#5f9ea0" fill-opacity="0.71"/>
<rect x="1046.1" y="317.17" width="1.44" height="1.44" fill="#5f9ea0" fill-opacity="0.62"/>
<rect x="1042.86" y="317.39" width="1" height="1" fill="#5f9ea0" fill-opacity="0.73"/>
<rect x="1036.67" y="318.63" width="0.87" height="0.87" fill="#5f9ea0" fill-opacity="0.57"/>
<rect x="1047.92" y="322.61" width="1.03" height="1.03" fill="#5f9ea0" fill-opacity="0.49"/>
<rect x="1047.2" y="326.66" width="0.95" height="0.95" fill="#5f9ea0" fill-opacity="0.44"/>
<rect x="1022.74" y="325.77" width="1.02" height="1.02" fill="#5f9ea0" fill-opacity="0.66"/>
<rect x="1056.56" y="331.24" width="1.15" height="1.15" fill="#5f9ea0" fill-opacity="0.5"/>
<rect x="1038.16" y="327.63" width="0.89" height="0.89" fill="#5f9ea0" fill-opacity="0.39"/>
<rect x="1056.64" y="322.3" width="1.35" height="1.35" fill="#5f9ea0" fill-opacity="0.46"/>
<rect x="1059.76" y="322.54" width="1.49" height="1.49" fill="#5f9ea0" fill-opacity="0.57"/>
<rect x="1041.06" y="331.82" width="0.98" height="0.98" fill="#5f9ea0" fill-opacity="0.45"/>
<rect x="1025.39" y="317.92" width="0.95" height="0.95" fill="#5f9ea0" fill-opacity="0.46"/>
<rect x="1030.18" y="324.56" width="1.47" height="1.47" fill="#5f9ea0" fill-opacity="0.49"/>
<rect x="1021.65" y="324.07" width="1.4" height="1.4" fill="#5f9ea0" fill-opacity="0.4"/>
<rect x="1071.95" y="336.55" width="0.73" height="0.73" fill="#5f9ea0" fill-opacity="0.38"/>
<rect x="1076.21" y="336.83" width="0.75" height="0.75" fill="#5f9ea0" fill-opacity="0.6"/>
<rect x="1076.74" y="343.95" width="1.17" height="1.17" fill="#5f9ea0" fill-opacity="0.51"/>
<rect x="1090.58" y="338.72" width="0.75" height="0.75" fill="#5f9ea0" fill-opacity="0.58"/>
<rect x="1066.71" y="341.01" width="0.96" height="0.96" fill="#5f9ea0" fill-opacity="0.63"/>
<rect x="1070.97" y="338.1" width="0.92" height="0.92" fill="#5f9ea0" fill-opacity="0.49"/>
<rect x="1087.33" y="338.75" width="1.35" height="1.35" fill="#5f9ea0" fill-opacity="0.53"/>
<rect x="1078.13" y="322.93" width="0.8" height="0.8" fill="#5f9ea0" fill-opacity="0.72"/>
<rect x="1076.3" y="334.09" width="1.46" height="1.46" fill="#5f9ea0" fill-opacity="0.6"/>
<rect x="1081.41" y="335.54" width="1" height="1" fill="#5f9ea0" fill-opacity="0.64"/>
<rect x="1083.96" y="340.72" width="1.33" height="1.33" fill="#5f9ea0" fill-opacity="0.71"/>
<rect x="1078.66" y="338.4" width="0.71" height="0.71" fill="#5f9ea0" fill-opacity="0.42"/>
<rect x="1078.49" y="335.14" width="1.34" height="1.34" fill="#5f9ea0" fill-opacity="0.54"/>
<rect x="1080.23" y="348.43" width="1.46" height="1.46" fill="#5f9ea0" fill-opacity="0.71"/>
<rect x="1079.93" y="340.5" width="1.04" height="1.04" fill="#5f9ea0" fill-opacity="0.7"/>
<rect x="1081.32" y="348.44" width="1" height="1" fill="#5f9ea0" fill-opacity="0.62"/>
<rect x="1086.14" y="342.3" width="1.06" height="1.06" fill="#5f9ea0" fill-opacity="0.43"/>
<rect x="1074.53" y="336.02" width="0.84" height="0.84" fill="#5f9ea0" fill-opacity="0.46"/>
<rect x="1081.07" y="329.7" width="0.77" height="0.77" fill="#5f9ea0" fill-opacity="0.36"/>
<rect x="1069.5" y="338.21" width="0.9" height="0.9" fill="#5f9ea0" fill-opacity="0.69"/>
<rect x="1088.84" y="338.22" width="1" height="1" fill="#5f9ea0" fill-opacity="0.65"/>
<rect x="1090.66" y="344.32" width="1.18" height="1.18" fill="#5f9ea0" fill-opacity="0.36"/>
<rect x="1069.51" y="347.75" width="0.73" height="0.73" fill="#5f9ea0" fill-opacity="0.59"/>
<rect x="1068.6" y="329.84" width="0.81" height="0.81" fill="#5f9ea0" fill-opacity="0.5"/>
<rect x="1067.81" y="342.47" width="1.26" height="1.26" fill="#5f9ea0" fill-opacity="0.57"/>
<rect x="1067.54" y="334.72" width="0.86" height="0.86" fill="#5f9ea0" fill-opacity="0.43"/>
<rect x="1076.57" y="335.26" width="1.01" height="1.01" fill="#5f9ea0" fill-opacity="0.44"/>
<rect x="1085.21" y="336.37" width="1.47" height="1.47" fill="#5f9ea0" fill-opacity="0.45"/>
<rect x="1071.19" y="338.4" width="1.04" height="1.04" fill="#5f9ea0" fill-opacity="0.5"/>
<rect x="1069.6" y="334.55" width="1.32" height="1.32" fill="#5f9ea0" fill-opacity="0.35"/>
<rect x="1090.21" y="346.59" width="1.02" height="1.02" fill="#5f9ea0" fill-opacity="0.42"/>
<rect x="1074.95" y="332.93" width="0.97" height="0.97" fill="#5f9ea0" fill-opacity="0.54"/>
<rect x="1083.5" y="336.39" width="1.33" height="1.33" fill="#5f9ea0" fill-opacity="0.5"/>
<rect x="1077.93" y="333.6" width="0.93" height="0.93" fill="#5f9ea0" fill-opacity="0.54"/>
<rect x="1066.47" y="349.39" width="1.27" height="1.27" fill="#5f9ea0" fill-opacity="0.37"/>
<rect x="1100.42" y="350.57" width="0.81" height="0.81" fill="#5f9ea0" fill-opacity="0.42"/>
<rect x="1073.43" y="342.05" width="0.83" height="0.83" fill="#5f9ea0" fill-opacity="0.59"/>
<rect x="1071.66" y="345.66" width="0.72" height="0.72" fill="#5f9ea0" fill-opacity="0.46"/>
<rect x="1084.65" y="341.44" width="1.26" height="1.26" fill="#5f9ea0" fill-opacity="0.66"/>
<rect x="1077.79" y="326.08" width="1.06" height="1.06" fill="#5f9ea0" fill-opacity="0.72"/>
<rect x="1073.52" y="329.44" width="1.01" height="1.01" fill="#5f9ea0" fill-opacity="0.43"/>
<rect x="1078.39" y="338.95" width="1.34" height="1.34" fill="#5f9ea0" fill-opacity="0.51"/>
<rect x="1084.92" y="346.98" width="1.23" height="1.23" fill="#5f9ea0" fill-opacity="0.39"/>
<rect x="1075.07" y="339.06" width="1.03" height="1.03" fill="#5f9ea0" fill-opacity="0.6"/>
<rect x="1082.58" y="339.46" width="1.08" height="1.08" fill="#5f9ea0" fill-opacity="0.72"/>
<rect x="1086.97" y="335.38" width="1.39" height="1.39" fill="#5f9ea0" fill-opacity="0.41"/>
<rect x="1067.21" y="342.28" width="0.92" height="0.92" fill="#5f9ea0" fill-opacity="0.47"/>
<rect x="1067.91" y="349.62" width="1.03" height="1.03" fill="#5f9ea0" fill-opacity="0.61"/>
<rect x="1067.61" y="338" width="1.15" height="1.15" fill="#5f9ea0" fill-opacity="0.37"/>
<rect x="1085.09" y="335.48" width="1.38" height="1.38" fill="#5f9ea0" fill-opacity="0.54"/>
<rect x="1095.84" y="342.13" width="1.46" height="1.46" fill="#5f9ea0" fill-opacity="0.59"/>
<rect x="1072.31" y="348.74" width="0.91" height="0.91" fill="#5f9ea0" fill-opacity="0.74"/>
<rect x="1071" y="355.06" width="0.72" height="0.72" fill="#5f9ea0" fill-opacity="0.71"/>
<rect x="1082.13" y="336.77" width="0.85" height="0.85" fill="#5f9ea0" fill-opacity="0.71"/>
<rect x="1039.31" y="335.02" width="1" height="1" fill="#5f9ea0" fill-opacity="0.68"/>
<rect x="1033.44" y="336.75" width="1.3" height="1.3" fill="#5f9ea0" fill-opacity="0.45"/>
<rect x="1032.2" y="339.71" width="1.03" height="1.03" fill="#5f9ea0" fill-opacity="0.64"/>
<rect x="1027.61" y="344.55" width="0.99" height="0.99" fill="#5f9ea0" fill-opacity="0.4"/>
<rect x="1037.39" y="337.01" width="0.83" height="0.83" fill="#5f9ea0" fill-opacity="0.64"/>
<rect x="1028.84" y="333.8" width="1.05" height="1.05" fill="#5f9ea0" fill-opacity="0.6"/>
<rect x="1040.86" y="337.65" width="1.33" height="1.33" fill="#5f9ea0" fill-opacity="0.66"/>
<rect x="1038.04" y="337.71" width="0.76" height="0.76" fill="#5f9ea0" fill-opacity="0.5"/>
<rect x="1033.89" y="337.83" width="1.26" height="1.26" fill="#5f9ea0" fill-opacity="0.69"/>
<rect x="1023.93" y="341.13" width="0.79" height="0.79" fill="#5f9ea0" fill-opacity="0.72"/>
<rect x="1039.31" y="339.04" width="0.8" height="0.8" fill="#5f9ea0" fill-opacity="0.52"/>
<rect x="1026.03" y="343.46" width="0.96" height="0.96" fill="#5f9ea0" fill-opacity="0.61"/>
<rect x="1025.4" y="339.41" width="1.08" height="1.08" fill="#5f9ea0" fill-opacity="0.44"/>
<rect x="1030.46" y="343.92" width="1.12" height="1.12" fill="#5f9ea0" fill-opacity="0.4"/>
<rect x="1030.12" y="336.62" width="1.14" height="1.14" fill="#5f9ea0" fill-opacity="0.47"/>
<rect x="1034.55" y="333.09" width="0.84" height="0.84" fill="#5f9ea0" fill-opacity="0.45"/>
<rect x="1038.05" y="341.9" width="1.04" height="1.04" fill="#5f9ea0" fill-opacity="0.6"/>
<rect x="1033.22" y="335.13" width="0.87" height="0.87" fill="#5f9ea0" fill-opacity="0.64"/>
<rect x="1046.31" y="337.91" width="0.71" height="0.71" fill="#5f9ea0" fill-opacity="0.5"/>
<rect x="1031.4" y="338.84" width="1.12" height="1.12" fill="#5f9ea0" fill-opacity="0.64"/>
<rect x="1026.73" y="335.05" width="1.17" height="1.17" fill="#5f9ea0" fill-opacity="0.53"/>
<rect x="1031.61" y="341.82" width="1.4" height="1.4" fill="#5f9ea0" fill-opacity="0.69"/>
<rect x="1045" y="338.31" width="0.82" height="0.82" fill="#5f9ea0" fill-opacity="0.47"/>
<rect x="1038.61" y="336.75" width="0.74" height="0.74" fill="#5f9ea0" fill-opacity="0.71"/>
<rect x="1040.69" y="338.18" width="1.24" height="1.24" fill="#5f9ea0" fill-opacity="0.59"/>
<rect x="1033.53" y="341.91" width="0.95" height="0.95" fill="#5f9ea0" fill-opacity="0.53"/>
<rect x="1026.51" y="341.94" width="1.5" height="1.5" fill="#5f9ea0" fill-opacity="0.42"/>
<rect x="1085.39" y="357.23" width="1.34" height="1.34" fill="#5f9ea0" fill-opacity="0.41"/>
<rect x="1088.96" y="358.27" width="1.06" height="1.06" fill="#5f9ea0" fill-opacity="0.46"/>
<rect x="1085.65" y="362.39" width="0.99" height="0.99" fill="#5f9ea0" fill-opacity="0.55"/>
<rect x="1085.01" y="358.01" width="1.48" height="1.48" fill="#5f9ea0" fill-opacity="0.6"/>
<rect x="1083.1" y="357.24" width="1.28" height="1.28" fill="#5f9ea0" fill-opacity="0.41"/>
<rect x="1084.39" y="355.33" width="0.76" height="0.76" fill="#5f9ea0" fill-opacity="0.54"/>
<rect x="1087.4" y="357.93" width="0.81" height="0.81" fill="#5f9ea0" fill-opacity="0.54"/>
<rect x="1085.87" y="359.49" width="0.95" height="0.95" fill="#5f9ea0" fill-opacity="0.71"/>
<rect x="1084.61" y="361.17" width="1.06" height="1.06" fill="#5f9ea0" fill-opacity="0.36"/>
<rect x="1083.53" y="360.32" width="1.32" height="1.32" fill="#5f9ea0" fill-opacity="0.46"/>
<rect x="1088.55" y="362" width="0.94" height="0.94" fill="#5f9ea0" fill-opacity="0.63"/>
<rect x="1089.81" y="360.42" width="1.02" height="1.02" fill="#5f9ea0" fill-opacity="0.48"/>
<rect x="1089.44" y="358.88" width="1.06" height="1.06" fill="#5f9ea0" fill-opacity="0.48"/>
<rect x="1083.93" y="358.06" width="1.45" height="1.45" fill="#5f9ea0" fill-opacity="0.51"/>
<rect x="1085.87" y="356.35" width="0.81" height="0.81" fill="#5f9ea0" fill-opacity="0.45"/>
<rect x="1090.97" y="360.77" width="0.86" height="0.86" fill="#5f9ea0" fill-opacity="0.52"/>
<rect x="1078.67" y="360.84" width="0.83" height="0.83" fill="#5f9ea0" fill-opacity="0.44"/>
<rect x="1084.78" y="356.13" width="1.46" height="1.46" fill="#5f9ea0" fill-opacity="0.68"/>
<path d="M981.23 296.08 C982.16 295.34 984.21 292.74 986.81 291.62 C989.41 290.51 993.31 289.67 996.85 289.39 C1000.38 289.11 1004.66 289.11 1008 289.95 C1011.35 290.78 1014.42 292.18 1016.93 294.41 C1019.44 296.64 1021.39 300.17 1023.06 303.33 C1024.73 306.49 1026.5 310.21 1026.96 313.37 C1027.43 316.53 1026.96 319.88 1025.85 322.3 C1024.73 324.71 1021.67 326.01 1020.27 327.87 C1018.88 329.73 1017.3 331.78 1017.48 333.45 C1017.67 335.12 1019.81 336.24 1021.39 337.91 C1022.97 339.59 1023.99 342.75 1026.96 343.49 C1029.94 344.23 1035.33 341.44 1039.23 342.37 C1043.14 343.3 1047.04 346.65 1050.39 349.07 C1053.74 351.48 1056.9 354.37 1059.31 356.87 C1061.73 359.38 1063.96 362.92 1064.89 364.13" stroke="#5f9ea0" stroke-width="1.3" fill="none" stroke-linejoin="round"/>
<path d="M981.23 310.03 C982.35 311.33 985.32 315.51 987.92 317.83 C990.53 320.16 993.69 321.92 996.85 323.97 C1000.01 326.01 1005.4 328.34 1006.89 330.1 C1008.37 331.87 1007.07 332.89 1005.77 334.57 C1004.47 336.24 1000.94 337.54 999.08 340.14 C997.22 342.75 995.17 347.21 994.62 350.18 C994.06 353.16 994.24 355.76 995.73 357.99 C997.22 360.22 1002.24 362.64 1003.54 363.57" stroke="#5f9ea0" stroke-width="1.3" fill="none" stroke-linejoin="round"/>
<path d="M981.23 299.99 C981.97 299.06 983.28 295.9 985.69 294.41 C988.11 292.92 992.01 291.44 995.73 291.06 C999.45 290.69 1004.66 291.25 1008 292.18 C1011.35 293.11 1013.58 294.41 1015.81 296.64 C1018.04 298.87 1020.27 302.22 1021.39 305.56 C1022.5 308.91 1022.87 313.56 1022.5 316.72 C1022.13 319.88 1020.83 322.67 1019.16 324.53 C1017.48 326.39 1014.69 327.59 1012.46 327.87 C1010.23 328.15 1008.37 327.32 1005.77 326.2 C1003.17 325.08 999.82 322.95 996.85 321.18 C993.87 319.41 990.53 317.09 987.92 315.6 C985.32 314.12 982.35 312.81 981.23 312.26" stroke="#5f9ea0" stroke-width="1.3" fill="none" stroke-linejoin="round"/>
<path d="M986.81 304.45 C987.18 302.4 988.48 299.24 990.15 297.76 C991.83 296.27 993.87 295.71 996.85 295.53 C999.82 295.34 1005.03 295.53 1008 296.64 C1010.98 297.76 1013.21 299.99 1014.69 302.22 C1016.18 304.45 1016.93 307.42 1016.93 310.03 C1016.93 312.63 1016 316.16 1014.69 317.83 C1013.39 319.51 1011.35 319.88 1009.12 320.07 C1006.89 320.25 1003.91 319.88 1001.31 318.95 C998.71 318.02 995.73 315.98 993.5 314.49 C991.27 313 989.04 311.7 987.92 310.03 C986.81 308.35 986.44 306.49 986.81 304.45Z" stroke="#5f9ea0" stroke-width="1.3" fill="none" stroke-linejoin="round"/>
<path d="M997.96 345.72 C998.89 343.12 1002.24 340.42 1004.66 339.03 C1007.07 337.63 1010.05 336.98 1012.46 337.35 C1014.88 337.73 1017.58 339.49 1019.16 341.26 C1020.74 343.02 1021.94 345.53 1021.94 347.95 C1021.94 350.37 1020.92 353.9 1019.16 355.76 C1017.39 357.62 1014.14 358.64 1011.35 359.11 C1008.56 359.57 1004.47 359.29 1002.42 358.55 C1000.38 357.8 999.82 356.78 999.08 354.64 C998.33 352.51 997.03 348.32 997.96 345.72Z" stroke="#5f9ea0" stroke-width="1.3" fill="none" stroke-linejoin="round"/>
<path d="M1040.35 315.6 C1040.16 312.07 1043.14 303.52 1044.81 299.99 C1046.48 296.45 1048.16 295.62 1050.39 294.41 C1052.62 293.2 1055.97 292.74 1058.2 292.74 C1060.43 292.74 1062.29 292.83 1063.77 294.41 C1065.26 295.99 1066.38 299.8 1067.12 302.22 C1067.86 304.63 1067.12 306.87 1068.24 308.91 C1069.35 310.96 1071.21 312.81 1073.81 314.49 C1076.42 316.16 1082.55 317.46 1083.85 318.95 C1085.15 320.44 1084.22 322.02 1081.62 323.41 C1079.02 324.81 1072.33 326.94 1068.24 327.32 C1064.15 327.69 1060.8 326.66 1057.08 325.64 C1053.36 324.62 1048.72 322.85 1045.93 321.18 C1043.14 319.51 1040.54 319.14 1040.35 315.6Z" stroke="#5f9ea0" stroke-width="1.3" fill="none" stroke-linejoin="round"/>
<path d="M1052.62 262.06 C1053.74 262.99 1056.9 265.41 1059.31 267.64 C1061.73 269.87 1064.7 272.66 1067.12 275.45 C1069.54 278.24 1071.4 281.95 1073.81 284.37 C1076.23 286.79 1079.02 288.83 1081.62 289.95 C1084.22 291.06 1088.13 290.88 1089.43 291.06" stroke="#5f9ea0" stroke-width="1.3" fill="none" stroke-linejoin="round"/>
<path d="M1060.43 259.83 C1060.99 260.95 1061.92 263.92 1063.77 266.52 C1065.63 269.13 1069.35 272.47 1071.58 275.45 C1073.81 278.42 1075.11 282.23 1077.16 284.37 C1079.2 286.51 1081.81 287.53 1083.85 288.27 C1085.9 289.02 1088.5 288.74 1089.43 288.83" stroke="#5f9ea0" stroke-width="1.3" fill="none" stroke-linejoin="round"/>
<path d="M1068.24 259.83 C1068.42 260.57 1068.61 263.27 1069.35 264.29 C1070.09 265.32 1071.4 266.15 1072.7 265.97 C1074 265.78 1076.32 264.2 1077.16 263.18 C1078 262.15 1077.62 260.39 1077.72 259.83" stroke="#5f9ea0" stroke-width="1.3" fill="none" stroke-linejoin="round"/>
<path d="M1086.08 277.68 L1089.43 277.68" stroke="#5f9ea0" stroke-width="1.3" fill="none" stroke-linejoin="round"/>
<line x1="1000.7" y1="259.9" x2="1000.7" y2="364.4" stroke="#000" stroke-width="1.3" />
<line x1="980.9" y1="317.18" x2="1089.5" y2="317.18" stroke="#000" stroke-width="1.3" />
</g>
<rect x="997.8" y="314.28" width="5.8" height="5.8" stroke="none" stroke-width="0" fill="#000" />
<line x1="888" y1="144.5" x2="888" y2="149.5" stroke="#111" stroke-width="1" />
<line x1="909.84" y1="144.5" x2="909.84" y2="149.5" stroke="#111" stroke-width="1" />
<line x1="931.68" y1="144.5" x2="931.68" y2="149.5" stroke="#111" stroke-width="1" />
<line x1="953.52" y1="144.5" x2="953.52" y2="149.5" stroke="#111" stroke-width="1" />
<rect x="866.4" y="39.8" width="109" height="104.7" stroke="#111" stroke-width="1.45" fill="none" />
<line x1="888" y1="254.1" x2="888" y2="259.1" stroke="#111" stroke-width="1" />
<line x1="909.84" y1="254.1" x2="909.84" y2="259.1" stroke="#111" stroke-width="1" />
<line x1="931.68" y1="254.1" x2="931.68" y2="259.1" stroke="#111" stroke-width="1" />
<line x1="953.52" y1="254.1" x2="953.52" y2="259.1" stroke="#111" stroke-width="1" />
<line x1="861.4" y1="235.2" x2="866.4" y2="235.2" stroke="#111" stroke-width="1" />
<line x1="861.4" y1="213.8" x2="866.4" y2="213.8" stroke="#111" stroke-width="1" />
<line x1="861.4" y1="192.4" x2="866.4" y2="192.4" stroke="#111" stroke-width="1" />
<line x1="861.4" y1="171" x2="866.4" y2="171" stroke="#111" stroke-width="1" />
<rect x="866.4" y="149.9" width="109" height="104.2" stroke="#111" stroke-width="1.45" fill="none" />
<line x1="1000.7" y1="254.1" x2="1000.7" y2="259.1" stroke="#111" stroke-width="1" />
<line x1="1023.2" y1="254.1" x2="1023.2" y2="259.1" stroke="#111" stroke-width="1" />
<line x1="1045.7" y1="254.1" x2="1045.7" y2="259.1" stroke="#111" stroke-width="1" />
<line x1="1068.2" y1="254.1" x2="1068.2" y2="259.1" stroke="#111" stroke-width="1" />
<rect x="980.9" y="149.9" width="108.6" height="104.2" stroke="#111" stroke-width="1.45" fill="none" />
<line x1="888" y1="364.4" x2="888" y2="369.4" stroke="#111" stroke-width="1" />
<line x1="909.84" y1="364.4" x2="909.84" y2="369.4" stroke="#111" stroke-width="1" />
<line x1="931.68" y1="364.4" x2="931.68" y2="369.4" stroke="#111" stroke-width="1" />
<line x1="953.52" y1="364.4" x2="953.52" y2="369.4" stroke="#111" stroke-width="1" />
<line x1="861.4" y1="337.9" x2="866.4" y2="337.9" stroke="#111" stroke-width="1" />
<line x1="861.4" y1="312" x2="866.4" y2="312" stroke="#111" stroke-width="1" />
<line x1="861.4" y1="286.1" x2="866.4" y2="286.1" stroke="#111" stroke-width="1" />
<rect x="866.4" y="259.9" width="109" height="104.5" stroke="#111" stroke-width="1.45" fill="none" />
<line x1="1000.7" y1="364.4" x2="1000.7" y2="369.4" stroke="#111" stroke-width="1" />
<line x1="1023.2" y1="364.4" x2="1023.2" y2="369.4" stroke="#111" stroke-width="1" />
<line x1="1045.7" y1="364.4" x2="1045.7" y2="369.4" stroke="#111" stroke-width="1" />
<line x1="1068.2" y1="364.4" x2="1068.2" y2="369.4" stroke="#111" stroke-width="1" />
<line x1="975.9" y1="337.9" x2="980.9" y2="337.9" stroke="#111" stroke-width="1" />
<line x1="975.9" y1="312" x2="980.9" y2="312" stroke="#111" stroke-width="1" />
<line x1="975.9" y1="286.1" x2="980.9" y2="286.1" stroke="#111" stroke-width="1" />
<rect x="980.9" y="259.9" width="108.6" height="104.5" stroke="#111" stroke-width="1.45" fill="none" />
<line x1="1122.36" y1="364.4" x2="1122.36" y2="369.4" stroke="#111" stroke-width="1" />
<line x1="1149.5" y1="364.4" x2="1149.5" y2="369.4" stroke="#111" stroke-width="1" />
<line x1="1176.64" y1="364.4" x2="1176.64" y2="369.4" stroke="#111" stroke-width="1" />
<rect x="1095.2" y="259.9" width="108.8" height="104.5" stroke="#111" stroke-width="1.45" fill="none" />
<text x="887.2" y="389.55" text-anchor="middle" fill="#000" stroke="#000" stroke-width="0.1" font-family="Liberation Sans" textLength="22.11" lengthAdjust="spacingAndGlyphs" transform="rotate(-45 887.2 384.35)"><tspan font-size="14.46" dy="0">0.8</tspan></text>
<text x="909.04" y="389.55" text-anchor="middle" fill="#000" stroke="#000" stroke-width="0.1" font-family="Liberation Sans" textLength="22.11" lengthAdjust="spacingAndGlyphs" transform="rotate(-45 909.04 384.35)"><tspan font-size="14.46" dy="0">1.6</tspan></text>
<text x="930.88" y="389.55" text-anchor="middle" fill="#000" stroke="#000" stroke-width="0.1" font-family="Liberation Sans" textLength="22.11" lengthAdjust="spacingAndGlyphs" transform="rotate(-45 930.88 384.35)"><tspan font-size="14.46" dy="0">2.4</tspan></text>
<text x="952.72" y="389.55" text-anchor="middle" fill="#000" stroke="#000" stroke-width="0.1" font-family="Liberation Sans" textLength="22.11" lengthAdjust="spacingAndGlyphs" transform="rotate(-45 952.72 384.35)"><tspan font-size="14.46" dy="0">3.2</tspan></text>
<text x="999.9" y="387.99" text-anchor="middle" fill="#000" stroke="#000" stroke-width="0.1" font-family="Liberation Sans" textLength="17.69" lengthAdjust="spacingAndGlyphs" transform="rotate(-45 999.9 382.79)"><tspan font-size="14.46" dy="0">40</tspan></text>
<text x="1022.4" y="387.99" text-anchor="middle" fill="#000" stroke="#000" stroke-width="0.1" font-family="Liberation Sans" textLength="17.69" lengthAdjust="spacingAndGlyphs" transform="rotate(-45 1022.4 382.79)"><tspan font-size="14.46" dy="0">80</tspan></text>
<text x="1044.9" y="391.12" text-anchor="middle" fill="#000" stroke="#000" stroke-width="0.1" font-family="Liberation Sans" textLength="26.53" lengthAdjust="spacingAndGlyphs" transform="rotate(-45 1044.9 385.92)"><tspan font-size="14.46" dy="0">120</tspan></text>
<text x="1067.4" y="391.12" text-anchor="middle" fill="#000" stroke="#000" stroke-width="0.1" font-family="Liberation Sans" textLength="26.53" lengthAdjust="spacingAndGlyphs" transform="rotate(-45 1067.4 385.92)"><tspan font-size="14.46" dy="0">160</tspan></text>
<text x="1121.56" y="388.98" text-anchor="middle" fill="#000" stroke="#000" stroke-width="0.1" font-family="Liberation Sans" textLength="20.48" lengthAdjust="spacingAndGlyphs" transform="rotate(-45 1121.56 383.78)"><tspan font-size="14.46" dy="0">−2</tspan></text>
<text x="1148.7" y="384.86" text-anchor="middle" fill="#000" stroke="#000" stroke-width="0.1" font-family="Liberation Sans" textLength="8.84" lengthAdjust="spacingAndGlyphs" transform="rotate(-45 1148.7 379.66)"><tspan font-size="14.46" dy="0">0</tspan></text>
<text x="1175.84" y="384.86" text-anchor="middle" fill="#000" stroke="#000" stroke-width="0.1" font-family="Liberation Sans" textLength="8.84" lengthAdjust="spacingAndGlyphs" transform="rotate(-45 1175.84 379.66)"><tspan font-size="14.46" dy="0">2</tspan></text>
<text x="847.71" y="245.95" text-anchor="middle" fill="#000" stroke="#000" stroke-width="0.1" font-family="Liberation Sans" textLength="17.69" lengthAdjust="spacingAndGlyphs" transform="rotate(-45 847.71 240.75)"><tspan font-size="14.46" dy="0">40</tspan></text>
<text x="847.71" y="224.55" text-anchor="middle" fill="#000" stroke="#000" stroke-width="0.1" font-family="Liberation Sans" textLength="17.69" lengthAdjust="spacingAndGlyphs" transform="rotate(-45 847.71 219.35)"><tspan font-size="14.46" dy="0">80</tspan></text>
<text x="844.58" y="206.28" text-anchor="middle" fill="#000" stroke="#000" stroke-width="0.1" font-family="Liberation Sans" textLength="26.53" lengthAdjust="spacingAndGlyphs" transform="rotate(-45 844.58 201.08)"><tspan font-size="14.46" dy="0">120</tspan></text>
<text x="844.58" y="184.88" text-anchor="middle" fill="#000" stroke="#000" stroke-width="0.1" font-family="Liberation Sans" textLength="26.53" lengthAdjust="spacingAndGlyphs" transform="rotate(-45 844.58 179.68)"><tspan font-size="14.46" dy="0">160</tspan></text>
<text x="846.72" y="349.64" text-anchor="middle" fill="#000" stroke="#000" stroke-width="0.1" font-family="Liberation Sans" textLength="20.48" lengthAdjust="spacingAndGlyphs" transform="rotate(-45 846.72 344.44)"><tspan font-size="14.46" dy="0">−2</tspan></text>
<text x="850.84" y="319.63" text-anchor="middle" fill="#000" stroke="#000" stroke-width="0.1" font-family="Liberation Sans" textLength="8.84" lengthAdjust="spacingAndGlyphs" transform="rotate(-45 850.84 314.43)"><tspan font-size="14.46" dy="0">0</tspan></text>
<text x="850.84" y="293.73" text-anchor="middle" fill="#000" stroke="#000" stroke-width="0.1" font-family="Liberation Sans" textLength="8.84" lengthAdjust="spacingAndGlyphs" transform="rotate(-45 850.84 288.53)"><tspan font-size="14.46" dy="0">2</tspan></text>
<text x="920.8" y="413.5" text-anchor="middle" fill="#000" stroke="#000" stroke-width="0.1" font-family="Liberation Sans" textLength="10.06" lengthAdjust="spacingAndGlyphs"><tspan font-size="16.52" font-style="italic" dy="0">σ</tspan></text>
<text x="1035" y="413.5" text-anchor="middle" fill="#000" stroke="#000" stroke-width="0.1" font-family="Liberation Sans" textLength="15.94" lengthAdjust="spacingAndGlyphs"><tspan font-size="16.52" font-style="italic" dy="0">δt</tspan></text>
<text x="1149" y="413.5" text-anchor="middle" fill="#000" stroke="#000" stroke-width="0.1" font-family="Liberation Sans" textLength="10.47" lengthAdjust="spacingAndGlyphs"><tspan font-size="16.52" font-style="italic" dy="0">α</tspan></text>
<text x="822" y="202" text-anchor="middle" fill="#000" stroke="#000" stroke-width="0.1" font-family="Liberation Sans" textLength="15.94" lengthAdjust="spacingAndGlyphs" transform="rotate(-90 822 202)"><tspan font-size="16.52" font-style="italic" dy="0">δt</tspan></text>
<text x="824" y="312" text-anchor="middle" fill="#000" stroke="#000" stroke-width="0.1" font-family="Liberation Sans" textLength="10.47" lengthAdjust="spacingAndGlyphs" transform="rotate(-90 824 312)"><tspan font-size="16.52" font-style="italic" dy="0">α</tspan></text>
<text x="870.3" y="34.8" text-anchor="start" fill="#000" stroke="#000" stroke-width="0.1" font-family="Liberation Sans" textLength="66.65" lengthAdjust="spacingAndGlyphs"><tspan font-size="16.52" font-style="italic" dy="0">σ</tspan><tspan font-size="16.52" dy="0"> = 1.54</tspan></text>
<text x="937.25" y="28" text-anchor="start" fill="#000" stroke="#000" stroke-width="0.1" font-family="Liberation Sans" textLength="31.36" lengthAdjust="spacingAndGlyphs"><tspan font-size="11.44" dy="0">+1.63</tspan></text>
<text x="937.25" y="38.7" text-anchor="start" fill="#000" stroke="#000" stroke-width="0.1" font-family="Liberation Sans" textLength="31.36" lengthAdjust="spacingAndGlyphs"><tspan font-size="11.44" dy="0">−1.04</tspan></text>
<text x="971.8" y="144.6" text-anchor="start" fill="#000" stroke="#000" stroke-width="0.1" font-family="Liberation Sans" textLength="82.12" lengthAdjust="spacingAndGlyphs"><tspan font-size="16.52" font-style="italic" dy="0">δt</tspan><tspan font-size="16.52" dy="0"> = 58.02</tspan></text>
<text x="1054.22" y="137.8" text-anchor="start" fill="#000" stroke="#000" stroke-width="0.1" font-family="Liberation Sans" textLength="44.38" lengthAdjust="spacingAndGlyphs"><tspan font-size="11.44" dy="0">+105.05</tspan></text>
<text x="1054.22" y="148.5" text-anchor="start" fill="#000" stroke="#000" stroke-width="0.1" font-family="Liberation Sans" textLength="37.87" lengthAdjust="spacingAndGlyphs"><tspan font-size="11.44" dy="0">−21.94</tspan></text>
<text x="1100.8" y="254.3" text-anchor="start" fill="#000" stroke="#000" stroke-width="0.1" font-family="Liberation Sans" textLength="67.04" lengthAdjust="spacingAndGlyphs"><tspan font-size="16.52" font-style="italic" dy="0">α</tspan><tspan font-size="16.52" dy="0"> = 0.27</tspan></text>
<text x="1168.14" y="247.5" text-anchor="start" fill="#000" stroke="#000" stroke-width="0.1" font-family="Liberation Sans" textLength="31.36" lengthAdjust="spacingAndGlyphs"><tspan font-size="11.44" dy="0">+2.21</tspan></text>
<text x="1168.14" y="258.2" text-anchor="start" fill="#000" stroke="#000" stroke-width="0.1" font-family="Liberation Sans" textLength="31.36" lengthAdjust="spacingAndGlyphs"><tspan font-size="11.44" dy="0">−2.73</tspan></text>
<text x="602.9" y="456.6" font-size="23" text-anchor="middle" font-family="Liberation Serif">(b)</text>
</g>
</svg>
</body></html>
